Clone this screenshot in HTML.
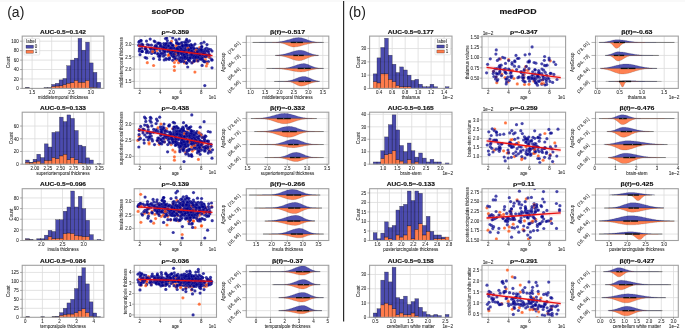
<!DOCTYPE html>
<html><head><meta charset="utf-8"><style>
html,body{margin:0;padding:0;background:#fff;width:685px;height:335px;overflow:hidden}
svg{display:block;font-family:"Liberation Sans",sans-serif;will-change:transform}
.b{r:1.6px;fill:#00008b;fill-opacity:.8;stroke:#fff;stroke-width:.25px;stroke-opacity:.3}
.c{r:1.6px;fill:#00008b;fill-opacity:.72;stroke:#fff;stroke-width:.25px;stroke-opacity:.3}
.o{r:1.6px;fill:#ff4500;fill-opacity:.75;stroke:#fff;stroke-width:.28px;stroke-opacity:.6}
</style></head><body>
<svg width="685" height="335" viewBox="0 0 685 335" font-family="Liberation Sans, sans-serif"><rect x="0" y="0" width="685" height="335" fill="#fff"/>
<line x1="0" y1="1.0" x2="685" y2="1.0" stroke="#f3f3f3" stroke-width="1"/>
<rect x="22.2" y="36.1" width="81.7" height="52.3" fill="#fff"/>
<line x1="32.1" y1="36.1" x2="32.1" y2="88.4" stroke="#dcdcdc" stroke-width="0.8"/>
<line x1="51.7" y1="36.1" x2="51.7" y2="88.4" stroke="#dcdcdc" stroke-width="0.8"/>
<line x1="71.3" y1="36.1" x2="71.3" y2="88.4" stroke="#dcdcdc" stroke-width="0.8"/>
<line x1="90.9" y1="36.1" x2="90.9" y2="88.4" stroke="#dcdcdc" stroke-width="0.8"/>
<line x1="22.2" y1="78.96" x2="103.9" y2="78.96" stroke="#dcdcdc" stroke-width="0.8"/>
<line x1="22.2" y1="69.52" x2="103.9" y2="69.52" stroke="#dcdcdc" stroke-width="0.8"/>
<line x1="22.2" y1="60.08" x2="103.9" y2="60.08" stroke="#dcdcdc" stroke-width="0.8"/>
<line x1="22.2" y1="50.64" x2="103.9" y2="50.64" stroke="#dcdcdc" stroke-width="0.8"/>
<line x1="22.2" y1="41.2" x2="103.9" y2="41.2" stroke="#dcdcdc" stroke-width="0.8"/>
<rect x="51.6" y="86.37" width="3.78" height="2.03" fill="#ff4500" fill-opacity="0.7" stroke="#000" stroke-opacity="0.55" stroke-width="0.45"/>
<rect x="51.6" y="84.44" width="3.78" height="1.94" fill="#00008b" fill-opacity="0.7" stroke="#000" stroke-opacity="0.55" stroke-width="0.45"/>
<rect x="55.38" y="86.04" width="3.78" height="2.36" fill="#ff4500" fill-opacity="0.7" stroke="#000" stroke-opacity="0.55" stroke-width="0.45"/>
<rect x="55.38" y="83.3" width="3.78" height="2.74" fill="#00008b" fill-opacity="0.7" stroke="#000" stroke-opacity="0.55" stroke-width="0.45"/>
<rect x="59.15" y="85.8" width="3.78" height="2.6" fill="#ff4500" fill-opacity="0.7" stroke="#000" stroke-opacity="0.55" stroke-width="0.45"/>
<rect x="59.15" y="79.9" width="3.78" height="5.9" fill="#00008b" fill-opacity="0.7" stroke="#000" stroke-opacity="0.55" stroke-width="0.45"/>
<rect x="62.93" y="84.62" width="3.78" height="3.78" fill="#ff4500" fill-opacity="0.7" stroke="#000" stroke-opacity="0.55" stroke-width="0.45"/>
<rect x="62.93" y="78.49" width="3.78" height="6.14" fill="#00008b" fill-opacity="0.7" stroke="#000" stroke-opacity="0.55" stroke-width="0.45"/>
<rect x="66.71" y="83.21" width="3.78" height="5.19" fill="#ff4500" fill-opacity="0.7" stroke="#000" stroke-opacity="0.55" stroke-width="0.45"/>
<rect x="66.71" y="65.74" width="3.78" height="17.46" fill="#00008b" fill-opacity="0.7" stroke="#000" stroke-opacity="0.55" stroke-width="0.45"/>
<rect x="70.48" y="82.74" width="3.78" height="5.66" fill="#ff4500" fill-opacity="0.7" stroke="#000" stroke-opacity="0.55" stroke-width="0.45"/>
<rect x="70.48" y="60.08" width="3.78" height="22.66" fill="#00008b" fill-opacity="0.7" stroke="#000" stroke-opacity="0.55" stroke-width="0.45"/>
<rect x="74.26" y="80.38" width="3.78" height="8.02" fill="#ff4500" fill-opacity="0.7" stroke="#000" stroke-opacity="0.55" stroke-width="0.45"/>
<rect x="74.26" y="58.19" width="3.78" height="22.18" fill="#00008b" fill-opacity="0.7" stroke="#000" stroke-opacity="0.55" stroke-width="0.45"/>
<rect x="78.04" y="82.26" width="3.78" height="6.14" fill="#ff4500" fill-opacity="0.7" stroke="#000" stroke-opacity="0.55" stroke-width="0.45"/>
<rect x="78.04" y="38.37" width="3.78" height="43.9" fill="#00008b" fill-opacity="0.7" stroke="#000" stroke-opacity="0.55" stroke-width="0.45"/>
<rect x="81.82" y="82.26" width="3.78" height="6.14" fill="#ff4500" fill-opacity="0.7" stroke="#000" stroke-opacity="0.55" stroke-width="0.45"/>
<rect x="81.82" y="50.17" width="3.78" height="32.1" fill="#00008b" fill-opacity="0.7" stroke="#000" stroke-opacity="0.55" stroke-width="0.45"/>
<rect x="85.59" y="80.38" width="3.78" height="8.02" fill="#ff4500" fill-opacity="0.7" stroke="#000" stroke-opacity="0.55" stroke-width="0.45"/>
<rect x="85.59" y="42.14" width="3.78" height="38.23" fill="#00008b" fill-opacity="0.7" stroke="#000" stroke-opacity="0.55" stroke-width="0.45"/>
<rect x="89.37" y="87.31" width="3.78" height="1.09" fill="#ff4500" fill-opacity="0.7" stroke="#000" stroke-opacity="0.55" stroke-width="0.45"/>
<rect x="89.37" y="62.91" width="3.78" height="24.4" fill="#00008b" fill-opacity="0.7" stroke="#000" stroke-opacity="0.55" stroke-width="0.45"/>
<rect x="93.15" y="87.46" width="3.78" height="0.94" fill="#ff4500" fill-opacity="0.7" stroke="#000" stroke-opacity="0.55" stroke-width="0.45"/>
<rect x="93.15" y="72.35" width="3.78" height="15.1" fill="#00008b" fill-opacity="0.7" stroke="#000" stroke-opacity="0.55" stroke-width="0.45"/>
<rect x="96.92" y="82.26" width="3.78" height="6.14" fill="#00008b" fill-opacity="0.7" stroke="#000" stroke-opacity="0.55" stroke-width="0.45"/>
<rect x="25.5" y="87.93" width="3.78" height="0.47" fill="#ff4500" fill-opacity="0.7" stroke="#000" stroke-opacity="0.55" stroke-width="0.45"/>
<rect x="25.5" y="87.46" width="3.78" height="0.47" fill="#00008b" fill-opacity="0.7" stroke="#000" stroke-opacity="0.55" stroke-width="0.45"/>
<rect x="44.05" y="88.07" width="3.78" height="0.33" fill="#ff4500" fill-opacity="0.7" stroke="#000" stroke-opacity="0.55" stroke-width="0.45"/>
<rect x="44.05" y="87.69" width="3.78" height="0.38" fill="#00008b" fill-opacity="0.7" stroke="#000" stroke-opacity="0.55" stroke-width="0.45"/>
<rect x="47.8" y="88.07" width="3.78" height="0.33" fill="#ff4500" fill-opacity="0.7" stroke="#000" stroke-opacity="0.55" stroke-width="0.45"/>
<rect x="47.8" y="87.69" width="3.78" height="0.38" fill="#00008b" fill-opacity="0.7" stroke="#000" stroke-opacity="0.55" stroke-width="0.45"/>
<rect x="22.2" y="36.1" width="81.7" height="52.3" fill="none" stroke="#a0a0a0" stroke-width="1.1"/>
<line x1="32.1" y1="88.4" x2="32.1" y2="90" stroke="#555" stroke-width="0.5"/>
<text x="32.1" y="94" font-size="4.45" text-anchor="middle" stroke="#262626" stroke-width="0.06" textLength="6.2" lengthAdjust="spacingAndGlyphs" fill="#262626">1.5</text>
<line x1="51.7" y1="88.4" x2="51.7" y2="90" stroke="#555" stroke-width="0.5"/>
<text x="51.7" y="94" font-size="4.45" text-anchor="middle" stroke="#262626" stroke-width="0.06" textLength="6.2" lengthAdjust="spacingAndGlyphs" fill="#262626">2.0</text>
<line x1="71.3" y1="88.4" x2="71.3" y2="90" stroke="#555" stroke-width="0.5"/>
<text x="71.3" y="94" font-size="4.45" text-anchor="middle" stroke="#262626" stroke-width="0.06" textLength="6.2" lengthAdjust="spacingAndGlyphs" fill="#262626">2.5</text>
<line x1="90.9" y1="88.4" x2="90.9" y2="90" stroke="#555" stroke-width="0.5"/>
<text x="90.9" y="94" font-size="4.45" text-anchor="middle" stroke="#262626" stroke-width="0.06" textLength="6.2" lengthAdjust="spacingAndGlyphs" fill="#262626">3.0</text>
<line x1="20" y1="88.4" x2="22.2" y2="88.4" stroke="#666" stroke-width="0.5"/>
<text x="18.8" y="90.15" font-size="4.45" text-anchor="end" stroke="#262626" stroke-width="0.06" textLength="2.48" lengthAdjust="spacingAndGlyphs" fill="#262626">0</text>
<line x1="20" y1="78.96" x2="22.2" y2="78.96" stroke="#666" stroke-width="0.5"/>
<text x="18.8" y="80.71" font-size="4.45" text-anchor="end" stroke="#262626" stroke-width="0.06" textLength="4.96" lengthAdjust="spacingAndGlyphs" fill="#262626">20</text>
<line x1="20" y1="69.52" x2="22.2" y2="69.52" stroke="#666" stroke-width="0.5"/>
<text x="18.8" y="71.27" font-size="4.45" text-anchor="end" stroke="#262626" stroke-width="0.06" textLength="4.96" lengthAdjust="spacingAndGlyphs" fill="#262626">40</text>
<line x1="20" y1="60.08" x2="22.2" y2="60.08" stroke="#666" stroke-width="0.5"/>
<text x="18.8" y="61.83" font-size="4.45" text-anchor="end" stroke="#262626" stroke-width="0.06" textLength="4.96" lengthAdjust="spacingAndGlyphs" fill="#262626">60</text>
<line x1="20" y1="50.64" x2="22.2" y2="50.64" stroke="#666" stroke-width="0.5"/>
<text x="18.8" y="52.39" font-size="4.45" text-anchor="end" stroke="#262626" stroke-width="0.06" textLength="4.96" lengthAdjust="spacingAndGlyphs" fill="#262626">80</text>
<line x1="20" y1="41.2" x2="22.2" y2="41.2" stroke="#666" stroke-width="0.5"/>
<text x="18.8" y="42.95" font-size="4.45" text-anchor="end" stroke="#262626" stroke-width="0.06" textLength="7.44" lengthAdjust="spacingAndGlyphs" fill="#262626">100</text>
<text x="63.05" y="99.2" font-size="4.45" text-anchor="middle" stroke="#262626" stroke-width="0.06" textLength="50.64" lengthAdjust="spacingAndGlyphs" fill="#262626">middletemporal thickness</text>
<text x="10.16" y="62.25" font-size="4.45" text-anchor="middle" stroke="#262626" stroke-width="0.06" textLength="11.58" lengthAdjust="spacingAndGlyphs" transform="rotate(-90 10.16 62.25)" fill="#262626">Count</text>
<text x="63.05" y="33.7" font-size="5.62" text-anchor="middle" font-weight="bold" stroke="#111" stroke-width="0.14" textLength="45.9" lengthAdjust="spacingAndGlyphs" fill="#111">AUC-0.5=0.142</text>
<rect x="22.2" y="112.2" width="81.7" height="52" fill="#fff"/>
<line x1="34.9" y1="112.2" x2="34.9" y2="164.2" stroke="#dcdcdc" stroke-width="0.8"/>
<line x1="47.78" y1="112.2" x2="47.78" y2="164.2" stroke="#dcdcdc" stroke-width="0.8"/>
<line x1="60.66" y1="112.2" x2="60.66" y2="164.2" stroke="#dcdcdc" stroke-width="0.8"/>
<line x1="73.54" y1="112.2" x2="73.54" y2="164.2" stroke="#dcdcdc" stroke-width="0.8"/>
<line x1="86.42" y1="112.2" x2="86.42" y2="164.2" stroke="#dcdcdc" stroke-width="0.8"/>
<line x1="99.3" y1="112.2" x2="99.3" y2="164.2" stroke="#dcdcdc" stroke-width="0.8"/>
<line x1="22.2" y1="151.48" x2="103.9" y2="151.48" stroke="#dcdcdc" stroke-width="0.8"/>
<line x1="22.2" y1="138.76" x2="103.9" y2="138.76" stroke="#dcdcdc" stroke-width="0.8"/>
<line x1="22.2" y1="126.04" x2="103.9" y2="126.04" stroke="#dcdcdc" stroke-width="0.8"/>
<rect x="25.5" y="162.29" width="3.77" height="1.91" fill="#ff4500" fill-opacity="0.7" stroke="#000" stroke-opacity="0.55" stroke-width="0.45"/>
<rect x="25.5" y="160" width="3.77" height="2.29" fill="#00008b" fill-opacity="0.7" stroke="#000" stroke-opacity="0.55" stroke-width="0.45"/>
<rect x="29.27" y="162.93" width="3.77" height="1.27" fill="#ff4500" fill-opacity="0.7" stroke="#000" stroke-opacity="0.55" stroke-width="0.45"/>
<rect x="29.27" y="162.29" width="3.77" height="0.64" fill="#00008b" fill-opacity="0.7" stroke="#000" stroke-opacity="0.55" stroke-width="0.45"/>
<rect x="33.04" y="161.97" width="3.77" height="2.23" fill="#ff4500" fill-opacity="0.7" stroke="#000" stroke-opacity="0.55" stroke-width="0.45"/>
<rect x="33.04" y="159.24" width="3.77" height="2.73" fill="#00008b" fill-opacity="0.7" stroke="#000" stroke-opacity="0.55" stroke-width="0.45"/>
<rect x="36.81" y="161.15" width="3.77" height="3.05" fill="#ff4500" fill-opacity="0.7" stroke="#000" stroke-opacity="0.55" stroke-width="0.45"/>
<rect x="36.81" y="154.21" width="3.77" height="6.93" fill="#00008b" fill-opacity="0.7" stroke="#000" stroke-opacity="0.55" stroke-width="0.45"/>
<rect x="40.58" y="163.25" width="3.77" height="0.95" fill="#ff4500" fill-opacity="0.7" stroke="#000" stroke-opacity="0.55" stroke-width="0.45"/>
<rect x="40.58" y="157.59" width="3.77" height="5.66" fill="#00008b" fill-opacity="0.7" stroke="#000" stroke-opacity="0.55" stroke-width="0.45"/>
<rect x="44.35" y="160.38" width="3.77" height="3.82" fill="#ff4500" fill-opacity="0.7" stroke="#000" stroke-opacity="0.55" stroke-width="0.45"/>
<rect x="44.35" y="143.85" width="3.77" height="16.54" fill="#00008b" fill-opacity="0.7" stroke="#000" stroke-opacity="0.55" stroke-width="0.45"/>
<rect x="48.12" y="160.38" width="3.77" height="3.82" fill="#ff4500" fill-opacity="0.7" stroke="#000" stroke-opacity="0.55" stroke-width="0.45"/>
<rect x="48.12" y="147.03" width="3.77" height="13.36" fill="#00008b" fill-opacity="0.7" stroke="#000" stroke-opacity="0.55" stroke-width="0.45"/>
<rect x="51.89" y="157.59" width="3.77" height="6.61" fill="#ff4500" fill-opacity="0.7" stroke="#000" stroke-opacity="0.55" stroke-width="0.45"/>
<rect x="51.89" y="132.4" width="3.77" height="25.19" fill="#00008b" fill-opacity="0.7" stroke="#000" stroke-opacity="0.55" stroke-width="0.45"/>
<rect x="55.66" y="158.73" width="3.77" height="5.47" fill="#ff4500" fill-opacity="0.7" stroke="#000" stroke-opacity="0.55" stroke-width="0.45"/>
<rect x="55.66" y="131.76" width="3.77" height="26.97" fill="#00008b" fill-opacity="0.7" stroke="#000" stroke-opacity="0.55" stroke-width="0.45"/>
<rect x="59.43" y="155.93" width="3.77" height="8.27" fill="#ff4500" fill-opacity="0.7" stroke="#000" stroke-opacity="0.55" stroke-width="0.45"/>
<rect x="59.43" y="117.14" width="3.77" height="38.8" fill="#00008b" fill-opacity="0.7" stroke="#000" stroke-opacity="0.55" stroke-width="0.45"/>
<rect x="63.2" y="154.21" width="3.77" height="9.99" fill="#ff4500" fill-opacity="0.7" stroke="#000" stroke-opacity="0.55" stroke-width="0.45"/>
<rect x="63.2" y="121.59" width="3.77" height="32.63" fill="#00008b" fill-opacity="0.7" stroke="#000" stroke-opacity="0.55" stroke-width="0.45"/>
<rect x="66.97" y="159.75" width="3.77" height="4.45" fill="#ff4500" fill-opacity="0.7" stroke="#000" stroke-opacity="0.55" stroke-width="0.45"/>
<rect x="66.97" y="114.91" width="3.77" height="44.84" fill="#00008b" fill-opacity="0.7" stroke="#000" stroke-opacity="0.55" stroke-width="0.45"/>
<rect x="70.74" y="157.59" width="3.77" height="6.61" fill="#ff4500" fill-opacity="0.7" stroke="#000" stroke-opacity="0.55" stroke-width="0.45"/>
<rect x="70.74" y="118.41" width="3.77" height="39.18" fill="#00008b" fill-opacity="0.7" stroke="#000" stroke-opacity="0.55" stroke-width="0.45"/>
<rect x="74.51" y="159.75" width="3.77" height="4.45" fill="#ff4500" fill-opacity="0.7" stroke="#000" stroke-opacity="0.55" stroke-width="0.45"/>
<rect x="74.51" y="130.49" width="3.77" height="29.26" fill="#00008b" fill-opacity="0.7" stroke="#000" stroke-opacity="0.55" stroke-width="0.45"/>
<rect x="78.28" y="162.93" width="3.77" height="1.27" fill="#ff4500" fill-opacity="0.7" stroke="#000" stroke-opacity="0.55" stroke-width="0.45"/>
<rect x="78.28" y="145.12" width="3.77" height="17.81" fill="#00008b" fill-opacity="0.7" stroke="#000" stroke-opacity="0.55" stroke-width="0.45"/>
<rect x="82.05" y="163.25" width="3.77" height="0.95" fill="#ff4500" fill-opacity="0.7" stroke="#000" stroke-opacity="0.55" stroke-width="0.45"/>
<rect x="82.05" y="146.39" width="3.77" height="16.85" fill="#00008b" fill-opacity="0.7" stroke="#000" stroke-opacity="0.55" stroke-width="0.45"/>
<rect x="85.82" y="157.84" width="3.77" height="6.36" fill="#00008b" fill-opacity="0.7" stroke="#000" stroke-opacity="0.55" stroke-width="0.45"/>
<rect x="89.59" y="160" width="3.77" height="4.2" fill="#00008b" fill-opacity="0.7" stroke="#000" stroke-opacity="0.55" stroke-width="0.45"/>
<rect x="97.13" y="163.56" width="3.77" height="0.64" fill="#00008b" fill-opacity="0.7" stroke="#000" stroke-opacity="0.55" stroke-width="0.45"/>
<rect x="22.2" y="112.2" width="81.7" height="52" fill="none" stroke="#a0a0a0" stroke-width="1.1"/>
<line x1="34.9" y1="164.2" x2="34.9" y2="165.8" stroke="#555" stroke-width="0.5"/>
<text x="34.9" y="169.8" font-size="4.45" text-anchor="middle" stroke="#262626" stroke-width="0.06" textLength="8.68" lengthAdjust="spacingAndGlyphs" fill="#262626">2.00</text>
<line x1="47.78" y1="164.2" x2="47.78" y2="165.8" stroke="#555" stroke-width="0.5"/>
<text x="47.78" y="169.8" font-size="4.45" text-anchor="middle" stroke="#262626" stroke-width="0.06" textLength="8.68" lengthAdjust="spacingAndGlyphs" fill="#262626">2.25</text>
<line x1="60.66" y1="164.2" x2="60.66" y2="165.8" stroke="#555" stroke-width="0.5"/>
<text x="60.66" y="169.8" font-size="4.45" text-anchor="middle" stroke="#262626" stroke-width="0.06" textLength="8.68" lengthAdjust="spacingAndGlyphs" fill="#262626">2.50</text>
<line x1="73.54" y1="164.2" x2="73.54" y2="165.8" stroke="#555" stroke-width="0.5"/>
<text x="73.54" y="169.8" font-size="4.45" text-anchor="middle" stroke="#262626" stroke-width="0.06" textLength="8.68" lengthAdjust="spacingAndGlyphs" fill="#262626">2.75</text>
<line x1="86.42" y1="164.2" x2="86.42" y2="165.8" stroke="#555" stroke-width="0.5"/>
<text x="86.42" y="169.8" font-size="4.45" text-anchor="middle" stroke="#262626" stroke-width="0.06" textLength="8.68" lengthAdjust="spacingAndGlyphs" fill="#262626">3.00</text>
<line x1="99.3" y1="164.2" x2="99.3" y2="165.8" stroke="#555" stroke-width="0.5"/>
<text x="99.3" y="169.8" font-size="4.45" text-anchor="middle" stroke="#262626" stroke-width="0.06" textLength="8.68" lengthAdjust="spacingAndGlyphs" fill="#262626">3.25</text>
<line x1="20" y1="164.2" x2="22.2" y2="164.2" stroke="#666" stroke-width="0.5"/>
<text x="18.8" y="165.95" font-size="4.45" text-anchor="end" stroke="#262626" stroke-width="0.06" textLength="2.48" lengthAdjust="spacingAndGlyphs" fill="#262626">0</text>
<line x1="20" y1="151.48" x2="22.2" y2="151.48" stroke="#666" stroke-width="0.5"/>
<text x="18.8" y="153.23" font-size="4.45" text-anchor="end" stroke="#262626" stroke-width="0.06" textLength="4.96" lengthAdjust="spacingAndGlyphs" fill="#262626">20</text>
<line x1="20" y1="138.76" x2="22.2" y2="138.76" stroke="#666" stroke-width="0.5"/>
<text x="18.8" y="140.51" font-size="4.45" text-anchor="end" stroke="#262626" stroke-width="0.06" textLength="4.96" lengthAdjust="spacingAndGlyphs" fill="#262626">40</text>
<line x1="20" y1="126.04" x2="22.2" y2="126.04" stroke="#666" stroke-width="0.5"/>
<text x="18.8" y="127.79" font-size="4.45" text-anchor="end" stroke="#262626" stroke-width="0.06" textLength="4.96" lengthAdjust="spacingAndGlyphs" fill="#262626">60</text>
<text x="63.05" y="175" font-size="4.45" text-anchor="middle" stroke="#262626" stroke-width="0.06" textLength="53.38" lengthAdjust="spacingAndGlyphs" fill="#262626">superiortemporal thickness</text>
<text x="12.64" y="138.2" font-size="4.45" text-anchor="middle" stroke="#262626" stroke-width="0.06" textLength="11.58" lengthAdjust="spacingAndGlyphs" transform="rotate(-90 12.64 138.2)" fill="#262626">Count</text>
<text x="63.05" y="109.8" font-size="5.62" text-anchor="middle" font-weight="bold" stroke="#111" stroke-width="0.14" textLength="45.9" lengthAdjust="spacingAndGlyphs" fill="#111">AUC-0.5=0.133</text>
<rect x="22.2" y="188.7" width="81.7" height="51.8" fill="#fff"/>
<line x1="41.3" y1="188.7" x2="41.3" y2="240.5" stroke="#dcdcdc" stroke-width="0.8"/>
<line x1="62.5" y1="188.7" x2="62.5" y2="240.5" stroke="#dcdcdc" stroke-width="0.8"/>
<line x1="83.7" y1="188.7" x2="83.7" y2="240.5" stroke="#dcdcdc" stroke-width="0.8"/>
<line x1="22.2" y1="229.86" x2="103.9" y2="229.86" stroke="#dcdcdc" stroke-width="0.8"/>
<line x1="22.2" y1="219.22" x2="103.9" y2="219.22" stroke="#dcdcdc" stroke-width="0.8"/>
<line x1="22.2" y1="208.58" x2="103.9" y2="208.58" stroke="#dcdcdc" stroke-width="0.8"/>
<line x1="22.2" y1="197.94" x2="103.9" y2="197.94" stroke="#dcdcdc" stroke-width="0.8"/>
<rect x="25.5" y="239.54" width="3.77" height="0.96" fill="#ff4500" fill-opacity="0.7" stroke="#000" stroke-opacity="0.55" stroke-width="0.45"/>
<rect x="25.5" y="238.58" width="3.77" height="0.96" fill="#00008b" fill-opacity="0.7" stroke="#000" stroke-opacity="0.55" stroke-width="0.45"/>
<rect x="29.27" y="239.97" width="3.77" height="0.53" fill="#ff4500" fill-opacity="0.7" stroke="#000" stroke-opacity="0.55" stroke-width="0.45"/>
<rect x="29.27" y="239.54" width="3.77" height="0.43" fill="#00008b" fill-opacity="0.7" stroke="#000" stroke-opacity="0.55" stroke-width="0.45"/>
<rect x="33.04" y="239.97" width="3.77" height="0.53" fill="#00008b" fill-opacity="0.7" stroke="#000" stroke-opacity="0.55" stroke-width="0.45"/>
<rect x="36.81" y="239.97" width="3.77" height="0.53" fill="#ff4500" fill-opacity="0.7" stroke="#000" stroke-opacity="0.55" stroke-width="0.45"/>
<rect x="36.81" y="238.74" width="3.77" height="1.22" fill="#00008b" fill-opacity="0.7" stroke="#000" stroke-opacity="0.55" stroke-width="0.45"/>
<rect x="40.58" y="239.97" width="3.77" height="0.53" fill="#ff4500" fill-opacity="0.7" stroke="#000" stroke-opacity="0.55" stroke-width="0.45"/>
<rect x="40.58" y="238.74" width="3.77" height="1.22" fill="#00008b" fill-opacity="0.7" stroke="#000" stroke-opacity="0.55" stroke-width="0.45"/>
<rect x="44.35" y="239.44" width="3.77" height="1.06" fill="#ff4500" fill-opacity="0.7" stroke="#000" stroke-opacity="0.55" stroke-width="0.45"/>
<rect x="44.35" y="235.18" width="3.77" height="4.26" fill="#00008b" fill-opacity="0.7" stroke="#000" stroke-opacity="0.55" stroke-width="0.45"/>
<rect x="48.12" y="236.78" width="3.77" height="3.72" fill="#ff4500" fill-opacity="0.7" stroke="#000" stroke-opacity="0.55" stroke-width="0.45"/>
<rect x="48.12" y="230.39" width="3.77" height="6.38" fill="#00008b" fill-opacity="0.7" stroke="#000" stroke-opacity="0.55" stroke-width="0.45"/>
<rect x="51.89" y="238.74" width="3.77" height="1.76" fill="#ff4500" fill-opacity="0.7" stroke="#000" stroke-opacity="0.55" stroke-width="0.45"/>
<rect x="51.89" y="231.46" width="3.77" height="7.29" fill="#00008b" fill-opacity="0.7" stroke="#000" stroke-opacity="0.55" stroke-width="0.45"/>
<rect x="55.66" y="238.37" width="3.77" height="2.13" fill="#ff4500" fill-opacity="0.7" stroke="#000" stroke-opacity="0.55" stroke-width="0.45"/>
<rect x="55.66" y="219.75" width="3.77" height="18.62" fill="#00008b" fill-opacity="0.7" stroke="#000" stroke-opacity="0.55" stroke-width="0.45"/>
<rect x="59.43" y="238.27" width="3.77" height="2.23" fill="#ff4500" fill-opacity="0.7" stroke="#000" stroke-opacity="0.55" stroke-width="0.45"/>
<rect x="59.43" y="219.75" width="3.77" height="18.51" fill="#00008b" fill-opacity="0.7" stroke="#000" stroke-opacity="0.55" stroke-width="0.45"/>
<rect x="63.2" y="233.58" width="3.77" height="6.92" fill="#ff4500" fill-opacity="0.7" stroke="#000" stroke-opacity="0.55" stroke-width="0.45"/>
<rect x="63.2" y="211.24" width="3.77" height="22.34" fill="#00008b" fill-opacity="0.7" stroke="#000" stroke-opacity="0.55" stroke-width="0.45"/>
<rect x="66.97" y="233.05" width="3.77" height="7.45" fill="#ff4500" fill-opacity="0.7" stroke="#000" stroke-opacity="0.55" stroke-width="0.45"/>
<rect x="66.97" y="206.98" width="3.77" height="26.07" fill="#00008b" fill-opacity="0.7" stroke="#000" stroke-opacity="0.55" stroke-width="0.45"/>
<rect x="70.74" y="233.42" width="3.77" height="7.08" fill="#ff4500" fill-opacity="0.7" stroke="#000" stroke-opacity="0.55" stroke-width="0.45"/>
<rect x="70.74" y="191.02" width="3.77" height="42.4" fill="#00008b" fill-opacity="0.7" stroke="#000" stroke-opacity="0.55" stroke-width="0.45"/>
<rect x="74.51" y="235.5" width="3.77" height="5" fill="#ff4500" fill-opacity="0.7" stroke="#000" stroke-opacity="0.55" stroke-width="0.45"/>
<rect x="74.51" y="206.98" width="3.77" height="28.52" fill="#00008b" fill-opacity="0.7" stroke="#000" stroke-opacity="0.55" stroke-width="0.45"/>
<rect x="78.28" y="235.98" width="3.77" height="4.52" fill="#ff4500" fill-opacity="0.7" stroke="#000" stroke-opacity="0.55" stroke-width="0.45"/>
<rect x="78.28" y="196.34" width="3.77" height="39.63" fill="#00008b" fill-opacity="0.7" stroke="#000" stroke-opacity="0.55" stroke-width="0.45"/>
<rect x="82.05" y="236.62" width="3.77" height="3.88" fill="#ff4500" fill-opacity="0.7" stroke="#000" stroke-opacity="0.55" stroke-width="0.45"/>
<rect x="82.05" y="208.58" width="3.77" height="28.04" fill="#00008b" fill-opacity="0.7" stroke="#000" stroke-opacity="0.55" stroke-width="0.45"/>
<rect x="85.82" y="236.62" width="3.77" height="3.88" fill="#ff4500" fill-opacity="0.7" stroke="#000" stroke-opacity="0.55" stroke-width="0.45"/>
<rect x="85.82" y="220.28" width="3.77" height="16.33" fill="#00008b" fill-opacity="0.7" stroke="#000" stroke-opacity="0.55" stroke-width="0.45"/>
<rect x="89.59" y="234.65" width="3.77" height="5.85" fill="#00008b" fill-opacity="0.7" stroke="#000" stroke-opacity="0.55" stroke-width="0.45"/>
<rect x="93.36" y="239.97" width="3.77" height="0.53" fill="#00008b" fill-opacity="0.7" stroke="#000" stroke-opacity="0.55" stroke-width="0.45"/>
<rect x="97.13" y="239.44" width="3.77" height="1.06" fill="#00008b" fill-opacity="0.7" stroke="#000" stroke-opacity="0.55" stroke-width="0.45"/>
<rect x="22.2" y="188.7" width="81.7" height="51.8" fill="none" stroke="#a0a0a0" stroke-width="1.1"/>
<line x1="41.3" y1="240.5" x2="41.3" y2="242.1" stroke="#555" stroke-width="0.5"/>
<text x="41.3" y="246.1" font-size="4.45" text-anchor="middle" stroke="#262626" stroke-width="0.06" textLength="6.2" lengthAdjust="spacingAndGlyphs" fill="#262626">2.0</text>
<line x1="62.5" y1="240.5" x2="62.5" y2="242.1" stroke="#555" stroke-width="0.5"/>
<text x="62.5" y="246.1" font-size="4.45" text-anchor="middle" stroke="#262626" stroke-width="0.06" textLength="6.2" lengthAdjust="spacingAndGlyphs" fill="#262626">2.5</text>
<line x1="83.7" y1="240.5" x2="83.7" y2="242.1" stroke="#555" stroke-width="0.5"/>
<text x="83.7" y="246.1" font-size="4.45" text-anchor="middle" stroke="#262626" stroke-width="0.06" textLength="6.2" lengthAdjust="spacingAndGlyphs" fill="#262626">3.0</text>
<line x1="20" y1="240.5" x2="22.2" y2="240.5" stroke="#666" stroke-width="0.5"/>
<text x="18.8" y="242.25" font-size="4.45" text-anchor="end" stroke="#262626" stroke-width="0.06" textLength="2.48" lengthAdjust="spacingAndGlyphs" fill="#262626">0</text>
<line x1="20" y1="229.86" x2="22.2" y2="229.86" stroke="#666" stroke-width="0.5"/>
<text x="18.8" y="231.61" font-size="4.45" text-anchor="end" stroke="#262626" stroke-width="0.06" textLength="4.96" lengthAdjust="spacingAndGlyphs" fill="#262626">20</text>
<line x1="20" y1="219.22" x2="22.2" y2="219.22" stroke="#666" stroke-width="0.5"/>
<text x="18.8" y="220.97" font-size="4.45" text-anchor="end" stroke="#262626" stroke-width="0.06" textLength="4.96" lengthAdjust="spacingAndGlyphs" fill="#262626">40</text>
<line x1="20" y1="208.58" x2="22.2" y2="208.58" stroke="#666" stroke-width="0.5"/>
<text x="18.8" y="210.33" font-size="4.45" text-anchor="end" stroke="#262626" stroke-width="0.06" textLength="4.96" lengthAdjust="spacingAndGlyphs" fill="#262626">60</text>
<line x1="20" y1="197.94" x2="22.2" y2="197.94" stroke="#666" stroke-width="0.5"/>
<text x="18.8" y="199.69" font-size="4.45" text-anchor="end" stroke="#262626" stroke-width="0.06" textLength="4.96" lengthAdjust="spacingAndGlyphs" fill="#262626">80</text>
<text x="63.05" y="251.3" font-size="4.45" text-anchor="middle" stroke="#262626" stroke-width="0.06" textLength="31.19" lengthAdjust="spacingAndGlyphs" fill="#262626">insula thickness</text>
<text x="12.64" y="214.6" font-size="4.45" text-anchor="middle" stroke="#262626" stroke-width="0.06" textLength="11.58" lengthAdjust="spacingAndGlyphs" transform="rotate(-90 12.64 214.6)" fill="#262626">Count</text>
<text x="63.05" y="186.3" font-size="5.62" text-anchor="middle" font-weight="bold" stroke="#111" stroke-width="0.14" textLength="45.9" lengthAdjust="spacingAndGlyphs" fill="#111">AUC-0.5=0.096</text>
<rect x="22.2" y="265.3" width="81.7" height="52" fill="#fff"/>
<line x1="25.3" y1="265.3" x2="25.3" y2="317.3" stroke="#dcdcdc" stroke-width="0.8"/>
<line x1="42.4" y1="265.3" x2="42.4" y2="317.3" stroke="#dcdcdc" stroke-width="0.8"/>
<line x1="59.5" y1="265.3" x2="59.5" y2="317.3" stroke="#dcdcdc" stroke-width="0.8"/>
<line x1="76.6" y1="265.3" x2="76.6" y2="317.3" stroke="#dcdcdc" stroke-width="0.8"/>
<line x1="93.7" y1="265.3" x2="93.7" y2="317.3" stroke="#dcdcdc" stroke-width="0.8"/>
<line x1="22.2" y1="308.32" x2="103.9" y2="308.32" stroke="#dcdcdc" stroke-width="0.8"/>
<line x1="22.2" y1="299.35" x2="103.9" y2="299.35" stroke="#dcdcdc" stroke-width="0.8"/>
<line x1="22.2" y1="290.38" x2="103.9" y2="290.38" stroke="#dcdcdc" stroke-width="0.8"/>
<line x1="22.2" y1="281.4" x2="103.9" y2="281.4" stroke="#dcdcdc" stroke-width="0.8"/>
<line x1="22.2" y1="272.43" x2="103.9" y2="272.43" stroke="#dcdcdc" stroke-width="0.8"/>
<rect x="55.8" y="316.94" width="3.72" height="0.36" fill="#ff4500" fill-opacity="0.7" stroke="#000" stroke-opacity="0.55" stroke-width="0.45"/>
<rect x="55.8" y="316.22" width="3.72" height="0.72" fill="#00008b" fill-opacity="0.7" stroke="#000" stroke-opacity="0.55" stroke-width="0.45"/>
<rect x="59.52" y="315.29" width="3.72" height="2.01" fill="#ff4500" fill-opacity="0.7" stroke="#000" stroke-opacity="0.55" stroke-width="0.45"/>
<rect x="59.52" y="312.63" width="3.72" height="2.66" fill="#00008b" fill-opacity="0.7" stroke="#000" stroke-opacity="0.55" stroke-width="0.45"/>
<rect x="63.24" y="314.64" width="3.72" height="2.66" fill="#ff4500" fill-opacity="0.7" stroke="#000" stroke-opacity="0.55" stroke-width="0.45"/>
<rect x="63.24" y="308.32" width="3.72" height="6.32" fill="#00008b" fill-opacity="0.7" stroke="#000" stroke-opacity="0.55" stroke-width="0.45"/>
<rect x="66.96" y="314.07" width="3.72" height="3.23" fill="#ff4500" fill-opacity="0.7" stroke="#000" stroke-opacity="0.55" stroke-width="0.45"/>
<rect x="66.96" y="302.94" width="3.72" height="11.13" fill="#00008b" fill-opacity="0.7" stroke="#000" stroke-opacity="0.55" stroke-width="0.45"/>
<rect x="70.68" y="314.07" width="3.72" height="3.23" fill="#ff4500" fill-opacity="0.7" stroke="#000" stroke-opacity="0.55" stroke-width="0.45"/>
<rect x="70.68" y="299.35" width="3.72" height="14.72" fill="#00008b" fill-opacity="0.7" stroke="#000" stroke-opacity="0.55" stroke-width="0.45"/>
<rect x="74.4" y="312.63" width="3.72" height="4.67" fill="#ff4500" fill-opacity="0.7" stroke="#000" stroke-opacity="0.55" stroke-width="0.45"/>
<rect x="74.4" y="288.58" width="3.72" height="24.05" fill="#00008b" fill-opacity="0.7" stroke="#000" stroke-opacity="0.55" stroke-width="0.45"/>
<rect x="78.12" y="310.84" width="3.72" height="6.46" fill="#ff4500" fill-opacity="0.7" stroke="#000" stroke-opacity="0.55" stroke-width="0.45"/>
<rect x="78.12" y="276.01" width="3.72" height="34.82" fill="#00008b" fill-opacity="0.7" stroke="#000" stroke-opacity="0.55" stroke-width="0.45"/>
<rect x="81.84" y="308.83" width="3.72" height="8.47" fill="#ff4500" fill-opacity="0.7" stroke="#000" stroke-opacity="0.55" stroke-width="0.45"/>
<rect x="81.84" y="267.76" width="3.72" height="41.07" fill="#00008b" fill-opacity="0.7" stroke="#000" stroke-opacity="0.55" stroke-width="0.45"/>
<rect x="85.56" y="312.63" width="3.72" height="4.67" fill="#ff4500" fill-opacity="0.7" stroke="#000" stroke-opacity="0.55" stroke-width="0.45"/>
<rect x="85.56" y="283.91" width="3.72" height="28.72" fill="#00008b" fill-opacity="0.7" stroke="#000" stroke-opacity="0.55" stroke-width="0.45"/>
<rect x="89.28" y="316.22" width="3.72" height="1.08" fill="#ff4500" fill-opacity="0.7" stroke="#000" stroke-opacity="0.55" stroke-width="0.45"/>
<rect x="89.28" y="301.86" width="3.72" height="14.36" fill="#00008b" fill-opacity="0.7" stroke="#000" stroke-opacity="0.55" stroke-width="0.45"/>
<rect x="93" y="316.94" width="3.72" height="0.36" fill="#ff4500" fill-opacity="0.7" stroke="#000" stroke-opacity="0.55" stroke-width="0.45"/>
<rect x="93" y="312.99" width="3.72" height="3.95" fill="#00008b" fill-opacity="0.7" stroke="#000" stroke-opacity="0.55" stroke-width="0.45"/>
<rect x="96.72" y="316.58" width="3.72" height="0.72" fill="#00008b" fill-opacity="0.7" stroke="#000" stroke-opacity="0.55" stroke-width="0.45"/>
<rect x="26" y="316.94" width="3.72" height="0.36" fill="#ff4500" fill-opacity="0.7" stroke="#000" stroke-opacity="0.55" stroke-width="0.45"/>
<rect x="26" y="316.58" width="3.72" height="0.36" fill="#00008b" fill-opacity="0.7" stroke="#000" stroke-opacity="0.55" stroke-width="0.45"/>
<rect x="40.9" y="317.05" width="3.72" height="0.25" fill="#ff4500" fill-opacity="0.7" stroke="#000" stroke-opacity="0.55" stroke-width="0.45"/>
<rect x="40.9" y="316.76" width="3.72" height="0.29" fill="#00008b" fill-opacity="0.7" stroke="#000" stroke-opacity="0.55" stroke-width="0.45"/>
<rect x="52.1" y="316.94" width="3.72" height="0.36" fill="#ff4500" fill-opacity="0.7" stroke="#000" stroke-opacity="0.55" stroke-width="0.45"/>
<rect x="52.1" y="316.58" width="3.72" height="0.36" fill="#00008b" fill-opacity="0.7" stroke="#000" stroke-opacity="0.55" stroke-width="0.45"/>
<rect x="22.2" y="265.3" width="81.7" height="52" fill="none" stroke="#a0a0a0" stroke-width="1.1"/>
<line x1="25.3" y1="317.3" x2="25.3" y2="318.9" stroke="#555" stroke-width="0.5"/>
<text x="25.3" y="322.9" font-size="4.45" text-anchor="middle" stroke="#262626" stroke-width="0.06" textLength="2.48" lengthAdjust="spacingAndGlyphs" fill="#262626">0</text>
<line x1="42.4" y1="317.3" x2="42.4" y2="318.9" stroke="#555" stroke-width="0.5"/>
<text x="42.4" y="322.9" font-size="4.45" text-anchor="middle" stroke="#262626" stroke-width="0.06" textLength="2.48" lengthAdjust="spacingAndGlyphs" fill="#262626">1</text>
<line x1="59.5" y1="317.3" x2="59.5" y2="318.9" stroke="#555" stroke-width="0.5"/>
<text x="59.5" y="322.9" font-size="4.45" text-anchor="middle" stroke="#262626" stroke-width="0.06" textLength="2.48" lengthAdjust="spacingAndGlyphs" fill="#262626">2</text>
<line x1="76.6" y1="317.3" x2="76.6" y2="318.9" stroke="#555" stroke-width="0.5"/>
<text x="76.6" y="322.9" font-size="4.45" text-anchor="middle" stroke="#262626" stroke-width="0.06" textLength="2.48" lengthAdjust="spacingAndGlyphs" fill="#262626">3</text>
<line x1="93.7" y1="317.3" x2="93.7" y2="318.9" stroke="#555" stroke-width="0.5"/>
<text x="93.7" y="322.9" font-size="4.45" text-anchor="middle" stroke="#262626" stroke-width="0.06" textLength="2.48" lengthAdjust="spacingAndGlyphs" fill="#262626">4</text>
<line x1="20" y1="317.3" x2="22.2" y2="317.3" stroke="#666" stroke-width="0.5"/>
<text x="18.8" y="319.05" font-size="4.45" text-anchor="end" stroke="#262626" stroke-width="0.06" textLength="2.48" lengthAdjust="spacingAndGlyphs" fill="#262626">0</text>
<line x1="20" y1="308.32" x2="22.2" y2="308.32" stroke="#666" stroke-width="0.5"/>
<text x="18.8" y="310.07" font-size="4.45" text-anchor="end" stroke="#262626" stroke-width="0.06" textLength="4.96" lengthAdjust="spacingAndGlyphs" fill="#262626">25</text>
<line x1="20" y1="299.35" x2="22.2" y2="299.35" stroke="#666" stroke-width="0.5"/>
<text x="18.8" y="301.1" font-size="4.45" text-anchor="end" stroke="#262626" stroke-width="0.06" textLength="4.96" lengthAdjust="spacingAndGlyphs" fill="#262626">50</text>
<line x1="20" y1="290.38" x2="22.2" y2="290.38" stroke="#666" stroke-width="0.5"/>
<text x="18.8" y="292.12" font-size="4.45" text-anchor="end" stroke="#262626" stroke-width="0.06" textLength="4.96" lengthAdjust="spacingAndGlyphs" fill="#262626">75</text>
<line x1="20" y1="281.4" x2="22.2" y2="281.4" stroke="#666" stroke-width="0.5"/>
<text x="18.8" y="283.15" font-size="4.45" text-anchor="end" stroke="#262626" stroke-width="0.06" textLength="7.44" lengthAdjust="spacingAndGlyphs" fill="#262626">100</text>
<line x1="20" y1="272.43" x2="22.2" y2="272.43" stroke="#666" stroke-width="0.5"/>
<text x="18.8" y="274.18" font-size="4.45" text-anchor="end" stroke="#262626" stroke-width="0.06" textLength="7.44" lengthAdjust="spacingAndGlyphs" fill="#262626">125</text>
<text x="63.05" y="328.1" font-size="4.45" text-anchor="middle" stroke="#262626" stroke-width="0.06" textLength="45.67" lengthAdjust="spacingAndGlyphs" fill="#262626">temporalpole thickness</text>
<text x="10.16" y="291.3" font-size="4.45" text-anchor="middle" stroke="#262626" stroke-width="0.06" textLength="11.58" lengthAdjust="spacingAndGlyphs" transform="rotate(-90 10.16 291.3)" fill="#262626">Count</text>
<text x="63.05" y="262.9" font-size="5.62" text-anchor="middle" font-weight="bold" stroke="#111" stroke-width="0.14" textLength="45.9" lengthAdjust="spacingAndGlyphs" fill="#111">AUC-0.5=0.084</text>
<rect x="369.6" y="36.1" width="82.4" height="52.3" fill="#fff"/>
<line x1="379.2" y1="36.1" x2="379.2" y2="88.4" stroke="#dcdcdc" stroke-width="0.8"/>
<line x1="392.18" y1="36.1" x2="392.18" y2="88.4" stroke="#dcdcdc" stroke-width="0.8"/>
<line x1="405.16" y1="36.1" x2="405.16" y2="88.4" stroke="#dcdcdc" stroke-width="0.8"/>
<line x1="418.14" y1="36.1" x2="418.14" y2="88.4" stroke="#dcdcdc" stroke-width="0.8"/>
<line x1="431.12" y1="36.1" x2="431.12" y2="88.4" stroke="#dcdcdc" stroke-width="0.8"/>
<line x1="444.1" y1="36.1" x2="444.1" y2="88.4" stroke="#dcdcdc" stroke-width="0.8"/>
<line x1="369.6" y1="75.18" x2="452" y2="75.18" stroke="#dcdcdc" stroke-width="0.8"/>
<line x1="369.6" y1="61.86" x2="452" y2="61.86" stroke="#dcdcdc" stroke-width="0.8"/>
<line x1="369.6" y1="48.54" x2="452" y2="48.54" stroke="#dcdcdc" stroke-width="0.8"/>
<rect x="373.2" y="81.57" width="3.79" height="6.93" fill="#ff4500" fill-opacity="0.7" stroke="#000" stroke-opacity="0.55" stroke-width="0.45"/>
<rect x="373.2" y="73.85" width="3.79" height="7.73" fill="#00008b" fill-opacity="0.7" stroke="#000" stroke-opacity="0.55" stroke-width="0.45"/>
<rect x="376.99" y="82.91" width="3.79" height="5.59" fill="#ff4500" fill-opacity="0.7" stroke="#000" stroke-opacity="0.55" stroke-width="0.45"/>
<rect x="376.99" y="57.86" width="3.79" height="25.04" fill="#00008b" fill-opacity="0.7" stroke="#000" stroke-opacity="0.55" stroke-width="0.45"/>
<rect x="380.78" y="73.85" width="3.79" height="14.65" fill="#ff4500" fill-opacity="0.7" stroke="#000" stroke-opacity="0.55" stroke-width="0.45"/>
<rect x="380.78" y="47.47" width="3.79" height="26.37" fill="#00008b" fill-opacity="0.7" stroke="#000" stroke-opacity="0.55" stroke-width="0.45"/>
<rect x="384.57" y="73.85" width="3.79" height="14.65" fill="#ff4500" fill-opacity="0.7" stroke="#000" stroke-opacity="0.55" stroke-width="0.45"/>
<rect x="384.57" y="38.28" width="3.79" height="35.56" fill="#00008b" fill-opacity="0.7" stroke="#000" stroke-opacity="0.55" stroke-width="0.45"/>
<rect x="388.36" y="79.31" width="3.79" height="9.19" fill="#ff4500" fill-opacity="0.7" stroke="#000" stroke-opacity="0.55" stroke-width="0.45"/>
<rect x="388.36" y="55.2" width="3.79" height="24.11" fill="#00008b" fill-opacity="0.7" stroke="#000" stroke-opacity="0.55" stroke-width="0.45"/>
<rect x="392.15" y="81.57" width="3.79" height="6.93" fill="#ff4500" fill-opacity="0.7" stroke="#000" stroke-opacity="0.55" stroke-width="0.45"/>
<rect x="392.15" y="64.26" width="3.79" height="17.32" fill="#00008b" fill-opacity="0.7" stroke="#000" stroke-opacity="0.55" stroke-width="0.45"/>
<rect x="395.94" y="85.57" width="3.79" height="2.93" fill="#ff4500" fill-opacity="0.7" stroke="#000" stroke-opacity="0.55" stroke-width="0.45"/>
<rect x="395.94" y="72.52" width="3.79" height="13.05" fill="#00008b" fill-opacity="0.7" stroke="#000" stroke-opacity="0.55" stroke-width="0.45"/>
<rect x="399.73" y="86.77" width="3.79" height="1.73" fill="#ff4500" fill-opacity="0.7" stroke="#000" stroke-opacity="0.55" stroke-width="0.45"/>
<rect x="399.73" y="66.92" width="3.79" height="19.85" fill="#00008b" fill-opacity="0.7" stroke="#000" stroke-opacity="0.55" stroke-width="0.45"/>
<rect x="403.52" y="86.77" width="3.79" height="1.73" fill="#ff4500" fill-opacity="0.7" stroke="#000" stroke-opacity="0.55" stroke-width="0.45"/>
<rect x="403.52" y="69.99" width="3.79" height="16.78" fill="#00008b" fill-opacity="0.7" stroke="#000" stroke-opacity="0.55" stroke-width="0.45"/>
<rect x="407.31" y="86.77" width="3.79" height="1.73" fill="#ff4500" fill-opacity="0.7" stroke="#000" stroke-opacity="0.55" stroke-width="0.45"/>
<rect x="407.31" y="75.18" width="3.79" height="11.59" fill="#00008b" fill-opacity="0.7" stroke="#000" stroke-opacity="0.55" stroke-width="0.45"/>
<rect x="411.1" y="80.37" width="3.79" height="8.13" fill="#00008b" fill-opacity="0.7" stroke="#000" stroke-opacity="0.55" stroke-width="0.45"/>
<rect x="414.89" y="79.31" width="3.79" height="9.19" fill="#00008b" fill-opacity="0.7" stroke="#000" stroke-opacity="0.55" stroke-width="0.45"/>
<rect x="418.68" y="84.24" width="3.79" height="4.26" fill="#00008b" fill-opacity="0.7" stroke="#000" stroke-opacity="0.55" stroke-width="0.45"/>
<rect x="422.47" y="86.77" width="3.79" height="1.73" fill="#00008b" fill-opacity="0.7" stroke="#000" stroke-opacity="0.55" stroke-width="0.45"/>
<rect x="426.26" y="86.77" width="3.79" height="1.73" fill="#00008b" fill-opacity="0.7" stroke="#000" stroke-opacity="0.55" stroke-width="0.45"/>
<rect x="430.05" y="84.24" width="3.79" height="4.26" fill="#00008b" fill-opacity="0.7" stroke="#000" stroke-opacity="0.55" stroke-width="0.45"/>
<rect x="433.84" y="86.77" width="3.79" height="1.73" fill="#00008b" fill-opacity="0.7" stroke="#000" stroke-opacity="0.55" stroke-width="0.45"/>
<rect x="445.21" y="86.77" width="3.79" height="1.73" fill="#00008b" fill-opacity="0.7" stroke="#000" stroke-opacity="0.55" stroke-width="0.45"/>
<rect x="369.6" y="36.1" width="82.4" height="52.3" fill="none" stroke="#a0a0a0" stroke-width="1.1"/>
<line x1="379.2" y1="88.4" x2="379.2" y2="90" stroke="#555" stroke-width="0.5"/>
<text x="379.2" y="94" font-size="4.45" text-anchor="middle" stroke="#262626" stroke-width="0.06" textLength="6.2" lengthAdjust="spacingAndGlyphs" fill="#262626">0.4</text>
<line x1="392.18" y1="88.4" x2="392.18" y2="90" stroke="#555" stroke-width="0.5"/>
<text x="392.18" y="94" font-size="4.45" text-anchor="middle" stroke="#262626" stroke-width="0.06" textLength="6.2" lengthAdjust="spacingAndGlyphs" fill="#262626">0.6</text>
<line x1="405.16" y1="88.4" x2="405.16" y2="90" stroke="#555" stroke-width="0.5"/>
<text x="405.16" y="94" font-size="4.45" text-anchor="middle" stroke="#262626" stroke-width="0.06" textLength="6.2" lengthAdjust="spacingAndGlyphs" fill="#262626">0.8</text>
<line x1="418.14" y1="88.4" x2="418.14" y2="90" stroke="#555" stroke-width="0.5"/>
<text x="418.14" y="94" font-size="4.45" text-anchor="middle" stroke="#262626" stroke-width="0.06" textLength="6.2" lengthAdjust="spacingAndGlyphs" fill="#262626">1.0</text>
<line x1="431.12" y1="88.4" x2="431.12" y2="90" stroke="#555" stroke-width="0.5"/>
<text x="431.12" y="94" font-size="4.45" text-anchor="middle" stroke="#262626" stroke-width="0.06" textLength="6.2" lengthAdjust="spacingAndGlyphs" fill="#262626">1.2</text>
<line x1="444.1" y1="88.4" x2="444.1" y2="90" stroke="#555" stroke-width="0.5"/>
<text x="444.1" y="94" font-size="4.45" text-anchor="middle" stroke="#262626" stroke-width="0.06" textLength="6.2" lengthAdjust="spacingAndGlyphs" fill="#262626">1.4</text>
<line x1="367.4" y1="88.5" x2="369.6" y2="88.5" stroke="#666" stroke-width="0.5"/>
<text x="366.2" y="90.25" font-size="4.45" text-anchor="end" stroke="#262626" stroke-width="0.06" textLength="2.48" lengthAdjust="spacingAndGlyphs" fill="#262626">0</text>
<line x1="367.4" y1="75.18" x2="369.6" y2="75.18" stroke="#666" stroke-width="0.5"/>
<text x="366.2" y="76.93" font-size="4.45" text-anchor="end" stroke="#262626" stroke-width="0.06" textLength="4.96" lengthAdjust="spacingAndGlyphs" fill="#262626">10</text>
<line x1="367.4" y1="61.86" x2="369.6" y2="61.86" stroke="#666" stroke-width="0.5"/>
<text x="366.2" y="63.61" font-size="4.45" text-anchor="end" stroke="#262626" stroke-width="0.06" textLength="4.96" lengthAdjust="spacingAndGlyphs" fill="#262626">20</text>
<line x1="367.4" y1="48.54" x2="369.6" y2="48.54" stroke="#666" stroke-width="0.5"/>
<text x="366.2" y="50.29" font-size="4.45" text-anchor="end" stroke="#262626" stroke-width="0.06" textLength="4.96" lengthAdjust="spacingAndGlyphs" fill="#262626">30</text>
<text x="410.8" y="99.2" font-size="4.45" text-anchor="middle" stroke="#262626" stroke-width="0.06" textLength="18.17" lengthAdjust="spacingAndGlyphs" fill="#262626">thalamus</text>
<text x="360.04" y="62.25" font-size="4.45" text-anchor="middle" stroke="#262626" stroke-width="0.06" textLength="11.58" lengthAdjust="spacingAndGlyphs" transform="rotate(-90 360.04 62.25)" fill="#262626">Count</text>
<text x="410.8" y="33.7" font-size="5.62" text-anchor="middle" font-weight="bold" stroke="#111" stroke-width="0.14" textLength="45.9" lengthAdjust="spacingAndGlyphs" fill="#111">AUC-0.5=0.177</text>
<text x="447.8" y="98.8" font-size="4.45" text-anchor="middle" stroke="#262626" stroke-width="0.06" textLength="10.63" lengthAdjust="spacingAndGlyphs" fill="#262626">1e−2</text>
<rect x="369.6" y="112.2" width="82.4" height="52" fill="#fff"/>
<line x1="383.2" y1="112.2" x2="383.2" y2="164.2" stroke="#dcdcdc" stroke-width="0.8"/>
<line x1="397.48" y1="112.2" x2="397.48" y2="164.2" stroke="#dcdcdc" stroke-width="0.8"/>
<line x1="411.76" y1="112.2" x2="411.76" y2="164.2" stroke="#dcdcdc" stroke-width="0.8"/>
<line x1="426.04" y1="112.2" x2="426.04" y2="164.2" stroke="#dcdcdc" stroke-width="0.8"/>
<line x1="440.32" y1="112.2" x2="440.32" y2="164.2" stroke="#dcdcdc" stroke-width="0.8"/>
<line x1="369.6" y1="151.74" x2="452" y2="151.74" stroke="#dcdcdc" stroke-width="0.8"/>
<line x1="369.6" y1="139.28" x2="452" y2="139.28" stroke="#dcdcdc" stroke-width="0.8"/>
<line x1="369.6" y1="126.82" x2="452" y2="126.82" stroke="#dcdcdc" stroke-width="0.8"/>
<line x1="369.6" y1="114.36" x2="452" y2="114.36" stroke="#dcdcdc" stroke-width="0.8"/>
<rect x="373.2" y="161.96" width="3.79" height="2.24" fill="#00008b" fill-opacity="0.7" stroke="#000" stroke-opacity="0.55" stroke-width="0.45"/>
<rect x="376.99" y="161.96" width="3.79" height="2.24" fill="#00008b" fill-opacity="0.7" stroke="#000" stroke-opacity="0.55" stroke-width="0.45"/>
<rect x="380.78" y="158.47" width="3.79" height="5.73" fill="#ff4500" fill-opacity="0.7" stroke="#000" stroke-opacity="0.55" stroke-width="0.45"/>
<rect x="380.78" y="150.74" width="3.79" height="7.73" fill="#00008b" fill-opacity="0.7" stroke="#000" stroke-opacity="0.55" stroke-width="0.45"/>
<rect x="384.57" y="154.73" width="3.79" height="9.47" fill="#ff4500" fill-opacity="0.7" stroke="#000" stroke-opacity="0.55" stroke-width="0.45"/>
<rect x="384.57" y="136.91" width="3.79" height="17.82" fill="#00008b" fill-opacity="0.7" stroke="#000" stroke-opacity="0.55" stroke-width="0.45"/>
<rect x="388.36" y="153.61" width="3.79" height="10.59" fill="#ff4500" fill-opacity="0.7" stroke="#000" stroke-opacity="0.55" stroke-width="0.45"/>
<rect x="388.36" y="124.7" width="3.79" height="28.91" fill="#00008b" fill-opacity="0.7" stroke="#000" stroke-opacity="0.55" stroke-width="0.45"/>
<rect x="392.15" y="150.74" width="3.79" height="13.46" fill="#ff4500" fill-opacity="0.7" stroke="#000" stroke-opacity="0.55" stroke-width="0.45"/>
<rect x="392.15" y="114.86" width="3.79" height="35.88" fill="#00008b" fill-opacity="0.7" stroke="#000" stroke-opacity="0.55" stroke-width="0.45"/>
<rect x="395.94" y="159.71" width="3.79" height="4.49" fill="#ff4500" fill-opacity="0.7" stroke="#000" stroke-opacity="0.55" stroke-width="0.45"/>
<rect x="395.94" y="129.94" width="3.79" height="29.78" fill="#00008b" fill-opacity="0.7" stroke="#000" stroke-opacity="0.55" stroke-width="0.45"/>
<rect x="399.73" y="161.08" width="3.79" height="3.12" fill="#ff4500" fill-opacity="0.7" stroke="#000" stroke-opacity="0.55" stroke-width="0.45"/>
<rect x="399.73" y="145.51" width="3.79" height="15.58" fill="#00008b" fill-opacity="0.7" stroke="#000" stroke-opacity="0.55" stroke-width="0.45"/>
<rect x="403.52" y="163.33" width="3.79" height="0.87" fill="#ff4500" fill-opacity="0.7" stroke="#000" stroke-opacity="0.55" stroke-width="0.45"/>
<rect x="403.52" y="151.62" width="3.79" height="11.71" fill="#00008b" fill-opacity="0.7" stroke="#000" stroke-opacity="0.55" stroke-width="0.45"/>
<rect x="407.31" y="159.71" width="3.79" height="4.49" fill="#ff4500" fill-opacity="0.7" stroke="#000" stroke-opacity="0.55" stroke-width="0.45"/>
<rect x="407.31" y="143.02" width="3.79" height="16.7" fill="#00008b" fill-opacity="0.7" stroke="#000" stroke-opacity="0.55" stroke-width="0.45"/>
<rect x="411.1" y="163.33" width="3.79" height="0.87" fill="#ff4500" fill-opacity="0.7" stroke="#000" stroke-opacity="0.55" stroke-width="0.45"/>
<rect x="411.1" y="150.74" width="3.79" height="12.58" fill="#00008b" fill-opacity="0.7" stroke="#000" stroke-opacity="0.55" stroke-width="0.45"/>
<rect x="414.89" y="161.96" width="3.79" height="2.24" fill="#ff4500" fill-opacity="0.7" stroke="#000" stroke-opacity="0.55" stroke-width="0.45"/>
<rect x="414.89" y="157.1" width="3.79" height="4.86" fill="#00008b" fill-opacity="0.7" stroke="#000" stroke-opacity="0.55" stroke-width="0.45"/>
<rect x="418.68" y="152.99" width="3.79" height="11.21" fill="#00008b" fill-opacity="0.7" stroke="#000" stroke-opacity="0.55" stroke-width="0.45"/>
<rect x="422.47" y="158.09" width="3.79" height="6.11" fill="#00008b" fill-opacity="0.7" stroke="#000" stroke-opacity="0.55" stroke-width="0.45"/>
<rect x="426.26" y="161.96" width="3.79" height="2.24" fill="#00008b" fill-opacity="0.7" stroke="#000" stroke-opacity="0.55" stroke-width="0.45"/>
<rect x="430.05" y="159.34" width="3.79" height="4.86" fill="#00008b" fill-opacity="0.7" stroke="#000" stroke-opacity="0.55" stroke-width="0.45"/>
<rect x="433.84" y="161.96" width="3.79" height="2.24" fill="#00008b" fill-opacity="0.7" stroke="#000" stroke-opacity="0.55" stroke-width="0.45"/>
<rect x="437.63" y="161.96" width="3.79" height="2.24" fill="#00008b" fill-opacity="0.7" stroke="#000" stroke-opacity="0.55" stroke-width="0.45"/>
<rect x="445.21" y="162.95" width="3.79" height="1.25" fill="#00008b" fill-opacity="0.7" stroke="#000" stroke-opacity="0.55" stroke-width="0.45"/>
<rect x="369.6" y="112.2" width="82.4" height="52" fill="none" stroke="#a0a0a0" stroke-width="1.1"/>
<line x1="383.2" y1="164.2" x2="383.2" y2="165.8" stroke="#555" stroke-width="0.5"/>
<text x="383.2" y="169.8" font-size="4.45" text-anchor="middle" stroke="#262626" stroke-width="0.06" textLength="6.2" lengthAdjust="spacingAndGlyphs" fill="#262626">1.0</text>
<line x1="397.48" y1="164.2" x2="397.48" y2="165.8" stroke="#555" stroke-width="0.5"/>
<text x="397.48" y="169.8" font-size="4.45" text-anchor="middle" stroke="#262626" stroke-width="0.06" textLength="6.2" lengthAdjust="spacingAndGlyphs" fill="#262626">1.5</text>
<line x1="411.76" y1="164.2" x2="411.76" y2="165.8" stroke="#555" stroke-width="0.5"/>
<text x="411.76" y="169.8" font-size="4.45" text-anchor="middle" stroke="#262626" stroke-width="0.06" textLength="6.2" lengthAdjust="spacingAndGlyphs" fill="#262626">2.0</text>
<line x1="426.04" y1="164.2" x2="426.04" y2="165.8" stroke="#555" stroke-width="0.5"/>
<text x="426.04" y="169.8" font-size="4.45" text-anchor="middle" stroke="#262626" stroke-width="0.06" textLength="6.2" lengthAdjust="spacingAndGlyphs" fill="#262626">2.5</text>
<line x1="440.32" y1="164.2" x2="440.32" y2="165.8" stroke="#555" stroke-width="0.5"/>
<text x="440.32" y="169.8" font-size="4.45" text-anchor="middle" stroke="#262626" stroke-width="0.06" textLength="6.2" lengthAdjust="spacingAndGlyphs" fill="#262626">3.0</text>
<line x1="367.4" y1="164.2" x2="369.6" y2="164.2" stroke="#666" stroke-width="0.5"/>
<text x="366.2" y="165.95" font-size="4.45" text-anchor="end" stroke="#262626" stroke-width="0.06" textLength="2.48" lengthAdjust="spacingAndGlyphs" fill="#262626">0</text>
<line x1="367.4" y1="151.74" x2="369.6" y2="151.74" stroke="#666" stroke-width="0.5"/>
<text x="366.2" y="153.49" font-size="4.45" text-anchor="end" stroke="#262626" stroke-width="0.06" textLength="4.96" lengthAdjust="spacingAndGlyphs" fill="#262626">10</text>
<line x1="367.4" y1="139.28" x2="369.6" y2="139.28" stroke="#666" stroke-width="0.5"/>
<text x="366.2" y="141.03" font-size="4.45" text-anchor="end" stroke="#262626" stroke-width="0.06" textLength="4.96" lengthAdjust="spacingAndGlyphs" fill="#262626">20</text>
<line x1="367.4" y1="126.82" x2="369.6" y2="126.82" stroke="#666" stroke-width="0.5"/>
<text x="366.2" y="128.57" font-size="4.45" text-anchor="end" stroke="#262626" stroke-width="0.06" textLength="4.96" lengthAdjust="spacingAndGlyphs" fill="#262626">30</text>
<line x1="367.4" y1="114.36" x2="369.6" y2="114.36" stroke="#666" stroke-width="0.5"/>
<text x="366.2" y="116.11" font-size="4.45" text-anchor="end" stroke="#262626" stroke-width="0.06" textLength="4.96" lengthAdjust="spacingAndGlyphs" fill="#262626">40</text>
<text x="410.8" y="175" font-size="4.45" text-anchor="middle" stroke="#262626" stroke-width="0.06" textLength="21.19" lengthAdjust="spacingAndGlyphs" fill="#262626">brain-stem</text>
<text x="360.04" y="138.2" font-size="4.45" text-anchor="middle" stroke="#262626" stroke-width="0.06" textLength="11.58" lengthAdjust="spacingAndGlyphs" transform="rotate(-90 360.04 138.2)" fill="#262626">Count</text>
<text x="410.8" y="109.8" font-size="5.62" text-anchor="middle" font-weight="bold" stroke="#111" stroke-width="0.14" textLength="45.9" lengthAdjust="spacingAndGlyphs" fill="#111">AUC-0.5=0.165</text>
<text x="447.8" y="174.6" font-size="4.45" text-anchor="middle" stroke="#262626" stroke-width="0.06" textLength="10.63" lengthAdjust="spacingAndGlyphs" fill="#262626">1e−2</text>
<rect x="369.6" y="188.7" width="82.4" height="51.8" fill="#fff"/>
<line x1="377.5" y1="188.7" x2="377.5" y2="240.5" stroke="#dcdcdc" stroke-width="0.8"/>
<line x1="389.45" y1="188.7" x2="389.45" y2="240.5" stroke="#dcdcdc" stroke-width="0.8"/>
<line x1="401.4" y1="188.7" x2="401.4" y2="240.5" stroke="#dcdcdc" stroke-width="0.8"/>
<line x1="413.35" y1="188.7" x2="413.35" y2="240.5" stroke="#dcdcdc" stroke-width="0.8"/>
<line x1="425.3" y1="188.7" x2="425.3" y2="240.5" stroke="#dcdcdc" stroke-width="0.8"/>
<line x1="437.25" y1="188.7" x2="437.25" y2="240.5" stroke="#dcdcdc" stroke-width="0.8"/>
<line x1="449.2" y1="188.7" x2="449.2" y2="240.5" stroke="#dcdcdc" stroke-width="0.8"/>
<line x1="369.6" y1="230.99" x2="452" y2="230.99" stroke="#dcdcdc" stroke-width="0.8"/>
<line x1="369.6" y1="221.47" x2="452" y2="221.47" stroke="#dcdcdc" stroke-width="0.8"/>
<line x1="369.6" y1="211.95" x2="452" y2="211.95" stroke="#dcdcdc" stroke-width="0.8"/>
<line x1="369.6" y1="202.44" x2="452" y2="202.44" stroke="#dcdcdc" stroke-width="0.8"/>
<line x1="369.6" y1="192.93" x2="452" y2="192.93" stroke="#dcdcdc" stroke-width="0.8"/>
<rect x="373.2" y="232.7" width="3.79" height="7.8" fill="#00008b" fill-opacity="0.7" stroke="#000" stroke-opacity="0.55" stroke-width="0.45"/>
<rect x="376.99" y="238.79" width="3.79" height="1.71" fill="#00008b" fill-opacity="0.7" stroke="#000" stroke-opacity="0.55" stroke-width="0.45"/>
<rect x="380.78" y="233.08" width="3.79" height="7.42" fill="#00008b" fill-opacity="0.7" stroke="#000" stroke-opacity="0.55" stroke-width="0.45"/>
<rect x="384.57" y="237.07" width="3.79" height="3.43" fill="#ff4500" fill-opacity="0.7" stroke="#000" stroke-opacity="0.55" stroke-width="0.45"/>
<rect x="384.57" y="221.85" width="3.79" height="15.22" fill="#00008b" fill-opacity="0.7" stroke="#000" stroke-opacity="0.55" stroke-width="0.45"/>
<rect x="388.36" y="238.79" width="3.79" height="1.71" fill="#ff4500" fill-opacity="0.7" stroke="#000" stroke-opacity="0.55" stroke-width="0.45"/>
<rect x="388.36" y="227.56" width="3.79" height="11.23" fill="#00008b" fill-opacity="0.7" stroke="#000" stroke-opacity="0.55" stroke-width="0.45"/>
<rect x="392.15" y="225.47" width="3.79" height="15.03" fill="#00008b" fill-opacity="0.7" stroke="#000" stroke-opacity="0.55" stroke-width="0.45"/>
<rect x="395.94" y="234.98" width="3.79" height="5.52" fill="#ff4500" fill-opacity="0.7" stroke="#000" stroke-opacity="0.55" stroke-width="0.45"/>
<rect x="395.94" y="210.05" width="3.79" height="24.93" fill="#00008b" fill-opacity="0.7" stroke="#000" stroke-opacity="0.55" stroke-width="0.45"/>
<rect x="399.73" y="237.07" width="3.79" height="3.43" fill="#ff4500" fill-opacity="0.7" stroke="#000" stroke-opacity="0.55" stroke-width="0.45"/>
<rect x="399.73" y="206.25" width="3.79" height="30.83" fill="#00008b" fill-opacity="0.7" stroke="#000" stroke-opacity="0.55" stroke-width="0.45"/>
<rect x="403.52" y="234.98" width="3.79" height="5.52" fill="#ff4500" fill-opacity="0.7" stroke="#000" stroke-opacity="0.55" stroke-width="0.45"/>
<rect x="403.52" y="204.34" width="3.79" height="30.64" fill="#00008b" fill-opacity="0.7" stroke="#000" stroke-opacity="0.55" stroke-width="0.45"/>
<rect x="407.31" y="225.85" width="3.79" height="14.65" fill="#ff4500" fill-opacity="0.7" stroke="#000" stroke-opacity="0.55" stroke-width="0.45"/>
<rect x="407.31" y="191.02" width="3.79" height="34.82" fill="#00008b" fill-opacity="0.7" stroke="#000" stroke-opacity="0.55" stroke-width="0.45"/>
<rect x="411.1" y="238.79" width="3.79" height="1.71" fill="#ff4500" fill-opacity="0.7" stroke="#000" stroke-opacity="0.55" stroke-width="0.45"/>
<rect x="411.1" y="200.54" width="3.79" height="38.25" fill="#00008b" fill-opacity="0.7" stroke="#000" stroke-opacity="0.55" stroke-width="0.45"/>
<rect x="414.89" y="229.27" width="3.79" height="11.23" fill="#ff4500" fill-opacity="0.7" stroke="#000" stroke-opacity="0.55" stroke-width="0.45"/>
<rect x="414.89" y="191.02" width="3.79" height="38.25" fill="#00008b" fill-opacity="0.7" stroke="#000" stroke-opacity="0.55" stroke-width="0.45"/>
<rect x="418.68" y="223.75" width="3.79" height="16.75" fill="#ff4500" fill-opacity="0.7" stroke="#000" stroke-opacity="0.55" stroke-width="0.45"/>
<rect x="418.68" y="193.31" width="3.79" height="30.45" fill="#00008b" fill-opacity="0.7" stroke="#000" stroke-opacity="0.55" stroke-width="0.45"/>
<rect x="422.47" y="234.98" width="3.79" height="5.52" fill="#ff4500" fill-opacity="0.7" stroke="#000" stroke-opacity="0.55" stroke-width="0.45"/>
<rect x="422.47" y="225.47" width="3.79" height="9.52" fill="#00008b" fill-opacity="0.7" stroke="#000" stroke-opacity="0.55" stroke-width="0.45"/>
<rect x="426.26" y="231.37" width="3.79" height="9.13" fill="#ff4500" fill-opacity="0.7" stroke="#000" stroke-opacity="0.55" stroke-width="0.45"/>
<rect x="426.26" y="216.33" width="3.79" height="15.03" fill="#00008b" fill-opacity="0.7" stroke="#000" stroke-opacity="0.55" stroke-width="0.45"/>
<rect x="430.05" y="231.37" width="3.79" height="9.13" fill="#00008b" fill-opacity="0.7" stroke="#000" stroke-opacity="0.55" stroke-width="0.45"/>
<rect x="433.84" y="238.79" width="3.79" height="1.71" fill="#ff4500" fill-opacity="0.7" stroke="#000" stroke-opacity="0.55" stroke-width="0.45"/>
<rect x="433.84" y="234.98" width="3.79" height="3.81" fill="#00008b" fill-opacity="0.7" stroke="#000" stroke-opacity="0.55" stroke-width="0.45"/>
<rect x="437.63" y="238.79" width="3.79" height="1.71" fill="#ff4500" fill-opacity="0.7" stroke="#000" stroke-opacity="0.55" stroke-width="0.45"/>
<rect x="437.63" y="234.98" width="3.79" height="3.81" fill="#00008b" fill-opacity="0.7" stroke="#000" stroke-opacity="0.55" stroke-width="0.45"/>
<rect x="441.42" y="238.79" width="3.79" height="1.71" fill="#ff4500" fill-opacity="0.7" stroke="#000" stroke-opacity="0.55" stroke-width="0.45"/>
<rect x="441.42" y="237.07" width="3.79" height="1.71" fill="#00008b" fill-opacity="0.7" stroke="#000" stroke-opacity="0.55" stroke-width="0.45"/>
<rect x="445.21" y="237.07" width="3.79" height="3.43" fill="#ff4500" fill-opacity="0.7" stroke="#000" stroke-opacity="0.55" stroke-width="0.45"/>
<rect x="369.6" y="188.7" width="82.4" height="51.8" fill="none" stroke="#a0a0a0" stroke-width="1.1"/>
<line x1="377.5" y1="240.5" x2="377.5" y2="242.1" stroke="#555" stroke-width="0.5"/>
<text x="377.5" y="246.1" font-size="4.45" text-anchor="middle" stroke="#262626" stroke-width="0.06" textLength="6.2" lengthAdjust="spacingAndGlyphs" fill="#262626">1.6</text>
<line x1="389.45" y1="240.5" x2="389.45" y2="242.1" stroke="#555" stroke-width="0.5"/>
<text x="389.45" y="246.1" font-size="4.45" text-anchor="middle" stroke="#262626" stroke-width="0.06" textLength="6.2" lengthAdjust="spacingAndGlyphs" fill="#262626">1.8</text>
<line x1="401.4" y1="240.5" x2="401.4" y2="242.1" stroke="#555" stroke-width="0.5"/>
<text x="401.4" y="246.1" font-size="4.45" text-anchor="middle" stroke="#262626" stroke-width="0.06" textLength="6.2" lengthAdjust="spacingAndGlyphs" fill="#262626">2.0</text>
<line x1="413.35" y1="240.5" x2="413.35" y2="242.1" stroke="#555" stroke-width="0.5"/>
<text x="413.35" y="246.1" font-size="4.45" text-anchor="middle" stroke="#262626" stroke-width="0.06" textLength="6.2" lengthAdjust="spacingAndGlyphs" fill="#262626">2.2</text>
<line x1="425.3" y1="240.5" x2="425.3" y2="242.1" stroke="#555" stroke-width="0.5"/>
<text x="425.3" y="246.1" font-size="4.45" text-anchor="middle" stroke="#262626" stroke-width="0.06" textLength="6.2" lengthAdjust="spacingAndGlyphs" fill="#262626">2.4</text>
<line x1="437.25" y1="240.5" x2="437.25" y2="242.1" stroke="#555" stroke-width="0.5"/>
<text x="437.25" y="246.1" font-size="4.45" text-anchor="middle" stroke="#262626" stroke-width="0.06" textLength="6.2" lengthAdjust="spacingAndGlyphs" fill="#262626">2.6</text>
<line x1="449.2" y1="240.5" x2="449.2" y2="242.1" stroke="#555" stroke-width="0.5"/>
<text x="449.2" y="246.1" font-size="4.45" text-anchor="middle" stroke="#262626" stroke-width="0.06" textLength="6.2" lengthAdjust="spacingAndGlyphs" fill="#262626">2.8</text>
<line x1="367.4" y1="240.5" x2="369.6" y2="240.5" stroke="#666" stroke-width="0.5"/>
<text x="366.2" y="242.25" font-size="4.45" text-anchor="end" stroke="#262626" stroke-width="0.06" textLength="2.48" lengthAdjust="spacingAndGlyphs" fill="#262626">0</text>
<line x1="367.4" y1="230.99" x2="369.6" y2="230.99" stroke="#666" stroke-width="0.5"/>
<text x="366.2" y="232.74" font-size="4.45" text-anchor="end" stroke="#262626" stroke-width="0.06" textLength="2.48" lengthAdjust="spacingAndGlyphs" fill="#262626">5</text>
<line x1="367.4" y1="221.47" x2="369.6" y2="221.47" stroke="#666" stroke-width="0.5"/>
<text x="366.2" y="223.22" font-size="4.45" text-anchor="end" stroke="#262626" stroke-width="0.06" textLength="4.96" lengthAdjust="spacingAndGlyphs" fill="#262626">10</text>
<line x1="367.4" y1="211.95" x2="369.6" y2="211.95" stroke="#666" stroke-width="0.5"/>
<text x="366.2" y="213.7" font-size="4.45" text-anchor="end" stroke="#262626" stroke-width="0.06" textLength="4.96" lengthAdjust="spacingAndGlyphs" fill="#262626">15</text>
<line x1="367.4" y1="202.44" x2="369.6" y2="202.44" stroke="#666" stroke-width="0.5"/>
<text x="366.2" y="204.19" font-size="4.45" text-anchor="end" stroke="#262626" stroke-width="0.06" textLength="4.96" lengthAdjust="spacingAndGlyphs" fill="#262626">20</text>
<line x1="367.4" y1="192.93" x2="369.6" y2="192.93" stroke="#666" stroke-width="0.5"/>
<text x="366.2" y="194.68" font-size="4.45" text-anchor="end" stroke="#262626" stroke-width="0.06" textLength="4.96" lengthAdjust="spacingAndGlyphs" fill="#262626">25</text>
<text x="410.8" y="251.3" font-size="4.45" text-anchor="middle" stroke="#262626" stroke-width="0.06" textLength="55.12" lengthAdjust="spacingAndGlyphs" fill="#262626">posteriorcingulate thickness</text>
<text x="360.04" y="214.6" font-size="4.45" text-anchor="middle" stroke="#262626" stroke-width="0.06" textLength="11.58" lengthAdjust="spacingAndGlyphs" transform="rotate(-90 360.04 214.6)" fill="#262626">Count</text>
<text x="410.8" y="186.3" font-size="5.62" text-anchor="middle" font-weight="bold" stroke="#111" stroke-width="0.14" textLength="48.14" lengthAdjust="spacingAndGlyphs" fill="#111">AUC-0.5=-0.133</text>
<rect x="369.6" y="265.3" width="82.4" height="52" fill="#fff"/>
<line x1="375.3" y1="265.3" x2="375.3" y2="317.3" stroke="#dcdcdc" stroke-width="0.8"/>
<line x1="392.8" y1="265.3" x2="392.8" y2="317.3" stroke="#dcdcdc" stroke-width="0.8"/>
<line x1="410.3" y1="265.3" x2="410.3" y2="317.3" stroke="#dcdcdc" stroke-width="0.8"/>
<line x1="427.8" y1="265.3" x2="427.8" y2="317.3" stroke="#dcdcdc" stroke-width="0.8"/>
<line x1="445.3" y1="265.3" x2="445.3" y2="317.3" stroke="#dcdcdc" stroke-width="0.8"/>
<line x1="369.6" y1="303.02" x2="452" y2="303.02" stroke="#dcdcdc" stroke-width="0.8"/>
<line x1="369.6" y1="288.74" x2="452" y2="288.74" stroke="#dcdcdc" stroke-width="0.8"/>
<line x1="369.6" y1="274.46" x2="452" y2="274.46" stroke="#dcdcdc" stroke-width="0.8"/>
<rect x="373.2" y="313.02" width="3.79" height="4.28" fill="#00008b" fill-opacity="0.7" stroke="#000" stroke-opacity="0.55" stroke-width="0.45"/>
<rect x="376.99" y="308.73" width="3.79" height="8.57" fill="#00008b" fill-opacity="0.7" stroke="#000" stroke-opacity="0.55" stroke-width="0.45"/>
<rect x="380.78" y="304.88" width="3.79" height="12.42" fill="#ff4500" fill-opacity="0.7" stroke="#000" stroke-opacity="0.55" stroke-width="0.45"/>
<rect x="380.78" y="280.17" width="3.79" height="24.7" fill="#00008b" fill-opacity="0.7" stroke="#000" stroke-opacity="0.55" stroke-width="0.45"/>
<rect x="384.57" y="303.16" width="3.79" height="14.14" fill="#ff4500" fill-opacity="0.7" stroke="#000" stroke-opacity="0.55" stroke-width="0.45"/>
<rect x="384.57" y="272.03" width="3.79" height="31.13" fill="#00008b" fill-opacity="0.7" stroke="#000" stroke-opacity="0.55" stroke-width="0.45"/>
<rect x="388.36" y="304.88" width="3.79" height="12.42" fill="#ff4500" fill-opacity="0.7" stroke="#000" stroke-opacity="0.55" stroke-width="0.45"/>
<rect x="388.36" y="281.89" width="3.79" height="22.99" fill="#00008b" fill-opacity="0.7" stroke="#000" stroke-opacity="0.55" stroke-width="0.45"/>
<rect x="392.15" y="308.73" width="3.79" height="8.57" fill="#ff4500" fill-opacity="0.7" stroke="#000" stroke-opacity="0.55" stroke-width="0.45"/>
<rect x="392.15" y="267.32" width="3.79" height="41.41" fill="#00008b" fill-opacity="0.7" stroke="#000" stroke-opacity="0.55" stroke-width="0.45"/>
<rect x="395.94" y="314.73" width="3.79" height="2.57" fill="#ff4500" fill-opacity="0.7" stroke="#000" stroke-opacity="0.55" stroke-width="0.45"/>
<rect x="395.94" y="297.59" width="3.79" height="17.14" fill="#00008b" fill-opacity="0.7" stroke="#000" stroke-opacity="0.55" stroke-width="0.45"/>
<rect x="399.73" y="313.02" width="3.79" height="4.28" fill="#ff4500" fill-opacity="0.7" stroke="#000" stroke-opacity="0.55" stroke-width="0.45"/>
<rect x="399.73" y="299.16" width="3.79" height="13.85" fill="#00008b" fill-opacity="0.7" stroke="#000" stroke-opacity="0.55" stroke-width="0.45"/>
<rect x="403.52" y="314.73" width="3.79" height="2.57" fill="#ff4500" fill-opacity="0.7" stroke="#000" stroke-opacity="0.55" stroke-width="0.45"/>
<rect x="403.52" y="296.17" width="3.79" height="18.56" fill="#00008b" fill-opacity="0.7" stroke="#000" stroke-opacity="0.55" stroke-width="0.45"/>
<rect x="407.31" y="314.73" width="3.79" height="2.57" fill="#ff4500" fill-opacity="0.7" stroke="#000" stroke-opacity="0.55" stroke-width="0.45"/>
<rect x="407.31" y="304.45" width="3.79" height="10.28" fill="#00008b" fill-opacity="0.7" stroke="#000" stroke-opacity="0.55" stroke-width="0.45"/>
<rect x="411.1" y="313.02" width="3.79" height="4.28" fill="#ff4500" fill-opacity="0.7" stroke="#000" stroke-opacity="0.55" stroke-width="0.45"/>
<rect x="411.1" y="301.59" width="3.79" height="11.42" fill="#00008b" fill-opacity="0.7" stroke="#000" stroke-opacity="0.55" stroke-width="0.45"/>
<rect x="414.89" y="315.87" width="3.79" height="1.43" fill="#ff4500" fill-opacity="0.7" stroke="#000" stroke-opacity="0.55" stroke-width="0.45"/>
<rect x="414.89" y="298.74" width="3.79" height="17.14" fill="#00008b" fill-opacity="0.7" stroke="#000" stroke-opacity="0.55" stroke-width="0.45"/>
<rect x="418.68" y="307.3" width="3.79" height="10" fill="#00008b" fill-opacity="0.7" stroke="#000" stroke-opacity="0.55" stroke-width="0.45"/>
<rect x="422.47" y="311.73" width="3.79" height="5.57" fill="#00008b" fill-opacity="0.7" stroke="#000" stroke-opacity="0.55" stroke-width="0.45"/>
<rect x="426.26" y="314.44" width="3.79" height="2.86" fill="#00008b" fill-opacity="0.7" stroke="#000" stroke-opacity="0.55" stroke-width="0.45"/>
<rect x="430.05" y="315.59" width="3.79" height="1.71" fill="#00008b" fill-opacity="0.7" stroke="#000" stroke-opacity="0.55" stroke-width="0.45"/>
<rect x="433.84" y="314.44" width="3.79" height="2.86" fill="#00008b" fill-opacity="0.7" stroke="#000" stroke-opacity="0.55" stroke-width="0.45"/>
<rect x="437.63" y="315.59" width="3.79" height="1.71" fill="#00008b" fill-opacity="0.7" stroke="#000" stroke-opacity="0.55" stroke-width="0.45"/>
<rect x="445.21" y="314.44" width="3.79" height="2.86" fill="#00008b" fill-opacity="0.7" stroke="#000" stroke-opacity="0.55" stroke-width="0.45"/>
<rect x="369.6" y="265.3" width="82.4" height="52" fill="none" stroke="#a0a0a0" stroke-width="1.1"/>
<line x1="375.3" y1="317.3" x2="375.3" y2="318.9" stroke="#555" stroke-width="0.5"/>
<text x="375.3" y="322.9" font-size="4.45" text-anchor="middle" stroke="#262626" stroke-width="0.06" textLength="6.2" lengthAdjust="spacingAndGlyphs" fill="#262626">0.5</text>
<line x1="392.8" y1="317.3" x2="392.8" y2="318.9" stroke="#555" stroke-width="0.5"/>
<text x="392.8" y="322.9" font-size="4.45" text-anchor="middle" stroke="#262626" stroke-width="0.06" textLength="6.2" lengthAdjust="spacingAndGlyphs" fill="#262626">1.0</text>
<line x1="410.3" y1="317.3" x2="410.3" y2="318.9" stroke="#555" stroke-width="0.5"/>
<text x="410.3" y="322.9" font-size="4.45" text-anchor="middle" stroke="#262626" stroke-width="0.06" textLength="6.2" lengthAdjust="spacingAndGlyphs" fill="#262626">1.5</text>
<line x1="427.8" y1="317.3" x2="427.8" y2="318.9" stroke="#555" stroke-width="0.5"/>
<text x="427.8" y="322.9" font-size="4.45" text-anchor="middle" stroke="#262626" stroke-width="0.06" textLength="6.2" lengthAdjust="spacingAndGlyphs" fill="#262626">2.0</text>
<line x1="445.3" y1="317.3" x2="445.3" y2="318.9" stroke="#555" stroke-width="0.5"/>
<text x="445.3" y="322.9" font-size="4.45" text-anchor="middle" stroke="#262626" stroke-width="0.06" textLength="6.2" lengthAdjust="spacingAndGlyphs" fill="#262626">2.5</text>
<line x1="367.4" y1="317.3" x2="369.6" y2="317.3" stroke="#666" stroke-width="0.5"/>
<text x="366.2" y="319.05" font-size="4.45" text-anchor="end" stroke="#262626" stroke-width="0.06" textLength="2.48" lengthAdjust="spacingAndGlyphs" fill="#262626">0</text>
<line x1="367.4" y1="303.02" x2="369.6" y2="303.02" stroke="#666" stroke-width="0.5"/>
<text x="366.2" y="304.77" font-size="4.45" text-anchor="end" stroke="#262626" stroke-width="0.06" textLength="4.96" lengthAdjust="spacingAndGlyphs" fill="#262626">10</text>
<line x1="367.4" y1="288.74" x2="369.6" y2="288.74" stroke="#666" stroke-width="0.5"/>
<text x="366.2" y="290.49" font-size="4.45" text-anchor="end" stroke="#262626" stroke-width="0.06" textLength="4.96" lengthAdjust="spacingAndGlyphs" fill="#262626">20</text>
<line x1="367.4" y1="274.46" x2="369.6" y2="274.46" stroke="#666" stroke-width="0.5"/>
<text x="366.2" y="276.21" font-size="4.45" text-anchor="end" stroke="#262626" stroke-width="0.06" textLength="4.96" lengthAdjust="spacingAndGlyphs" fill="#262626">30</text>
<text x="410.8" y="328.1" font-size="4.45" text-anchor="middle" stroke="#262626" stroke-width="0.06" textLength="48.18" lengthAdjust="spacingAndGlyphs" fill="#262626">cerebellum white matter</text>
<text x="360.04" y="291.3" font-size="4.45" text-anchor="middle" stroke="#262626" stroke-width="0.06" textLength="11.58" lengthAdjust="spacingAndGlyphs" transform="rotate(-90 360.04 291.3)" fill="#262626">Count</text>
<text x="410.8" y="262.9" font-size="5.62" text-anchor="middle" font-weight="bold" stroke="#111" stroke-width="0.14" textLength="45.9" lengthAdjust="spacingAndGlyphs" fill="#111">AUC-0.5=0.158</text>
<text x="447.8" y="327.7" font-size="4.45" text-anchor="middle" stroke="#262626" stroke-width="0.06" textLength="10.63" lengthAdjust="spacingAndGlyphs" fill="#262626">1e−2</text>
<rect x="24.1" y="38.6" width="15.6" height="16.4" rx="0.8" fill="#fff" fill-opacity="0.8" stroke="#d0d0d0" stroke-width="0.5"/>
<text x="31.1" y="43.2" font-size="4.45" text-anchor="middle" stroke="#262626" stroke-width="0.06" textLength="9.43" lengthAdjust="spacingAndGlyphs" fill="#262626">label</text>
<rect x="26" y="45.2" width="7.4" height="3.0" fill="#00008b" fill-opacity="0.7" stroke="#000" stroke-opacity="0.6" stroke-width="0.45"/>
<rect x="26" y="50.2" width="7.4" height="3.0" fill="#ff4500" fill-opacity="0.7" stroke="#000" stroke-opacity="0.6" stroke-width="0.45"/>
<text x="36.1" y="48.2" font-size="4.45" text-anchor="middle" stroke="#262626" stroke-width="0.06" textLength="2.48" lengthAdjust="spacingAndGlyphs" fill="#262626">0</text>
<text x="36.1" y="53.2" font-size="4.45" text-anchor="middle" stroke="#262626" stroke-width="0.06" textLength="2.48" lengthAdjust="spacingAndGlyphs" fill="#262626">1</text>
<rect x="435" y="38.4" width="15.6" height="16.4" rx="0.8" fill="#fff" fill-opacity="0.8" stroke="#d0d0d0" stroke-width="0.5"/>
<text x="442" y="43" font-size="4.45" text-anchor="middle" stroke="#262626" stroke-width="0.06" textLength="9.43" lengthAdjust="spacingAndGlyphs" fill="#262626">label</text>
<rect x="436.9" y="45" width="7.4" height="3.0" fill="#00008b" fill-opacity="0.7" stroke="#000" stroke-opacity="0.6" stroke-width="0.45"/>
<rect x="436.9" y="50" width="7.4" height="3.0" fill="#ff4500" fill-opacity="0.7" stroke="#000" stroke-opacity="0.6" stroke-width="0.45"/>
<text x="447" y="48" font-size="4.45" text-anchor="middle" stroke="#262626" stroke-width="0.06" textLength="2.48" lengthAdjust="spacingAndGlyphs" fill="#262626">0</text>
<text x="447" y="53" font-size="4.45" text-anchor="middle" stroke="#262626" stroke-width="0.06" textLength="2.48" lengthAdjust="spacingAndGlyphs" fill="#262626">1</text>
<rect x="134.2" y="36.1" width="82.3" height="52.3" fill="#fff"/>
<line x1="139.8" y1="36.1" x2="139.8" y2="88.4" stroke="#dcdcdc" stroke-width="0.8"/>
<line x1="160.2" y1="36.1" x2="160.2" y2="88.4" stroke="#dcdcdc" stroke-width="0.8"/>
<line x1="180.8" y1="36.1" x2="180.8" y2="88.4" stroke="#dcdcdc" stroke-width="0.8"/>
<line x1="201.3" y1="36.1" x2="201.3" y2="88.4" stroke="#dcdcdc" stroke-width="0.8"/>
<line x1="134.2" y1="44.5" x2="216.5" y2="44.5" stroke="#dcdcdc" stroke-width="0.8"/>
<line x1="134.2" y1="56.8" x2="216.5" y2="56.8" stroke="#dcdcdc" stroke-width="0.8"/>
<line x1="134.2" y1="69.1" x2="216.5" y2="69.1" stroke="#dcdcdc" stroke-width="0.8"/>
<line x1="134.2" y1="81.4" x2="216.5" y2="81.4" stroke="#dcdcdc" stroke-width="0.8"/>
<clipPath id="cp0"><rect x="134.2" y="36.1" width="82.3" height="52.3"/></clipPath>
<g clip-path="url(#cp0)">
<circle cx="179.8" cy="51.3" class="o"/>
<circle cx="171.5" cy="41.4" class="o"/>
<circle cx="199.6" cy="47.7" class="o"/>
<circle cx="175.8" cy="59.8" class="o"/>
<circle cx="203.3" cy="53.5" class="o"/>
<circle cx="178.1" cy="54.5" class="o"/>
<circle cx="147.3" cy="62.7" class="o"/>
<circle cx="178.6" cy="62.7" class="o"/>
<circle cx="169.2" cy="53.8" class="o"/>
<circle cx="189.0" cy="49.2" class="o"/>
<circle cx="206.4" cy="66.0" class="o"/>
<circle cx="175.8" cy="45.9" class="o"/>
<circle cx="171.9" cy="46.6" class="o"/>
<circle cx="176.4" cy="47.4" class="o"/>
<circle cx="182.0" cy="59.0" class="o"/>
<circle cx="181.7" cy="44.6" class="o"/>
<circle cx="188.2" cy="58.6" class="o"/>
<circle cx="196.1" cy="49.1" class="o"/>
<circle cx="180.6" cy="53.2" class="o"/>
<circle cx="186.5" cy="52.9" class="o"/>
<circle cx="182.7" cy="56.1" class="o"/>
<circle cx="176.9" cy="44.9" class="o"/>
<circle cx="183.9" cy="46.1" class="o"/>
<circle cx="201.7" cy="56.5" class="o"/>
<circle cx="196.2" cy="60.0" class="o"/>
<circle cx="156.9" cy="50.6" class="o"/>
<circle cx="181.0" cy="49.3" class="o"/>
<circle cx="172.0" cy="54.4" class="o"/>
<circle cx="193.5" cy="48.9" class="o"/>
<circle cx="178.9" cy="52.1" class="o"/>
<circle cx="205.3" cy="59.5" class="o"/>
<circle cx="192.5" cy="52.2" class="o"/>
<circle cx="184.8" cy="55.9" class="o"/>
<circle cx="163.4" cy="52.3" class="o"/>
<circle cx="184.5" cy="62.9" class="o"/>
<circle cx="168.3" cy="55.5" class="o"/>
<circle cx="184.3" cy="54.7" class="o"/>
<circle cx="205.4" cy="61.3" class="o"/>
<circle cx="196.8" cy="56.3" class="o"/>
<circle cx="175.3" cy="53.6" class="o"/>
<circle cx="205.0" cy="57.0" class="o"/>
<circle cx="182.7" cy="50.6" class="o"/>
<circle cx="174.6" cy="58.6" class="o"/>
<circle cx="176.7" cy="60.0" class="o"/>
<circle cx="192.7" cy="62.3" class="o"/>
<circle cx="197.4" cy="60.8" class="o"/>
<circle cx="185.2" cy="61.6" class="o"/>
<circle cx="168.7" cy="54.9" class="o"/>
<circle cx="207.9" cy="51.1" class="o"/>
<circle cx="185.7" cy="58.0" class="o"/>
<circle cx="195.0" cy="53.1" class="o"/>
<circle cx="176.1" cy="49.0" class="o"/>
<circle cx="195.8" cy="60.7" class="o"/>
<circle cx="201.2" cy="43.3" class="b"/>
<circle cx="200.9" cy="52.9" class="b"/>
<circle cx="156.9" cy="48.4" class="b"/>
<circle cx="165.0" cy="48.3" class="b"/>
<circle cx="146.7" cy="58.2" class="b"/>
<circle cx="181.8" cy="57.6" class="b"/>
<circle cx="182.0" cy="57.8" class="b"/>
<circle cx="178.8" cy="53.5" class="b"/>
<circle cx="142.2" cy="45.1" class="b"/>
<circle cx="179.9" cy="51.6" class="b"/>
<circle cx="208.0" cy="50.9" class="b"/>
<circle cx="168.5" cy="45.6" class="b"/>
<circle cx="145.5" cy="47.5" class="b"/>
<circle cx="191.0" cy="44.6" class="b"/>
<circle cx="188.4" cy="46.4" class="b"/>
<circle cx="176.5" cy="51.7" class="b"/>
<circle cx="178.0" cy="51.0" class="b"/>
<circle cx="145.1" cy="49.0" class="b"/>
<circle cx="164.7" cy="45.0" class="b"/>
<circle cx="197.8" cy="54.1" class="b"/>
<circle cx="210.7" cy="49.6" class="b"/>
<circle cx="196.2" cy="57.1" class="b"/>
<circle cx="184.2" cy="51.6" class="b"/>
<circle cx="197.8" cy="54.3" class="b"/>
<circle cx="162.2" cy="47.6" class="b"/>
<circle cx="183.7" cy="61.7" class="b"/>
<circle cx="188.1" cy="50.2" class="b"/>
<circle cx="186.7" cy="39.4" class="b"/>
<circle cx="187.3" cy="45.1" class="b"/>
<circle cx="194.4" cy="48.5" class="b"/>
<circle cx="193.2" cy="52.5" class="o"/>
<circle cx="206.5" cy="56.7" class="b"/>
<circle cx="202.5" cy="54.3" class="b"/>
<circle cx="157.8" cy="53.6" class="b"/>
<circle cx="204.7" cy="61.6" class="b"/>
<circle cx="185.9" cy="57.4" class="b"/>
<circle cx="190.1" cy="55.7" class="b"/>
<circle cx="193.5" cy="54.7" class="b"/>
<circle cx="201.8" cy="55.2" class="b"/>
<circle cx="175.7" cy="56.3" class="b"/>
<circle cx="183.4" cy="57.0" class="b"/>
<circle cx="148.5" cy="52.6" class="b"/>
<circle cx="152.8" cy="50.7" class="o"/>
<circle cx="190.3" cy="51.8" class="b"/>
<circle cx="193.5" cy="45.6" class="b"/>
<circle cx="192.1" cy="50.8" class="b"/>
<circle cx="194.1" cy="58.4" class="b"/>
<circle cx="155.6" cy="45.9" class="b"/>
<circle cx="201.5" cy="46.9" class="b"/>
<circle cx="192.2" cy="48.0" class="b"/>
<circle cx="203.4" cy="55.9" class="b"/>
<circle cx="189.5" cy="40.8" class="b"/>
<circle cx="190.4" cy="50.2" class="b"/>
<circle cx="175.2" cy="49.3" class="o"/>
<circle cx="206.1" cy="55.4" class="b"/>
<circle cx="174.8" cy="52.9" class="b"/>
<circle cx="200.0" cy="58.6" class="b"/>
<circle cx="181.0" cy="43.2" class="b"/>
<circle cx="171.4" cy="46.6" class="b"/>
<circle cx="179.2" cy="43.8" class="b"/>
<circle cx="164.1" cy="50.7" class="b"/>
<circle cx="160.6" cy="54.4" class="b"/>
<circle cx="184.2" cy="53.7" class="b"/>
<circle cx="195.7" cy="55.3" class="b"/>
<circle cx="154.5" cy="52.0" class="b"/>
<circle cx="208.5" cy="52.0" class="b"/>
<circle cx="155.0" cy="52.8" class="b"/>
<circle cx="195.0" cy="44.1" class="b"/>
<circle cx="175.8" cy="39.8" class="b"/>
<circle cx="182.8" cy="57.6" class="b"/>
<circle cx="159.9" cy="56.6" class="b"/>
<circle cx="180.3" cy="59.8" class="b"/>
<circle cx="191.2" cy="47.5" class="b"/>
<circle cx="174.8" cy="58.1" class="b"/>
<circle cx="191.0" cy="45.8" class="b"/>
<circle cx="139.3" cy="51.1" class="b"/>
<circle cx="153.8" cy="52.4" class="b"/>
<circle cx="182.5" cy="57.3" class="b"/>
<circle cx="199.8" cy="52.5" class="b"/>
<circle cx="190.4" cy="54.4" class="b"/>
<circle cx="157.9" cy="43.2" class="b"/>
<circle cx="163.4" cy="52.7" class="b"/>
<circle cx="170.0" cy="50.4" class="b"/>
<circle cx="138.7" cy="45.2" class="b"/>
<circle cx="176.0" cy="49.9" class="b"/>
<circle cx="192.1" cy="52.8" class="b"/>
<circle cx="194.7" cy="60.0" class="b"/>
<circle cx="187.5" cy="49.0" class="b"/>
<circle cx="192.9" cy="57.0" class="b"/>
<circle cx="183.1" cy="51.7" class="b"/>
<circle cx="141.8" cy="48.2" class="b"/>
<circle cx="191.7" cy="58.0" class="b"/>
<circle cx="139.5" cy="49.0" class="b"/>
<circle cx="169.3" cy="59.3" class="b"/>
<circle cx="186.3" cy="56.1" class="b"/>
<circle cx="190.9" cy="55.1" class="b"/>
<circle cx="176.8" cy="41.7" class="b"/>
<circle cx="181.4" cy="54.0" class="b"/>
<circle cx="172.2" cy="54.9" class="b"/>
<circle cx="179.1" cy="39.0" class="b"/>
<circle cx="184.6" cy="42.1" class="b"/>
<circle cx="191.3" cy="48.6" class="b"/>
<circle cx="175.2" cy="49.4" class="b"/>
<circle cx="198.1" cy="50.3" class="b"/>
<circle cx="170.1" cy="43.0" class="b"/>
<circle cx="179.5" cy="50.6" class="b"/>
<circle cx="147.3" cy="44.5" class="b"/>
<circle cx="178.6" cy="52.5" class="b"/>
<circle cx="206.5" cy="62.0" class="b"/>
<circle cx="139.0" cy="42.3" class="b"/>
<circle cx="199.9" cy="49.2" class="b"/>
<circle cx="196.4" cy="59.6" class="b"/>
<circle cx="164.7" cy="52.0" class="b"/>
<circle cx="199.8" cy="51.5" class="b"/>
<circle cx="168.7" cy="45.9" class="b"/>
<circle cx="162.6" cy="54.0" class="b"/>
<circle cx="168.1" cy="50.4" class="b"/>
<circle cx="186.2" cy="56.5" class="b"/>
<circle cx="194.8" cy="53.1" class="b"/>
<circle cx="172.7" cy="60.3" class="b"/>
<circle cx="183.2" cy="49.8" class="b"/>
<circle cx="180.9" cy="50.0" class="b"/>
<circle cx="186.5" cy="40.6" class="b"/>
<circle cx="178.1" cy="50.5" class="b"/>
<circle cx="196.5" cy="55.3" class="b"/>
<circle cx="207.0" cy="44.6" class="b"/>
<circle cx="172.8" cy="45.2" class="b"/>
<circle cx="197.3" cy="59.8" class="o"/>
<circle cx="166.0" cy="44.4" class="b"/>
<circle cx="194.6" cy="50.0" class="b"/>
<circle cx="175.6" cy="53.5" class="b"/>
<circle cx="178.0" cy="52.2" class="b"/>
<circle cx="205.0" cy="56.5" class="b"/>
<circle cx="178.2" cy="58.6" class="b"/>
<circle cx="159.5" cy="59.4" class="b"/>
<circle cx="185.7" cy="45.9" class="b"/>
<circle cx="170.4" cy="51.4" class="b"/>
<circle cx="178.2" cy="53.2" class="b"/>
<circle cx="186.9" cy="54.2" class="b"/>
<circle cx="184.3" cy="53.7" class="b"/>
<circle cx="145.7" cy="48.6" class="b"/>
<circle cx="162.2" cy="48.0" class="b"/>
<circle cx="150.9" cy="51.4" class="b"/>
<circle cx="176.7" cy="54.6" class="b"/>
<circle cx="182.8" cy="50.1" class="b"/>
<circle cx="186.7" cy="62.6" class="b"/>
<circle cx="173.3" cy="53.9" class="b"/>
<circle cx="194.1" cy="54.5" class="b"/>
<circle cx="165.1" cy="54.7" class="b"/>
<circle cx="198.0" cy="61.0" class="b"/>
<circle cx="170.1" cy="35.7" class="b"/>
<circle cx="190.3" cy="50.7" class="b"/>
<circle cx="183.6" cy="45.7" class="b"/>
<circle cx="174.3" cy="56.4" class="o"/>
<circle cx="200.6" cy="57.2" class="b"/>
<circle cx="190.7" cy="50.7" class="b"/>
<circle cx="184.3" cy="58.7" class="b"/>
<circle cx="174.5" cy="48.7" class="b"/>
<circle cx="177.2" cy="48.0" class="b"/>
<circle cx="153.5" cy="58.6" class="b"/>
<circle cx="197.9" cy="57.3" class="b"/>
<circle cx="178.6" cy="47.6" class="b"/>
<circle cx="151.7" cy="53.5" class="b"/>
<circle cx="201.4" cy="49.4" class="b"/>
<circle cx="160.0" cy="43.9" class="b"/>
<circle cx="142.1" cy="51.4" class="b"/>
<circle cx="201.0" cy="57.4" class="b"/>
<circle cx="197.6" cy="51.3" class="b"/>
<circle cx="170.7" cy="53.0" class="b"/>
<circle cx="199.1" cy="50.6" class="b"/>
<circle cx="176.2" cy="50.4" class="b"/>
<circle cx="150.3" cy="48.3" class="b"/>
<circle cx="211.9" cy="60.2" class="b"/>
<circle cx="180.2" cy="48.1" class="b"/>
<circle cx="139.9" cy="49.0" class="b"/>
<circle cx="190.5" cy="55.9" class="b"/>
<circle cx="208.8" cy="55.0" class="b"/>
<circle cx="204.1" cy="61.7" class="b"/>
<circle cx="189.0" cy="58.2" class="b"/>
<circle cx="182.8" cy="50.7" class="b"/>
<circle cx="199.3" cy="57.8" class="b"/>
<circle cx="177.4" cy="50.8" class="b"/>
<circle cx="157.9" cy="54.2" class="b"/>
<circle cx="192.3" cy="56.9" class="b"/>
<circle cx="191.1" cy="47.1" class="b"/>
<circle cx="208.4" cy="61.5" class="b"/>
<circle cx="158.1" cy="43.6" class="b"/>
<circle cx="176.5" cy="43.1" class="b"/>
<circle cx="167.5" cy="51.4" class="b"/>
<circle cx="187.6" cy="46.8" class="b"/>
<circle cx="189.7" cy="47.6" class="b"/>
<circle cx="188.2" cy="48.6" class="o"/>
<circle cx="189.7" cy="54.0" class="b"/>
<circle cx="182.4" cy="53.8" class="b"/>
<circle cx="190.6" cy="53.0" class="b"/>
<circle cx="141.8" cy="51.5" class="b"/>
<circle cx="146.3" cy="52.6" class="b"/>
<circle cx="158.7" cy="56.3" class="b"/>
<circle cx="191.5" cy="46.5" class="b"/>
<circle cx="172.2" cy="45.0" class="b"/>
<circle cx="206.8" cy="50.9" class="b"/>
<circle cx="177.7" cy="52.3" class="b"/>
<circle cx="194.8" cy="52.7" class="b"/>
<circle cx="183.5" cy="48.0" class="b"/>
<circle cx="182.3" cy="57.9" class="b"/>
<circle cx="200.9" cy="50.5" class="b"/>
<circle cx="192.9" cy="53.9" class="b"/>
<circle cx="164.7" cy="51.4" class="b"/>
<circle cx="193.1" cy="47.9" class="b"/>
<circle cx="160.3" cy="43.5" class="b"/>
<circle cx="140.8" cy="40.5" class="b"/>
<circle cx="196.6" cy="55.8" class="b"/>
<circle cx="182.9" cy="46.4" class="b"/>
<circle cx="156.0" cy="45.6" class="b"/>
<circle cx="171.8" cy="55.5" class="b"/>
<circle cx="171.1" cy="49.1" class="b"/>
<circle cx="173.2" cy="56.8" class="b"/>
<circle cx="150.2" cy="39.1" class="b"/>
<circle cx="146.7" cy="51.7" class="b"/>
<circle cx="180.2" cy="57.6" class="b"/>
<circle cx="167.4" cy="43.2" class="b"/>
<circle cx="205.0" cy="53.0" class="b"/>
<circle cx="175.1" cy="55.3" class="b"/>
<circle cx="190.8" cy="56.9" class="b"/>
<circle cx="180.4" cy="48.3" class="b"/>
<circle cx="175.7" cy="52.6" class="b"/>
<circle cx="154.7" cy="49.1" class="b"/>
<circle cx="170.1" cy="51.7" class="b"/>
<circle cx="185.8" cy="46.1" class="b"/>
<circle cx="189.7" cy="58.9" class="b"/>
<circle cx="160.5" cy="45.3" class="b"/>
<circle cx="187.4" cy="55.8" class="b"/>
<circle cx="165.4" cy="47.2" class="b"/>
<circle cx="202.9" cy="52.8" class="b"/>
<circle cx="194.2" cy="55.3" class="b"/>
<circle cx="196.3" cy="50.9" class="b"/>
<circle cx="182.8" cy="50.6" class="b"/>
<circle cx="189.7" cy="48.8" class="b"/>
<circle cx="192.3" cy="51.0" class="b"/>
<circle cx="189.4" cy="58.4" class="b"/>
<circle cx="190.4" cy="51.1" class="o"/>
<circle cx="189.7" cy="50.7" class="b"/>
<circle cx="169.5" cy="49.9" class="o"/>
<circle cx="197.8" cy="58.0" class="b"/>
<circle cx="189.7" cy="52.4" class="o"/>
<circle cx="155.1" cy="41.8" class="b"/>
<circle cx="166.2" cy="59.6" class="b"/>
<circle cx="195.8" cy="57.8" class="b"/>
<circle cx="202.1" cy="51.5" class="b"/>
<circle cx="194.0" cy="57.4" class="b"/>
<circle cx="199.0" cy="53.5" class="b"/>
<circle cx="195.6" cy="55.5" class="b"/>
<circle cx="178.6" cy="55.4" class="b"/>
<circle cx="185.3" cy="48.8" class="b"/>
<circle cx="182.5" cy="45.3" class="b"/>
<circle cx="173.3" cy="51.3" class="b"/>
<circle cx="172.2" cy="45.8" class="b"/>
<circle cx="158.9" cy="43.0" class="b"/>
<circle cx="177.3" cy="43.3" class="b"/>
<circle cx="191.3" cy="50.0" class="b"/>
<circle cx="167.3" cy="40.6" class="b"/>
<circle cx="181.5" cy="53.2" class="b"/>
<circle cx="163.2" cy="46.4" class="b"/>
<circle cx="189.6" cy="48.7" class="b"/>
<circle cx="155.9" cy="48.2" class="b"/>
<circle cx="164.4" cy="44.8" class="b"/>
<circle cx="177.6" cy="49.9" class="b"/>
<circle cx="154.4" cy="48.9" class="b"/>
<circle cx="191.1" cy="55.7" class="b"/>
<circle cx="182.2" cy="60.6" class="b"/>
<circle cx="182.4" cy="55.1" class="b"/>
<circle cx="201.6" cy="57.9" class="b"/>
<circle cx="188.5" cy="59.9" class="b"/>
<circle cx="195.0" cy="53.1" class="b"/>
<circle cx="190.5" cy="48.3" class="b"/>
<circle cx="185.6" cy="58.4" class="b"/>
<circle cx="198.7" cy="53.9" class="b"/>
<circle cx="166.0" cy="58.5" class="b"/>
<circle cx="163.7" cy="43.6" class="b"/>
<circle cx="193.6" cy="55.9" class="b"/>
<circle cx="188.0" cy="58.5" class="b"/>
<circle cx="191.4" cy="45.2" class="b"/>
<circle cx="183.9" cy="56.1" class="b"/>
<circle cx="186.2" cy="51.0" class="b"/>
<circle cx="194.1" cy="61.2" class="b"/>
<circle cx="178.2" cy="53.6" class="b"/>
<circle cx="140.5" cy="45.6" class="b"/>
<circle cx="181.5" cy="47.6" class="b"/>
<circle cx="194.9" cy="51.5" class="b"/>
<circle cx="175.6" cy="52.9" class="b"/>
<circle cx="159.7" cy="55.7" class="b"/>
<circle cx="184.4" cy="52.9" class="b"/>
<circle cx="186.4" cy="52.1" class="b"/>
<circle cx="189.1" cy="48.9" class="b"/>
<circle cx="174.8" cy="50.6" class="b"/>
<circle cx="187.7" cy="49.8" class="b"/>
<circle cx="192.0" cy="55.0" class="b"/>
<circle cx="175.3" cy="58.4" class="b"/>
<circle cx="180.9" cy="61.7" class="b"/>
<circle cx="182.1" cy="46.8" class="b"/>
<circle cx="186.2" cy="50.1" class="o"/>
<circle cx="188.7" cy="50.7" class="b"/>
<circle cx="188.9" cy="59.8" class="b"/>
<circle cx="174.1" cy="51.3" class="o"/>
<circle cx="202.5" cy="58.1" class="b"/>
<circle cx="186.2" cy="48.2" class="b"/>
<circle cx="203.0" cy="60.4" class="b"/>
<circle cx="196.1" cy="53.4" class="b"/>
<circle cx="185.4" cy="45.9" class="b"/>
<circle cx="196.4" cy="52.2" class="b"/>
<circle cx="190.1" cy="58.0" class="b"/>
<circle cx="189.0" cy="46.0" class="b"/>
<circle cx="169.0" cy="48.7" class="b"/>
<circle cx="183.3" cy="52.1" class="b"/>
<circle cx="154.2" cy="41.1" class="b"/>
<circle cx="148.8" cy="45.1" class="b"/>
<circle cx="182.8" cy="54.2" class="b"/>
<circle cx="172.8" cy="45.5" class="b"/>
<circle cx="211.8" cy="59.5" class="b"/>
<circle cx="184.3" cy="53.8" class="b"/>
<circle cx="175.4" cy="54.0" class="o"/>
<circle cx="139.3" cy="41.3" class="b"/>
<circle cx="196.2" cy="53.0" class="b"/>
<circle cx="205.6" cy="51.0" class="b"/>
<circle cx="145.2" cy="57.5" class="b"/>
<circle cx="154.0" cy="49.9" class="b"/>
<circle cx="187.7" cy="67.0" class="b"/>
<circle cx="163.5" cy="56.2" class="b"/>
<circle cx="186.5" cy="53.4" class="b"/>
<circle cx="177.6" cy="50.8" class="b"/>
<circle cx="204.6" cy="53.3" class="b"/>
<circle cx="168.5" cy="58.8" class="b"/>
<circle cx="182.2" cy="42.5" class="b"/>
<circle cx="152.7" cy="51.6" class="o"/>
<circle cx="164.2" cy="59.9" class="b"/>
<circle cx="193.9" cy="61.1" class="b"/>
<circle cx="165.5" cy="38.5" class="b"/>
<circle cx="197.9" cy="57.3" class="b"/>
<circle cx="189.7" cy="61.2" class="b"/>
<circle cx="155.0" cy="46.3" class="b"/>
<circle cx="141.1" cy="40.7" class="b"/>
<circle cx="152.1" cy="48.6" class="b"/>
<circle cx="184.8" cy="55.6" class="b"/>
<circle cx="183.5" cy="52.7" class="b"/>
<circle cx="178.6" cy="47.3" class="b"/>
<circle cx="186.6" cy="63.3" class="b"/>
<circle cx="198.2" cy="56.4" class="b"/>
<circle cx="181.3" cy="53.3" class="b"/>
<circle cx="179.7" cy="51.6" class="b"/>
<circle cx="165.5" cy="45.5" class="b"/>
<circle cx="164.3" cy="48.3" class="b"/>
<circle cx="189.2" cy="45.3" class="b"/>
<circle cx="140.0" cy="54.7" class="b"/>
<circle cx="184.2" cy="55.3" class="b"/>
<circle cx="178.4" cy="51.5" class="b"/>
<circle cx="189.1" cy="49.7" class="b"/>
<circle cx="187.6" cy="42.2" class="b"/>
<circle cx="207.2" cy="63.7" class="o"/>
<circle cx="180.3" cy="47.0" class="b"/>
<circle cx="209.9" cy="57.7" class="b"/>
<circle cx="169.6" cy="57.8" class="b"/>
<circle cx="196.7" cy="49.2" class="b"/>
<circle cx="184.8" cy="55.4" class="b"/>
<circle cx="197.6" cy="53.1" class="b"/>
<circle cx="208.0" cy="55.3" class="b"/>
<circle cx="156.7" cy="46.5" class="b"/>
<circle cx="189.3" cy="46.9" class="b"/>
<circle cx="166.8" cy="38.1" class="b"/>
<circle cx="203.7" cy="51.1" class="b"/>
<circle cx="185.5" cy="42.8" class="b"/>
<circle cx="169.3" cy="50.8" class="b"/>
<circle cx="190.7" cy="48.1" class="b"/>
<circle cx="171.8" cy="51.7" class="b"/>
<circle cx="147.2" cy="50.5" class="b"/>
<circle cx="197.1" cy="55.6" class="b"/>
<circle cx="142.2" cy="51.4" class="b"/>
<circle cx="179.6" cy="60.5" class="b"/>
<circle cx="174.0" cy="54.2" class="b"/>
<circle cx="174.8" cy="51.5" class="b"/>
<circle cx="163.1" cy="49.9" class="b"/>
<circle cx="185.6" cy="49.9" class="b"/>
<circle cx="198.3" cy="54.5" class="b"/>
<circle cx="206.5" cy="48.1" class="b"/>
<circle cx="187.9" cy="48.0" class="o"/>
<circle cx="150.6" cy="48.5" class="b"/>
<circle cx="177.7" cy="50.7" class="b"/>
<circle cx="197.2" cy="48.9" class="b"/>
<circle cx="165.8" cy="43.7" class="b"/>
<circle cx="200.0" cy="59.2" class="b"/>
<circle cx="201.9" cy="46.7" class="b"/>
<circle cx="173.6" cy="47.7" class="b"/>
<circle cx="180.9" cy="48.9" class="b"/>
<circle cx="178.2" cy="49.2" class="b"/>
<circle cx="191.8" cy="63.0" class="b"/>
<circle cx="173.9" cy="56.5" class="b"/>
<circle cx="194.5" cy="49.0" class="b"/>
<circle cx="194.4" cy="52.7" class="b"/>
<circle cx="172.7" cy="37.9" class="b"/>
<circle cx="179.4" cy="51.3" class="b"/>
<circle cx="202.1" cy="65.4" class="b"/>
<circle cx="170.8" cy="53.3" class="b"/>
<circle cx="208.6" cy="49.1" class="b"/>
<circle cx="172.8" cy="51.1" class="b"/>
<circle cx="171.7" cy="48.4" class="b"/>
<circle cx="183.0" cy="46.0" class="b"/>
<circle cx="201.4" cy="49.7" class="b"/>
<circle cx="168.3" cy="46.2" class="b"/>
<circle cx="160.8" cy="52.9" class="b"/>
<circle cx="204.8" cy="49.2" class="b"/>
<circle cx="198.2" cy="57.0" class="b"/>
<circle cx="159.0" cy="48.2" class="b"/>
<circle cx="166.4" cy="47.9" class="b"/>
<circle cx="160.0" cy="50.6" class="b"/>
<circle cx="145.7" cy="48.8" class="b"/>
<circle cx="183.9" cy="55.0" class="b"/>
<circle cx="146.5" cy="41.1" class="b"/>
<circle cx="196.1" cy="50.4" class="o"/>
<circle cx="187.0" cy="45.6" class="b"/>
<circle cx="199.3" cy="54.4" class="b"/>
<circle cx="195.7" cy="57.1" class="b"/>
<circle cx="208.8" cy="54.2" class="b"/>
<circle cx="160.6" cy="46.2" class="b"/>
<circle cx="206.1" cy="55.0" class="b"/>
<circle cx="178.2" cy="49.7" class="b"/>
<circle cx="186.9" cy="57.9" class="b"/>
<circle cx="203.4" cy="53.9" class="b"/>
<circle cx="188.8" cy="49.5" class="b"/>
<circle cx="178.5" cy="44.1" class="b"/>
<circle cx="200.0" cy="55.0" class="b"/>
<circle cx="151.4" cy="45.2" class="b"/>
<circle cx="170.5" cy="48.0" class="b"/>
<circle cx="209.0" cy="56.9" class="o"/>
<circle cx="165.4" cy="49.1" class="b"/>
<circle cx="204.0" cy="42.2" class="b"/>
<circle cx="182.4" cy="45.6" class="b"/>
<circle cx="180.4" cy="51.2" class="b"/>
<circle cx="184.5" cy="57.7" class="b"/>
<circle cx="209.3" cy="55.1" class="b"/>
<circle cx="185.2" cy="45.1" class="b"/>
<circle cx="188.4" cy="60.1" class="b"/>
<circle cx="184.3" cy="51.1" class="b"/>
<circle cx="192.1" cy="52.7" class="b"/>
<circle cx="206.7" cy="55.3" class="b"/>
<circle cx="145.0" cy="35.1" class="b"/>
<circle cx="184.9" cy="56.8" class="b"/>
<circle cx="177.0" cy="48.6" class="b"/>
<circle cx="178.1" cy="52.7" class="b"/>
<circle cx="212.0" cy="51.1" class="b"/>
<circle cx="186.4" cy="44.8" class="b"/>
<circle cx="163.8" cy="47.5" class="b"/>
<circle cx="141.7" cy="43.9" class="b"/>
<circle cx="197.3" cy="51.7" class="b"/>
<circle cx="191.5" cy="51.2" class="b"/>
<circle cx="201.5" cy="59.2" class="b"/>
<circle cx="191.5" cy="54.1" class="b"/>
<circle cx="142.8" cy="44.9" class="b"/>
<circle cx="170.9" cy="43.4" class="b"/>
<circle cx="153.6" cy="65.5" class="o"/>
<circle cx="174.4" cy="62.6" class="o"/>
<circle cx="174.4" cy="66.6" class="o"/>
<circle cx="174.4" cy="70.4" class="o"/>
<circle cx="194.9" cy="72.1" class="o"/>
<circle cx="204.8" cy="85.6" class="b"/>
<circle cx="212.0" cy="67.8" class="b"/>
<polygon points="138.06,43.4 175.27,49.75 212.47,53.3 212.47,58.1 175.27,51.75 138.06,48.2" fill="#ff0000" fill-opacity="0.13"/>
<line x1="138.06" y1="45.8" x2="212.47" y2="55.7" stroke="#e81010" stroke-width="1.3"/>
</g>
<rect x="134.2" y="36.1" width="82.3" height="52.3" fill="none" stroke="#a0a0a0" stroke-width="1.1"/>
<line x1="139.8" y1="88.4" x2="139.8" y2="90" stroke="#555" stroke-width="0.5"/>
<text x="139.8" y="94" font-size="4.45" text-anchor="middle" stroke="#262626" stroke-width="0.06" textLength="2.48" lengthAdjust="spacingAndGlyphs" fill="#262626">2</text>
<line x1="160.2" y1="88.4" x2="160.2" y2="90" stroke="#555" stroke-width="0.5"/>
<text x="160.2" y="94" font-size="4.45" text-anchor="middle" stroke="#262626" stroke-width="0.06" textLength="2.48" lengthAdjust="spacingAndGlyphs" fill="#262626">4</text>
<line x1="180.8" y1="88.4" x2="180.8" y2="90" stroke="#555" stroke-width="0.5"/>
<text x="180.8" y="94" font-size="4.45" text-anchor="middle" stroke="#262626" stroke-width="0.06" textLength="2.48" lengthAdjust="spacingAndGlyphs" fill="#262626">6</text>
<line x1="201.3" y1="88.4" x2="201.3" y2="90" stroke="#555" stroke-width="0.5"/>
<text x="201.3" y="94" font-size="4.45" text-anchor="middle" stroke="#262626" stroke-width="0.06" textLength="2.48" lengthAdjust="spacingAndGlyphs" fill="#262626">8</text>
<line x1="132" y1="44.5" x2="134.2" y2="44.5" stroke="#666" stroke-width="0.5"/>
<text x="131.5" y="46.25" font-size="4.45" text-anchor="end" stroke="#262626" stroke-width="0.06" textLength="6.2" lengthAdjust="spacingAndGlyphs" fill="#262626">3.0</text>
<line x1="132" y1="56.8" x2="134.2" y2="56.8" stroke="#666" stroke-width="0.5"/>
<text x="131.5" y="58.55" font-size="4.45" text-anchor="end" stroke="#262626" stroke-width="0.06" textLength="6.2" lengthAdjust="spacingAndGlyphs" fill="#262626">2.5</text>
<line x1="132" y1="69.1" x2="134.2" y2="69.1" stroke="#666" stroke-width="0.5"/>
<text x="131.5" y="70.85" font-size="4.45" text-anchor="end" stroke="#262626" stroke-width="0.06" textLength="6.2" lengthAdjust="spacingAndGlyphs" fill="#262626">2.0</text>
<line x1="132" y1="81.4" x2="134.2" y2="81.4" stroke="#666" stroke-width="0.5"/>
<text x="131.5" y="83.15" font-size="4.45" text-anchor="end" stroke="#262626" stroke-width="0.06" textLength="6.2" lengthAdjust="spacingAndGlyphs" fill="#262626">1.5</text>
<text x="175.35" y="99.2" font-size="4.45" text-anchor="middle" stroke="#262626" stroke-width="0.06" textLength="7.27" lengthAdjust="spacingAndGlyphs" fill="#262626">age</text>
<text x="123.4" y="62.25" font-size="4.45" text-anchor="middle" stroke="#262626" stroke-width="0.06" textLength="50.64" lengthAdjust="spacingAndGlyphs" transform="rotate(-90 123.4 62.25)" fill="#262626">middletemporal thickness</text>
<text x="212.5" y="98.6" font-size="4.45" text-anchor="middle" stroke="#262626" stroke-width="0.06" textLength="7.36" lengthAdjust="spacingAndGlyphs" fill="#262626">1e1</text>
<text x="175.35" y="33.7" font-size="5.62" text-anchor="middle" font-weight="bold" stroke="#111" stroke-width="0.14" textLength="27.71" lengthAdjust="spacingAndGlyphs" fill="#111">ρ=-0.359</text>
<rect x="134.2" y="112.2" width="82.3" height="52" fill="#fff"/>
<line x1="139.8" y1="112.2" x2="139.8" y2="164.2" stroke="#dcdcdc" stroke-width="0.8"/>
<line x1="160.2" y1="112.2" x2="160.2" y2="164.2" stroke="#dcdcdc" stroke-width="0.8"/>
<line x1="180.8" y1="112.2" x2="180.8" y2="164.2" stroke="#dcdcdc" stroke-width="0.8"/>
<line x1="201.3" y1="112.2" x2="201.3" y2="164.2" stroke="#dcdcdc" stroke-width="0.8"/>
<line x1="134.2" y1="123.8" x2="216.5" y2="123.8" stroke="#dcdcdc" stroke-width="0.8"/>
<line x1="134.2" y1="140.1" x2="216.5" y2="140.1" stroke="#dcdcdc" stroke-width="0.8"/>
<line x1="134.2" y1="156.4" x2="216.5" y2="156.4" stroke="#dcdcdc" stroke-width="0.8"/>
<clipPath id="cp1"><rect x="134.2" y="112.2" width="82.3" height="52"/></clipPath>
<g clip-path="url(#cp1)">
<circle cx="174.4" cy="139.5" class="o"/>
<circle cx="184.3" cy="136.1" class="o"/>
<circle cx="165.1" cy="132.1" class="o"/>
<circle cx="147.8" cy="126.5" class="o"/>
<circle cx="149.0" cy="142.5" class="o"/>
<circle cx="174.8" cy="133.4" class="o"/>
<circle cx="180.9" cy="143.3" class="o"/>
<circle cx="204.3" cy="136.7" class="o"/>
<circle cx="137.8" cy="140.4" class="o"/>
<circle cx="177.3" cy="134.6" class="o"/>
<circle cx="197.2" cy="140.6" class="o"/>
<circle cx="198.9" cy="150.8" class="o"/>
<circle cx="172.7" cy="135.1" class="o"/>
<circle cx="202.8" cy="144.0" class="o"/>
<circle cx="187.9" cy="129.5" class="o"/>
<circle cx="209.5" cy="148.8" class="o"/>
<circle cx="180.7" cy="146.6" class="o"/>
<circle cx="182.0" cy="142.2" class="o"/>
<circle cx="194.4" cy="149.3" class="o"/>
<circle cx="202.6" cy="137.6" class="o"/>
<circle cx="171.1" cy="144.6" class="o"/>
<circle cx="166.3" cy="138.3" class="o"/>
<circle cx="164.5" cy="141.8" class="o"/>
<circle cx="194.7" cy="145.2" class="o"/>
<circle cx="174.5" cy="142.6" class="o"/>
<circle cx="178.5" cy="143.3" class="o"/>
<circle cx="209.5" cy="150.6" class="o"/>
<circle cx="183.2" cy="145.2" class="o"/>
<circle cx="159.2" cy="144.3" class="o"/>
<circle cx="192.4" cy="151.1" class="o"/>
<circle cx="185.4" cy="147.2" class="o"/>
<circle cx="175.0" cy="151.9" class="o"/>
<circle cx="139.1" cy="136.3" class="o"/>
<circle cx="175.1" cy="140.3" class="o"/>
<circle cx="172.7" cy="128.5" class="o"/>
<circle cx="185.6" cy="152.5" class="o"/>
<circle cx="207.3" cy="146.4" class="o"/>
<circle cx="181.1" cy="148.3" class="o"/>
<circle cx="177.3" cy="136.3" class="o"/>
<circle cx="169.4" cy="135.5" class="o"/>
<circle cx="201.2" cy="147.5" class="o"/>
<circle cx="183.2" cy="137.1" class="o"/>
<circle cx="157.5" cy="141.1" class="o"/>
<circle cx="181.6" cy="144.8" class="o"/>
<circle cx="174.5" cy="141.8" class="o"/>
<circle cx="166.7" cy="128.7" class="o"/>
<circle cx="184.5" cy="135.4" class="o"/>
<circle cx="183.7" cy="141.1" class="o"/>
<circle cx="193.9" cy="147.0" class="o"/>
<circle cx="170.1" cy="133.6" class="o"/>
<circle cx="185.0" cy="144.8" class="o"/>
<circle cx="207.1" cy="147.8" class="o"/>
<circle cx="172.8" cy="150.1" class="o"/>
<circle cx="181.7" cy="136.2" class="b"/>
<circle cx="183.5" cy="122.7" class="b"/>
<circle cx="186.2" cy="125.5" class="b"/>
<circle cx="193.5" cy="138.5" class="b"/>
<circle cx="173.3" cy="133.2" class="b"/>
<circle cx="161.2" cy="132.6" class="b"/>
<circle cx="182.8" cy="136.9" class="b"/>
<circle cx="181.4" cy="144.5" class="b"/>
<circle cx="177.5" cy="128.3" class="b"/>
<circle cx="150.0" cy="120.6" class="b"/>
<circle cx="155.7" cy="129.9" class="b"/>
<circle cx="167.5" cy="137.2" class="b"/>
<circle cx="160.7" cy="133.6" class="b"/>
<circle cx="198.3" cy="147.9" class="b"/>
<circle cx="156.5" cy="119.1" class="b"/>
<circle cx="184.7" cy="140.3" class="b"/>
<circle cx="174.6" cy="123.0" class="b"/>
<circle cx="186.3" cy="132.5" class="b"/>
<circle cx="182.2" cy="129.4" class="b"/>
<circle cx="181.6" cy="137.8" class="b"/>
<circle cx="186.7" cy="136.7" class="b"/>
<circle cx="177.7" cy="132.9" class="b"/>
<circle cx="199.7" cy="147.1" class="b"/>
<circle cx="197.3" cy="133.9" class="b"/>
<circle cx="195.1" cy="135.4" class="b"/>
<circle cx="151.0" cy="118.3" class="b"/>
<circle cx="195.4" cy="140.3" class="b"/>
<circle cx="186.5" cy="142.1" class="b"/>
<circle cx="183.1" cy="145.2" class="b"/>
<circle cx="154.5" cy="144.6" class="b"/>
<circle cx="183.4" cy="141.1" class="b"/>
<circle cx="198.2" cy="145.3" class="b"/>
<circle cx="200.8" cy="142.4" class="b"/>
<circle cx="183.2" cy="128.0" class="b"/>
<circle cx="182.8" cy="137.1" class="b"/>
<circle cx="198.3" cy="143.8" class="b"/>
<circle cx="198.8" cy="142.8" class="b"/>
<circle cx="187.2" cy="144.3" class="b"/>
<circle cx="195.0" cy="144.3" class="b"/>
<circle cx="171.5" cy="138.2" class="b"/>
<circle cx="187.6" cy="144.1" class="b"/>
<circle cx="204.6" cy="139.9" class="b"/>
<circle cx="171.9" cy="139.9" class="b"/>
<circle cx="176.4" cy="127.1" class="b"/>
<circle cx="208.2" cy="131.5" class="b"/>
<circle cx="201.4" cy="134.5" class="b"/>
<circle cx="187.6" cy="143.0" class="b"/>
<circle cx="197.2" cy="132.9" class="b"/>
<circle cx="169.5" cy="124.8" class="b"/>
<circle cx="188.1" cy="154.0" class="b"/>
<circle cx="179.8" cy="134.0" class="b"/>
<circle cx="175.4" cy="134.5" class="b"/>
<circle cx="181.0" cy="137.1" class="b"/>
<circle cx="183.4" cy="137.7" class="b"/>
<circle cx="193.5" cy="141.9" class="b"/>
<circle cx="173.2" cy="138.9" class="b"/>
<circle cx="160.0" cy="139.7" class="o"/>
<circle cx="200.8" cy="145.3" class="b"/>
<circle cx="139.0" cy="139.5" class="b"/>
<circle cx="187.0" cy="145.6" class="b"/>
<circle cx="186.2" cy="142.9" class="b"/>
<circle cx="190.8" cy="137.1" class="b"/>
<circle cx="182.7" cy="137.6" class="b"/>
<circle cx="165.2" cy="130.4" class="o"/>
<circle cx="205.0" cy="150.3" class="b"/>
<circle cx="193.8" cy="131.4" class="b"/>
<circle cx="163.8" cy="138.6" class="b"/>
<circle cx="151.8" cy="125.9" class="b"/>
<circle cx="176.1" cy="144.7" class="b"/>
<circle cx="182.8" cy="127.0" class="b"/>
<circle cx="193.0" cy="143.5" class="b"/>
<circle cx="144.2" cy="143.1" class="b"/>
<circle cx="174.4" cy="134.0" class="b"/>
<circle cx="188.5" cy="144.6" class="b"/>
<circle cx="187.7" cy="138.2" class="b"/>
<circle cx="187.6" cy="141.2" class="b"/>
<circle cx="204.8" cy="147.9" class="b"/>
<circle cx="161.3" cy="130.6" class="b"/>
<circle cx="179.0" cy="139.1" class="b"/>
<circle cx="184.6" cy="136.2" class="b"/>
<circle cx="175.7" cy="133.8" class="b"/>
<circle cx="193.2" cy="137.4" class="b"/>
<circle cx="190.8" cy="126.8" class="b"/>
<circle cx="181.2" cy="140.0" class="b"/>
<circle cx="193.8" cy="142.7" class="b"/>
<circle cx="183.1" cy="140.0" class="b"/>
<circle cx="200.3" cy="133.9" class="b"/>
<circle cx="156.1" cy="123.6" class="b"/>
<circle cx="187.8" cy="140.9" class="b"/>
<circle cx="195.1" cy="144.4" class="b"/>
<circle cx="176.7" cy="126.5" class="b"/>
<circle cx="182.4" cy="137.8" class="b"/>
<circle cx="199.1" cy="145.0" class="b"/>
<circle cx="150.4" cy="117.3" class="b"/>
<circle cx="177.8" cy="135.2" class="b"/>
<circle cx="167.5" cy="135.8" class="b"/>
<circle cx="193.3" cy="145.7" class="b"/>
<circle cx="158.0" cy="140.0" class="b"/>
<circle cx="189.3" cy="140.3" class="b"/>
<circle cx="195.6" cy="145.5" class="b"/>
<circle cx="169.3" cy="125.9" class="b"/>
<circle cx="200.3" cy="141.7" class="b"/>
<circle cx="181.1" cy="135.9" class="b"/>
<circle cx="173.8" cy="131.4" class="b"/>
<circle cx="157.8" cy="138.0" class="b"/>
<circle cx="183.1" cy="133.2" class="b"/>
<circle cx="191.2" cy="155.7" class="b"/>
<circle cx="205.1" cy="135.8" class="b"/>
<circle cx="181.6" cy="140.7" class="b"/>
<circle cx="189.2" cy="142.7" class="b"/>
<circle cx="197.0" cy="131.5" class="b"/>
<circle cx="172.5" cy="143.1" class="b"/>
<circle cx="202.3" cy="137.4" class="b"/>
<circle cx="178.3" cy="143.1" class="b"/>
<circle cx="187.6" cy="128.3" class="b"/>
<circle cx="196.0" cy="136.8" class="b"/>
<circle cx="161.1" cy="138.8" class="b"/>
<circle cx="187.0" cy="140.7" class="b"/>
<circle cx="192.7" cy="136.8" class="b"/>
<circle cx="186.0" cy="142.7" class="b"/>
<circle cx="208.2" cy="144.1" class="b"/>
<circle cx="209.0" cy="151.1" class="b"/>
<circle cx="191.2" cy="130.5" class="b"/>
<circle cx="180.2" cy="134.8" class="b"/>
<circle cx="149.8" cy="137.7" class="b"/>
<circle cx="148.9" cy="137.6" class="b"/>
<circle cx="164.8" cy="134.9" class="b"/>
<circle cx="205.8" cy="136.3" class="b"/>
<circle cx="201.0" cy="145.0" class="b"/>
<circle cx="194.6" cy="148.2" class="b"/>
<circle cx="196.5" cy="137.2" class="b"/>
<circle cx="191.7" cy="140.5" class="b"/>
<circle cx="167.6" cy="151.8" class="b"/>
<circle cx="194.9" cy="141.1" class="b"/>
<circle cx="191.3" cy="137.4" class="b"/>
<circle cx="196.4" cy="145.3" class="b"/>
<circle cx="183.3" cy="137.2" class="b"/>
<circle cx="157.1" cy="129.6" class="b"/>
<circle cx="183.7" cy="131.0" class="b"/>
<circle cx="198.9" cy="151.7" class="b"/>
<circle cx="198.2" cy="138.8" class="b"/>
<circle cx="171.1" cy="137.3" class="b"/>
<circle cx="168.3" cy="139.9" class="b"/>
<circle cx="175.7" cy="127.1" class="b"/>
<circle cx="200.2" cy="127.2" class="b"/>
<circle cx="172.5" cy="139.8" class="b"/>
<circle cx="197.4" cy="137.3" class="b"/>
<circle cx="178.4" cy="131.9" class="b"/>
<circle cx="152.5" cy="141.0" class="b"/>
<circle cx="191.0" cy="143.9" class="b"/>
<circle cx="194.2" cy="142.0" class="b"/>
<circle cx="140.7" cy="126.4" class="b"/>
<circle cx="175.0" cy="129.1" class="b"/>
<circle cx="178.3" cy="128.2" class="b"/>
<circle cx="197.8" cy="137.1" class="b"/>
<circle cx="183.9" cy="144.2" class="b"/>
<circle cx="196.4" cy="142.5" class="b"/>
<circle cx="174.1" cy="142.5" class="b"/>
<circle cx="187.0" cy="150.5" class="b"/>
<circle cx="187.6" cy="141.6" class="b"/>
<circle cx="182.5" cy="128.6" class="b"/>
<circle cx="193.9" cy="145.1" class="b"/>
<circle cx="150.9" cy="132.6" class="b"/>
<circle cx="182.3" cy="130.7" class="b"/>
<circle cx="180.7" cy="135.6" class="o"/>
<circle cx="205.2" cy="147.8" class="b"/>
<circle cx="182.9" cy="133.8" class="b"/>
<circle cx="142.8" cy="130.8" class="b"/>
<circle cx="192.3" cy="145.0" class="b"/>
<circle cx="161.7" cy="144.0" class="b"/>
<circle cx="191.3" cy="138.1" class="b"/>
<circle cx="183.1" cy="128.3" class="b"/>
<circle cx="207.8" cy="141.3" class="b"/>
<circle cx="188.6" cy="132.8" class="b"/>
<circle cx="171.6" cy="138.7" class="b"/>
<circle cx="185.6" cy="133.3" class="b"/>
<circle cx="179.5" cy="135.5" class="b"/>
<circle cx="185.2" cy="141.0" class="b"/>
<circle cx="198.5" cy="149.6" class="b"/>
<circle cx="164.8" cy="131.7" class="b"/>
<circle cx="189.5" cy="140.5" class="b"/>
<circle cx="206.1" cy="146.0" class="b"/>
<circle cx="200.2" cy="149.0" class="b"/>
<circle cx="184.9" cy="136.1" class="b"/>
<circle cx="188.7" cy="133.8" class="b"/>
<circle cx="147.1" cy="125.3" class="b"/>
<circle cx="210.9" cy="146.3" class="b"/>
<circle cx="208.8" cy="143.7" class="b"/>
<circle cx="177.0" cy="130.9" class="b"/>
<circle cx="197.8" cy="150.8" class="b"/>
<circle cx="144.2" cy="129.5" class="b"/>
<circle cx="179.9" cy="150.0" class="b"/>
<circle cx="203.5" cy="141.7" class="b"/>
<circle cx="151.3" cy="136.0" class="b"/>
<circle cx="158.0" cy="127.7" class="o"/>
<circle cx="160.9" cy="129.2" class="b"/>
<circle cx="202.1" cy="143.2" class="o"/>
<circle cx="187.9" cy="146.1" class="b"/>
<circle cx="175.1" cy="137.0" class="b"/>
<circle cx="182.4" cy="143.0" class="o"/>
<circle cx="180.4" cy="147.1" class="b"/>
<circle cx="180.9" cy="132.5" class="b"/>
<circle cx="165.0" cy="134.9" class="b"/>
<circle cx="173.9" cy="127.1" class="b"/>
<circle cx="185.8" cy="154.1" class="b"/>
<circle cx="139.3" cy="129.7" class="b"/>
<circle cx="194.5" cy="133.7" class="b"/>
<circle cx="184.5" cy="144.0" class="b"/>
<circle cx="181.5" cy="129.2" class="b"/>
<circle cx="182.1" cy="138.7" class="b"/>
<circle cx="188.1" cy="139.4" class="b"/>
<circle cx="195.7" cy="141.3" class="b"/>
<circle cx="204.4" cy="139.1" class="b"/>
<circle cx="183.8" cy="147.8" class="b"/>
<circle cx="187.0" cy="151.7" class="b"/>
<circle cx="196.4" cy="143.7" class="o"/>
<circle cx="190.5" cy="133.7" class="b"/>
<circle cx="149.1" cy="143.9" class="o"/>
<circle cx="153.7" cy="129.4" class="b"/>
<circle cx="194.7" cy="145.9" class="b"/>
<circle cx="148.3" cy="129.9" class="b"/>
<circle cx="169.8" cy="143.0" class="b"/>
<circle cx="183.8" cy="139.1" class="b"/>
<circle cx="207.6" cy="148.3" class="b"/>
<circle cx="195.6" cy="133.2" class="b"/>
<circle cx="208.4" cy="141.1" class="b"/>
<circle cx="163.9" cy="134.2" class="b"/>
<circle cx="148.3" cy="139.7" class="b"/>
<circle cx="199.3" cy="147.3" class="b"/>
<circle cx="210.8" cy="152.2" class="b"/>
<circle cx="186.6" cy="132.0" class="b"/>
<circle cx="194.4" cy="135.1" class="b"/>
<circle cx="187.5" cy="143.6" class="b"/>
<circle cx="191.4" cy="143.1" class="b"/>
<circle cx="179.3" cy="147.3" class="b"/>
<circle cx="162.2" cy="140.8" class="b"/>
<circle cx="155.9" cy="131.4" class="b"/>
<circle cx="169.9" cy="132.6" class="b"/>
<circle cx="144.7" cy="135.0" class="b"/>
<circle cx="177.9" cy="139.4" class="b"/>
<circle cx="192.4" cy="136.9" class="b"/>
<circle cx="204.9" cy="141.6" class="b"/>
<circle cx="189.0" cy="149.1" class="b"/>
<circle cx="182.4" cy="140.9" class="b"/>
<circle cx="182.7" cy="148.9" class="b"/>
<circle cx="200.1" cy="154.3" class="b"/>
<circle cx="211.0" cy="144.4" class="b"/>
<circle cx="162.6" cy="126.9" class="b"/>
<circle cx="144.7" cy="125.1" class="b"/>
<circle cx="186.8" cy="143.0" class="b"/>
<circle cx="189.3" cy="128.1" class="b"/>
<circle cx="162.9" cy="130.0" class="b"/>
<circle cx="159.3" cy="142.6" class="b"/>
<circle cx="200.3" cy="141.8" class="b"/>
<circle cx="176.1" cy="131.1" class="b"/>
<circle cx="165.9" cy="134.8" class="b"/>
<circle cx="166.3" cy="137.5" class="b"/>
<circle cx="179.3" cy="144.4" class="b"/>
<circle cx="189.6" cy="134.5" class="b"/>
<circle cx="189.5" cy="139.2" class="b"/>
<circle cx="176.8" cy="142.5" class="b"/>
<circle cx="161.5" cy="133.0" class="b"/>
<circle cx="144.0" cy="140.0" class="b"/>
<circle cx="164.4" cy="141.9" class="b"/>
<circle cx="196.0" cy="141.1" class="b"/>
<circle cx="194.2" cy="137.7" class="b"/>
<circle cx="180.4" cy="145.3" class="b"/>
<circle cx="158.8" cy="138.2" class="b"/>
<circle cx="189.0" cy="155.7" class="b"/>
<circle cx="184.4" cy="141.5" class="b"/>
<circle cx="190.8" cy="138.5" class="b"/>
<circle cx="188.2" cy="138.6" class="b"/>
<circle cx="176.1" cy="141.2" class="b"/>
<circle cx="165.5" cy="130.6" class="b"/>
<circle cx="168.7" cy="125.8" class="b"/>
<circle cx="181.7" cy="135.7" class="b"/>
<circle cx="178.6" cy="133.7" class="b"/>
<circle cx="174.3" cy="127.0" class="b"/>
<circle cx="196.3" cy="148.4" class="b"/>
<circle cx="183.8" cy="146.8" class="b"/>
<circle cx="185.4" cy="142.4" class="b"/>
<circle cx="161.7" cy="129.6" class="b"/>
<circle cx="195.4" cy="140.1" class="b"/>
<circle cx="173.4" cy="141.2" class="b"/>
<circle cx="182.4" cy="143.3" class="b"/>
<circle cx="157.4" cy="120.8" class="b"/>
<circle cx="191.9" cy="138.9" class="b"/>
<circle cx="139.1" cy="134.6" class="b"/>
<circle cx="191.4" cy="154.6" class="b"/>
<circle cx="189.9" cy="137.4" class="b"/>
<circle cx="153.4" cy="132.3" class="b"/>
<circle cx="187.8" cy="150.2" class="b"/>
<circle cx="192.1" cy="149.1" class="b"/>
<circle cx="179.1" cy="134.1" class="b"/>
<circle cx="169.3" cy="142.1" class="b"/>
<circle cx="161.6" cy="134.5" class="b"/>
<circle cx="187.0" cy="139.3" class="o"/>
<circle cx="198.4" cy="159.4" class="o"/>
<circle cx="177.9" cy="131.4" class="b"/>
<circle cx="196.3" cy="140.3" class="b"/>
<circle cx="194.5" cy="147.3" class="b"/>
<circle cx="159.7" cy="117.2" class="b"/>
<circle cx="160.7" cy="135.5" class="b"/>
<circle cx="160.8" cy="139.9" class="b"/>
<circle cx="139.3" cy="130.4" class="b"/>
<circle cx="173.2" cy="134.5" class="b"/>
<circle cx="180.5" cy="131.7" class="b"/>
<circle cx="210.3" cy="132.0" class="b"/>
<circle cx="185.3" cy="146.1" class="b"/>
<circle cx="188.1" cy="141.1" class="b"/>
<circle cx="174.8" cy="136.3" class="b"/>
<circle cx="204.4" cy="137.3" class="b"/>
<circle cx="203.0" cy="147.1" class="b"/>
<circle cx="192.3" cy="143.0" class="b"/>
<circle cx="171.5" cy="138.3" class="b"/>
<circle cx="207.0" cy="141.1" class="b"/>
<circle cx="188.7" cy="140.4" class="b"/>
<circle cx="188.7" cy="140.0" class="b"/>
<circle cx="200.8" cy="136.0" class="b"/>
<circle cx="185.1" cy="132.0" class="b"/>
<circle cx="164.9" cy="136.7" class="b"/>
<circle cx="182.4" cy="140.0" class="b"/>
<circle cx="189.8" cy="136.6" class="b"/>
<circle cx="178.4" cy="145.3" class="b"/>
<circle cx="160.4" cy="126.9" class="b"/>
<circle cx="188.8" cy="150.4" class="b"/>
<circle cx="163.1" cy="137.9" class="b"/>
<circle cx="208.0" cy="146.9" class="b"/>
<circle cx="191.1" cy="135.3" class="b"/>
<circle cx="185.8" cy="138.5" class="b"/>
<circle cx="143.0" cy="129.0" class="b"/>
<circle cx="195.8" cy="143.1" class="b"/>
<circle cx="200.4" cy="134.0" class="b"/>
<circle cx="176.6" cy="132.4" class="b"/>
<circle cx="149.4" cy="136.7" class="b"/>
<circle cx="151.9" cy="139.2" class="b"/>
<circle cx="182.6" cy="144.6" class="b"/>
<circle cx="204.6" cy="147.1" class="b"/>
<circle cx="188.9" cy="128.7" class="b"/>
<circle cx="191.4" cy="147.1" class="o"/>
<circle cx="184.5" cy="133.7" class="o"/>
<circle cx="181.8" cy="131.5" class="b"/>
<circle cx="198.7" cy="138.5" class="b"/>
<circle cx="175.8" cy="143.0" class="b"/>
<circle cx="143.0" cy="133.0" class="b"/>
<circle cx="182.4" cy="144.2" class="b"/>
<circle cx="191.4" cy="134.8" class="b"/>
<circle cx="173.1" cy="129.1" class="b"/>
<circle cx="198.3" cy="142.6" class="b"/>
<circle cx="157.2" cy="140.5" class="b"/>
<circle cx="176.4" cy="134.4" class="b"/>
<circle cx="170.6" cy="133.3" class="b"/>
<circle cx="185.6" cy="146.4" class="b"/>
<circle cx="197.8" cy="145.2" class="b"/>
<circle cx="184.3" cy="136.7" class="b"/>
<circle cx="148.8" cy="132.5" class="b"/>
<circle cx="200.9" cy="134.9" class="o"/>
<circle cx="200.1" cy="140.6" class="b"/>
<circle cx="148.1" cy="126.9" class="b"/>
<circle cx="181.9" cy="131.2" class="b"/>
<circle cx="171.5" cy="137.7" class="b"/>
<circle cx="179.5" cy="137.1" class="b"/>
<circle cx="145.8" cy="121.4" class="b"/>
<circle cx="146.6" cy="137.0" class="b"/>
<circle cx="191.9" cy="156.3" class="b"/>
<circle cx="204.6" cy="149.7" class="b"/>
<circle cx="194.9" cy="147.2" class="b"/>
<circle cx="187.4" cy="141.5" class="b"/>
<circle cx="208.2" cy="153.1" class="b"/>
<circle cx="176.5" cy="138.7" class="b"/>
<circle cx="177.0" cy="143.4" class="b"/>
<circle cx="150.1" cy="133.8" class="b"/>
<circle cx="189.8" cy="149.3" class="b"/>
<circle cx="162.5" cy="142.0" class="b"/>
<circle cx="175.6" cy="139.2" class="b"/>
<circle cx="185.0" cy="144.5" class="b"/>
<circle cx="183.5" cy="150.8" class="b"/>
<circle cx="165.4" cy="136.0" class="b"/>
<circle cx="189.8" cy="142.2" class="b"/>
<circle cx="151.1" cy="122.2" class="b"/>
<circle cx="173.3" cy="122.3" class="b"/>
<circle cx="193.1" cy="133.6" class="b"/>
<circle cx="163.2" cy="128.7" class="b"/>
<circle cx="179.3" cy="137.8" class="b"/>
<circle cx="201.6" cy="150.1" class="b"/>
<circle cx="184.0" cy="149.1" class="b"/>
<circle cx="167.8" cy="144.6" class="b"/>
<circle cx="188.2" cy="142.0" class="b"/>
<circle cx="194.5" cy="145.4" class="o"/>
<circle cx="181.6" cy="138.2" class="b"/>
<circle cx="172.4" cy="139.4" class="b"/>
<circle cx="140.4" cy="138.4" class="b"/>
<circle cx="199.8" cy="140.8" class="b"/>
<circle cx="161.4" cy="131.7" class="b"/>
<circle cx="191.1" cy="130.6" class="b"/>
<circle cx="197.4" cy="152.8" class="b"/>
<circle cx="189.6" cy="142.1" class="o"/>
<circle cx="170.2" cy="132.2" class="b"/>
<circle cx="186.2" cy="126.2" class="b"/>
<circle cx="179.9" cy="151.7" class="b"/>
<circle cx="175.7" cy="137.3" class="b"/>
<circle cx="169.1" cy="138.7" class="b"/>
<circle cx="167.4" cy="131.6" class="b"/>
<circle cx="176.4" cy="144.3" class="b"/>
<circle cx="167.1" cy="136.1" class="b"/>
<circle cx="194.9" cy="139.2" class="b"/>
<circle cx="189.3" cy="135.7" class="b"/>
<circle cx="181.3" cy="142.2" class="b"/>
<circle cx="204.1" cy="121.7" class="b"/>
<circle cx="164.1" cy="127.8" class="b"/>
<circle cx="180.7" cy="146.2" class="b"/>
<circle cx="194.0" cy="141.1" class="b"/>
<circle cx="164.0" cy="124.1" class="b"/>
<circle cx="161.0" cy="124.0" class="o"/>
<circle cx="181.0" cy="137.0" class="b"/>
<circle cx="173.0" cy="141.8" class="b"/>
<circle cx="193.6" cy="135.0" class="b"/>
<circle cx="175.4" cy="145.4" class="b"/>
<circle cx="212.5" cy="149.8" class="b"/>
<circle cx="187.2" cy="135.7" class="b"/>
<circle cx="180.7" cy="130.3" class="b"/>
<circle cx="201.7" cy="144.3" class="b"/>
<circle cx="183.0" cy="149.9" class="b"/>
<circle cx="199.1" cy="136.0" class="b"/>
<circle cx="187.6" cy="141.5" class="b"/>
<circle cx="147.0" cy="132.9" class="b"/>
<circle cx="144.5" cy="117.1" class="b"/>
<circle cx="181.4" cy="143.2" class="b"/>
<circle cx="160.3" cy="143.5" class="b"/>
<circle cx="175.5" cy="141.8" class="b"/>
<circle cx="204.8" cy="151.2" class="b"/>
<circle cx="189.4" cy="127.5" class="b"/>
<circle cx="191.6" cy="141.2" class="b"/>
<circle cx="145.5" cy="118.3" class="b"/>
<circle cx="169.8" cy="134.7" class="b"/>
<circle cx="171.1" cy="134.4" class="b"/>
<circle cx="191.7" cy="133.6" class="b"/>
<circle cx="182.3" cy="140.0" class="b"/>
<circle cx="201.8" cy="141.7" class="b"/>
<circle cx="181.9" cy="129.3" class="b"/>
<circle cx="138.8" cy="147.0" class="b"/>
<circle cx="177.1" cy="134.1" class="b"/>
<circle cx="192.3" cy="131.7" class="b"/>
<circle cx="186.4" cy="133.8" class="b"/>
<circle cx="158.2" cy="131.5" class="b"/>
<circle cx="205.7" cy="148.1" class="b"/>
<circle cx="183.6" cy="130.2" class="b"/>
<circle cx="179.7" cy="130.9" class="b"/>
<circle cx="183.6" cy="142.0" class="b"/>
<circle cx="191.2" cy="133.2" class="b"/>
<circle cx="199.0" cy="132.7" class="o"/>
<circle cx="168.8" cy="136.0" class="b"/>
<circle cx="180.4" cy="134.9" class="b"/>
<circle cx="199.1" cy="151.3" class="b"/>
<circle cx="193.5" cy="143.4" class="b"/>
<circle cx="191.5" cy="131.3" class="b"/>
<circle cx="191.5" cy="143.7" class="b"/>
<circle cx="174.4" cy="156.8" class="o"/>
<circle cx="174.4" cy="160.2" class="o"/>
<circle cx="184.0" cy="161.6" class="b"/>
<circle cx="191.8" cy="114.9" class="b"/>
<circle cx="212.0" cy="158.2" class="b"/>
<polygon points="138.06,127 175.27,136 212.47,142.2 212.47,147 175.27,138 138.06,131.8" fill="#ff0000" fill-opacity="0.13"/>
<line x1="138.06" y1="129.4" x2="212.47" y2="144.6" stroke="#e81010" stroke-width="1.3"/>
</g>
<rect x="134.2" y="112.2" width="82.3" height="52" fill="none" stroke="#a0a0a0" stroke-width="1.1"/>
<line x1="139.8" y1="164.2" x2="139.8" y2="165.8" stroke="#555" stroke-width="0.5"/>
<text x="139.8" y="169.8" font-size="4.45" text-anchor="middle" stroke="#262626" stroke-width="0.06" textLength="2.48" lengthAdjust="spacingAndGlyphs" fill="#262626">2</text>
<line x1="160.2" y1="164.2" x2="160.2" y2="165.8" stroke="#555" stroke-width="0.5"/>
<text x="160.2" y="169.8" font-size="4.45" text-anchor="middle" stroke="#262626" stroke-width="0.06" textLength="2.48" lengthAdjust="spacingAndGlyphs" fill="#262626">4</text>
<line x1="180.8" y1="164.2" x2="180.8" y2="165.8" stroke="#555" stroke-width="0.5"/>
<text x="180.8" y="169.8" font-size="4.45" text-anchor="middle" stroke="#262626" stroke-width="0.06" textLength="2.48" lengthAdjust="spacingAndGlyphs" fill="#262626">6</text>
<line x1="201.3" y1="164.2" x2="201.3" y2="165.8" stroke="#555" stroke-width="0.5"/>
<text x="201.3" y="169.8" font-size="4.45" text-anchor="middle" stroke="#262626" stroke-width="0.06" textLength="2.48" lengthAdjust="spacingAndGlyphs" fill="#262626">8</text>
<line x1="132" y1="123.8" x2="134.2" y2="123.8" stroke="#666" stroke-width="0.5"/>
<text x="131.5" y="125.55" font-size="4.45" text-anchor="end" stroke="#262626" stroke-width="0.06" textLength="6.2" lengthAdjust="spacingAndGlyphs" fill="#262626">3.0</text>
<line x1="132" y1="140.1" x2="134.2" y2="140.1" stroke="#666" stroke-width="0.5"/>
<text x="131.5" y="141.85" font-size="4.45" text-anchor="end" stroke="#262626" stroke-width="0.06" textLength="6.2" lengthAdjust="spacingAndGlyphs" fill="#262626">2.5</text>
<line x1="132" y1="156.4" x2="134.2" y2="156.4" stroke="#666" stroke-width="0.5"/>
<text x="131.5" y="158.15" font-size="4.45" text-anchor="end" stroke="#262626" stroke-width="0.06" textLength="6.2" lengthAdjust="spacingAndGlyphs" fill="#262626">2.0</text>
<text x="175.35" y="175" font-size="4.45" text-anchor="middle" stroke="#262626" stroke-width="0.06" textLength="7.27" lengthAdjust="spacingAndGlyphs" fill="#262626">age</text>
<text x="123.4" y="138.2" font-size="4.45" text-anchor="middle" stroke="#262626" stroke-width="0.06" textLength="53.38" lengthAdjust="spacingAndGlyphs" transform="rotate(-90 123.4 138.2)" fill="#262626">superiortemporal thickness</text>
<text x="212.5" y="174.4" font-size="4.45" text-anchor="middle" stroke="#262626" stroke-width="0.06" textLength="7.36" lengthAdjust="spacingAndGlyphs" fill="#262626">1e1</text>
<text x="175.35" y="109.8" font-size="5.62" text-anchor="middle" font-weight="bold" stroke="#111" stroke-width="0.14" textLength="27.71" lengthAdjust="spacingAndGlyphs" fill="#111">ρ=-0.438</text>
<rect x="134.2" y="188.7" width="82.3" height="51.8" fill="#fff"/>
<line x1="139.8" y1="188.7" x2="139.8" y2="240.5" stroke="#dcdcdc" stroke-width="0.8"/>
<line x1="160.2" y1="188.7" x2="160.2" y2="240.5" stroke="#dcdcdc" stroke-width="0.8"/>
<line x1="180.8" y1="188.7" x2="180.8" y2="240.5" stroke="#dcdcdc" stroke-width="0.8"/>
<line x1="201.3" y1="188.7" x2="201.3" y2="240.5" stroke="#dcdcdc" stroke-width="0.8"/>
<line x1="134.2" y1="201.5" x2="216.5" y2="201.5" stroke="#dcdcdc" stroke-width="0.8"/>
<line x1="134.2" y1="215" x2="216.5" y2="215" stroke="#dcdcdc" stroke-width="0.8"/>
<line x1="134.2" y1="228.4" x2="216.5" y2="228.4" stroke="#dcdcdc" stroke-width="0.8"/>
<clipPath id="cp2"><rect x="134.2" y="188.7" width="82.3" height="51.8"/></clipPath>
<g clip-path="url(#cp2)">
<circle cx="195.1" cy="227.6" class="o"/>
<circle cx="158.1" cy="204.1" class="o"/>
<circle cx="199.5" cy="215.3" class="o"/>
<circle cx="172.7" cy="208.8" class="o"/>
<circle cx="141.2" cy="206.4" class="o"/>
<circle cx="178.7" cy="210.0" class="o"/>
<circle cx="201.6" cy="225.6" class="o"/>
<circle cx="138.1" cy="211.4" class="o"/>
<circle cx="180.9" cy="214.3" class="o"/>
<circle cx="180.8" cy="203.1" class="o"/>
<circle cx="158.0" cy="213.7" class="o"/>
<circle cx="201.4" cy="226.1" class="o"/>
<circle cx="188.7" cy="217.2" class="o"/>
<circle cx="180.9" cy="210.3" class="o"/>
<circle cx="190.8" cy="219.6" class="o"/>
<circle cx="167.5" cy="210.1" class="o"/>
<circle cx="189.9" cy="211.2" class="o"/>
<circle cx="177.4" cy="215.5" class="o"/>
<circle cx="170.7" cy="220.1" class="o"/>
<circle cx="206.2" cy="207.7" class="o"/>
<circle cx="182.7" cy="209.4" class="o"/>
<circle cx="198.9" cy="209.5" class="o"/>
<circle cx="155.6" cy="218.6" class="o"/>
<circle cx="164.4" cy="205.6" class="o"/>
<circle cx="175.7" cy="209.5" class="o"/>
<circle cx="176.6" cy="212.0" class="o"/>
<circle cx="189.6" cy="221.4" class="o"/>
<circle cx="197.1" cy="217.8" class="o"/>
<circle cx="193.6" cy="220.9" class="o"/>
<circle cx="140.9" cy="222.3" class="o"/>
<circle cx="211.8" cy="206.6" class="o"/>
<circle cx="161.2" cy="216.4" class="o"/>
<circle cx="167.8" cy="216.4" class="o"/>
<circle cx="147.8" cy="207.6" class="o"/>
<circle cx="192.5" cy="211.4" class="o"/>
<circle cx="193.3" cy="213.5" class="o"/>
<circle cx="148.8" cy="213.4" class="o"/>
<circle cx="183.9" cy="207.1" class="o"/>
<circle cx="178.6" cy="209.8" class="o"/>
<circle cx="179.7" cy="208.8" class="o"/>
<circle cx="167.0" cy="225.0" class="o"/>
<circle cx="154.9" cy="214.3" class="o"/>
<circle cx="177.0" cy="200.3" class="o"/>
<circle cx="178.5" cy="206.7" class="o"/>
<circle cx="152.2" cy="211.0" class="o"/>
<circle cx="165.0" cy="212.7" class="o"/>
<circle cx="193.3" cy="206.0" class="o"/>
<circle cx="178.4" cy="221.0" class="o"/>
<circle cx="157.6" cy="209.8" class="o"/>
<circle cx="182.9" cy="213.6" class="o"/>
<circle cx="167.4" cy="207.5" class="o"/>
<circle cx="200.0" cy="213.6" class="o"/>
<circle cx="167.0" cy="211.4" class="o"/>
<circle cx="153.8" cy="202.1" class="b"/>
<circle cx="152.2" cy="205.3" class="b"/>
<circle cx="167.1" cy="204.1" class="b"/>
<circle cx="193.3" cy="214.3" class="b"/>
<circle cx="193.4" cy="200.0" class="b"/>
<circle cx="169.0" cy="212.9" class="b"/>
<circle cx="145.0" cy="210.3" class="b"/>
<circle cx="183.8" cy="210.7" class="b"/>
<circle cx="198.7" cy="220.9" class="b"/>
<circle cx="181.7" cy="211.3" class="b"/>
<circle cx="183.5" cy="204.0" class="b"/>
<circle cx="164.2" cy="201.4" class="b"/>
<circle cx="182.6" cy="213.5" class="b"/>
<circle cx="187.9" cy="198.3" class="b"/>
<circle cx="197.4" cy="207.9" class="b"/>
<circle cx="159.2" cy="215.4" class="b"/>
<circle cx="205.2" cy="211.5" class="b"/>
<circle cx="209.8" cy="211.4" class="b"/>
<circle cx="138.5" cy="205.2" class="b"/>
<circle cx="158.6" cy="213.7" class="b"/>
<circle cx="173.2" cy="204.2" class="o"/>
<circle cx="206.6" cy="214.7" class="b"/>
<circle cx="160.3" cy="211.0" class="b"/>
<circle cx="192.5" cy="216.8" class="o"/>
<circle cx="173.9" cy="207.0" class="b"/>
<circle cx="191.7" cy="209.6" class="b"/>
<circle cx="187.3" cy="209.4" class="b"/>
<circle cx="197.7" cy="220.4" class="b"/>
<circle cx="179.7" cy="204.7" class="b"/>
<circle cx="164.4" cy="201.3" class="b"/>
<circle cx="154.8" cy="209.0" class="b"/>
<circle cx="186.5" cy="196.3" class="b"/>
<circle cx="174.5" cy="212.0" class="b"/>
<circle cx="179.9" cy="203.2" class="b"/>
<circle cx="160.8" cy="212.1" class="b"/>
<circle cx="178.3" cy="201.7" class="b"/>
<circle cx="182.1" cy="217.8" class="b"/>
<circle cx="175.8" cy="211.3" class="b"/>
<circle cx="199.7" cy="210.5" class="b"/>
<circle cx="159.6" cy="203.6" class="b"/>
<circle cx="183.3" cy="196.8" class="b"/>
<circle cx="182.4" cy="226.6" class="b"/>
<circle cx="184.2" cy="203.7" class="b"/>
<circle cx="158.2" cy="204.2" class="b"/>
<circle cx="188.0" cy="210.0" class="b"/>
<circle cx="174.4" cy="204.7" class="b"/>
<circle cx="159.1" cy="207.7" class="b"/>
<circle cx="192.1" cy="202.6" class="b"/>
<circle cx="201.0" cy="211.4" class="b"/>
<circle cx="185.7" cy="205.0" class="b"/>
<circle cx="174.3" cy="211.7" class="b"/>
<circle cx="176.7" cy="214.4" class="b"/>
<circle cx="188.6" cy="213.2" class="b"/>
<circle cx="165.8" cy="210.1" class="b"/>
<circle cx="185.4" cy="200.0" class="b"/>
<circle cx="211.7" cy="207.2" class="b"/>
<circle cx="176.3" cy="212.4" class="b"/>
<circle cx="192.0" cy="209.2" class="b"/>
<circle cx="147.5" cy="201.7" class="b"/>
<circle cx="169.7" cy="206.1" class="b"/>
<circle cx="182.1" cy="211.3" class="b"/>
<circle cx="190.4" cy="208.5" class="b"/>
<circle cx="183.5" cy="214.1" class="b"/>
<circle cx="193.0" cy="208.8" class="b"/>
<circle cx="164.7" cy="210.4" class="b"/>
<circle cx="185.2" cy="198.8" class="b"/>
<circle cx="175.5" cy="214.9" class="b"/>
<circle cx="147.8" cy="204.9" class="b"/>
<circle cx="204.5" cy="207.4" class="b"/>
<circle cx="189.4" cy="217.9" class="b"/>
<circle cx="193.5" cy="207.7" class="b"/>
<circle cx="182.2" cy="214.1" class="b"/>
<circle cx="170.6" cy="210.2" class="b"/>
<circle cx="190.9" cy="210.6" class="b"/>
<circle cx="182.9" cy="213.8" class="b"/>
<circle cx="161.6" cy="204.9" class="b"/>
<circle cx="196.8" cy="205.0" class="b"/>
<circle cx="151.8" cy="212.4" class="b"/>
<circle cx="184.6" cy="206.4" class="b"/>
<circle cx="204.6" cy="215.0" class="b"/>
<circle cx="211.5" cy="203.0" class="b"/>
<circle cx="203.7" cy="204.5" class="b"/>
<circle cx="145.9" cy="212.0" class="b"/>
<circle cx="184.4" cy="208.7" class="b"/>
<circle cx="181.4" cy="215.5" class="b"/>
<circle cx="189.6" cy="216.2" class="b"/>
<circle cx="179.1" cy="220.4" class="b"/>
<circle cx="188.3" cy="217.1" class="b"/>
<circle cx="179.9" cy="210.5" class="b"/>
<circle cx="188.9" cy="203.2" class="b"/>
<circle cx="207.2" cy="209.9" class="b"/>
<circle cx="162.3" cy="200.3" class="b"/>
<circle cx="175.3" cy="208.7" class="b"/>
<circle cx="181.2" cy="218.9" class="b"/>
<circle cx="186.4" cy="210.3" class="b"/>
<circle cx="162.3" cy="210.4" class="b"/>
<circle cx="204.7" cy="206.0" class="b"/>
<circle cx="190.2" cy="217.1" class="b"/>
<circle cx="150.8" cy="207.6" class="b"/>
<circle cx="207.6" cy="230.2" class="b"/>
<circle cx="188.8" cy="202.8" class="b"/>
<circle cx="180.8" cy="208.8" class="b"/>
<circle cx="184.3" cy="211.7" class="b"/>
<circle cx="192.7" cy="211.2" class="b"/>
<circle cx="191.4" cy="208.3" class="b"/>
<circle cx="188.5" cy="206.9" class="b"/>
<circle cx="193.3" cy="217.6" class="b"/>
<circle cx="184.2" cy="203.9" class="b"/>
<circle cx="190.6" cy="208.0" class="b"/>
<circle cx="175.9" cy="192.8" class="b"/>
<circle cx="201.8" cy="206.5" class="b"/>
<circle cx="179.8" cy="211.5" class="b"/>
<circle cx="163.0" cy="198.9" class="b"/>
<circle cx="193.2" cy="210.8" class="b"/>
<circle cx="201.2" cy="202.0" class="b"/>
<circle cx="180.1" cy="220.0" class="b"/>
<circle cx="180.3" cy="203.5" class="b"/>
<circle cx="175.9" cy="202.9" class="b"/>
<circle cx="151.5" cy="203.5" class="b"/>
<circle cx="148.4" cy="216.2" class="b"/>
<circle cx="186.3" cy="209.2" class="b"/>
<circle cx="191.2" cy="205.0" class="b"/>
<circle cx="195.1" cy="205.6" class="b"/>
<circle cx="189.4" cy="215.9" class="b"/>
<circle cx="183.0" cy="200.6" class="b"/>
<circle cx="208.5" cy="215.8" class="b"/>
<circle cx="168.7" cy="210.6" class="b"/>
<circle cx="184.1" cy="206.1" class="b"/>
<circle cx="199.8" cy="207.9" class="b"/>
<circle cx="176.6" cy="218.6" class="b"/>
<circle cx="192.8" cy="215.0" class="b"/>
<circle cx="192.9" cy="204.6" class="b"/>
<circle cx="185.9" cy="216.2" class="b"/>
<circle cx="182.1" cy="213.6" class="b"/>
<circle cx="141.8" cy="213.8" class="b"/>
<circle cx="206.9" cy="210.4" class="b"/>
<circle cx="202.5" cy="210.1" class="b"/>
<circle cx="183.0" cy="214.1" class="o"/>
<circle cx="170.3" cy="211.5" class="b"/>
<circle cx="185.4" cy="218.3" class="b"/>
<circle cx="170.6" cy="219.6" class="b"/>
<circle cx="149.0" cy="205.4" class="b"/>
<circle cx="173.4" cy="213.0" class="b"/>
<circle cx="194.1" cy="202.1" class="b"/>
<circle cx="197.5" cy="198.2" class="b"/>
<circle cx="176.1" cy="205.0" class="b"/>
<circle cx="198.8" cy="212.2" class="b"/>
<circle cx="190.3" cy="210.7" class="b"/>
<circle cx="180.0" cy="220.1" class="b"/>
<circle cx="187.1" cy="206.1" class="b"/>
<circle cx="192.6" cy="227.4" class="b"/>
<circle cx="190.7" cy="219.8" class="b"/>
<circle cx="159.3" cy="205.0" class="b"/>
<circle cx="198.5" cy="205.9" class="b"/>
<circle cx="180.9" cy="208.2" class="b"/>
<circle cx="188.6" cy="203.8" class="b"/>
<circle cx="179.3" cy="205.7" class="b"/>
<circle cx="195.4" cy="205.0" class="b"/>
<circle cx="166.0" cy="214.5" class="b"/>
<circle cx="162.2" cy="200.4" class="b"/>
<circle cx="199.8" cy="209.8" class="b"/>
<circle cx="193.1" cy="212.3" class="b"/>
<circle cx="174.3" cy="206.3" class="b"/>
<circle cx="167.0" cy="209.1" class="b"/>
<circle cx="199.4" cy="209.3" class="b"/>
<circle cx="174.0" cy="212.0" class="b"/>
<circle cx="192.2" cy="215.7" class="b"/>
<circle cx="184.5" cy="207.8" class="b"/>
<circle cx="197.4" cy="207.8" class="b"/>
<circle cx="189.9" cy="206.9" class="b"/>
<circle cx="163.6" cy="222.4" class="b"/>
<circle cx="189.0" cy="198.5" class="b"/>
<circle cx="187.9" cy="211.4" class="b"/>
<circle cx="164.7" cy="207.1" class="b"/>
<circle cx="170.4" cy="214.3" class="o"/>
<circle cx="152.1" cy="205.1" class="b"/>
<circle cx="190.2" cy="212.3" class="b"/>
<circle cx="209.8" cy="213.8" class="b"/>
<circle cx="169.2" cy="209.9" class="b"/>
<circle cx="170.3" cy="213.5" class="b"/>
<circle cx="202.9" cy="219.0" class="b"/>
<circle cx="172.3" cy="215.4" class="b"/>
<circle cx="190.3" cy="210.9" class="b"/>
<circle cx="164.7" cy="213.2" class="b"/>
<circle cx="190.7" cy="211.1" class="b"/>
<circle cx="185.0" cy="205.2" class="o"/>
<circle cx="191.7" cy="203.2" class="b"/>
<circle cx="209.3" cy="208.8" class="b"/>
<circle cx="184.5" cy="209.4" class="b"/>
<circle cx="201.2" cy="206.3" class="b"/>
<circle cx="190.7" cy="212.0" class="b"/>
<circle cx="159.5" cy="208.6" class="b"/>
<circle cx="188.8" cy="206.9" class="b"/>
<circle cx="192.8" cy="214.7" class="b"/>
<circle cx="163.7" cy="212.7" class="b"/>
<circle cx="176.2" cy="219.8" class="b"/>
<circle cx="144.4" cy="213.3" class="o"/>
<circle cx="177.8" cy="207.7" class="b"/>
<circle cx="189.5" cy="208.8" class="b"/>
<circle cx="183.5" cy="209.7" class="b"/>
<circle cx="190.3" cy="209.5" class="b"/>
<circle cx="184.7" cy="212.6" class="b"/>
<circle cx="196.6" cy="213.3" class="b"/>
<circle cx="187.7" cy="211.2" class="b"/>
<circle cx="155.4" cy="205.1" class="b"/>
<circle cx="187.9" cy="203.0" class="b"/>
<circle cx="163.5" cy="197.6" class="b"/>
<circle cx="161.3" cy="207.3" class="b"/>
<circle cx="148.0" cy="207.9" class="o"/>
<circle cx="175.8" cy="205.4" class="b"/>
<circle cx="203.6" cy="208.7" class="b"/>
<circle cx="146.8" cy="204.4" class="b"/>
<circle cx="140.8" cy="203.8" class="b"/>
<circle cx="203.1" cy="212.4" class="b"/>
<circle cx="181.8" cy="209.3" class="b"/>
<circle cx="187.8" cy="215.3" class="b"/>
<circle cx="196.6" cy="218.4" class="b"/>
<circle cx="198.7" cy="207.5" class="b"/>
<circle cx="138.9" cy="204.7" class="b"/>
<circle cx="192.4" cy="204.4" class="b"/>
<circle cx="188.6" cy="221.3" class="o"/>
<circle cx="166.8" cy="205.2" class="b"/>
<circle cx="157.9" cy="211.0" class="b"/>
<circle cx="208.6" cy="216.0" class="b"/>
<circle cx="184.4" cy="214.5" class="b"/>
<circle cx="200.1" cy="203.4" class="b"/>
<circle cx="150.9" cy="221.2" class="b"/>
<circle cx="189.3" cy="207.5" class="b"/>
<circle cx="193.0" cy="211.6" class="b"/>
<circle cx="181.1" cy="210.2" class="b"/>
<circle cx="180.3" cy="216.5" class="b"/>
<circle cx="199.9" cy="209.9" class="b"/>
<circle cx="187.6" cy="204.4" class="b"/>
<circle cx="165.9" cy="205.4" class="b"/>
<circle cx="189.3" cy="216.1" class="b"/>
<circle cx="187.3" cy="211.5" class="b"/>
<circle cx="159.5" cy="205.6" class="b"/>
<circle cx="175.3" cy="209.1" class="b"/>
<circle cx="182.3" cy="202.1" class="b"/>
<circle cx="192.4" cy="207.7" class="b"/>
<circle cx="193.4" cy="221.1" class="o"/>
<circle cx="191.2" cy="211.2" class="b"/>
<circle cx="184.9" cy="208.7" class="b"/>
<circle cx="191.2" cy="212.5" class="b"/>
<circle cx="195.1" cy="206.4" class="b"/>
<circle cx="189.3" cy="214.1" class="b"/>
<circle cx="153.7" cy="205.9" class="b"/>
<circle cx="183.6" cy="201.9" class="b"/>
<circle cx="142.5" cy="215.1" class="b"/>
<circle cx="156.6" cy="210.2" class="b"/>
<circle cx="196.3" cy="203.1" class="b"/>
<circle cx="203.7" cy="209.9" class="b"/>
<circle cx="200.2" cy="207.6" class="b"/>
<circle cx="144.6" cy="205.4" class="b"/>
<circle cx="169.6" cy="205.0" class="b"/>
<circle cx="173.8" cy="214.9" class="b"/>
<circle cx="162.9" cy="206.6" class="b"/>
<circle cx="189.8" cy="211.7" class="b"/>
<circle cx="204.0" cy="212.7" class="o"/>
<circle cx="174.0" cy="201.5" class="b"/>
<circle cx="184.8" cy="208.6" class="b"/>
<circle cx="172.5" cy="207.2" class="b"/>
<circle cx="157.1" cy="209.0" class="b"/>
<circle cx="189.1" cy="211.1" class="b"/>
<circle cx="208.7" cy="203.8" class="b"/>
<circle cx="195.4" cy="210.4" class="b"/>
<circle cx="195.8" cy="213.6" class="b"/>
<circle cx="147.9" cy="218.2" class="b"/>
<circle cx="186.1" cy="210.1" class="b"/>
<circle cx="177.3" cy="211.4" class="o"/>
<circle cx="170.3" cy="211.6" class="b"/>
<circle cx="190.8" cy="209.7" class="b"/>
<circle cx="193.3" cy="204.8" class="b"/>
<circle cx="167.8" cy="219.7" class="b"/>
<circle cx="196.1" cy="214.5" class="b"/>
<circle cx="180.6" cy="199.6" class="b"/>
<circle cx="177.3" cy="207.9" class="b"/>
<circle cx="199.7" cy="219.2" class="b"/>
<circle cx="194.6" cy="217.2" class="b"/>
<circle cx="191.4" cy="215.7" class="b"/>
<circle cx="182.6" cy="213.5" class="b"/>
<circle cx="174.3" cy="208.2" class="b"/>
<circle cx="191.1" cy="208.1" class="b"/>
<circle cx="183.9" cy="215.3" class="b"/>
<circle cx="156.4" cy="207.6" class="b"/>
<circle cx="173.1" cy="202.2" class="b"/>
<circle cx="165.3" cy="204.1" class="b"/>
<circle cx="201.6" cy="198.5" class="b"/>
<circle cx="156.9" cy="212.9" class="b"/>
<circle cx="178.1" cy="210.2" class="b"/>
<circle cx="167.2" cy="215.3" class="b"/>
<circle cx="159.5" cy="211.2" class="b"/>
<circle cx="182.8" cy="205.1" class="b"/>
<circle cx="192.2" cy="203.2" class="b"/>
<circle cx="166.3" cy="212.7" class="b"/>
<circle cx="189.6" cy="216.9" class="b"/>
<circle cx="185.8" cy="219.1" class="b"/>
<circle cx="189.9" cy="206.9" class="b"/>
<circle cx="168.0" cy="209.3" class="b"/>
<circle cx="191.7" cy="213.5" class="b"/>
<circle cx="176.2" cy="220.3" class="b"/>
<circle cx="202.2" cy="207.0" class="b"/>
<circle cx="191.4" cy="210.0" class="b"/>
<circle cx="186.9" cy="198.1" class="b"/>
<circle cx="178.0" cy="215.2" class="b"/>
<circle cx="185.7" cy="206.3" class="b"/>
<circle cx="138.5" cy="206.0" class="b"/>
<circle cx="171.3" cy="210.5" class="b"/>
<circle cx="149.2" cy="208.7" class="o"/>
<circle cx="192.3" cy="214.0" class="b"/>
<circle cx="193.0" cy="212.6" class="b"/>
<circle cx="157.8" cy="208.7" class="b"/>
<circle cx="188.4" cy="210.8" class="b"/>
<circle cx="153.1" cy="199.4" class="b"/>
<circle cx="193.5" cy="209.8" class="o"/>
<circle cx="182.5" cy="209.6" class="b"/>
<circle cx="193.9" cy="217.1" class="b"/>
<circle cx="161.8" cy="204.1" class="b"/>
<circle cx="186.6" cy="207.2" class="b"/>
<circle cx="166.0" cy="215.1" class="b"/>
<circle cx="191.2" cy="206.0" class="o"/>
<circle cx="174.5" cy="209.2" class="b"/>
<circle cx="188.6" cy="200.9" class="b"/>
<circle cx="204.0" cy="204.0" class="b"/>
<circle cx="200.4" cy="220.9" class="b"/>
<circle cx="186.3" cy="209.2" class="b"/>
<circle cx="171.5" cy="210.0" class="b"/>
<circle cx="188.5" cy="205.7" class="b"/>
<circle cx="206.2" cy="212.3" class="b"/>
<circle cx="209.3" cy="212.4" class="b"/>
<circle cx="177.4" cy="207.3" class="b"/>
<circle cx="188.4" cy="218.8" class="b"/>
<circle cx="208.4" cy="206.6" class="b"/>
<circle cx="197.2" cy="215.7" class="b"/>
<circle cx="164.3" cy="204.7" class="b"/>
<circle cx="196.7" cy="204.6" class="b"/>
<circle cx="186.8" cy="218.1" class="b"/>
<circle cx="138.0" cy="206.4" class="b"/>
<circle cx="171.0" cy="198.6" class="b"/>
<circle cx="185.7" cy="205.3" class="b"/>
<circle cx="190.6" cy="201.5" class="b"/>
<circle cx="147.1" cy="212.3" class="b"/>
<circle cx="212.2" cy="220.7" class="b"/>
<circle cx="186.5" cy="205.6" class="b"/>
<circle cx="173.2" cy="232.5" class="b"/>
<circle cx="171.7" cy="207.2" class="b"/>
<circle cx="173.0" cy="214.8" class="b"/>
<circle cx="174.7" cy="218.9" class="b"/>
<circle cx="163.8" cy="212.4" class="b"/>
<circle cx="202.3" cy="203.4" class="b"/>
<circle cx="191.8" cy="212.1" class="b"/>
<circle cx="164.1" cy="207.8" class="b"/>
<circle cx="182.9" cy="205.7" class="b"/>
<circle cx="176.2" cy="205.5" class="b"/>
<circle cx="179.5" cy="219.8" class="b"/>
<circle cx="181.3" cy="204.8" class="b"/>
<circle cx="176.8" cy="213.5" class="b"/>
<circle cx="189.0" cy="205.7" class="b"/>
<circle cx="174.6" cy="215.8" class="b"/>
<circle cx="181.9" cy="198.8" class="b"/>
<circle cx="199.4" cy="212.2" class="b"/>
<circle cx="147.9" cy="204.5" class="b"/>
<circle cx="177.9" cy="205.7" class="b"/>
<circle cx="190.8" cy="214.9" class="b"/>
<circle cx="148.2" cy="208.8" class="b"/>
<circle cx="168.5" cy="206.2" class="b"/>
<circle cx="199.5" cy="207.8" class="b"/>
<circle cx="176.4" cy="209.9" class="b"/>
<circle cx="191.7" cy="224.2" class="b"/>
<circle cx="177.3" cy="209.5" class="b"/>
<circle cx="201.8" cy="214.0" class="b"/>
<circle cx="186.8" cy="201.8" class="b"/>
<circle cx="189.1" cy="214.9" class="b"/>
<circle cx="201.7" cy="205.0" class="b"/>
<circle cx="209.5" cy="212.1" class="b"/>
<circle cx="172.4" cy="215.1" class="b"/>
<circle cx="186.2" cy="211.4" class="b"/>
<circle cx="180.9" cy="208.9" class="o"/>
<circle cx="162.5" cy="210.8" class="b"/>
<circle cx="143.8" cy="211.8" class="b"/>
<circle cx="183.2" cy="203.8" class="b"/>
<circle cx="176.1" cy="197.7" class="b"/>
<circle cx="192.1" cy="215.3" class="b"/>
<circle cx="192.8" cy="210.7" class="b"/>
<circle cx="187.8" cy="212.6" class="b"/>
<circle cx="192.2" cy="223.4" class="b"/>
<circle cx="198.2" cy="202.3" class="b"/>
<circle cx="195.9" cy="210.0" class="b"/>
<circle cx="171.8" cy="206.0" class="b"/>
<circle cx="165.6" cy="204.9" class="b"/>
<circle cx="157.1" cy="199.8" class="b"/>
<circle cx="177.4" cy="206.4" class="b"/>
<circle cx="199.3" cy="211.0" class="b"/>
<circle cx="173.6" cy="211.7" class="b"/>
<circle cx="189.7" cy="207.9" class="b"/>
<circle cx="161.6" cy="211.8" class="b"/>
<circle cx="202.3" cy="206.5" class="b"/>
<circle cx="140.3" cy="203.3" class="b"/>
<circle cx="165.2" cy="207.9" class="b"/>
<circle cx="170.8" cy="215.2" class="b"/>
<circle cx="185.8" cy="212.4" class="b"/>
<circle cx="190.0" cy="217.6" class="b"/>
<circle cx="152.3" cy="213.1" class="b"/>
<circle cx="149.3" cy="207.1" class="b"/>
<circle cx="157.1" cy="210.9" class="b"/>
<circle cx="179.5" cy="206.7" class="b"/>
<circle cx="145.1" cy="197.1" class="b"/>
<circle cx="187.3" cy="202.5" class="b"/>
<circle cx="187.5" cy="212.6" class="b"/>
<circle cx="187.6" cy="206.3" class="b"/>
<circle cx="163.3" cy="215.2" class="o"/>
<circle cx="205.5" cy="208.2" class="b"/>
<circle cx="206.8" cy="216.3" class="b"/>
<circle cx="165.2" cy="211.4" class="o"/>
<circle cx="163.8" cy="197.5" class="b"/>
<circle cx="156.7" cy="202.2" class="b"/>
<circle cx="150.5" cy="204.0" class="b"/>
<circle cx="180.1" cy="207.7" class="b"/>
<circle cx="187.2" cy="204.9" class="b"/>
<circle cx="180.0" cy="212.3" class="b"/>
<circle cx="182.8" cy="205.2" class="b"/>
<circle cx="173.1" cy="203.8" class="b"/>
<circle cx="154.9" cy="210.4" class="b"/>
<circle cx="146.8" cy="209.9" class="b"/>
<circle cx="188.0" cy="208.1" class="b"/>
<circle cx="178.9" cy="211.6" class="b"/>
<circle cx="185.4" cy="213.2" class="b"/>
<circle cx="186.2" cy="208.8" class="b"/>
<circle cx="194.6" cy="215.0" class="b"/>
<circle cx="185.2" cy="213.5" class="b"/>
<circle cx="189.8" cy="209.8" class="b"/>
<circle cx="190.9" cy="212.1" class="b"/>
<circle cx="159.3" cy="208.7" class="b"/>
<circle cx="163.8" cy="202.7" class="b"/>
<circle cx="189.9" cy="220.6" class="b"/>
<circle cx="203.2" cy="206.9" class="b"/>
<circle cx="164.8" cy="216.7" class="b"/>
<circle cx="192.9" cy="205.3" class="b"/>
<circle cx="143.1" cy="204.0" class="b"/>
<circle cx="181.2" cy="211.9" class="b"/>
<circle cx="199.9" cy="219.5" class="b"/>
<circle cx="195.9" cy="207.9" class="b"/>
<circle cx="157.3" cy="211.6" class="b"/>
<circle cx="197.8" cy="213.5" class="b"/>
<circle cx="171.9" cy="207.7" class="b"/>
<circle cx="201.9" cy="218.5" class="b"/>
<circle cx="172.1" cy="213.3" class="b"/>
<circle cx="190.4" cy="217.8" class="b"/>
<circle cx="189.2" cy="223.7" class="b"/>
<circle cx="204.8" cy="219.6" class="b"/>
<circle cx="157.4" cy="207.1" class="b"/>
<circle cx="186.2" cy="204.6" class="b"/>
<circle cx="182.2" cy="214.7" class="b"/>
<circle cx="187.4" cy="208.8" class="b"/>
<circle cx="154.5" cy="206.5" class="b"/>
<circle cx="174.4" cy="220.0" class="b"/>
<circle cx="183.8" cy="210.8" class="b"/>
<circle cx="140.7" cy="194.3" class="o"/>
<circle cx="153.7" cy="223.2" class="o"/>
<circle cx="182.2" cy="234.5" class="o"/>
<circle cx="182.2" cy="238.0" class="b"/>
<circle cx="177.4" cy="191.2" class="b"/>
<circle cx="193.5" cy="192.6" class="b"/>
<circle cx="204.8" cy="238.0" class="b"/>
<polygon points="138.06,204.4 175.27,208.55 212.47,209.9 212.47,214.7 175.27,210.55 138.06,209.2" fill="#ff0000" fill-opacity="0.13"/>
<line x1="138.06" y1="206.8" x2="212.47" y2="212.3" stroke="#e81010" stroke-width="1.3"/>
</g>
<rect x="134.2" y="188.7" width="82.3" height="51.8" fill="none" stroke="#a0a0a0" stroke-width="1.1"/>
<line x1="139.8" y1="240.5" x2="139.8" y2="242.1" stroke="#555" stroke-width="0.5"/>
<text x="139.8" y="246.1" font-size="4.45" text-anchor="middle" stroke="#262626" stroke-width="0.06" textLength="2.48" lengthAdjust="spacingAndGlyphs" fill="#262626">2</text>
<line x1="160.2" y1="240.5" x2="160.2" y2="242.1" stroke="#555" stroke-width="0.5"/>
<text x="160.2" y="246.1" font-size="4.45" text-anchor="middle" stroke="#262626" stroke-width="0.06" textLength="2.48" lengthAdjust="spacingAndGlyphs" fill="#262626">4</text>
<line x1="180.8" y1="240.5" x2="180.8" y2="242.1" stroke="#555" stroke-width="0.5"/>
<text x="180.8" y="246.1" font-size="4.45" text-anchor="middle" stroke="#262626" stroke-width="0.06" textLength="2.48" lengthAdjust="spacingAndGlyphs" fill="#262626">6</text>
<line x1="201.3" y1="240.5" x2="201.3" y2="242.1" stroke="#555" stroke-width="0.5"/>
<text x="201.3" y="246.1" font-size="4.45" text-anchor="middle" stroke="#262626" stroke-width="0.06" textLength="2.48" lengthAdjust="spacingAndGlyphs" fill="#262626">8</text>
<line x1="132" y1="201.5" x2="134.2" y2="201.5" stroke="#666" stroke-width="0.5"/>
<text x="131.5" y="203.25" font-size="4.45" text-anchor="end" stroke="#262626" stroke-width="0.06" textLength="6.2" lengthAdjust="spacingAndGlyphs" fill="#262626">3.0</text>
<line x1="132" y1="215" x2="134.2" y2="215" stroke="#666" stroke-width="0.5"/>
<text x="131.5" y="216.75" font-size="4.45" text-anchor="end" stroke="#262626" stroke-width="0.06" textLength="6.2" lengthAdjust="spacingAndGlyphs" fill="#262626">2.5</text>
<line x1="132" y1="228.4" x2="134.2" y2="228.4" stroke="#666" stroke-width="0.5"/>
<text x="131.5" y="230.15" font-size="4.45" text-anchor="end" stroke="#262626" stroke-width="0.06" textLength="6.2" lengthAdjust="spacingAndGlyphs" fill="#262626">2.0</text>
<text x="175.35" y="251.3" font-size="4.45" text-anchor="middle" stroke="#262626" stroke-width="0.06" textLength="7.27" lengthAdjust="spacingAndGlyphs" fill="#262626">age</text>
<text x="123.4" y="214.6" font-size="4.45" text-anchor="middle" stroke="#262626" stroke-width="0.06" textLength="31.19" lengthAdjust="spacingAndGlyphs" transform="rotate(-90 123.4 214.6)" fill="#262626">insula thickness</text>
<text x="212.5" y="250.7" font-size="4.45" text-anchor="middle" stroke="#262626" stroke-width="0.06" textLength="7.36" lengthAdjust="spacingAndGlyphs" fill="#262626">1e1</text>
<text x="175.35" y="186.3" font-size="5.62" text-anchor="middle" font-weight="bold" stroke="#111" stroke-width="0.14" textLength="27.71" lengthAdjust="spacingAndGlyphs" fill="#111">ρ=-0.139</text>
<rect x="134.2" y="265.3" width="82.3" height="52" fill="#fff"/>
<line x1="139.8" y1="265.3" x2="139.8" y2="317.3" stroke="#dcdcdc" stroke-width="0.8"/>
<line x1="160.2" y1="265.3" x2="160.2" y2="317.3" stroke="#dcdcdc" stroke-width="0.8"/>
<line x1="180.8" y1="265.3" x2="180.8" y2="317.3" stroke="#dcdcdc" stroke-width="0.8"/>
<line x1="201.3" y1="265.3" x2="201.3" y2="317.3" stroke="#dcdcdc" stroke-width="0.8"/>
<line x1="134.2" y1="272" x2="216.5" y2="272" stroke="#dcdcdc" stroke-width="0.8"/>
<line x1="134.2" y1="282.8" x2="216.5" y2="282.8" stroke="#dcdcdc" stroke-width="0.8"/>
<line x1="134.2" y1="293.5" x2="216.5" y2="293.5" stroke="#dcdcdc" stroke-width="0.8"/>
<line x1="134.2" y1="304.2" x2="216.5" y2="304.2" stroke="#dcdcdc" stroke-width="0.8"/>
<line x1="134.2" y1="314.9" x2="216.5" y2="314.9" stroke="#dcdcdc" stroke-width="0.8"/>
<clipPath id="cp3"><rect x="134.2" y="265.3" width="82.3" height="52"/></clipPath>
<g clip-path="url(#cp3)">
<circle cx="161.2" cy="277.6" class="o"/>
<circle cx="185.6" cy="275.9" class="o"/>
<circle cx="151.3" cy="283.9" class="o"/>
<circle cx="193.9" cy="285.8" class="o"/>
<circle cx="191.5" cy="290.0" class="o"/>
<circle cx="160.5" cy="284.1" class="o"/>
<circle cx="198.6" cy="285.0" class="o"/>
<circle cx="187.4" cy="279.0" class="o"/>
<circle cx="196.9" cy="277.2" class="o"/>
<circle cx="165.6" cy="282.3" class="o"/>
<circle cx="185.8" cy="287.6" class="o"/>
<circle cx="187.8" cy="279.6" class="o"/>
<circle cx="190.5" cy="280.4" class="o"/>
<circle cx="166.7" cy="280.9" class="o"/>
<circle cx="204.4" cy="286.4" class="o"/>
<circle cx="203.2" cy="281.0" class="o"/>
<circle cx="192.7" cy="286.5" class="o"/>
<circle cx="196.5" cy="281.7" class="o"/>
<circle cx="168.6" cy="282.7" class="o"/>
<circle cx="172.4" cy="281.6" class="o"/>
<circle cx="162.7" cy="283.5" class="o"/>
<circle cx="182.1" cy="285.0" class="o"/>
<circle cx="161.5" cy="279.9" class="o"/>
<circle cx="182.3" cy="282.3" class="o"/>
<circle cx="179.2" cy="281.3" class="o"/>
<circle cx="200.4" cy="287.7" class="o"/>
<circle cx="187.1" cy="278.6" class="o"/>
<circle cx="141.0" cy="285.2" class="o"/>
<circle cx="143.7" cy="279.0" class="o"/>
<circle cx="176.0" cy="280.9" class="o"/>
<circle cx="146.7" cy="283.5" class="o"/>
<circle cx="198.5" cy="283.2" class="o"/>
<circle cx="179.2" cy="283.8" class="o"/>
<circle cx="175.9" cy="283.8" class="o"/>
<circle cx="164.1" cy="285.3" class="o"/>
<circle cx="187.0" cy="285.4" class="o"/>
<circle cx="176.1" cy="285.7" class="o"/>
<circle cx="188.3" cy="285.9" class="o"/>
<circle cx="146.7" cy="282.2" class="o"/>
<circle cx="181.1" cy="283.4" class="o"/>
<circle cx="146.7" cy="281.5" class="o"/>
<circle cx="210.6" cy="283.4" class="o"/>
<circle cx="192.8" cy="286.5" class="o"/>
<circle cx="199.0" cy="280.9" class="o"/>
<circle cx="176.1" cy="287.2" class="o"/>
<circle cx="191.1" cy="282.4" class="o"/>
<circle cx="180.8" cy="286.3" class="o"/>
<circle cx="188.2" cy="279.0" class="o"/>
<circle cx="190.1" cy="281.3" class="o"/>
<circle cx="186.0" cy="287.6" class="o"/>
<circle cx="171.8" cy="278.3" class="o"/>
<circle cx="194.8" cy="280.0" class="o"/>
<circle cx="173.0" cy="283.7" class="o"/>
<circle cx="183.5" cy="277.9" class="b"/>
<circle cx="161.0" cy="282.3" class="b"/>
<circle cx="189.3" cy="279.9" class="b"/>
<circle cx="195.0" cy="281.4" class="b"/>
<circle cx="165.8" cy="273.2" class="b"/>
<circle cx="169.4" cy="286.1" class="b"/>
<circle cx="141.4" cy="273.9" class="b"/>
<circle cx="142.8" cy="278.5" class="b"/>
<circle cx="176.0" cy="279.7" class="b"/>
<circle cx="156.7" cy="281.7" class="b"/>
<circle cx="159.1" cy="280.5" class="b"/>
<circle cx="167.3" cy="275.1" class="b"/>
<circle cx="161.7" cy="274.6" class="b"/>
<circle cx="192.5" cy="293.9" class="b"/>
<circle cx="196.1" cy="284.9" class="b"/>
<circle cx="182.1" cy="275.7" class="b"/>
<circle cx="192.1" cy="279.6" class="b"/>
<circle cx="182.9" cy="277.9" class="b"/>
<circle cx="171.1" cy="283.5" class="b"/>
<circle cx="204.0" cy="289.6" class="b"/>
<circle cx="193.2" cy="280.4" class="b"/>
<circle cx="176.6" cy="286.9" class="b"/>
<circle cx="190.4" cy="280.6" class="b"/>
<circle cx="154.3" cy="278.8" class="b"/>
<circle cx="174.8" cy="279.4" class="b"/>
<circle cx="184.9" cy="280.1" class="b"/>
<circle cx="185.4" cy="275.4" class="b"/>
<circle cx="201.3" cy="284.6" class="b"/>
<circle cx="189.0" cy="274.5" class="b"/>
<circle cx="188.7" cy="282.3" class="b"/>
<circle cx="182.3" cy="275.5" class="b"/>
<circle cx="178.8" cy="277.7" class="b"/>
<circle cx="155.2" cy="278.9" class="b"/>
<circle cx="189.7" cy="278.2" class="b"/>
<circle cx="186.0" cy="277.8" class="b"/>
<circle cx="197.9" cy="277.4" class="b"/>
<circle cx="179.4" cy="277.6" class="b"/>
<circle cx="196.8" cy="280.1" class="b"/>
<circle cx="157.3" cy="276.2" class="b"/>
<circle cx="144.9" cy="280.1" class="b"/>
<circle cx="157.4" cy="273.9" class="b"/>
<circle cx="199.0" cy="274.9" class="b"/>
<circle cx="154.5" cy="276.5" class="b"/>
<circle cx="187.9" cy="280.0" class="b"/>
<circle cx="185.4" cy="279.3" class="b"/>
<circle cx="162.6" cy="278.7" class="o"/>
<circle cx="179.7" cy="276.3" class="b"/>
<circle cx="165.7" cy="279.3" class="b"/>
<circle cx="151.2" cy="280.4" class="b"/>
<circle cx="161.0" cy="281.8" class="b"/>
<circle cx="177.2" cy="289.5" class="b"/>
<circle cx="198.1" cy="285.0" class="b"/>
<circle cx="189.9" cy="284.5" class="b"/>
<circle cx="191.7" cy="279.7" class="b"/>
<circle cx="186.0" cy="280.3" class="b"/>
<circle cx="184.9" cy="283.6" class="b"/>
<circle cx="160.6" cy="278.0" class="b"/>
<circle cx="176.1" cy="279.7" class="b"/>
<circle cx="169.7" cy="278.2" class="b"/>
<circle cx="187.7" cy="277.2" class="b"/>
<circle cx="140.2" cy="276.8" class="b"/>
<circle cx="184.4" cy="282.8" class="b"/>
<circle cx="173.3" cy="280.8" class="b"/>
<circle cx="198.8" cy="285.5" class="b"/>
<circle cx="170.9" cy="280.9" class="b"/>
<circle cx="181.4" cy="282.8" class="o"/>
<circle cx="194.4" cy="277.5" class="b"/>
<circle cx="194.8" cy="284.8" class="b"/>
<circle cx="189.1" cy="280.5" class="b"/>
<circle cx="170.9" cy="278.6" class="b"/>
<circle cx="187.5" cy="283.8" class="o"/>
<circle cx="201.4" cy="281.2" class="b"/>
<circle cx="188.3" cy="285.7" class="b"/>
<circle cx="179.3" cy="281.7" class="b"/>
<circle cx="179.2" cy="279.8" class="b"/>
<circle cx="157.6" cy="283.1" class="b"/>
<circle cx="209.7" cy="281.7" class="b"/>
<circle cx="184.0" cy="275.5" class="b"/>
<circle cx="183.0" cy="289.6" class="b"/>
<circle cx="179.7" cy="279.2" class="b"/>
<circle cx="200.0" cy="279.2" class="b"/>
<circle cx="168.3" cy="279.8" class="b"/>
<circle cx="156.5" cy="278.4" class="b"/>
<circle cx="167.6" cy="281.2" class="b"/>
<circle cx="152.7" cy="276.3" class="b"/>
<circle cx="203.6" cy="283.6" class="b"/>
<circle cx="201.7" cy="283.5" class="o"/>
<circle cx="191.6" cy="282.5" class="b"/>
<circle cx="191.2" cy="285.7" class="b"/>
<circle cx="165.5" cy="283.1" class="b"/>
<circle cx="146.7" cy="284.7" class="b"/>
<circle cx="182.4" cy="280.9" class="b"/>
<circle cx="210.9" cy="281.0" class="b"/>
<circle cx="195.6" cy="277.3" class="b"/>
<circle cx="163.8" cy="281.4" class="b"/>
<circle cx="182.8" cy="275.2" class="b"/>
<circle cx="196.3" cy="277.8" class="b"/>
<circle cx="188.7" cy="280.2" class="b"/>
<circle cx="185.8" cy="276.8" class="b"/>
<circle cx="197.7" cy="281.7" class="b"/>
<circle cx="183.2" cy="281.2" class="b"/>
<circle cx="192.5" cy="281.8" class="b"/>
<circle cx="188.1" cy="282.3" class="b"/>
<circle cx="199.6" cy="284.7" class="b"/>
<circle cx="189.0" cy="284.3" class="b"/>
<circle cx="193.5" cy="277.9" class="b"/>
<circle cx="183.1" cy="281.9" class="b"/>
<circle cx="184.7" cy="280.0" class="b"/>
<circle cx="169.5" cy="275.2" class="b"/>
<circle cx="184.1" cy="282.0" class="b"/>
<circle cx="177.2" cy="277.6" class="b"/>
<circle cx="160.5" cy="280.4" class="b"/>
<circle cx="151.3" cy="285.0" class="b"/>
<circle cx="192.9" cy="280.3" class="b"/>
<circle cx="202.7" cy="277.6" class="b"/>
<circle cx="188.7" cy="278.7" class="b"/>
<circle cx="160.3" cy="284.7" class="b"/>
<circle cx="181.4" cy="274.8" class="b"/>
<circle cx="186.8" cy="280.0" class="b"/>
<circle cx="188.2" cy="280.2" class="b"/>
<circle cx="161.0" cy="286.0" class="b"/>
<circle cx="196.0" cy="286.4" class="b"/>
<circle cx="184.1" cy="274.0" class="b"/>
<circle cx="168.0" cy="278.7" class="b"/>
<circle cx="159.4" cy="276.8" class="b"/>
<circle cx="167.9" cy="275.7" class="b"/>
<circle cx="177.3" cy="278.0" class="b"/>
<circle cx="185.0" cy="283.0" class="b"/>
<circle cx="151.4" cy="276.3" class="b"/>
<circle cx="184.9" cy="281.5" class="b"/>
<circle cx="192.8" cy="281.6" class="b"/>
<circle cx="189.3" cy="280.1" class="b"/>
<circle cx="149.5" cy="277.6" class="b"/>
<circle cx="173.9" cy="277.4" class="b"/>
<circle cx="185.5" cy="279.5" class="b"/>
<circle cx="169.3" cy="277.6" class="b"/>
<circle cx="166.7" cy="284.0" class="b"/>
<circle cx="181.6" cy="282.7" class="b"/>
<circle cx="181.7" cy="281.8" class="b"/>
<circle cx="161.3" cy="272.5" class="b"/>
<circle cx="188.8" cy="278.1" class="b"/>
<circle cx="190.5" cy="280.5" class="b"/>
<circle cx="181.7" cy="285.1" class="b"/>
<circle cx="198.7" cy="280.2" class="b"/>
<circle cx="180.3" cy="279.3" class="b"/>
<circle cx="156.7" cy="284.0" class="b"/>
<circle cx="182.0" cy="276.2" class="b"/>
<circle cx="181.5" cy="279.8" class="b"/>
<circle cx="200.0" cy="275.8" class="b"/>
<circle cx="140.9" cy="280.4" class="o"/>
<circle cx="181.3" cy="278.3" class="b"/>
<circle cx="179.4" cy="279.8" class="b"/>
<circle cx="210.2" cy="284.6" class="b"/>
<circle cx="193.4" cy="284.4" class="b"/>
<circle cx="191.1" cy="285.6" class="b"/>
<circle cx="189.1" cy="274.8" class="b"/>
<circle cx="164.0" cy="278.2" class="b"/>
<circle cx="186.0" cy="285.4" class="b"/>
<circle cx="151.5" cy="282.3" class="b"/>
<circle cx="191.6" cy="278.9" class="b"/>
<circle cx="208.5" cy="280.1" class="b"/>
<circle cx="185.9" cy="276.2" class="b"/>
<circle cx="190.9" cy="278.2" class="b"/>
<circle cx="146.7" cy="278.5" class="b"/>
<circle cx="143.3" cy="277.5" class="b"/>
<circle cx="178.8" cy="277.5" class="b"/>
<circle cx="179.5" cy="285.2" class="b"/>
<circle cx="200.5" cy="280.9" class="b"/>
<circle cx="165.6" cy="280.5" class="b"/>
<circle cx="157.3" cy="281.4" class="b"/>
<circle cx="192.8" cy="276.9" class="b"/>
<circle cx="162.1" cy="277.4" class="b"/>
<circle cx="202.2" cy="281.3" class="b"/>
<circle cx="150.6" cy="281.8" class="b"/>
<circle cx="191.0" cy="280.8" class="b"/>
<circle cx="145.8" cy="275.4" class="b"/>
<circle cx="196.1" cy="282.5" class="b"/>
<circle cx="208.6" cy="281.5" class="b"/>
<circle cx="175.7" cy="279.4" class="b"/>
<circle cx="161.4" cy="279.9" class="b"/>
<circle cx="198.5" cy="282.9" class="b"/>
<circle cx="192.1" cy="277.3" class="b"/>
<circle cx="181.6" cy="283.3" class="b"/>
<circle cx="178.0" cy="274.3" class="b"/>
<circle cx="206.4" cy="286.2" class="o"/>
<circle cx="154.8" cy="280.5" class="b"/>
<circle cx="196.9" cy="280.3" class="b"/>
<circle cx="149.7" cy="282.6" class="b"/>
<circle cx="178.7" cy="280.3" class="b"/>
<circle cx="180.7" cy="280.8" class="b"/>
<circle cx="193.8" cy="281.5" class="b"/>
<circle cx="202.3" cy="284.0" class="b"/>
<circle cx="185.4" cy="274.7" class="b"/>
<circle cx="195.6" cy="283.8" class="b"/>
<circle cx="210.2" cy="279.6" class="b"/>
<circle cx="197.9" cy="280.5" class="b"/>
<circle cx="191.2" cy="279.6" class="b"/>
<circle cx="196.1" cy="283.2" class="b"/>
<circle cx="174.3" cy="272.9" class="b"/>
<circle cx="170.5" cy="277.8" class="b"/>
<circle cx="210.5" cy="277.4" class="b"/>
<circle cx="137.9" cy="279.8" class="b"/>
<circle cx="168.3" cy="280.8" class="b"/>
<circle cx="195.0" cy="281.0" class="b"/>
<circle cx="165.9" cy="279.4" class="b"/>
<circle cx="174.1" cy="281.2" class="b"/>
<circle cx="190.5" cy="283.4" class="b"/>
<circle cx="204.0" cy="282.1" class="b"/>
<circle cx="180.0" cy="280.8" class="b"/>
<circle cx="185.9" cy="291.6" class="b"/>
<circle cx="140.0" cy="289.9" class="b"/>
<circle cx="189.1" cy="286.8" class="b"/>
<circle cx="184.9" cy="278.4" class="b"/>
<circle cx="189.5" cy="283.6" class="b"/>
<circle cx="183.1" cy="280.4" class="b"/>
<circle cx="193.8" cy="283.8" class="o"/>
<circle cx="182.2" cy="277.7" class="b"/>
<circle cx="158.6" cy="283.3" class="b"/>
<circle cx="180.0" cy="279.3" class="b"/>
<circle cx="185.6" cy="281.4" class="b"/>
<circle cx="174.9" cy="281.5" class="b"/>
<circle cx="190.4" cy="280.1" class="b"/>
<circle cx="186.9" cy="282.8" class="b"/>
<circle cx="141.2" cy="283.3" class="b"/>
<circle cx="176.6" cy="279.4" class="b"/>
<circle cx="211.3" cy="283.7" class="b"/>
<circle cx="180.1" cy="283.5" class="b"/>
<circle cx="178.7" cy="281.2" class="b"/>
<circle cx="176.0" cy="281.5" class="b"/>
<circle cx="187.2" cy="279.0" class="b"/>
<circle cx="159.5" cy="281.0" class="b"/>
<circle cx="198.0" cy="279.4" class="b"/>
<circle cx="197.5" cy="276.7" class="b"/>
<circle cx="182.0" cy="277.8" class="b"/>
<circle cx="139.7" cy="284.7" class="b"/>
<circle cx="167.4" cy="284.1" class="b"/>
<circle cx="181.7" cy="282.8" class="b"/>
<circle cx="185.4" cy="279.7" class="b"/>
<circle cx="190.8" cy="280.1" class="b"/>
<circle cx="176.1" cy="277.3" class="b"/>
<circle cx="183.8" cy="285.5" class="b"/>
<circle cx="202.4" cy="285.6" class="b"/>
<circle cx="159.5" cy="278.5" class="b"/>
<circle cx="182.4" cy="281.2" class="b"/>
<circle cx="184.3" cy="282.2" class="b"/>
<circle cx="142.9" cy="279.3" class="b"/>
<circle cx="191.6" cy="284.9" class="b"/>
<circle cx="173.5" cy="278.6" class="b"/>
<circle cx="211.7" cy="281.6" class="b"/>
<circle cx="188.5" cy="277.6" class="b"/>
<circle cx="144.6" cy="280.5" class="b"/>
<circle cx="141.2" cy="274.5" class="b"/>
<circle cx="188.7" cy="280.2" class="b"/>
<circle cx="188.1" cy="279.7" class="b"/>
<circle cx="140.6" cy="275.7" class="b"/>
<circle cx="198.4" cy="280.6" class="b"/>
<circle cx="194.5" cy="277.5" class="b"/>
<circle cx="186.3" cy="283.8" class="b"/>
<circle cx="188.1" cy="277.3" class="b"/>
<circle cx="198.3" cy="269.4" class="b"/>
<circle cx="168.3" cy="278.5" class="b"/>
<circle cx="185.1" cy="279.8" class="b"/>
<circle cx="190.5" cy="276.2" class="b"/>
<circle cx="188.6" cy="281.6" class="b"/>
<circle cx="183.0" cy="282.4" class="b"/>
<circle cx="207.1" cy="280.2" class="b"/>
<circle cx="158.1" cy="282.5" class="b"/>
<circle cx="186.8" cy="271.5" class="b"/>
<circle cx="142.6" cy="282.0" class="b"/>
<circle cx="191.8" cy="284.9" class="b"/>
<circle cx="195.3" cy="280.9" class="b"/>
<circle cx="178.6" cy="278.6" class="b"/>
<circle cx="190.4" cy="286.6" class="o"/>
<circle cx="167.1" cy="277.3" class="b"/>
<circle cx="167.3" cy="276.2" class="b"/>
<circle cx="141.8" cy="273.8" class="b"/>
<circle cx="186.8" cy="283.0" class="b"/>
<circle cx="190.1" cy="274.7" class="b"/>
<circle cx="170.5" cy="278.6" class="b"/>
<circle cx="194.1" cy="281.4" class="o"/>
<circle cx="191.4" cy="279.7" class="b"/>
<circle cx="199.4" cy="281.4" class="b"/>
<circle cx="191.2" cy="278.7" class="b"/>
<circle cx="190.2" cy="272.2" class="b"/>
<circle cx="181.2" cy="279.6" class="b"/>
<circle cx="176.2" cy="277.6" class="b"/>
<circle cx="185.1" cy="280.5" class="b"/>
<circle cx="173.6" cy="268.3" class="b"/>
<circle cx="165.1" cy="279.6" class="b"/>
<circle cx="187.2" cy="282.0" class="b"/>
<circle cx="165.6" cy="285.4" class="b"/>
<circle cx="184.6" cy="277.0" class="b"/>
<circle cx="161.5" cy="278.7" class="b"/>
<circle cx="203.9" cy="281.6" class="b"/>
<circle cx="202.6" cy="277.8" class="b"/>
<circle cx="208.6" cy="284.0" class="b"/>
<circle cx="183.3" cy="281.6" class="b"/>
<circle cx="166.0" cy="274.2" class="b"/>
<circle cx="188.8" cy="274.9" class="b"/>
<circle cx="180.1" cy="281.7" class="b"/>
<circle cx="195.7" cy="279.5" class="b"/>
<circle cx="179.7" cy="279.7" class="b"/>
<circle cx="195.7" cy="275.0" class="b"/>
<circle cx="173.0" cy="282.1" class="b"/>
<circle cx="189.3" cy="278.4" class="b"/>
<circle cx="195.0" cy="285.5" class="b"/>
<circle cx="185.8" cy="288.8" class="b"/>
<circle cx="189.3" cy="279.6" class="b"/>
<circle cx="181.8" cy="283.1" class="o"/>
<circle cx="180.6" cy="287.7" class="o"/>
<circle cx="192.6" cy="278.9" class="b"/>
<circle cx="170.8" cy="274.4" class="b"/>
<circle cx="188.5" cy="284.2" class="b"/>
<circle cx="190.0" cy="274.1" class="b"/>
<circle cx="188.0" cy="276.1" class="b"/>
<circle cx="173.3" cy="276.6" class="b"/>
<circle cx="148.5" cy="276.7" class="o"/>
<circle cx="168.2" cy="280.7" class="b"/>
<circle cx="192.6" cy="275.8" class="b"/>
<circle cx="148.3" cy="277.8" class="b"/>
<circle cx="194.9" cy="278.4" class="o"/>
<circle cx="195.8" cy="272.1" class="b"/>
<circle cx="177.3" cy="286.0" class="b"/>
<circle cx="201.5" cy="276.7" class="b"/>
<circle cx="192.5" cy="282.8" class="b"/>
<circle cx="201.0" cy="285.8" class="b"/>
<circle cx="185.6" cy="280.0" class="b"/>
<circle cx="139.8" cy="272.9" class="b"/>
<circle cx="193.9" cy="285.2" class="b"/>
<circle cx="157.8" cy="278.1" class="b"/>
<circle cx="188.1" cy="274.7" class="b"/>
<circle cx="171.7" cy="273.7" class="b"/>
<circle cx="208.4" cy="285.1" class="b"/>
<circle cx="189.1" cy="279.7" class="b"/>
<circle cx="156.9" cy="281.7" class="b"/>
<circle cx="189.6" cy="281.5" class="b"/>
<circle cx="176.7" cy="275.5" class="b"/>
<circle cx="184.6" cy="278.8" class="b"/>
<circle cx="176.5" cy="277.2" class="o"/>
<circle cx="181.8" cy="281.8" class="b"/>
<circle cx="185.6" cy="283.3" class="b"/>
<circle cx="193.2" cy="277.4" class="b"/>
<circle cx="183.6" cy="282.7" class="b"/>
<circle cx="193.1" cy="282.7" class="b"/>
<circle cx="183.7" cy="275.9" class="b"/>
<circle cx="183.5" cy="279.5" class="b"/>
<circle cx="153.8" cy="282.2" class="b"/>
<circle cx="174.6" cy="275.6" class="b"/>
<circle cx="194.1" cy="280.4" class="o"/>
<circle cx="191.7" cy="275.7" class="b"/>
<circle cx="199.5" cy="284.2" class="b"/>
<circle cx="143.7" cy="282.3" class="b"/>
<circle cx="171.7" cy="274.0" class="b"/>
<circle cx="198.9" cy="278.5" class="b"/>
<circle cx="160.7" cy="281.4" class="b"/>
<circle cx="205.3" cy="285.2" class="b"/>
<circle cx="176.8" cy="275.2" class="b"/>
<circle cx="185.3" cy="279.1" class="b"/>
<circle cx="141.5" cy="278.5" class="b"/>
<circle cx="169.8" cy="277.2" class="b"/>
<circle cx="200.9" cy="284.7" class="b"/>
<circle cx="201.4" cy="281.5" class="b"/>
<circle cx="186.6" cy="275.3" class="b"/>
<circle cx="183.8" cy="281.7" class="b"/>
<circle cx="192.9" cy="279.6" class="b"/>
<circle cx="142.6" cy="280.8" class="b"/>
<circle cx="195.9" cy="280.2" class="b"/>
<circle cx="198.3" cy="279.9" class="b"/>
<circle cx="179.4" cy="279.0" class="b"/>
<circle cx="163.0" cy="280.4" class="b"/>
<circle cx="194.7" cy="280.4" class="b"/>
<circle cx="166.3" cy="279.6" class="b"/>
<circle cx="195.4" cy="281.0" class="b"/>
<circle cx="208.3" cy="284.4" class="b"/>
<circle cx="177.4" cy="285.0" class="b"/>
<circle cx="149.8" cy="279.3" class="b"/>
<circle cx="138.0" cy="274.2" class="b"/>
<circle cx="162.1" cy="283.1" class="b"/>
<circle cx="200.8" cy="279.2" class="b"/>
<circle cx="184.7" cy="276.1" class="b"/>
<circle cx="181.8" cy="280.3" class="b"/>
<circle cx="152.3" cy="274.1" class="b"/>
<circle cx="177.4" cy="278.9" class="b"/>
<circle cx="196.5" cy="278.8" class="b"/>
<circle cx="147.7" cy="278.5" class="b"/>
<circle cx="182.1" cy="278.8" class="b"/>
<circle cx="184.5" cy="277.8" class="b"/>
<circle cx="187.6" cy="276.8" class="b"/>
<circle cx="178.3" cy="279.6" class="b"/>
<circle cx="145.7" cy="285.7" class="o"/>
<circle cx="200.9" cy="281.2" class="b"/>
<circle cx="165.9" cy="282.1" class="b"/>
<circle cx="206.3" cy="284.5" class="o"/>
<circle cx="165.9" cy="284.3" class="b"/>
<circle cx="177.6" cy="280.4" class="b"/>
<circle cx="203.4" cy="273.5" class="b"/>
<circle cx="200.4" cy="282.1" class="b"/>
<circle cx="170.7" cy="278.0" class="b"/>
<circle cx="194.9" cy="290.9" class="b"/>
<circle cx="206.3" cy="277.6" class="b"/>
<circle cx="204.8" cy="282.3" class="b"/>
<circle cx="166.4" cy="284.1" class="b"/>
<circle cx="199.5" cy="287.4" class="b"/>
<circle cx="156.6" cy="283.6" class="b"/>
<circle cx="180.2" cy="284.7" class="b"/>
<circle cx="187.5" cy="279.1" class="b"/>
<circle cx="163.7" cy="280.2" class="b"/>
<circle cx="191.8" cy="276.7" class="b"/>
<circle cx="195.5" cy="278.4" class="b"/>
<circle cx="198.3" cy="271.7" class="b"/>
<circle cx="200.6" cy="288.6" class="b"/>
<circle cx="185.9" cy="276.3" class="b"/>
<circle cx="192.0" cy="289.4" class="b"/>
<circle cx="194.8" cy="282.8" class="b"/>
<circle cx="187.0" cy="282.9" class="b"/>
<circle cx="189.4" cy="278.8" class="b"/>
<circle cx="188.8" cy="276.3" class="b"/>
<circle cx="177.0" cy="276.0" class="b"/>
<circle cx="182.8" cy="280.1" class="b"/>
<circle cx="162.6" cy="285.0" class="b"/>
<circle cx="190.9" cy="281.1" class="b"/>
<circle cx="193.9" cy="276.1" class="b"/>
<circle cx="178.1" cy="281.0" class="b"/>
<circle cx="194.0" cy="286.4" class="b"/>
<circle cx="200.9" cy="284.6" class="b"/>
<circle cx="138.6" cy="282.2" class="b"/>
<circle cx="200.5" cy="286.4" class="b"/>
<circle cx="187.5" cy="282.5" class="b"/>
<circle cx="144.0" cy="275.0" class="b"/>
<circle cx="180.8" cy="282.8" class="b"/>
<circle cx="146.7" cy="277.7" class="b"/>
<circle cx="192.4" cy="279.4" class="b"/>
<circle cx="196.6" cy="284.5" class="b"/>
<circle cx="182.9" cy="280.2" class="b"/>
<circle cx="155.7" cy="282.9" class="b"/>
<circle cx="184.9" cy="281.5" class="b"/>
<circle cx="162.4" cy="282.4" class="b"/>
<circle cx="189.7" cy="271.0" class="b"/>
<circle cx="179.2" cy="279.5" class="b"/>
<circle cx="159.0" cy="284.2" class="b"/>
<circle cx="185.5" cy="280.9" class="b"/>
<circle cx="177.5" cy="279.3" class="b"/>
<circle cx="157.3" cy="275.2" class="b"/>
<circle cx="189.3" cy="282.2" class="b"/>
<circle cx="188.7" cy="282.1" class="b"/>
<circle cx="174.1" cy="285.7" class="b"/>
<circle cx="181.9" cy="279.5" class="b"/>
<circle cx="189.2" cy="278.3" class="b"/>
<circle cx="174.7" cy="281.0" class="b"/>
<circle cx="178.4" cy="281.6" class="b"/>
<circle cx="190.2" cy="286.0" class="b"/>
<circle cx="154.6" cy="278.1" class="b"/>
<circle cx="165.8" cy="289.4" class="b"/>
<circle cx="200.1" cy="293.1" class="b"/>
<circle cx="178.6" cy="277.8" class="b"/>
<circle cx="207.7" cy="279.0" class="b"/>
<circle cx="162.6" cy="285.5" class="b"/>
<circle cx="193.1" cy="314.9" class="b"/>
<circle cx="199.3" cy="304.2" class="o"/>
<circle cx="182.9" cy="297.8" class="o"/>
<circle cx="141.0" cy="283.0" class="b"/>
<circle cx="141.0" cy="285.0" class="b"/>
<polygon points="138.06,276.9 175.27,279.35 212.47,279 212.47,283.8 175.27,281.35 138.06,281.7" fill="#ff0000" fill-opacity="0.13"/>
<line x1="138.06" y1="279.3" x2="212.47" y2="281.4" stroke="#e81010" stroke-width="1.3"/>
</g>
<rect x="134.2" y="265.3" width="82.3" height="52" fill="none" stroke="#a0a0a0" stroke-width="1.1"/>
<line x1="139.8" y1="317.3" x2="139.8" y2="318.9" stroke="#555" stroke-width="0.5"/>
<text x="139.8" y="322.9" font-size="4.45" text-anchor="middle" stroke="#262626" stroke-width="0.06" textLength="2.48" lengthAdjust="spacingAndGlyphs" fill="#262626">2</text>
<line x1="160.2" y1="317.3" x2="160.2" y2="318.9" stroke="#555" stroke-width="0.5"/>
<text x="160.2" y="322.9" font-size="4.45" text-anchor="middle" stroke="#262626" stroke-width="0.06" textLength="2.48" lengthAdjust="spacingAndGlyphs" fill="#262626">4</text>
<line x1="180.8" y1="317.3" x2="180.8" y2="318.9" stroke="#555" stroke-width="0.5"/>
<text x="180.8" y="322.9" font-size="4.45" text-anchor="middle" stroke="#262626" stroke-width="0.06" textLength="2.48" lengthAdjust="spacingAndGlyphs" fill="#262626">6</text>
<line x1="201.3" y1="317.3" x2="201.3" y2="318.9" stroke="#555" stroke-width="0.5"/>
<text x="201.3" y="322.9" font-size="4.45" text-anchor="middle" stroke="#262626" stroke-width="0.06" textLength="2.48" lengthAdjust="spacingAndGlyphs" fill="#262626">8</text>
<line x1="132" y1="272" x2="134.2" y2="272" stroke="#666" stroke-width="0.5"/>
<text x="131.5" y="273.75" font-size="4.45" text-anchor="end" stroke="#262626" stroke-width="0.06" textLength="2.48" lengthAdjust="spacingAndGlyphs" fill="#262626">4</text>
<line x1="132" y1="282.8" x2="134.2" y2="282.8" stroke="#666" stroke-width="0.5"/>
<text x="131.5" y="284.55" font-size="4.45" text-anchor="end" stroke="#262626" stroke-width="0.06" textLength="2.48" lengthAdjust="spacingAndGlyphs" fill="#262626">3</text>
<line x1="132" y1="293.5" x2="134.2" y2="293.5" stroke="#666" stroke-width="0.5"/>
<text x="131.5" y="295.25" font-size="4.45" text-anchor="end" stroke="#262626" stroke-width="0.06" textLength="2.48" lengthAdjust="spacingAndGlyphs" fill="#262626">2</text>
<line x1="132" y1="304.2" x2="134.2" y2="304.2" stroke="#666" stroke-width="0.5"/>
<text x="131.5" y="305.95" font-size="4.45" text-anchor="end" stroke="#262626" stroke-width="0.06" textLength="2.48" lengthAdjust="spacingAndGlyphs" fill="#262626">1</text>
<line x1="132" y1="314.9" x2="134.2" y2="314.9" stroke="#666" stroke-width="0.5"/>
<text x="131.5" y="316.65" font-size="4.45" text-anchor="end" stroke="#262626" stroke-width="0.06" textLength="2.48" lengthAdjust="spacingAndGlyphs" fill="#262626">0</text>
<text x="175.35" y="328.1" font-size="4.45" text-anchor="middle" stroke="#262626" stroke-width="0.06" textLength="7.27" lengthAdjust="spacingAndGlyphs" fill="#262626">age</text>
<text x="127.12" y="291.3" font-size="4.45" text-anchor="middle" stroke="#262626" stroke-width="0.06" textLength="45.67" lengthAdjust="spacingAndGlyphs" transform="rotate(-90 127.12 291.3)" fill="#262626">temporalpole thickness</text>
<text x="212.5" y="327.5" font-size="4.45" text-anchor="middle" stroke="#262626" stroke-width="0.06" textLength="7.36" lengthAdjust="spacingAndGlyphs" fill="#262626">1e1</text>
<text x="175.35" y="262.9" font-size="5.62" text-anchor="middle" font-weight="bold" stroke="#111" stroke-width="0.14" textLength="27.71" lengthAdjust="spacingAndGlyphs" fill="#111">ρ=-0.036</text>
<rect x="482" y="36.1" width="83.6" height="52.3" fill="#fff"/>
<line x1="488.3" y1="36.1" x2="488.3" y2="88.4" stroke="#dcdcdc" stroke-width="0.8"/>
<line x1="508.6" y1="36.1" x2="508.6" y2="88.4" stroke="#dcdcdc" stroke-width="0.8"/>
<line x1="529.4" y1="36.1" x2="529.4" y2="88.4" stroke="#dcdcdc" stroke-width="0.8"/>
<line x1="549.6" y1="36.1" x2="549.6" y2="88.4" stroke="#dcdcdc" stroke-width="0.8"/>
<line x1="482" y1="36.8" x2="565.6" y2="36.8" stroke="#dcdcdc" stroke-width="0.8"/>
<line x1="482" y1="47.1" x2="565.6" y2="47.1" stroke="#dcdcdc" stroke-width="0.8"/>
<line x1="482" y1="57.5" x2="565.6" y2="57.5" stroke="#dcdcdc" stroke-width="0.8"/>
<line x1="482" y1="67.9" x2="565.6" y2="67.9" stroke="#dcdcdc" stroke-width="0.8"/>
<line x1="482" y1="78.2" x2="565.6" y2="78.2" stroke="#dcdcdc" stroke-width="0.8"/>
<clipPath id="cp4"><rect x="482" y="36.1" width="83.6" height="52.3"/></clipPath>
<g clip-path="url(#cp4)">
<circle cx="557.8" cy="91.3" class="o"/>
<circle cx="534.7" cy="79.0" class="o"/>
<circle cx="517.3" cy="83.9" class="o"/>
<circle cx="508.0" cy="82.0" class="o"/>
<circle cx="521.8" cy="72.2" class="o"/>
<circle cx="513.9" cy="78.5" class="o"/>
<circle cx="543.6" cy="83.7" class="o"/>
<circle cx="525.6" cy="66.7" class="o"/>
<circle cx="523.5" cy="78.5" class="o"/>
<circle cx="533.8" cy="81.1" class="o"/>
<circle cx="527.8" cy="70.4" class="o"/>
<circle cx="493.4" cy="71.5" class="o"/>
<circle cx="550.3" cy="60.8" class="o"/>
<circle cx="496.0" cy="77.1" class="o"/>
<circle cx="542.5" cy="80.2" class="o"/>
<circle cx="501.8" cy="74.2" class="o"/>
<circle cx="512.3" cy="70.4" class="o"/>
<circle cx="496.8" cy="82.7" class="o"/>
<circle cx="508.6" cy="59.5" class="o"/>
<circle cx="505.0" cy="77.6" class="o"/>
<circle cx="553.9" cy="62.0" class="c"/>
<circle cx="501.5" cy="75.6" class="c"/>
<circle cx="522.2" cy="77.3" class="c"/>
<circle cx="533.0" cy="75.0" class="c"/>
<circle cx="557.0" cy="90.5" class="c"/>
<circle cx="529.5" cy="81.2" class="c"/>
<circle cx="553.9" cy="74.4" class="c"/>
<circle cx="486.6" cy="72.8" class="c"/>
<circle cx="533.1" cy="78.8" class="c"/>
<circle cx="528.0" cy="61.9" class="c"/>
<circle cx="539.3" cy="77.3" class="c"/>
<circle cx="546.7" cy="84.4" class="c"/>
<circle cx="542.8" cy="76.1" class="c"/>
<circle cx="523.9" cy="74.2" class="c"/>
<circle cx="505.4" cy="68.7" class="c"/>
<circle cx="550.0" cy="81.4" class="c"/>
<circle cx="545.8" cy="65.7" class="c"/>
<circle cx="524.5" cy="84.5" class="o"/>
<circle cx="499.1" cy="66.8" class="c"/>
<circle cx="516.6" cy="69.6" class="c"/>
<circle cx="547.7" cy="77.7" class="c"/>
<circle cx="531.3" cy="78.7" class="c"/>
<circle cx="532.1" cy="46.9" class="c"/>
<circle cx="535.9" cy="63.2" class="c"/>
<circle cx="537.5" cy="85.2" class="c"/>
<circle cx="523.9" cy="76.9" class="c"/>
<circle cx="499.7" cy="65.6" class="c"/>
<circle cx="536.0" cy="78.8" class="c"/>
<circle cx="508.7" cy="60.6" class="c"/>
<circle cx="535.2" cy="70.0" class="c"/>
<circle cx="539.2" cy="72.1" class="c"/>
<circle cx="535.5" cy="82.8" class="c"/>
<circle cx="523.7" cy="75.0" class="o"/>
<circle cx="512.0" cy="76.1" class="c"/>
<circle cx="534.7" cy="77.4" class="c"/>
<circle cx="497.8" cy="79.6" class="c"/>
<circle cx="501.2" cy="65.2" class="c"/>
<circle cx="545.2" cy="72.3" class="c"/>
<circle cx="537.4" cy="77.1" class="c"/>
<circle cx="524.1" cy="81.5" class="c"/>
<circle cx="509.7" cy="70.0" class="c"/>
<circle cx="508.6" cy="69.1" class="c"/>
<circle cx="545.2" cy="78.3" class="c"/>
<circle cx="531.8" cy="75.9" class="c"/>
<circle cx="509.2" cy="80.5" class="c"/>
<circle cx="529.6" cy="77.3" class="c"/>
<circle cx="523.0" cy="80.3" class="c"/>
<circle cx="495.5" cy="79.0" class="c"/>
<circle cx="511.2" cy="77.6" class="c"/>
<circle cx="499.7" cy="72.7" class="c"/>
<circle cx="496.3" cy="73.2" class="c"/>
<circle cx="502.6" cy="57.4" class="c"/>
<circle cx="534.2" cy="79.1" class="c"/>
<circle cx="545.1" cy="85.0" class="c"/>
<circle cx="552.7" cy="82.4" class="c"/>
<circle cx="541.9" cy="69.0" class="c"/>
<circle cx="539.1" cy="90.8" class="c"/>
<circle cx="529.5" cy="54.1" class="c"/>
<circle cx="548.8" cy="78.8" class="c"/>
<circle cx="541.8" cy="84.3" class="c"/>
<circle cx="534.1" cy="62.5" class="c"/>
<circle cx="493.6" cy="71.4" class="c"/>
<circle cx="495.0" cy="68.8" class="c"/>
<circle cx="504.7" cy="58.0" class="c"/>
<circle cx="529.4" cy="60.9" class="c"/>
<circle cx="517.9" cy="77.7" class="c"/>
<circle cx="525.2" cy="81.8" class="c"/>
<circle cx="507.7" cy="77.2" class="c"/>
<circle cx="500.0" cy="67.4" class="c"/>
<circle cx="529.2" cy="61.9" class="c"/>
<circle cx="549.1" cy="58.1" class="c"/>
<circle cx="538.7" cy="70.6" class="c"/>
<circle cx="493.2" cy="73.6" class="c"/>
<circle cx="538.4" cy="72.9" class="c"/>
<circle cx="487.6" cy="64.3" class="c"/>
<circle cx="535.9" cy="82.2" class="c"/>
<circle cx="534.8" cy="80.8" class="c"/>
<circle cx="526.4" cy="66.4" class="c"/>
<circle cx="522.8" cy="75.1" class="c"/>
<circle cx="506.1" cy="73.3" class="c"/>
<circle cx="497.1" cy="80.8" class="c"/>
<circle cx="523.3" cy="77.9" class="c"/>
<circle cx="555.7" cy="64.5" class="c"/>
<circle cx="505.5" cy="72.4" class="c"/>
<circle cx="490.3" cy="58.8" class="c"/>
<circle cx="532.1" cy="78.0" class="c"/>
<circle cx="557.0" cy="79.5" class="c"/>
<circle cx="521.0" cy="71.7" class="c"/>
<circle cx="549.2" cy="59.9" class="c"/>
<circle cx="497.4" cy="60.4" class="c"/>
<circle cx="496.8" cy="68.7" class="c"/>
<circle cx="541.8" cy="73.7" class="c"/>
<circle cx="538.0" cy="76.4" class="c"/>
<circle cx="498.4" cy="74.0" class="c"/>
<circle cx="529.0" cy="84.3" class="o"/>
<circle cx="544.5" cy="65.4" class="c"/>
<circle cx="539.6" cy="73.6" class="c"/>
<circle cx="525.1" cy="54.8" class="c"/>
<circle cx="506.2" cy="84.0" class="c"/>
<circle cx="547.1" cy="65.2" class="c"/>
<circle cx="499.8" cy="71.4" class="c"/>
<circle cx="518.9" cy="58.3" class="c"/>
<circle cx="500.0" cy="69.3" class="c"/>
<circle cx="519.1" cy="76.9" class="c"/>
<circle cx="551.0" cy="73.3" class="c"/>
<circle cx="544.3" cy="60.3" class="c"/>
<circle cx="528.8" cy="77.5" class="c"/>
<circle cx="529.0" cy="68.7" class="c"/>
<circle cx="496.3" cy="49.9" class="c"/>
<circle cx="532.7" cy="71.8" class="c"/>
<circle cx="504.9" cy="71.8" class="c"/>
<circle cx="493.9" cy="76.5" class="c"/>
<circle cx="524.6" cy="69.2" class="c"/>
<circle cx="517.5" cy="58.5" class="c"/>
<circle cx="505.5" cy="63.4" class="c"/>
<circle cx="500.3" cy="58.9" class="o"/>
<circle cx="541.7" cy="83.5" class="o"/>
<circle cx="514.9" cy="61.7" class="c"/>
<circle cx="543.3" cy="77.0" class="c"/>
<circle cx="497.0" cy="73.9" class="c"/>
<circle cx="503.7" cy="69.5" class="c"/>
<circle cx="528.6" cy="78.7" class="c"/>
<circle cx="518.9" cy="66.7" class="c"/>
<circle cx="546.3" cy="81.7" class="c"/>
<circle cx="510.5" cy="73.3" class="c"/>
<circle cx="546.4" cy="79.8" class="c"/>
<circle cx="511.1" cy="72.1" class="c"/>
<circle cx="536.4" cy="83.3" class="c"/>
<circle cx="543.6" cy="70.2" class="c"/>
<circle cx="544.6" cy="56.5" class="c"/>
<circle cx="495.9" cy="54.1" class="c"/>
<circle cx="510.7" cy="76.4" class="c"/>
<circle cx="534.9" cy="69.6" class="c"/>
<circle cx="516.0" cy="55.4" class="c"/>
<circle cx="525.1" cy="70.3" class="o"/>
<circle cx="538.4" cy="80.8" class="c"/>
<circle cx="546.5" cy="75.2" class="c"/>
<circle cx="506.8" cy="79.2" class="c"/>
<circle cx="535.2" cy="73.9" class="c"/>
<circle cx="524.0" cy="70.4" class="c"/>
<circle cx="537.5" cy="75.7" class="c"/>
<circle cx="541.8" cy="63.8" class="c"/>
<circle cx="540.6" cy="80.0" class="c"/>
<circle cx="528.3" cy="77.4" class="c"/>
<circle cx="506.5" cy="82.0" class="c"/>
<circle cx="496.2" cy="76.8" class="c"/>
<circle cx="543.1" cy="79.4" class="c"/>
<circle cx="512.0" cy="62.7" class="c"/>
<circle cx="514.7" cy="60.9" class="c"/>
<circle cx="521.2" cy="72.6" class="c"/>
<circle cx="550.3" cy="73.4" class="c"/>
<circle cx="499.1" cy="58.9" class="c"/>
<circle cx="512.1" cy="64.3" class="c"/>
<circle cx="539.1" cy="81.5" class="c"/>
<circle cx="505.9" cy="79.1" class="c"/>
<circle cx="514.5" cy="66.2" class="c"/>
<polygon points="486.56,65 523.65,71.55 560.74,75.3 560.74,80.1 523.65,73.55 486.56,69.8" fill="#ff0000" fill-opacity="0.13"/>
<line x1="486.56" y1="67.4" x2="560.74" y2="77.7" stroke="#e81010" stroke-width="1.3"/>
</g>
<rect x="482" y="36.1" width="83.6" height="52.3" fill="none" stroke="#a0a0a0" stroke-width="1.1"/>
<line x1="488.3" y1="88.4" x2="488.3" y2="90" stroke="#555" stroke-width="0.5"/>
<text x="488.3" y="94" font-size="4.45" text-anchor="middle" stroke="#262626" stroke-width="0.06" textLength="2.48" lengthAdjust="spacingAndGlyphs" fill="#262626">2</text>
<line x1="508.6" y1="88.4" x2="508.6" y2="90" stroke="#555" stroke-width="0.5"/>
<text x="508.6" y="94" font-size="4.45" text-anchor="middle" stroke="#262626" stroke-width="0.06" textLength="2.48" lengthAdjust="spacingAndGlyphs" fill="#262626">4</text>
<line x1="529.4" y1="88.4" x2="529.4" y2="90" stroke="#555" stroke-width="0.5"/>
<text x="529.4" y="94" font-size="4.45" text-anchor="middle" stroke="#262626" stroke-width="0.06" textLength="2.48" lengthAdjust="spacingAndGlyphs" fill="#262626">6</text>
<line x1="549.6" y1="88.4" x2="549.6" y2="90" stroke="#555" stroke-width="0.5"/>
<text x="549.6" y="94" font-size="4.45" text-anchor="middle" stroke="#262626" stroke-width="0.06" textLength="2.48" lengthAdjust="spacingAndGlyphs" fill="#262626">8</text>
<line x1="479.8" y1="36.8" x2="482" y2="36.8" stroke="#666" stroke-width="0.5"/>
<text x="479.3" y="38.55" font-size="4.45" text-anchor="end" stroke="#262626" stroke-width="0.06" textLength="8.68" lengthAdjust="spacingAndGlyphs" fill="#262626">1.50</text>
<line x1="479.8" y1="47.1" x2="482" y2="47.1" stroke="#666" stroke-width="0.5"/>
<text x="479.3" y="48.85" font-size="4.45" text-anchor="end" stroke="#262626" stroke-width="0.06" textLength="8.68" lengthAdjust="spacingAndGlyphs" fill="#262626">1.25</text>
<line x1="479.8" y1="57.5" x2="482" y2="57.5" stroke="#666" stroke-width="0.5"/>
<text x="479.3" y="59.25" font-size="4.45" text-anchor="end" stroke="#262626" stroke-width="0.06" textLength="8.68" lengthAdjust="spacingAndGlyphs" fill="#262626">1.00</text>
<line x1="479.8" y1="67.9" x2="482" y2="67.9" stroke="#666" stroke-width="0.5"/>
<text x="479.3" y="69.65" font-size="4.45" text-anchor="end" stroke="#262626" stroke-width="0.06" textLength="8.68" lengthAdjust="spacingAndGlyphs" fill="#262626">0.75</text>
<line x1="479.8" y1="78.2" x2="482" y2="78.2" stroke="#666" stroke-width="0.5"/>
<text x="479.3" y="79.95" font-size="4.45" text-anchor="end" stroke="#262626" stroke-width="0.06" textLength="8.68" lengthAdjust="spacingAndGlyphs" fill="#262626">0.50</text>
<text x="523.8" y="99.2" font-size="4.45" text-anchor="middle" stroke="#262626" stroke-width="0.06" textLength="7.27" lengthAdjust="spacingAndGlyphs" fill="#262626">age</text>
<text x="468.72" y="62.25" font-size="4.45" text-anchor="middle" stroke="#262626" stroke-width="0.06" textLength="33.85" lengthAdjust="spacingAndGlyphs" transform="rotate(-90 468.72 62.25)" fill="#262626">thalamus volume</text>
<text x="561.6" y="98.6" font-size="4.45" text-anchor="middle" stroke="#262626" stroke-width="0.06" textLength="7.36" lengthAdjust="spacingAndGlyphs" fill="#262626">1e1</text>
<text x="488" y="35.2" font-size="4.45" text-anchor="middle" stroke="#262626" stroke-width="0.06" textLength="10.63" lengthAdjust="spacingAndGlyphs" fill="#262626">1e−2</text>
<text x="523.8" y="33.7" font-size="5.62" text-anchor="middle" font-weight="bold" stroke="#111" stroke-width="0.14" textLength="27.71" lengthAdjust="spacingAndGlyphs" fill="#111">ρ=-0.347</text>
<rect x="482" y="112.2" width="83.6" height="52" fill="#fff"/>
<line x1="488.3" y1="112.2" x2="488.3" y2="164.2" stroke="#dcdcdc" stroke-width="0.8"/>
<line x1="508.6" y1="112.2" x2="508.6" y2="164.2" stroke="#dcdcdc" stroke-width="0.8"/>
<line x1="529.4" y1="112.2" x2="529.4" y2="164.2" stroke="#dcdcdc" stroke-width="0.8"/>
<line x1="549.6" y1="112.2" x2="549.6" y2="164.2" stroke="#dcdcdc" stroke-width="0.8"/>
<line x1="482" y1="120" x2="565.6" y2="120" stroke="#dcdcdc" stroke-width="0.8"/>
<line x1="482" y1="129.2" x2="565.6" y2="129.2" stroke="#dcdcdc" stroke-width="0.8"/>
<line x1="482" y1="138.4" x2="565.6" y2="138.4" stroke="#dcdcdc" stroke-width="0.8"/>
<line x1="482" y1="147.5" x2="565.6" y2="147.5" stroke="#dcdcdc" stroke-width="0.8"/>
<line x1="482" y1="156.7" x2="565.6" y2="156.7" stroke="#dcdcdc" stroke-width="0.8"/>
<clipPath id="cp5"><rect x="482" y="112.2" width="83.6" height="52"/></clipPath>
<g clip-path="url(#cp5)">
<circle cx="508.5" cy="152.0" class="o"/>
<circle cx="554.8" cy="142.9" class="o"/>
<circle cx="507.3" cy="153.0" class="o"/>
<circle cx="528.5" cy="144.7" class="o"/>
<circle cx="526.1" cy="146.7" class="o"/>
<circle cx="550.2" cy="154.6" class="o"/>
<circle cx="514.7" cy="144.6" class="o"/>
<circle cx="521.7" cy="159.6" class="o"/>
<circle cx="512.5" cy="139.5" class="o"/>
<circle cx="534.6" cy="148.5" class="o"/>
<circle cx="553.8" cy="164.9" class="o"/>
<circle cx="534.9" cy="153.2" class="o"/>
<circle cx="503.6" cy="150.8" class="o"/>
<circle cx="494.7" cy="129.1" class="o"/>
<circle cx="543.1" cy="160.2" class="o"/>
<circle cx="533.6" cy="153.4" class="o"/>
<circle cx="544.9" cy="133.5" class="o"/>
<circle cx="536.0" cy="146.4" class="o"/>
<circle cx="514.4" cy="156.6" class="o"/>
<circle cx="538.3" cy="155.9" class="o"/>
<circle cx="527.8" cy="143.8" class="c"/>
<circle cx="522.3" cy="133.6" class="c"/>
<circle cx="522.1" cy="158.3" class="o"/>
<circle cx="527.4" cy="138.7" class="c"/>
<circle cx="510.0" cy="142.2" class="c"/>
<circle cx="491.0" cy="142.8" class="c"/>
<circle cx="545.3" cy="148.0" class="c"/>
<circle cx="525.8" cy="138.2" class="c"/>
<circle cx="503.8" cy="134.2" class="c"/>
<circle cx="544.6" cy="157.3" class="c"/>
<circle cx="516.5" cy="124.7" class="c"/>
<circle cx="527.0" cy="154.6" class="c"/>
<circle cx="518.4" cy="142.5" class="o"/>
<circle cx="537.8" cy="158.5" class="c"/>
<circle cx="512.3" cy="146.4" class="c"/>
<circle cx="534.5" cy="148.4" class="c"/>
<circle cx="498.8" cy="149.4" class="c"/>
<circle cx="513.5" cy="133.8" class="c"/>
<circle cx="523.1" cy="150.0" class="c"/>
<circle cx="490.4" cy="146.8" class="c"/>
<circle cx="551.8" cy="148.8" class="c"/>
<circle cx="516.1" cy="155.5" class="c"/>
<circle cx="533.9" cy="147.7" class="c"/>
<circle cx="555.7" cy="146.1" class="c"/>
<circle cx="529.7" cy="153.5" class="c"/>
<circle cx="529.1" cy="143.8" class="c"/>
<circle cx="492.2" cy="128.8" class="c"/>
<circle cx="527.0" cy="149.6" class="c"/>
<circle cx="529.5" cy="150.2" class="c"/>
<circle cx="509.3" cy="145.3" class="c"/>
<circle cx="508.0" cy="150.0" class="c"/>
<circle cx="546.9" cy="138.7" class="c"/>
<circle cx="499.3" cy="151.3" class="c"/>
<circle cx="494.2" cy="150.2" class="o"/>
<circle cx="548.9" cy="129.4" class="c"/>
<circle cx="539.4" cy="158.6" class="c"/>
<circle cx="496.1" cy="149.2" class="c"/>
<circle cx="538.4" cy="137.1" class="c"/>
<circle cx="526.9" cy="139.9" class="c"/>
<circle cx="511.1" cy="143.7" class="c"/>
<circle cx="493.6" cy="140.3" class="c"/>
<circle cx="541.8" cy="151.2" class="c"/>
<circle cx="520.7" cy="152.2" class="c"/>
<circle cx="525.8" cy="142.4" class="c"/>
<circle cx="494.2" cy="130.6" class="c"/>
<circle cx="529.5" cy="148.8" class="c"/>
<circle cx="529.3" cy="141.4" class="c"/>
<circle cx="544.6" cy="148.3" class="c"/>
<circle cx="510.9" cy="139.9" class="o"/>
<circle cx="534.8" cy="138.3" class="c"/>
<circle cx="546.4" cy="153.4" class="c"/>
<circle cx="515.1" cy="132.8" class="c"/>
<circle cx="532.7" cy="148.4" class="c"/>
<circle cx="534.6" cy="150.1" class="c"/>
<circle cx="558.0" cy="129.2" class="c"/>
<circle cx="531.1" cy="154.1" class="c"/>
<circle cx="488.4" cy="151.1" class="c"/>
<circle cx="490.0" cy="139.0" class="c"/>
<circle cx="534.8" cy="143.7" class="c"/>
<circle cx="539.8" cy="138.2" class="c"/>
<circle cx="496.3" cy="140.0" class="c"/>
<circle cx="496.9" cy="135.0" class="c"/>
<circle cx="499.9" cy="149.4" class="c"/>
<circle cx="524.4" cy="136.8" class="c"/>
<circle cx="530.5" cy="155.3" class="c"/>
<circle cx="504.2" cy="157.0" class="c"/>
<circle cx="544.3" cy="148.5" class="c"/>
<circle cx="550.4" cy="146.9" class="c"/>
<circle cx="515.8" cy="151.9" class="c"/>
<circle cx="509.4" cy="143.6" class="c"/>
<circle cx="537.8" cy="137.6" class="c"/>
<circle cx="556.8" cy="156.1" class="c"/>
<circle cx="509.7" cy="145.0" class="c"/>
<circle cx="522.1" cy="123.6" class="c"/>
<circle cx="520.8" cy="150.8" class="c"/>
<circle cx="542.5" cy="152.5" class="c"/>
<circle cx="508.2" cy="158.0" class="c"/>
<circle cx="487.2" cy="145.0" class="c"/>
<circle cx="536.0" cy="143.9" class="c"/>
<circle cx="532.6" cy="143.8" class="c"/>
<circle cx="544.9" cy="147.6" class="c"/>
<circle cx="518.4" cy="153.8" class="c"/>
<circle cx="525.0" cy="158.1" class="c"/>
<circle cx="519.2" cy="146.7" class="c"/>
<circle cx="517.1" cy="148.7" class="c"/>
<circle cx="529.4" cy="151.4" class="c"/>
<circle cx="513.4" cy="146.8" class="c"/>
<circle cx="552.6" cy="161.6" class="c"/>
<circle cx="505.5" cy="122.9" class="o"/>
<circle cx="502.1" cy="143.6" class="c"/>
<circle cx="513.3" cy="153.5" class="c"/>
<circle cx="516.6" cy="143.5" class="c"/>
<circle cx="511.2" cy="146.3" class="c"/>
<circle cx="526.3" cy="141.8" class="c"/>
<circle cx="551.5" cy="133.0" class="c"/>
<circle cx="521.8" cy="156.6" class="c"/>
<circle cx="499.4" cy="146.5" class="c"/>
<circle cx="494.8" cy="140.2" class="c"/>
<circle cx="537.9" cy="149.8" class="c"/>
<circle cx="536.2" cy="146.7" class="c"/>
<circle cx="521.2" cy="147.1" class="c"/>
<circle cx="511.7" cy="147.5" class="c"/>
<circle cx="498.4" cy="143.4" class="c"/>
<circle cx="518.0" cy="138.0" class="c"/>
<circle cx="526.0" cy="153.5" class="c"/>
<circle cx="520.8" cy="130.7" class="c"/>
<circle cx="501.3" cy="144.2" class="c"/>
<circle cx="488.8" cy="131.8" class="c"/>
<circle cx="511.8" cy="130.6" class="c"/>
<circle cx="499.0" cy="148.2" class="c"/>
<circle cx="534.1" cy="145.3" class="c"/>
<circle cx="534.7" cy="130.8" class="c"/>
<circle cx="539.0" cy="151.7" class="c"/>
<circle cx="526.2" cy="151.5" class="c"/>
<circle cx="496.3" cy="131.9" class="c"/>
<circle cx="496.5" cy="140.7" class="c"/>
<circle cx="549.4" cy="158.2" class="c"/>
<circle cx="527.7" cy="139.2" class="c"/>
<circle cx="511.3" cy="157.3" class="c"/>
<circle cx="505.2" cy="160.9" class="c"/>
<circle cx="500.3" cy="147.9" class="c"/>
<circle cx="510.0" cy="142.7" class="c"/>
<circle cx="552.9" cy="152.0" class="c"/>
<circle cx="535.0" cy="151.8" class="c"/>
<circle cx="490.4" cy="144.2" class="c"/>
<circle cx="530.8" cy="149.3" class="c"/>
<circle cx="538.6" cy="147.3" class="c"/>
<circle cx="539.8" cy="162.6" class="c"/>
<circle cx="529.8" cy="148.6" class="c"/>
<circle cx="528.8" cy="137.0" class="c"/>
<circle cx="539.2" cy="141.2" class="c"/>
<circle cx="540.1" cy="134.8" class="c"/>
<circle cx="531.7" cy="140.4" class="c"/>
<circle cx="544.8" cy="142.0" class="c"/>
<circle cx="533.0" cy="137.3" class="c"/>
<circle cx="534.5" cy="149.5" class="o"/>
<circle cx="527.8" cy="154.2" class="c"/>
<circle cx="493.0" cy="152.0" class="c"/>
<circle cx="542.1" cy="149.2" class="c"/>
<circle cx="509.7" cy="132.9" class="c"/>
<circle cx="546.6" cy="152.2" class="c"/>
<circle cx="496.5" cy="132.4" class="c"/>
<circle cx="523.6" cy="140.0" class="c"/>
<circle cx="491.2" cy="135.5" class="c"/>
<circle cx="531.2" cy="141.2" class="c"/>
<circle cx="508.6" cy="152.9" class="c"/>
<circle cx="491.9" cy="148.3" class="c"/>
<circle cx="535.7" cy="151.5" class="c"/>
<circle cx="550.5" cy="133.2" class="c"/>
<circle cx="537.4" cy="146.6" class="c"/>
<circle cx="500.0" cy="134.6" class="c"/>
<circle cx="514.8" cy="139.3" class="c"/>
<circle cx="489.1" cy="154.6" class="c"/>
<circle cx="525.6" cy="139.0" class="c"/>
<circle cx="533.3" cy="147.4" class="c"/>
<circle cx="550.1" cy="155.6" class="c"/>
<polygon points="486.56,138.4 523.65,144.5 560.74,147.8 560.74,152.6 523.65,146.5 486.56,143.2" fill="#ff0000" fill-opacity="0.13"/>
<line x1="486.56" y1="140.8" x2="560.74" y2="150.2" stroke="#e81010" stroke-width="1.3"/>
</g>
<rect x="482" y="112.2" width="83.6" height="52" fill="none" stroke="#a0a0a0" stroke-width="1.1"/>
<line x1="488.3" y1="164.2" x2="488.3" y2="165.8" stroke="#555" stroke-width="0.5"/>
<text x="488.3" y="169.8" font-size="4.45" text-anchor="middle" stroke="#262626" stroke-width="0.06" textLength="2.48" lengthAdjust="spacingAndGlyphs" fill="#262626">2</text>
<line x1="508.6" y1="164.2" x2="508.6" y2="165.8" stroke="#555" stroke-width="0.5"/>
<text x="508.6" y="169.8" font-size="4.45" text-anchor="middle" stroke="#262626" stroke-width="0.06" textLength="2.48" lengthAdjust="spacingAndGlyphs" fill="#262626">4</text>
<line x1="529.4" y1="164.2" x2="529.4" y2="165.8" stroke="#555" stroke-width="0.5"/>
<text x="529.4" y="169.8" font-size="4.45" text-anchor="middle" stroke="#262626" stroke-width="0.06" textLength="2.48" lengthAdjust="spacingAndGlyphs" fill="#262626">6</text>
<line x1="549.6" y1="164.2" x2="549.6" y2="165.8" stroke="#555" stroke-width="0.5"/>
<text x="549.6" y="169.8" font-size="4.45" text-anchor="middle" stroke="#262626" stroke-width="0.06" textLength="2.48" lengthAdjust="spacingAndGlyphs" fill="#262626">8</text>
<line x1="479.8" y1="120" x2="482" y2="120" stroke="#666" stroke-width="0.5"/>
<text x="479.3" y="121.75" font-size="4.45" text-anchor="end" stroke="#262626" stroke-width="0.06" textLength="6.2" lengthAdjust="spacingAndGlyphs" fill="#262626">3.0</text>
<line x1="479.8" y1="129.2" x2="482" y2="129.2" stroke="#666" stroke-width="0.5"/>
<text x="479.3" y="130.95" font-size="4.45" text-anchor="end" stroke="#262626" stroke-width="0.06" textLength="6.2" lengthAdjust="spacingAndGlyphs" fill="#262626">2.5</text>
<line x1="479.8" y1="138.4" x2="482" y2="138.4" stroke="#666" stroke-width="0.5"/>
<text x="479.3" y="140.15" font-size="4.45" text-anchor="end" stroke="#262626" stroke-width="0.06" textLength="6.2" lengthAdjust="spacingAndGlyphs" fill="#262626">2.0</text>
<line x1="479.8" y1="147.5" x2="482" y2="147.5" stroke="#666" stroke-width="0.5"/>
<text x="479.3" y="149.25" font-size="4.45" text-anchor="end" stroke="#262626" stroke-width="0.06" textLength="6.2" lengthAdjust="spacingAndGlyphs" fill="#262626">1.5</text>
<line x1="479.8" y1="156.7" x2="482" y2="156.7" stroke="#666" stroke-width="0.5"/>
<text x="479.3" y="158.45" font-size="4.45" text-anchor="end" stroke="#262626" stroke-width="0.06" textLength="6.2" lengthAdjust="spacingAndGlyphs" fill="#262626">1.0</text>
<text x="523.8" y="175" font-size="4.45" text-anchor="middle" stroke="#262626" stroke-width="0.06" textLength="7.27" lengthAdjust="spacingAndGlyphs" fill="#262626">age</text>
<text x="471.2" y="138.2" font-size="4.45" text-anchor="middle" stroke="#262626" stroke-width="0.06" textLength="36.88" lengthAdjust="spacingAndGlyphs" transform="rotate(-90 471.2 138.2)" fill="#262626">brain-stem volume</text>
<text x="561.6" y="174.4" font-size="4.45" text-anchor="middle" stroke="#262626" stroke-width="0.06" textLength="7.36" lengthAdjust="spacingAndGlyphs" fill="#262626">1e1</text>
<text x="488" y="111.3" font-size="4.45" text-anchor="middle" stroke="#262626" stroke-width="0.06" textLength="10.63" lengthAdjust="spacingAndGlyphs" fill="#262626">1e−2</text>
<text x="523.8" y="109.8" font-size="5.62" text-anchor="middle" font-weight="bold" stroke="#111" stroke-width="0.14" textLength="27.71" lengthAdjust="spacingAndGlyphs" fill="#111">ρ=-0.259</text>
<rect x="482" y="188.7" width="83.6" height="51.8" fill="#fff"/>
<line x1="488.3" y1="188.7" x2="488.3" y2="240.5" stroke="#dcdcdc" stroke-width="0.8"/>
<line x1="508.6" y1="188.7" x2="508.6" y2="240.5" stroke="#dcdcdc" stroke-width="0.8"/>
<line x1="529.4" y1="188.7" x2="529.4" y2="240.5" stroke="#dcdcdc" stroke-width="0.8"/>
<line x1="549.6" y1="188.7" x2="549.6" y2="240.5" stroke="#dcdcdc" stroke-width="0.8"/>
<line x1="482" y1="192.1" x2="565.6" y2="192.1" stroke="#dcdcdc" stroke-width="0.8"/>
<line x1="482" y1="201.7" x2="565.6" y2="201.7" stroke="#dcdcdc" stroke-width="0.8"/>
<line x1="482" y1="211.3" x2="565.6" y2="211.3" stroke="#dcdcdc" stroke-width="0.8"/>
<line x1="482" y1="221" x2="565.6" y2="221" stroke="#dcdcdc" stroke-width="0.8"/>
<line x1="482" y1="230.6" x2="565.6" y2="230.6" stroke="#dcdcdc" stroke-width="0.8"/>
<line x1="482" y1="240.2" x2="565.6" y2="240.2" stroke="#dcdcdc" stroke-width="0.8"/>
<clipPath id="cp6"><rect x="482" y="188.7" width="83.6" height="51.8"/></clipPath>
<g clip-path="url(#cp6)">
<circle cx="499.8" cy="212.3" class="o"/>
<circle cx="503.6" cy="214.4" class="o"/>
<circle cx="528.4" cy="239.0" class="o"/>
<circle cx="488.0" cy="230.2" class="o"/>
<circle cx="504.5" cy="228.1" class="o"/>
<circle cx="534.0" cy="207.2" class="o"/>
<circle cx="531.5" cy="222.2" class="o"/>
<circle cx="517.1" cy="199.8" class="o"/>
<circle cx="500.6" cy="215.3" class="o"/>
<circle cx="523.0" cy="229.5" class="o"/>
<circle cx="523.9" cy="230.3" class="o"/>
<circle cx="510.7" cy="214.3" class="o"/>
<circle cx="486.9" cy="207.8" class="o"/>
<circle cx="526.3" cy="198.9" class="o"/>
<circle cx="488.4" cy="213.7" class="o"/>
<circle cx="513.6" cy="219.3" class="o"/>
<circle cx="535.8" cy="219.4" class="o"/>
<circle cx="509.3" cy="226.9" class="o"/>
<circle cx="524.5" cy="220.9" class="o"/>
<circle cx="550.4" cy="221.0" class="o"/>
<circle cx="507.3" cy="221.9" class="c"/>
<circle cx="528.8" cy="223.7" class="c"/>
<circle cx="507.3" cy="224.8" class="c"/>
<circle cx="548.8" cy="220.8" class="c"/>
<circle cx="491.7" cy="214.5" class="c"/>
<circle cx="528.0" cy="197.9" class="c"/>
<circle cx="487.7" cy="206.1" class="c"/>
<circle cx="530.5" cy="231.9" class="c"/>
<circle cx="511.1" cy="211.0" class="o"/>
<circle cx="531.7" cy="208.7" class="c"/>
<circle cx="527.9" cy="217.4" class="c"/>
<circle cx="521.1" cy="217.9" class="c"/>
<circle cx="519.3" cy="202.0" class="c"/>
<circle cx="496.0" cy="196.2" class="c"/>
<circle cx="536.6" cy="205.9" class="c"/>
<circle cx="542.3" cy="216.0" class="c"/>
<circle cx="537.4" cy="226.5" class="c"/>
<circle cx="542.7" cy="199.0" class="c"/>
<circle cx="493.2" cy="219.4" class="c"/>
<circle cx="535.2" cy="208.6" class="c"/>
<circle cx="531.5" cy="212.4" class="c"/>
<circle cx="523.7" cy="226.0" class="c"/>
<circle cx="525.5" cy="208.1" class="c"/>
<circle cx="531.9" cy="211.1" class="c"/>
<circle cx="506.4" cy="219.9" class="c"/>
<circle cx="559.5" cy="210.8" class="c"/>
<circle cx="489.6" cy="206.7" class="c"/>
<circle cx="493.3" cy="215.7" class="c"/>
<circle cx="525.2" cy="201.7" class="c"/>
<circle cx="495.1" cy="218.6" class="c"/>
<circle cx="525.0" cy="211.9" class="c"/>
<circle cx="498.9" cy="215.1" class="c"/>
<circle cx="537.3" cy="224.7" class="c"/>
<circle cx="511.6" cy="209.0" class="c"/>
<circle cx="510.6" cy="201.6" class="c"/>
<circle cx="530.3" cy="210.9" class="c"/>
<circle cx="514.6" cy="219.4" class="c"/>
<circle cx="511.6" cy="237.2" class="c"/>
<circle cx="559.5" cy="209.5" class="c"/>
<circle cx="491.7" cy="225.7" class="c"/>
<circle cx="496.4" cy="238.9" class="o"/>
<circle cx="530.0" cy="223.4" class="c"/>
<circle cx="520.6" cy="208.1" class="c"/>
<circle cx="510.7" cy="211.9" class="c"/>
<circle cx="507.9" cy="220.8" class="c"/>
<circle cx="543.6" cy="212.5" class="c"/>
<circle cx="541.7" cy="216.8" class="c"/>
<circle cx="507.9" cy="218.8" class="c"/>
<circle cx="537.2" cy="210.3" class="c"/>
<circle cx="514.5" cy="228.1" class="c"/>
<circle cx="519.4" cy="191.2" class="c"/>
<circle cx="532.8" cy="216.5" class="c"/>
<circle cx="513.6" cy="206.1" class="c"/>
<circle cx="530.2" cy="237.6" class="c"/>
<circle cx="510.7" cy="219.3" class="c"/>
<circle cx="544.3" cy="202.0" class="c"/>
<circle cx="520.7" cy="220.6" class="c"/>
<circle cx="519.3" cy="221.2" class="c"/>
<circle cx="531.4" cy="197.4" class="c"/>
<circle cx="493.2" cy="199.9" class="c"/>
<circle cx="517.5" cy="226.8" class="c"/>
<circle cx="525.7" cy="210.2" class="c"/>
<circle cx="527.6" cy="227.5" class="c"/>
<circle cx="525.6" cy="208.4" class="c"/>
<circle cx="514.1" cy="203.2" class="c"/>
<circle cx="506.2" cy="220.6" class="c"/>
<circle cx="508.6" cy="218.3" class="c"/>
<circle cx="492.8" cy="228.6" class="c"/>
<circle cx="504.2" cy="209.6" class="c"/>
<circle cx="509.3" cy="197.7" class="c"/>
<circle cx="546.9" cy="210.4" class="c"/>
<circle cx="541.6" cy="206.6" class="c"/>
<circle cx="543.5" cy="191.6" class="c"/>
<circle cx="521.7" cy="204.8" class="c"/>
<circle cx="505.3" cy="221.1" class="c"/>
<circle cx="537.5" cy="230.3" class="c"/>
<circle cx="534.7" cy="218.6" class="c"/>
<circle cx="511.2" cy="213.7" class="c"/>
<circle cx="533.5" cy="230.7" class="c"/>
<circle cx="535.7" cy="221.3" class="c"/>
<circle cx="534.1" cy="213.8" class="c"/>
<circle cx="529.3" cy="224.0" class="c"/>
<circle cx="502.7" cy="218.1" class="c"/>
<circle cx="538.4" cy="210.1" class="c"/>
<circle cx="534.1" cy="203.6" class="c"/>
<circle cx="541.0" cy="205.6" class="c"/>
<circle cx="529.9" cy="215.7" class="c"/>
<circle cx="532.0" cy="206.5" class="c"/>
<circle cx="513.1" cy="217.4" class="c"/>
<circle cx="522.7" cy="212.9" class="c"/>
<circle cx="556.9" cy="191.6" class="c"/>
<circle cx="520.6" cy="222.3" class="c"/>
<circle cx="523.9" cy="230.8" class="c"/>
<circle cx="542.3" cy="221.6" class="c"/>
<circle cx="533.8" cy="217.7" class="c"/>
<circle cx="513.2" cy="224.2" class="o"/>
<circle cx="513.7" cy="217.5" class="c"/>
<circle cx="492.1" cy="219.8" class="c"/>
<circle cx="524.3" cy="216.3" class="c"/>
<circle cx="520.9" cy="213.9" class="c"/>
<circle cx="490.2" cy="232.2" class="c"/>
<circle cx="527.9" cy="211.2" class="c"/>
<circle cx="498.9" cy="228.4" class="c"/>
<circle cx="517.3" cy="201.0" class="c"/>
<circle cx="543.7" cy="219.0" class="c"/>
<circle cx="491.0" cy="215.5" class="c"/>
<circle cx="551.1" cy="218.7" class="c"/>
<circle cx="528.1" cy="218.1" class="c"/>
<circle cx="536.7" cy="207.2" class="c"/>
<circle cx="539.5" cy="223.9" class="c"/>
<circle cx="490.0" cy="224.5" class="c"/>
<circle cx="496.8" cy="217.6" class="c"/>
<circle cx="507.1" cy="217.3" class="c"/>
<circle cx="527.7" cy="235.1" class="c"/>
<circle cx="527.1" cy="217.1" class="c"/>
<circle cx="539.5" cy="223.9" class="c"/>
<circle cx="532.4" cy="222.3" class="c"/>
<circle cx="511.3" cy="208.8" class="c"/>
<circle cx="506.7" cy="213.4" class="c"/>
<circle cx="556.4" cy="203.5" class="c"/>
<circle cx="543.8" cy="228.5" class="c"/>
<circle cx="521.5" cy="211.7" class="c"/>
<circle cx="547.2" cy="221.0" class="c"/>
<circle cx="495.5" cy="199.9" class="c"/>
<circle cx="546.2" cy="221.5" class="c"/>
<circle cx="526.2" cy="212.9" class="c"/>
<circle cx="489.4" cy="215.9" class="c"/>
<circle cx="536.7" cy="204.6" class="c"/>
<circle cx="504.6" cy="206.7" class="c"/>
<circle cx="508.9" cy="231.2" class="o"/>
<circle cx="534.2" cy="204.7" class="o"/>
<circle cx="534.7" cy="188.6" class="c"/>
<circle cx="513.0" cy="219.4" class="c"/>
<circle cx="540.5" cy="223.4" class="c"/>
<circle cx="498.2" cy="232.6" class="c"/>
<circle cx="556.5" cy="228.4" class="c"/>
<circle cx="512.2" cy="216.2" class="c"/>
<circle cx="559.9" cy="205.7" class="c"/>
<circle cx="551.7" cy="223.4" class="c"/>
<circle cx="525.3" cy="206.5" class="c"/>
<circle cx="528.8" cy="213.5" class="c"/>
<circle cx="518.8" cy="232.2" class="c"/>
<circle cx="542.5" cy="216.9" class="c"/>
<circle cx="515.7" cy="213.8" class="c"/>
<circle cx="535.3" cy="211.4" class="c"/>
<circle cx="493.6" cy="226.7" class="c"/>
<circle cx="519.0" cy="213.9" class="c"/>
<circle cx="509.9" cy="211.2" class="c"/>
<circle cx="534.4" cy="205.2" class="c"/>
<circle cx="519.1" cy="204.1" class="c"/>
<circle cx="496.1" cy="211.5" class="c"/>
<circle cx="503.3" cy="218.6" class="c"/>
<circle cx="512.2" cy="227.6" class="c"/>
<circle cx="527.2" cy="213.0" class="c"/>
<circle cx="535.4" cy="212.1" class="c"/>
<circle cx="532.7" cy="221.1" class="o"/>
<polygon points="486.56,215.6 523.65,214.4 560.74,210.4 560.74,215.2 523.65,216.4 486.56,220.4" fill="#ff0000" fill-opacity="0.13"/>
<line x1="486.56" y1="218" x2="560.74" y2="212.8" stroke="#e81010" stroke-width="1.3"/>
</g>
<rect x="482" y="188.7" width="83.6" height="51.8" fill="none" stroke="#a0a0a0" stroke-width="1.1"/>
<line x1="488.3" y1="240.5" x2="488.3" y2="242.1" stroke="#555" stroke-width="0.5"/>
<text x="488.3" y="246.1" font-size="4.45" text-anchor="middle" stroke="#262626" stroke-width="0.06" textLength="2.48" lengthAdjust="spacingAndGlyphs" fill="#262626">2</text>
<line x1="508.6" y1="240.5" x2="508.6" y2="242.1" stroke="#555" stroke-width="0.5"/>
<text x="508.6" y="246.1" font-size="4.45" text-anchor="middle" stroke="#262626" stroke-width="0.06" textLength="2.48" lengthAdjust="spacingAndGlyphs" fill="#262626">4</text>
<line x1="529.4" y1="240.5" x2="529.4" y2="242.1" stroke="#555" stroke-width="0.5"/>
<text x="529.4" y="246.1" font-size="4.45" text-anchor="middle" stroke="#262626" stroke-width="0.06" textLength="2.48" lengthAdjust="spacingAndGlyphs" fill="#262626">6</text>
<line x1="549.6" y1="240.5" x2="549.6" y2="242.1" stroke="#555" stroke-width="0.5"/>
<text x="549.6" y="246.1" font-size="4.45" text-anchor="middle" stroke="#262626" stroke-width="0.06" textLength="2.48" lengthAdjust="spacingAndGlyphs" fill="#262626">8</text>
<line x1="479.8" y1="192.1" x2="482" y2="192.1" stroke="#666" stroke-width="0.5"/>
<text x="479.3" y="193.85" font-size="4.45" text-anchor="end" stroke="#262626" stroke-width="0.06" textLength="8.68" lengthAdjust="spacingAndGlyphs" fill="#262626">2.75</text>
<line x1="479.8" y1="201.7" x2="482" y2="201.7" stroke="#666" stroke-width="0.5"/>
<text x="479.3" y="203.45" font-size="4.45" text-anchor="end" stroke="#262626" stroke-width="0.06" textLength="8.68" lengthAdjust="spacingAndGlyphs" fill="#262626">2.50</text>
<line x1="479.8" y1="211.3" x2="482" y2="211.3" stroke="#666" stroke-width="0.5"/>
<text x="479.3" y="213.05" font-size="4.45" text-anchor="end" stroke="#262626" stroke-width="0.06" textLength="8.68" lengthAdjust="spacingAndGlyphs" fill="#262626">2.25</text>
<line x1="479.8" y1="221" x2="482" y2="221" stroke="#666" stroke-width="0.5"/>
<text x="479.3" y="222.75" font-size="4.45" text-anchor="end" stroke="#262626" stroke-width="0.06" textLength="8.68" lengthAdjust="spacingAndGlyphs" fill="#262626">2.00</text>
<line x1="479.8" y1="230.6" x2="482" y2="230.6" stroke="#666" stroke-width="0.5"/>
<text x="479.3" y="232.35" font-size="4.45" text-anchor="end" stroke="#262626" stroke-width="0.06" textLength="8.68" lengthAdjust="spacingAndGlyphs" fill="#262626">1.75</text>
<line x1="479.8" y1="240.2" x2="482" y2="240.2" stroke="#666" stroke-width="0.5"/>
<text x="479.3" y="241.95" font-size="4.45" text-anchor="end" stroke="#262626" stroke-width="0.06" textLength="8.68" lengthAdjust="spacingAndGlyphs" fill="#262626">1.50</text>
<text x="523.8" y="251.3" font-size="4.45" text-anchor="middle" stroke="#262626" stroke-width="0.06" textLength="7.27" lengthAdjust="spacingAndGlyphs" fill="#262626">age</text>
<text x="468.72" y="214.6" font-size="4.45" text-anchor="middle" stroke="#262626" stroke-width="0.06" textLength="55.12" lengthAdjust="spacingAndGlyphs" transform="rotate(-90 468.72 214.6)" fill="#262626">posteriorcingulate thickness</text>
<text x="561.6" y="250.7" font-size="4.45" text-anchor="middle" stroke="#262626" stroke-width="0.06" textLength="7.36" lengthAdjust="spacingAndGlyphs" fill="#262626">1e1</text>
<text x="523.8" y="186.3" font-size="5.62" text-anchor="middle" font-weight="bold" stroke="#111" stroke-width="0.14" textLength="21.71" lengthAdjust="spacingAndGlyphs" fill="#111">ρ=0.11</text>
<rect x="482" y="265.3" width="83.6" height="52" fill="#fff"/>
<line x1="488.3" y1="265.3" x2="488.3" y2="317.3" stroke="#dcdcdc" stroke-width="0.8"/>
<line x1="508.6" y1="265.3" x2="508.6" y2="317.3" stroke="#dcdcdc" stroke-width="0.8"/>
<line x1="529.4" y1="265.3" x2="529.4" y2="317.3" stroke="#dcdcdc" stroke-width="0.8"/>
<line x1="549.6" y1="265.3" x2="549.6" y2="317.3" stroke="#dcdcdc" stroke-width="0.8"/>
<line x1="482" y1="270" x2="565.6" y2="270" stroke="#dcdcdc" stroke-width="0.8"/>
<line x1="482" y1="281" x2="565.6" y2="281" stroke="#dcdcdc" stroke-width="0.8"/>
<line x1="482" y1="291.9" x2="565.6" y2="291.9" stroke="#dcdcdc" stroke-width="0.8"/>
<line x1="482" y1="302.8" x2="565.6" y2="302.8" stroke="#dcdcdc" stroke-width="0.8"/>
<line x1="482" y1="313.8" x2="565.6" y2="313.8" stroke="#dcdcdc" stroke-width="0.8"/>
<clipPath id="cp7"><rect x="482" y="265.3" width="83.6" height="52"/></clipPath>
<g clip-path="url(#cp7)">
<circle cx="520.3" cy="285.1" class="o"/>
<circle cx="506.2" cy="288.8" class="o"/>
<circle cx="533.3" cy="298.6" class="o"/>
<circle cx="501.7" cy="303.7" class="o"/>
<circle cx="540.9" cy="298.0" class="o"/>
<circle cx="520.4" cy="292.1" class="o"/>
<circle cx="538.5" cy="293.8" class="o"/>
<circle cx="533.8" cy="298.2" class="o"/>
<circle cx="537.2" cy="317.6" class="o"/>
<circle cx="488.9" cy="310.7" class="o"/>
<circle cx="513.9" cy="308.0" class="o"/>
<circle cx="530.0" cy="309.7" class="o"/>
<circle cx="548.0" cy="313.3" class="o"/>
<circle cx="532.7" cy="309.6" class="o"/>
<circle cx="551.8" cy="307.0" class="o"/>
<circle cx="512.3" cy="276.8" class="o"/>
<circle cx="507.4" cy="270.1" class="o"/>
<circle cx="522.1" cy="312.4" class="o"/>
<circle cx="512.3" cy="309.3" class="o"/>
<circle cx="533.5" cy="309.2" class="o"/>
<circle cx="519.9" cy="296.8" class="c"/>
<circle cx="536.8" cy="300.1" class="c"/>
<circle cx="517.1" cy="303.8" class="c"/>
<circle cx="532.6" cy="293.5" class="c"/>
<circle cx="551.4" cy="308.8" class="o"/>
<circle cx="506.1" cy="298.7" class="c"/>
<circle cx="541.9" cy="306.1" class="c"/>
<circle cx="508.3" cy="303.3" class="c"/>
<circle cx="546.8" cy="301.4" class="o"/>
<circle cx="508.2" cy="301.2" class="o"/>
<circle cx="535.2" cy="304.9" class="c"/>
<circle cx="525.7" cy="307.9" class="c"/>
<circle cx="526.9" cy="293.1" class="c"/>
<circle cx="493.7" cy="298.6" class="c"/>
<circle cx="536.4" cy="297.1" class="c"/>
<circle cx="508.7" cy="305.7" class="c"/>
<circle cx="492.2" cy="299.2" class="c"/>
<circle cx="551.8" cy="298.2" class="c"/>
<circle cx="496.9" cy="296.9" class="c"/>
<circle cx="488.9" cy="296.3" class="c"/>
<circle cx="531.2" cy="307.0" class="c"/>
<circle cx="487.4" cy="304.3" class="c"/>
<circle cx="523.1" cy="305.8" class="c"/>
<circle cx="531.3" cy="297.8" class="c"/>
<circle cx="534.0" cy="299.7" class="c"/>
<circle cx="514.5" cy="298.0" class="c"/>
<circle cx="531.5" cy="292.5" class="c"/>
<circle cx="516.4" cy="293.9" class="c"/>
<circle cx="536.2" cy="311.0" class="c"/>
<circle cx="515.6" cy="297.6" class="c"/>
<circle cx="501.7" cy="304.2" class="c"/>
<circle cx="544.7" cy="315.5" class="c"/>
<circle cx="545.3" cy="304.3" class="c"/>
<circle cx="537.1" cy="285.7" class="c"/>
<circle cx="492.9" cy="301.5" class="c"/>
<circle cx="505.2" cy="287.1" class="c"/>
<circle cx="490.6" cy="292.4" class="c"/>
<circle cx="544.8" cy="303.2" class="c"/>
<circle cx="505.6" cy="291.4" class="c"/>
<circle cx="532.6" cy="287.3" class="c"/>
<circle cx="514.9" cy="277.7" class="c"/>
<circle cx="532.5" cy="306.9" class="c"/>
<circle cx="536.0" cy="282.4" class="c"/>
<circle cx="511.1" cy="304.5" class="c"/>
<circle cx="540.2" cy="306.0" class="c"/>
<circle cx="513.7" cy="300.9" class="c"/>
<circle cx="498.1" cy="303.0" class="c"/>
<circle cx="529.1" cy="302.5" class="c"/>
<circle cx="519.3" cy="307.6" class="o"/>
<circle cx="513.7" cy="301.8" class="c"/>
<circle cx="532.1" cy="299.5" class="c"/>
<circle cx="543.5" cy="306.4" class="c"/>
<circle cx="512.9" cy="288.4" class="c"/>
<circle cx="515.4" cy="304.5" class="c"/>
<circle cx="550.5" cy="314.6" class="c"/>
<circle cx="502.6" cy="281.3" class="c"/>
<circle cx="538.7" cy="311.8" class="o"/>
<circle cx="516.9" cy="295.7" class="c"/>
<circle cx="500.3" cy="304.4" class="c"/>
<circle cx="489.0" cy="302.3" class="c"/>
<circle cx="535.5" cy="304.4" class="c"/>
<circle cx="529.8" cy="293.4" class="c"/>
<circle cx="491.7" cy="297.9" class="c"/>
<circle cx="547.2" cy="295.1" class="c"/>
<circle cx="518.4" cy="310.5" class="c"/>
<circle cx="547.9" cy="311.3" class="c"/>
<circle cx="502.1" cy="282.0" class="c"/>
<circle cx="524.9" cy="287.6" class="c"/>
<circle cx="523.4" cy="292.3" class="c"/>
<circle cx="550.3" cy="309.7" class="c"/>
<circle cx="522.5" cy="301.6" class="c"/>
<circle cx="532.2" cy="290.5" class="c"/>
<circle cx="498.9" cy="290.3" class="c"/>
<circle cx="488.4" cy="294.2" class="c"/>
<circle cx="549.1" cy="310.8" class="c"/>
<circle cx="504.9" cy="291.7" class="c"/>
<circle cx="516.1" cy="297.3" class="c"/>
<circle cx="543.1" cy="309.5" class="c"/>
<circle cx="552.9" cy="306.1" class="c"/>
<circle cx="529.0" cy="300.1" class="c"/>
<circle cx="551.0" cy="306.4" class="c"/>
<circle cx="531.2" cy="303.7" class="c"/>
<circle cx="529.0" cy="281.9" class="c"/>
<circle cx="506.7" cy="297.9" class="c"/>
<circle cx="513.3" cy="314.4" class="c"/>
<circle cx="517.7" cy="300.6" class="c"/>
<circle cx="493.2" cy="299.7" class="c"/>
<circle cx="523.0" cy="304.4" class="c"/>
<circle cx="529.3" cy="303.4" class="c"/>
<circle cx="514.1" cy="306.8" class="c"/>
<circle cx="536.4" cy="309.3" class="o"/>
<circle cx="534.6" cy="309.0" class="c"/>
<circle cx="530.7" cy="296.6" class="c"/>
<circle cx="533.3" cy="305.7" class="c"/>
<circle cx="543.7" cy="294.4" class="c"/>
<circle cx="536.6" cy="302.0" class="c"/>
<circle cx="490.3" cy="306.9" class="c"/>
<circle cx="520.8" cy="305.5" class="c"/>
<circle cx="535.6" cy="305.3" class="c"/>
<circle cx="548.3" cy="314.2" class="c"/>
<circle cx="527.0" cy="304.0" class="c"/>
<circle cx="540.9" cy="306.6" class="c"/>
<circle cx="532.1" cy="301.2" class="c"/>
<circle cx="489.1" cy="291.3" class="c"/>
<circle cx="544.6" cy="304.8" class="c"/>
<circle cx="545.9" cy="293.8" class="c"/>
<circle cx="514.3" cy="301.7" class="c"/>
<circle cx="539.0" cy="305.0" class="c"/>
<circle cx="552.2" cy="313.4" class="c"/>
<circle cx="487.0" cy="285.2" class="c"/>
<circle cx="514.5" cy="308.3" class="c"/>
<circle cx="503.2" cy="283.3" class="c"/>
<circle cx="557.3" cy="305.7" class="c"/>
<circle cx="542.3" cy="315.0" class="c"/>
<circle cx="538.2" cy="291.4" class="c"/>
<circle cx="551.4" cy="309.7" class="c"/>
<circle cx="497.6" cy="302.1" class="c"/>
<circle cx="531.2" cy="302.7" class="c"/>
<circle cx="547.2" cy="307.8" class="c"/>
<circle cx="548.2" cy="292.7" class="c"/>
<circle cx="493.5" cy="294.7" class="c"/>
<circle cx="556.8" cy="314.0" class="c"/>
<circle cx="499.4" cy="304.7" class="c"/>
<circle cx="506.4" cy="280.9" class="c"/>
<circle cx="547.0" cy="301.9" class="c"/>
<circle cx="504.1" cy="291.7" class="c"/>
<circle cx="514.7" cy="303.4" class="c"/>
<circle cx="533.5" cy="301.4" class="c"/>
<circle cx="520.4" cy="300.5" class="c"/>
<circle cx="503.9" cy="292.8" class="c"/>
<circle cx="537.8" cy="308.8" class="c"/>
<circle cx="550.9" cy="297.6" class="c"/>
<circle cx="500.1" cy="293.2" class="c"/>
<circle cx="538.1" cy="306.8" class="c"/>
<circle cx="527.7" cy="306.7" class="c"/>
<circle cx="539.9" cy="300.2" class="c"/>
<circle cx="518.8" cy="304.3" class="c"/>
<circle cx="523.7" cy="302.8" class="c"/>
<circle cx="512.9" cy="298.6" class="c"/>
<circle cx="513.4" cy="293.6" class="c"/>
<circle cx="488.5" cy="308.9" class="c"/>
<circle cx="522.8" cy="290.2" class="c"/>
<circle cx="521.0" cy="304.0" class="c"/>
<circle cx="555.5" cy="306.7" class="c"/>
<circle cx="513.5" cy="302.5" class="c"/>
<circle cx="558.1" cy="310.1" class="c"/>
<circle cx="513.3" cy="303.9" class="c"/>
<circle cx="511.7" cy="299.2" class="c"/>
<circle cx="548.7" cy="282.1" class="c"/>
<circle cx="552.3" cy="315.7" class="c"/>
<circle cx="495.3" cy="302.1" class="c"/>
<circle cx="543.8" cy="307.0" class="c"/>
<circle cx="524.7" cy="304.5" class="c"/>
<circle cx="509.6" cy="292.7" class="c"/>
<circle cx="528.9" cy="300.8" class="c"/>
<circle cx="518.2" cy="294.0" class="c"/>
<polygon points="486.56,291.6 523.65,297.8 560.74,301.2 560.74,306 523.65,299.8 486.56,296.4" fill="#ff0000" fill-opacity="0.13"/>
<line x1="486.56" y1="294" x2="560.74" y2="303.6" stroke="#e81010" stroke-width="1.3"/>
</g>
<rect x="482" y="265.3" width="83.6" height="52" fill="none" stroke="#a0a0a0" stroke-width="1.1"/>
<line x1="488.3" y1="317.3" x2="488.3" y2="318.9" stroke="#555" stroke-width="0.5"/>
<text x="488.3" y="322.9" font-size="4.45" text-anchor="middle" stroke="#262626" stroke-width="0.06" textLength="2.48" lengthAdjust="spacingAndGlyphs" fill="#262626">2</text>
<line x1="508.6" y1="317.3" x2="508.6" y2="318.9" stroke="#555" stroke-width="0.5"/>
<text x="508.6" y="322.9" font-size="4.45" text-anchor="middle" stroke="#262626" stroke-width="0.06" textLength="2.48" lengthAdjust="spacingAndGlyphs" fill="#262626">4</text>
<line x1="529.4" y1="317.3" x2="529.4" y2="318.9" stroke="#555" stroke-width="0.5"/>
<text x="529.4" y="322.9" font-size="4.45" text-anchor="middle" stroke="#262626" stroke-width="0.06" textLength="2.48" lengthAdjust="spacingAndGlyphs" fill="#262626">6</text>
<line x1="549.6" y1="317.3" x2="549.6" y2="318.9" stroke="#555" stroke-width="0.5"/>
<text x="549.6" y="322.9" font-size="4.45" text-anchor="middle" stroke="#262626" stroke-width="0.06" textLength="2.48" lengthAdjust="spacingAndGlyphs" fill="#262626">8</text>
<line x1="479.8" y1="270" x2="482" y2="270" stroke="#666" stroke-width="0.5"/>
<text x="479.3" y="271.75" font-size="4.45" text-anchor="end" stroke="#262626" stroke-width="0.06" textLength="6.2" lengthAdjust="spacingAndGlyphs" fill="#262626">2.5</text>
<line x1="479.8" y1="281" x2="482" y2="281" stroke="#666" stroke-width="0.5"/>
<text x="479.3" y="282.75" font-size="4.45" text-anchor="end" stroke="#262626" stroke-width="0.06" textLength="6.2" lengthAdjust="spacingAndGlyphs" fill="#262626">2.0</text>
<line x1="479.8" y1="291.9" x2="482" y2="291.9" stroke="#666" stroke-width="0.5"/>
<text x="479.3" y="293.65" font-size="4.45" text-anchor="end" stroke="#262626" stroke-width="0.06" textLength="6.2" lengthAdjust="spacingAndGlyphs" fill="#262626">1.5</text>
<line x1="479.8" y1="302.8" x2="482" y2="302.8" stroke="#666" stroke-width="0.5"/>
<text x="479.3" y="304.55" font-size="4.45" text-anchor="end" stroke="#262626" stroke-width="0.06" textLength="6.2" lengthAdjust="spacingAndGlyphs" fill="#262626">1.0</text>
<line x1="479.8" y1="313.8" x2="482" y2="313.8" stroke="#666" stroke-width="0.5"/>
<text x="479.3" y="315.55" font-size="4.45" text-anchor="end" stroke="#262626" stroke-width="0.06" textLength="6.2" lengthAdjust="spacingAndGlyphs" fill="#262626">0.5</text>
<text x="523.8" y="328.1" font-size="4.45" text-anchor="middle" stroke="#262626" stroke-width="0.06" textLength="7.27" lengthAdjust="spacingAndGlyphs" fill="#262626">age</text>
<text x="471.2" y="291.3" font-size="4.45" text-anchor="middle" stroke="#262626" stroke-width="0.06" textLength="48.18" lengthAdjust="spacingAndGlyphs" transform="rotate(-90 471.2 291.3)" fill="#262626">cerebellum white matter</text>
<text x="561.6" y="327.5" font-size="4.45" text-anchor="middle" stroke="#262626" stroke-width="0.06" textLength="7.36" lengthAdjust="spacingAndGlyphs" fill="#262626">1e1</text>
<text x="488" y="264.4" font-size="4.45" text-anchor="middle" stroke="#262626" stroke-width="0.06" textLength="10.63" lengthAdjust="spacingAndGlyphs" fill="#262626">1e−2</text>
<text x="523.8" y="262.9" font-size="5.62" text-anchor="middle" font-weight="bold" stroke="#111" stroke-width="0.14" textLength="27.71" lengthAdjust="spacingAndGlyphs" fill="#111">ρ=-0.291</text>
<rect x="246.3" y="36.1" width="82.5" height="52.3" fill="#fff"/>
<line x1="250.6" y1="36.1" x2="250.6" y2="88.4" stroke="#dcdcdc" stroke-width="0.8"/>
<line x1="265.1" y1="36.1" x2="265.1" y2="88.4" stroke="#dcdcdc" stroke-width="0.8"/>
<line x1="279.5" y1="36.1" x2="279.5" y2="88.4" stroke="#dcdcdc" stroke-width="0.8"/>
<line x1="293.9" y1="36.1" x2="293.9" y2="88.4" stroke="#dcdcdc" stroke-width="0.8"/>
<line x1="308.4" y1="36.1" x2="308.4" y2="88.4" stroke="#dcdcdc" stroke-width="0.8"/>
<line x1="322.8" y1="36.1" x2="322.8" y2="88.4" stroke="#dcdcdc" stroke-width="0.8"/>
<line x1="246.3" y1="42.45" x2="328.8" y2="42.45" stroke="#dcdcdc" stroke-width="0.8"/>
<line x1="246.3" y1="55.45" x2="328.8" y2="55.45" stroke="#dcdcdc" stroke-width="0.8"/>
<line x1="246.3" y1="68.45" x2="328.8" y2="68.45" stroke="#dcdcdc" stroke-width="0.8"/>
<line x1="246.3" y1="81.45" x2="328.8" y2="81.45" stroke="#dcdcdc" stroke-width="0.8"/>
<polygon points="252.66,42.45 253.46,42.44 254.26,42.43 255.05,42.42 255.85,42.41 256.65,42.41 257.45,42.4 258.25,42.39 259.04,42.38 259.84,42.37 260.64,42.36 261.44,42.35 262.24,42.34 263.03,42.34 263.83,42.33 264.63,42.32 265.43,42.31 266.23,42.3 267.02,42.29 267.82,42.28 268.62,42.27 269.42,42.27 270.22,42.26 271.01,42.25 271.81,42.24 272.61,42.23 273.41,42.22 274.21,42.21 275,42.19 275.8,42.13 276.6,42.07 277.4,41.99 278.2,41.91 278.99,41.81 279.79,41.7 280.59,41.57 281.39,41.44 282.19,41.29 282.98,41.12 283.78,40.94 284.58,40.75 285.38,40.54 286.18,40.33 286.97,40.11 287.77,39.87 288.57,39.64 289.37,39.4 290.17,39.17 290.96,38.94 291.76,38.71 292.56,38.5 293.36,38.31 294.16,38.13 294.95,37.97 295.75,37.84 296.55,37.74 297.35,37.66 298.15,37.61 298.94,37.6 299.74,37.63 300.54,37.71 301.34,37.83 302.14,38 302.93,38.21 303.73,38.45 304.53,38.71 305.33,39 306.13,39.3 306.92,39.6 307.72,39.9 308.52,40.19 309.32,40.47 310.12,40.73 310.91,40.98 311.71,41.2 312.51,41.4 313.31,41.58 314.11,41.73 314.9,41.86 315.7,41.98 316.5,42.07 317.3,42.15 318.1,42.21 318.89,42.25 319.69,42.28 320.49,42.32 321.29,42.35 322.09,42.38 322.88,42.41 323.68,42.45" fill="#00008b" fill-opacity="0.68" stroke="#1a1a1a" stroke-opacity="0.42" stroke-width="0.36"/>
<polygon points="252.66,42.45 253.46,42.46 254.26,42.46 255.05,42.47 255.85,42.48 256.65,42.49 257.45,42.49 258.25,42.5 259.04,42.51 259.84,42.51 260.64,42.52 261.44,42.53 262.24,42.53 263.03,42.54 263.83,42.55 264.63,42.56 265.43,42.56 266.23,42.57 267.02,42.58 267.82,42.58 268.62,42.59 269.42,42.6 270.22,42.6 271.01,42.61 271.81,42.62 272.61,42.63 273.41,42.63 274.21,42.64 275,42.65 275.8,42.65 276.6,42.66 277.4,42.67 278.2,42.68 278.99,42.76 279.79,42.86 280.59,42.99 281.39,43.14 282.19,43.32 282.98,43.54 283.78,43.78 284.58,44.06 285.38,44.36 286.18,44.68 286.97,45.02 287.77,45.36 288.57,45.7 289.37,46.02 290.17,46.31 290.96,46.55 291.76,46.75 292.56,46.88 293.36,46.95 294.16,46.95 294.95,46.92 295.75,46.85 296.55,46.76 297.35,46.64 298.15,46.49 298.94,46.33 299.74,46.14 300.54,45.94 301.34,45.72 302.14,45.5 302.93,45.28 303.73,45.05 304.53,44.82 305.33,44.6 306.13,44.38 306.92,44.18 307.72,43.98 308.52,43.8 309.32,43.63 310.12,43.48 310.91,43.34 311.71,43.21 312.51,43.1 313.31,43 314.11,42.91 314.9,42.83 315.7,42.77 316.5,42.71 317.3,42.67 318.1,42.64 318.89,42.61 319.69,42.59 320.49,42.56 321.29,42.53 322.09,42.5 322.88,42.49 323.68,42.45" fill="#ff4500" fill-opacity="0.68" stroke="#1a1a1a" stroke-opacity="0.42" stroke-width="0.36"/>
<line x1="252.66" y1="42.45" x2="323.68" y2="42.45" stroke="#333" stroke-opacity="0.25" stroke-width="0.3"/>
<line x1="290.77" y1="42.45" x2="302.89" y2="42.45" stroke="#111" stroke-width="1.35"/>
<circle cx="296.83" cy="42.45" r="0.42" fill="#fff"/>
<polygon points="275.18,55.45 275.67,55.21 276.16,55.18 276.65,55.15 277.14,55.11 277.62,55.07 278.11,55.03 278.6,54.98 279.09,54.93 279.58,54.87 280.07,54.81 280.56,54.74 281.05,54.66 281.54,54.59 282.03,54.5 282.51,54.41 283,54.32 283.49,54.22 283.98,54.11 284.47,54 284.96,53.88 285.45,53.76 285.94,53.63 286.43,53.5 286.92,53.37 287.4,53.22 287.89,53.08 288.38,52.93 288.87,52.78 289.36,52.63 289.85,52.47 290.34,52.32 290.83,52.16 291.32,52.01 291.81,51.85 292.29,51.7 292.78,51.55 293.27,51.41 293.76,51.27 294.25,51.14 294.74,51.01 295.23,50.89 295.72,50.78 296.21,50.68 296.7,50.59 297.18,50.5 297.67,50.43 298.16,50.37 298.65,50.32 299.14,50.29 299.63,50.27 300.12,50.25 300.61,50.26 301.1,50.28 301.59,50.33 302.07,50.4 302.56,50.48 303.05,50.59 303.54,50.72 304.03,50.86 304.52,51.01 305.01,51.18 305.5,51.36 305.99,51.55 306.48,51.74 306.97,51.95 307.45,52.15 307.94,52.35 308.43,52.56 308.92,52.76 309.41,52.96 309.9,53.15 310.39,53.34 310.88,53.52 311.37,53.69 311.86,53.86 312.34,54.01 312.83,54.16 313.32,54.29 313.81,54.42 314.3,54.53 314.79,54.64 315.28,54.74 315.77,54.83 316.26,54.91 316.75,54.98 317.23,55.04 317.72,55.1 318.21,55.15 318.7,55.45" fill="#00008b" fill-opacity="0.68" stroke="#1a1a1a" stroke-opacity="0.42" stroke-width="0.36"/>
<polygon points="275.18,55.45 275.67,55.58 276.15,55.61 276.64,55.63 277.13,55.66 277.61,55.69 278.1,55.73 278.59,55.77 279.07,55.81 279.56,55.86 280.05,55.91 280.53,55.97 281.02,56.04 281.51,56.11 281.99,56.19 282.48,56.28 282.96,56.37 283.45,56.47 283.94,56.58 284.42,56.69 284.91,56.81 285.4,56.94 285.88,57.08 286.37,57.22 286.86,57.37 287.34,57.52 287.83,57.68 288.32,57.85 288.8,58.02 289.29,58.19 289.78,58.37 290.26,58.54 290.75,58.72 291.24,58.9 291.72,59.07 292.21,59.24 292.7,59.41 293.18,59.57 293.67,59.72 294.16,59.87 294.64,60.01 295.13,60.13 295.62,60.25 296.1,60.35 296.59,60.44 297.08,60.51 297.56,60.57 298.05,60.61 298.54,60.64 299.02,60.65 299.51,60.64 299.99,60.61 300.48,60.55 300.97,60.47 301.45,60.38 301.94,60.26 302.43,60.12 302.91,59.97 303.4,59.8 303.89,59.62 304.37,59.43 304.86,59.23 305.35,59.03 305.83,58.82 306.32,58.61 306.81,58.4 307.29,58.19 307.78,57.98 308.27,57.78 308.75,57.58 309.24,57.4 309.73,57.22 310.21,57.05 310.7,56.89 311.19,56.74 311.67,56.6 312.16,56.47 312.65,56.35 313.13,56.24 313.62,56.15 314.11,56.06 314.59,55.98 315.08,55.91 315.57,55.84 316.05,55.79 316.54,55.74 317.02,55.69 317.51,55.66 318,55.62 318.48,55.45" fill="#ff4500" fill-opacity="0.68" stroke="#1a1a1a" stroke-opacity="0.42" stroke-width="0.36"/>
<line x1="275.18" y1="55.45" x2="318.48" y2="55.45" stroke="#333" stroke-opacity="0.25" stroke-width="0.3"/>
<line x1="293.37" y1="55.45" x2="303.76" y2="55.45" stroke="#111" stroke-width="1.35"/>
<circle cx="298.56" cy="55.45" r="0.42" fill="#fff"/>
<polygon points="266.52,68.45 267.16,68.44 267.8,68.43 268.45,68.42 269.09,68.41 269.73,68.4 270.37,68.39 271.01,68.38 271.66,68.38 272.3,68.37 272.94,68.36 273.58,68.35 274.23,68.34 274.87,68.33 275.51,68.32 276.15,68.31 276.8,68.3 277.44,68.29 278.08,68.28 278.72,68.27 279.36,68.26 280.01,68.25 280.65,68.25 281.29,68.24 281.93,68.23 282.58,68.22 283.22,68.21 283.86,68.16 284.5,68.1 285.14,68.03 285.79,67.96 286.43,67.87 287.07,67.78 287.71,67.67 288.36,67.55 289,67.42 289.64,67.27 290.28,67.11 290.93,66.94 291.57,66.76 292.21,66.57 292.85,66.36 293.49,66.15 294.14,65.94 294.78,65.71 295.42,65.49 296.06,65.26 296.71,65.04 297.35,64.83 297.99,64.62 298.63,64.42 299.27,64.24 299.92,64.08 300.56,63.94 301.2,63.82 301.84,63.72 302.49,63.66 303.13,63.61 303.77,63.6 304.41,63.62 305.06,63.69 305.7,63.8 306.34,63.95 306.98,64.14 307.62,64.36 308.27,64.6 308.91,64.86 309.55,65.14 310.19,65.42 310.84,65.71 311.48,65.99 312.12,66.26 312.76,66.52 313.4,66.77 314.05,66.99 314.69,67.2 315.33,67.39 315.97,67.56 316.62,67.71 317.26,67.84 317.9,67.95 318.54,68.05 319.19,68.13 319.83,68.19 320.47,68.24 321.11,68.28 321.75,68.32 322.4,68.36 323.04,68.38 323.68,68.45" fill="#00008b" fill-opacity="0.68" stroke="#1a1a1a" stroke-opacity="0.42" stroke-width="0.36"/>
<polygon points="266.52,68.45 267.16,68.47 267.8,68.48 268.45,68.49 269.09,68.5 269.73,68.51 270.37,68.53 271.01,68.54 271.66,68.55 272.3,68.57 272.94,68.58 273.58,68.59 274.23,68.6 274.87,68.62 275.51,68.64 276.15,68.67 276.8,68.7 277.44,68.73 278.08,68.77 278.72,68.82 279.36,68.87 280.01,68.92 280.65,68.98 281.29,69.05 281.93,69.12 282.58,69.2 283.22,69.28 283.86,69.37 284.5,69.46 285.14,69.56 285.79,69.66 286.43,69.77 287.07,69.88 287.71,70 288.36,70.12 289,70.25 289.64,70.37 290.28,70.5 290.93,70.62 291.57,70.75 292.21,70.88 292.85,71 293.49,71.12 294.14,71.23 294.78,71.34 295.42,71.44 296.06,71.54 296.71,71.62 297.35,71.7 297.99,71.76 298.63,71.82 299.27,71.86 299.92,71.89 300.56,71.91 301.2,71.91 301.84,71.9 302.49,71.87 303.13,71.81 303.77,71.73 304.41,71.64 305.06,71.52 305.7,71.39 306.34,71.25 306.98,71.1 307.62,70.94 308.27,70.78 308.91,70.61 309.55,70.44 310.19,70.27 310.84,70.1 311.48,69.94 312.12,69.79 312.76,69.65 313.4,69.51 314.05,69.38 314.69,69.27 315.33,69.16 315.97,69.06 316.62,68.98 317.26,68.9 317.9,68.83 318.54,68.77 319.19,68.72 319.83,68.67 320.47,68.63 321.11,68.6 321.75,68.57 322.4,68.55 323.04,68.53 323.68,68.45" fill="#ff4500" fill-opacity="0.68" stroke="#1a1a1a" stroke-opacity="0.42" stroke-width="0.36"/>
<line x1="266.52" y1="68.45" x2="323.68" y2="68.45" stroke="#333" stroke-opacity="0.25" stroke-width="0.3"/>
<line x1="297.7" y1="68.45" x2="310.69" y2="68.45" stroke="#111" stroke-width="1.35"/>
<circle cx="304.19" cy="68.45" r="0.42" fill="#fff"/>
<polygon points="274.31,81.45 274.83,81.44 275.34,81.43 275.85,81.42 276.37,81.4 276.88,81.39 277.39,81.38 277.91,81.37 278.42,81.36 278.93,81.35 279.45,81.33 279.96,81.32 280.47,81.31 280.99,81.3 281.5,81.29 282.01,81.28 282.53,81.26 283.04,81.25 283.55,81.24 284.07,81.23 284.58,81.22 285.09,81.21 285.61,81.18 286.12,81.13 286.63,81.08 287.15,81.01 287.66,80.94 288.17,80.87 288.69,80.78 289.2,80.68 289.71,80.58 290.23,80.46 290.74,80.33 291.25,80.19 291.77,80.05 292.28,79.89 292.79,79.72 293.31,79.54 293.82,79.36 294.33,79.16 294.85,78.96 295.36,78.76 295.87,78.55 296.39,78.35 296.9,78.14 297.41,77.93 297.93,77.73 298.44,77.54 298.95,77.36 299.47,77.18 299.98,77.02 300.49,76.88 301.01,76.75 301.52,76.65 302.03,76.56 302.55,76.49 303.06,76.45 303.57,76.43 304.09,76.43 304.6,76.47 305.11,76.53 305.63,76.62 306.14,76.74 306.65,76.88 307.17,77.05 307.68,77.23 308.19,77.43 308.71,77.65 309.22,77.87 309.73,78.1 310.25,78.34 310.76,78.57 311.27,78.81 311.79,79.04 312.3,79.26 312.81,79.47 313.33,79.68 313.84,79.87 314.35,80.05 314.87,80.22 315.38,80.37 315.89,80.51 316.41,80.64 316.92,80.75 317.43,80.85 317.95,80.94 318.46,81.02 318.97,81.09 319.49,81.15 320,81.45" fill="#00008b" fill-opacity="0.68" stroke="#1a1a1a" stroke-opacity="0.42" stroke-width="0.36"/>
<polygon points="274.31,81.45 274.81,81.46 275.31,81.47 275.8,81.48 276.3,81.48 276.8,81.49 277.29,81.5 277.79,81.51 278.28,81.52 278.78,81.53 279.28,81.53 279.77,81.54 280.27,81.55 280.77,81.56 281.26,81.57 281.76,81.58 282.25,81.58 282.75,81.59 283.25,81.6 283.74,81.61 284.24,81.62 284.74,81.63 285.23,81.63 285.73,81.64 286.22,81.65 286.72,81.66 287.22,81.67 287.71,81.68 288.21,81.69 288.71,81.75 289.2,81.82 289.7,81.9 290.2,82 290.69,82.12 291.19,82.25 291.68,82.4 292.18,82.56 292.68,82.75 293.17,82.95 293.67,83.17 294.17,83.41 294.66,83.66 295.16,83.91 295.65,84.18 296.15,84.44 296.65,84.71 297.14,84.96 297.64,85.2 298.14,85.42 298.63,85.62 299.13,85.8 299.63,85.93 300.12,86.04 300.62,86.1 301.11,86.13 301.61,86.12 302.11,86.09 302.6,86.03 303.1,85.95 303.6,85.86 304.09,85.74 304.59,85.61 305.08,85.46 305.58,85.3 306.08,85.12 306.57,84.94 307.07,84.75 307.57,84.55 308.06,84.36 308.56,84.16 309.05,83.96 309.55,83.76 310.05,83.57 310.54,83.39 311.04,83.21 311.54,83.04 312.03,82.89 312.53,82.74 313.03,82.6 313.52,82.47 314.02,82.35 314.51,82.24 315.01,82.14 315.51,82.05 316,81.97 316.5,81.9 317,81.83 317.49,81.78 317.99,81.73 318.48,81.45" fill="#ff4500" fill-opacity="0.68" stroke="#1a1a1a" stroke-opacity="0.42" stroke-width="0.36"/>
<line x1="274.31" y1="81.45" x2="318.48" y2="81.45" stroke="#333" stroke-opacity="0.25" stroke-width="0.3"/>
<line x1="298.56" y1="81.45" x2="310.69" y2="81.45" stroke="#111" stroke-width="1.35"/>
<circle cx="304.63" cy="81.45" r="0.42" fill="#fff"/>
<rect x="246.3" y="36.1" width="82.5" height="52.3" fill="none" stroke="#a0a0a0" stroke-width="1.1"/>
<line x1="250.6" y1="88.4" x2="250.6" y2="90" stroke="#555" stroke-width="0.5"/>
<text x="250.6" y="94" font-size="4.45" text-anchor="middle" stroke="#262626" stroke-width="0.06" textLength="6.2" lengthAdjust="spacingAndGlyphs" fill="#262626">1.0</text>
<line x1="265.1" y1="88.4" x2="265.1" y2="90" stroke="#555" stroke-width="0.5"/>
<text x="265.1" y="94" font-size="4.45" text-anchor="middle" stroke="#262626" stroke-width="0.06" textLength="6.2" lengthAdjust="spacingAndGlyphs" fill="#262626">1.5</text>
<line x1="279.5" y1="88.4" x2="279.5" y2="90" stroke="#555" stroke-width="0.5"/>
<text x="279.5" y="94" font-size="4.45" text-anchor="middle" stroke="#262626" stroke-width="0.06" textLength="6.2" lengthAdjust="spacingAndGlyphs" fill="#262626">2.0</text>
<line x1="293.9" y1="88.4" x2="293.9" y2="90" stroke="#555" stroke-width="0.5"/>
<text x="293.9" y="94" font-size="4.45" text-anchor="middle" stroke="#262626" stroke-width="0.06" textLength="6.2" lengthAdjust="spacingAndGlyphs" fill="#262626">2.5</text>
<line x1="308.4" y1="88.4" x2="308.4" y2="90" stroke="#555" stroke-width="0.5"/>
<text x="308.4" y="94" font-size="4.45" text-anchor="middle" stroke="#262626" stroke-width="0.06" textLength="6.2" lengthAdjust="spacingAndGlyphs" fill="#262626">3.0</text>
<line x1="322.8" y1="88.4" x2="322.8" y2="90" stroke="#555" stroke-width="0.5"/>
<text x="322.8" y="94" font-size="4.45" text-anchor="middle" stroke="#262626" stroke-width="0.06" textLength="6.2" lengthAdjust="spacingAndGlyphs" fill="#262626">3.5</text>
<line x1="242.3" y1="42.45" x2="246.3" y2="42.45" stroke="#666" stroke-width="0.5"/>
<text x="240.3" y="43.35" font-size="4.45" text-anchor="end" stroke="#262626" stroke-width="0.06" textLength="15.45" lengthAdjust="spacingAndGlyphs" transform="rotate(-45 240.3 43.35)" fill="#262626">(73, 91]</text>
<line x1="242.3" y1="55.45" x2="246.3" y2="55.45" stroke="#666" stroke-width="0.5"/>
<text x="240.3" y="56.35" font-size="4.45" text-anchor="end" stroke="#262626" stroke-width="0.06" textLength="15.45" lengthAdjust="spacingAndGlyphs" transform="rotate(-45 240.3 56.35)" fill="#262626">(64, 73]</text>
<line x1="242.3" y1="68.45" x2="246.3" y2="68.45" stroke="#666" stroke-width="0.5"/>
<text x="240.3" y="69.35" font-size="4.45" text-anchor="end" stroke="#262626" stroke-width="0.06" textLength="15.45" lengthAdjust="spacingAndGlyphs" transform="rotate(-45 240.3 69.35)" fill="#262626">(56, 64]</text>
<line x1="242.3" y1="81.45" x2="246.3" y2="81.45" stroke="#666" stroke-width="0.5"/>
<text x="240.3" y="82.35" font-size="4.45" text-anchor="end" stroke="#262626" stroke-width="0.06" textLength="15.45" lengthAdjust="spacingAndGlyphs" transform="rotate(-45 240.3 82.35)" fill="#262626">(18, 56]</text>
<text x="287.55" y="99.2" font-size="4.45" text-anchor="middle" stroke="#262626" stroke-width="0.06" textLength="50.64" lengthAdjust="spacingAndGlyphs" fill="#262626">middletemporal thickness</text>
<text x="225.1" y="62.25" font-size="4.45" text-anchor="middle" stroke="#262626" stroke-width="0.06" textLength="19.42" lengthAdjust="spacingAndGlyphs" transform="rotate(-90 225.1 62.25)" fill="#262626">AgeGroup</text>
<text x="287.55" y="33.7" font-size="5.62" text-anchor="middle" font-weight="bold" stroke="#111" stroke-width="0.14" textLength="35" lengthAdjust="spacingAndGlyphs" fill="#111">β(f)=-0.517</text>
<rect x="246.3" y="112.2" width="82.5" height="52" fill="#fff"/>
<line x1="247.5" y1="112.2" x2="247.5" y2="164.2" stroke="#dcdcdc" stroke-width="0.8"/>
<line x1="267.4" y1="112.2" x2="267.4" y2="164.2" stroke="#dcdcdc" stroke-width="0.8"/>
<line x1="287.3" y1="112.2" x2="287.3" y2="164.2" stroke="#dcdcdc" stroke-width="0.8"/>
<line x1="307.2" y1="112.2" x2="307.2" y2="164.2" stroke="#dcdcdc" stroke-width="0.8"/>
<line x1="327.1" y1="112.2" x2="327.1" y2="164.2" stroke="#dcdcdc" stroke-width="0.8"/>
<line x1="246.3" y1="118.55" x2="328.8" y2="118.55" stroke="#dcdcdc" stroke-width="0.8"/>
<line x1="246.3" y1="131.55" x2="328.8" y2="131.55" stroke="#dcdcdc" stroke-width="0.8"/>
<line x1="246.3" y1="144.55" x2="328.8" y2="144.55" stroke="#dcdcdc" stroke-width="0.8"/>
<line x1="246.3" y1="157.55" x2="328.8" y2="157.55" stroke="#dcdcdc" stroke-width="0.8"/>
<polygon points="250.93,118.55 251.67,118.5 252.41,118.49 253.15,118.47 253.89,118.45 254.63,118.42 255.37,118.39 256.11,118.37 256.85,118.34 257.59,118.32 258.32,118.29 259.06,118.25 259.8,118.19 260.54,118.13 261.28,118.06 262.02,117.99 262.76,117.9 263.5,117.8 264.24,117.7 264.98,117.58 265.72,117.45 266.46,117.31 267.2,117.16 267.94,117 268.68,116.83 269.42,116.65 270.16,116.46 270.9,116.27 271.64,116.06 272.38,115.85 273.12,115.64 273.86,115.42 274.6,115.21 275.34,114.99 276.07,114.78 276.81,114.58 277.55,114.38 278.29,114.2 279.03,114.03 279.77,113.87 280.51,113.73 281.25,113.61 281.99,113.52 282.73,113.44 283.47,113.39 284.21,113.36 284.95,113.35 285.69,113.38 286.43,113.43 287.17,113.51 287.91,113.61 288.65,113.74 289.39,113.89 290.13,114.06 290.87,114.25 291.61,114.45 292.35,114.66 293.09,114.89 293.83,115.11 294.56,115.35 295.3,115.58 296.04,115.81 296.78,116.04 297.52,116.26 298.26,116.47 299,116.67 299.74,116.86 300.48,117.04 301.22,117.21 301.96,117.37 302.7,117.51 303.44,117.64 304.18,117.76 304.92,117.87 305.66,117.97 306.4,118.05 307.14,118.12 307.88,118.19 308.62,118.25 309.36,118.29 310.1,118.32 310.84,118.35 311.58,118.37 312.31,118.4 313.05,118.42 313.79,118.45 314.53,118.47 315.27,118.5 316.01,118.51 316.75,118.55" fill="#00008b" fill-opacity="0.68" stroke="#1a1a1a" stroke-opacity="0.42" stroke-width="0.36"/>
<polygon points="250.93,118.55 251.67,118.57 252.41,118.58 253.15,118.6 253.89,118.62 254.63,118.64 255.37,118.65 256.11,118.67 256.85,118.69 257.59,118.71 258.32,118.72 259.06,118.74 259.8,118.76 260.54,118.78 261.28,118.79 262.02,118.81 262.76,118.87 263.5,118.93 264.24,119.01 264.98,119.09 265.72,119.19 266.46,119.3 267.2,119.43 267.94,119.57 268.68,119.72 269.42,119.89 270.16,120.07 270.9,120.27 271.64,120.48 272.38,120.7 273.12,120.93 273.86,121.17 274.6,121.42 275.34,121.67 276.07,121.92 276.81,122.17 277.55,122.41 278.29,122.64 279.03,122.86 279.77,123.06 280.51,123.24 281.25,123.4 281.99,123.53 282.73,123.63 283.47,123.7 284.21,123.74 284.95,123.74 285.69,123.72 286.43,123.66 287.17,123.57 287.91,123.45 288.65,123.3 289.39,123.13 290.13,122.93 290.87,122.72 291.61,122.49 292.35,122.25 293.09,122.01 293.83,121.76 294.56,121.51 295.3,121.26 296.04,121.01 296.78,120.78 297.52,120.55 298.26,120.34 299,120.14 299.74,119.95 300.48,119.78 301.22,119.62 301.96,119.47 302.7,119.34 303.44,119.23 304.18,119.13 304.92,119.04 305.66,118.96 306.4,118.89 307.14,118.83 307.88,118.8 308.62,118.78 309.36,118.76 310.1,118.73 310.84,118.71 311.58,118.69 312.31,118.67 313.05,118.65 313.79,118.63 314.53,118.61 315.27,118.59 316.01,118.57 316.75,118.55" fill="#ff4500" fill-opacity="0.68" stroke="#1a1a1a" stroke-opacity="0.42" stroke-width="0.36"/>
<line x1="250.93" y1="118.55" x2="316.75" y2="118.55" stroke="#333" stroke-opacity="0.25" stroke-width="0.3"/>
<line x1="276.91" y1="118.55" x2="290.77" y2="118.55" stroke="#111" stroke-width="1.35"/>
<circle cx="283.84" cy="118.55" r="0.42" fill="#fff"/>
<polygon points="254.39,131.55 255.17,131.52 255.95,131.51 256.73,131.48 257.51,131.46 258.29,131.44 259.06,131.42 259.84,131.4 260.62,131.37 261.4,131.35 262.18,131.33 262.96,131.31 263.74,131.28 264.51,131.23 265.29,131.17 266.07,131.1 266.85,131.02 267.63,130.93 268.41,130.82 269.19,130.71 269.96,130.58 270.74,130.45 271.52,130.29 272.3,130.13 273.08,129.95 273.86,129.76 274.63,129.56 275.41,129.35 276.19,129.13 276.97,128.9 277.75,128.67 278.53,128.43 279.31,128.2 280.08,127.96 280.86,127.74 281.64,127.52 282.42,127.31 283.2,127.11 283.98,126.93 284.76,126.78 285.53,126.64 286.31,126.53 287.09,126.44 287.87,126.39 288.65,126.36 289.43,126.36 290.21,126.4 290.98,126.48 291.76,126.59 292.54,126.74 293.32,126.92 294.1,127.13 294.88,127.36 295.65,127.61 296.43,127.87 297.21,128.14 297.99,128.41 298.77,128.69 299.55,128.96 300.33,129.22 301.1,129.47 301.88,129.71 302.66,129.94 303.44,130.14 304.22,130.33 305,130.51 305.78,130.66 306.55,130.8 307.33,130.92 308.11,131.02 308.89,131.12 309.67,131.19 310.45,131.26 311.22,131.3 312,131.31 312.78,131.33 313.56,131.35 314.34,131.36 315.12,131.38 315.9,131.39 316.67,131.41 317.45,131.42 318.23,131.44 319.01,131.46 319.79,131.47 320.57,131.49 321.35,131.5 322.12,131.52 322.9,131.53 323.68,131.55" fill="#00008b" fill-opacity="0.68" stroke="#1a1a1a" stroke-opacity="0.42" stroke-width="0.36"/>
<polygon points="254.39,131.55 255.17,131.58 255.95,131.6 256.73,131.62 257.51,131.65 258.29,131.67 259.06,131.69 259.84,131.72 260.62,131.74 261.4,131.77 262.18,131.79 262.96,131.82 263.74,131.85 264.51,131.9 265.29,131.97 266.07,132.05 266.85,132.14 267.63,132.24 268.41,132.35 269.19,132.47 269.96,132.61 270.74,132.76 271.52,132.93 272.3,133.11 273.08,133.31 273.86,133.52 274.63,133.74 275.41,133.97 276.19,134.21 276.97,134.46 277.75,134.72 278.53,134.98 279.31,135.24 280.08,135.49 280.86,135.75 281.64,135.99 282.42,136.22 283.2,136.43 283.98,136.63 284.76,136.8 285.53,136.95 286.31,137.07 287.09,137.17 287.87,137.23 288.65,137.26 289.43,137.26 290.21,137.21 290.98,137.11 291.76,136.96 292.54,136.76 293.32,136.53 294.1,136.27 294.88,135.98 295.65,135.67 296.43,135.34 297.21,135.01 297.99,134.68 298.77,134.36 299.55,134.05 300.33,133.75 301.1,133.47 301.88,133.21 302.66,132.97 303.44,132.76 304.22,132.57 305,132.4 305.78,132.25 306.55,132.12 307.33,132.02 308.11,131.92 308.89,131.85 309.67,131.82 310.45,131.81 311.22,131.79 312,131.78 312.78,131.76 313.56,131.75 314.34,131.73 315.12,131.72 315.9,131.7 316.67,131.69 317.45,131.67 318.23,131.66 319.01,131.64 319.79,131.63 320.57,131.61 321.35,131.6 322.12,131.58 322.9,131.57 323.68,131.55" fill="#ff4500" fill-opacity="0.68" stroke="#1a1a1a" stroke-opacity="0.42" stroke-width="0.36"/>
<line x1="254.39" y1="131.55" x2="323.68" y2="131.55" stroke="#333" stroke-opacity="0.25" stroke-width="0.3"/>
<line x1="282.11" y1="131.55" x2="296.83" y2="131.55" stroke="#111" stroke-width="1.35"/>
<circle cx="289.47" cy="131.55" r="0.42" fill="#fff"/>
<polygon points="250.06,144.55 250.89,144.54 251.72,144.53 252.54,144.52 253.37,144.51 254.2,144.5 255.03,144.49 255.85,144.48 256.68,144.47 257.51,144.46 258.33,144.45 259.16,144.44 259.99,144.44 260.82,144.43 261.64,144.42 262.47,144.41 263.3,144.4 264.12,144.39 264.95,144.38 265.78,144.37 266.61,144.36 267.43,144.35 268.26,144.34 269.09,144.33 269.91,144.32 270.74,144.31 271.57,144.3 272.4,144.29 273.22,144.23 274.05,144.15 274.88,144.05 275.71,143.94 276.53,143.81 277.36,143.65 278.19,143.48 279.01,143.28 279.84,143.07 280.67,142.83 281.5,142.57 282.32,142.3 283.15,142.01 283.98,141.71 284.8,141.41 285.63,141.1 286.46,140.8 287.29,140.52 288.11,140.25 288.94,140.01 289.77,139.8 290.59,139.62 291.42,139.49 292.25,139.4 293.08,139.36 293.9,139.36 294.73,139.42 295.56,139.52 296.38,139.67 297.21,139.85 298.04,140.08 298.87,140.33 299.69,140.6 300.52,140.89 301.35,141.19 302.17,141.5 303,141.8 303.83,142.1 304.66,142.38 305.48,142.65 306.31,142.9 307.14,143.13 307.96,143.34 308.79,143.53 309.62,143.7 310.45,143.85 311.27,143.97 312.1,144.08 312.93,144.17 313.76,144.25 314.58,144.3 315.41,144.32 316.24,144.35 317.06,144.37 317.89,144.39 318.72,144.41 319.55,144.44 320.37,144.46 321.2,144.48 322.03,144.5 322.85,144.53 323.68,144.55" fill="#00008b" fill-opacity="0.68" stroke="#1a1a1a" stroke-opacity="0.42" stroke-width="0.36"/>
<polygon points="250.06,144.55 250.89,144.56 251.72,144.56 252.54,144.57 253.37,144.58 254.2,144.58 255.03,144.59 255.85,144.6 256.68,144.6 257.51,144.61 258.33,144.62 259.16,144.63 259.99,144.63 260.82,144.64 261.64,144.65 262.47,144.65 263.3,144.66 264.12,144.67 264.95,144.67 265.78,144.68 266.61,144.69 267.43,144.69 268.26,144.7 269.09,144.72 269.91,144.75 270.74,144.79 271.57,144.84 272.4,144.9 273.22,144.96 274.05,145.04 274.88,145.12 275.71,145.21 276.53,145.31 277.36,145.42 278.19,145.54 279.01,145.67 279.84,145.8 280.67,145.95 281.5,146.1 282.32,146.25 283.15,146.4 283.98,146.56 284.8,146.71 285.63,146.86 286.46,147.01 287.29,147.14 288.11,147.27 288.94,147.38 289.77,147.47 290.59,147.55 291.42,147.61 292.25,147.65 293.08,147.67 293.9,147.66 294.73,147.63 295.56,147.57 296.38,147.48 297.21,147.37 298.04,147.23 298.87,147.08 299.69,146.92 300.52,146.75 301.35,146.56 302.17,146.38 303,146.2 303.83,146.02 304.66,145.85 305.48,145.69 306.31,145.54 307.14,145.4 307.96,145.27 308.79,145.16 309.62,145.06 310.45,144.97 311.27,144.9 312.1,144.83 312.93,144.78 313.76,144.73 314.58,144.7 315.41,144.69 316.24,144.67 317.06,144.66 317.89,144.65 318.72,144.63 319.55,144.62 320.37,144.6 321.2,144.59 322.03,144.58 322.85,144.56 323.68,144.55" fill="#ff4500" fill-opacity="0.68" stroke="#1a1a1a" stroke-opacity="0.42" stroke-width="0.36"/>
<line x1="250.06" y1="144.55" x2="323.68" y2="144.55" stroke="#333" stroke-opacity="0.25" stroke-width="0.3"/>
<line x1="288.17" y1="144.55" x2="298.56" y2="144.55" stroke="#111" stroke-width="1.35"/>
<circle cx="293.37" cy="144.55" r="0.42" fill="#fff"/>
<polygon points="264.79,157.55 265.45,157.54 266.11,157.52 266.77,157.51 267.43,157.5 268.1,157.48 268.76,157.47 269.42,157.46 270.08,157.44 270.74,157.43 271.4,157.42 272.07,157.41 272.73,157.39 273.39,157.38 274.05,157.37 274.71,157.35 275.37,157.34 276.04,157.33 276.7,157.31 277.36,157.3 278.02,157.27 278.68,157.2 279.34,157.13 280.01,157.03 280.67,156.93 281.33,156.81 281.99,156.67 282.65,156.51 283.32,156.33 283.98,156.14 284.64,155.93 285.3,155.7 285.96,155.45 286.62,155.2 287.29,154.93 287.95,154.65 288.61,154.37 289.27,154.09 289.93,153.81 290.59,153.55 291.26,153.3 291.92,153.07 292.58,152.87 293.24,152.69 293.9,152.55 294.56,152.45 295.23,152.38 295.89,152.35 296.55,152.37 297.21,152.43 297.87,152.52 298.54,152.66 299.2,152.82 299.86,153.02 300.52,153.24 301.18,153.49 301.84,153.75 302.51,154.02 303.17,154.3 303.83,154.58 304.49,154.86 305.15,155.13 305.81,155.39 306.48,155.64 307.14,155.87 307.8,156.09 308.46,156.29 309.12,156.47 309.78,156.63 310.45,156.77 311.11,156.9 311.77,157.01 312.43,157.11 313.09,157.19 313.76,157.26 314.42,157.3 315.08,157.32 315.74,157.33 316.4,157.35 317.06,157.37 317.73,157.39 318.39,157.41 319.05,157.42 319.71,157.44 320.37,157.46 321.03,157.48 321.7,157.5 322.36,157.51 323.02,157.53 323.68,157.55" fill="#00008b" fill-opacity="0.68" stroke="#1a1a1a" stroke-opacity="0.42" stroke-width="0.36"/>
<polygon points="264.79,157.55 265.45,157.56 266.11,157.57 266.77,157.58 267.43,157.59 268.1,157.6 268.76,157.61 269.42,157.62 270.08,157.63 270.74,157.64 271.4,157.65 272.07,157.66 272.73,157.67 273.39,157.68 274.05,157.69 274.71,157.7 275.37,157.71 276.04,157.72 276.7,157.73 277.36,157.74 278.02,157.76 278.68,157.82 279.34,157.88 280.01,157.95 280.67,158.03 281.33,158.12 281.99,158.23 282.65,158.35 283.32,158.48 283.98,158.63 284.64,158.79 285.3,158.97 285.96,159.16 286.62,159.36 287.29,159.56 287.95,159.77 288.61,159.99 289.27,160.2 289.93,160.41 290.59,160.62 291.26,160.81 291.92,160.98 292.58,161.14 293.24,161.27 293.9,161.38 294.56,161.46 295.23,161.51 295.89,161.53 296.55,161.52 297.21,161.47 297.87,161.38 298.54,161.25 299.2,161.09 299.86,160.91 300.52,160.71 301.18,160.49 301.84,160.26 302.51,160.02 303.17,159.78 303.83,159.54 304.49,159.32 305.15,159.1 305.81,158.9 306.48,158.71 307.14,158.54 307.8,158.38 308.46,158.24 309.12,158.12 309.78,158.02 310.45,157.93 311.11,157.86 311.77,157.79 312.43,157.75 313.09,157.74 313.76,157.72 314.42,157.71 315.08,157.7 315.74,157.69 316.4,157.68 317.06,157.67 317.73,157.65 318.39,157.64 319.05,157.63 319.71,157.62 320.37,157.61 321.03,157.6 321.7,157.58 322.36,157.57 323.02,157.56 323.68,157.55" fill="#ff4500" fill-opacity="0.68" stroke="#1a1a1a" stroke-opacity="0.42" stroke-width="0.36"/>
<line x1="264.79" y1="157.55" x2="323.68" y2="157.55" stroke="#333" stroke-opacity="0.25" stroke-width="0.3"/>
<line x1="289.9" y1="157.55" x2="300.3" y2="157.55" stroke="#111" stroke-width="1.35"/>
<circle cx="295.1" cy="157.55" r="0.42" fill="#fff"/>
<rect x="246.3" y="112.2" width="82.5" height="52" fill="none" stroke="#a0a0a0" stroke-width="1.1"/>
<line x1="247.5" y1="164.2" x2="247.5" y2="165.8" stroke="#555" stroke-width="0.5"/>
<text x="247.5" y="169.8" font-size="4.45" text-anchor="middle" stroke="#262626" stroke-width="0.06" textLength="6.2" lengthAdjust="spacingAndGlyphs" fill="#262626">1.5</text>
<line x1="267.4" y1="164.2" x2="267.4" y2="165.8" stroke="#555" stroke-width="0.5"/>
<text x="267.4" y="169.8" font-size="4.45" text-anchor="middle" stroke="#262626" stroke-width="0.06" textLength="6.2" lengthAdjust="spacingAndGlyphs" fill="#262626">2.0</text>
<line x1="287.3" y1="164.2" x2="287.3" y2="165.8" stroke="#555" stroke-width="0.5"/>
<text x="287.3" y="169.8" font-size="4.45" text-anchor="middle" stroke="#262626" stroke-width="0.06" textLength="6.2" lengthAdjust="spacingAndGlyphs" fill="#262626">2.5</text>
<line x1="307.2" y1="164.2" x2="307.2" y2="165.8" stroke="#555" stroke-width="0.5"/>
<text x="307.2" y="169.8" font-size="4.45" text-anchor="middle" stroke="#262626" stroke-width="0.06" textLength="6.2" lengthAdjust="spacingAndGlyphs" fill="#262626">3.0</text>
<line x1="327.1" y1="164.2" x2="327.1" y2="165.8" stroke="#555" stroke-width="0.5"/>
<text x="327.1" y="169.8" font-size="4.45" text-anchor="middle" stroke="#262626" stroke-width="0.06" textLength="6.2" lengthAdjust="spacingAndGlyphs" fill="#262626">3.5</text>
<line x1="242.3" y1="118.55" x2="246.3" y2="118.55" stroke="#666" stroke-width="0.5"/>
<text x="240.3" y="119.45" font-size="4.45" text-anchor="end" stroke="#262626" stroke-width="0.06" textLength="15.45" lengthAdjust="spacingAndGlyphs" transform="rotate(-45 240.3 119.45)" fill="#262626">(73, 91]</text>
<line x1="242.3" y1="131.55" x2="246.3" y2="131.55" stroke="#666" stroke-width="0.5"/>
<text x="240.3" y="132.45" font-size="4.45" text-anchor="end" stroke="#262626" stroke-width="0.06" textLength="15.45" lengthAdjust="spacingAndGlyphs" transform="rotate(-45 240.3 132.45)" fill="#262626">(64, 73]</text>
<line x1="242.3" y1="144.55" x2="246.3" y2="144.55" stroke="#666" stroke-width="0.5"/>
<text x="240.3" y="145.45" font-size="4.45" text-anchor="end" stroke="#262626" stroke-width="0.06" textLength="15.45" lengthAdjust="spacingAndGlyphs" transform="rotate(-45 240.3 145.45)" fill="#262626">(56, 64]</text>
<line x1="242.3" y1="157.55" x2="246.3" y2="157.55" stroke="#666" stroke-width="0.5"/>
<text x="240.3" y="158.45" font-size="4.45" text-anchor="end" stroke="#262626" stroke-width="0.06" textLength="15.45" lengthAdjust="spacingAndGlyphs" transform="rotate(-45 240.3 158.45)" fill="#262626">(18, 56]</text>
<text x="287.55" y="175" font-size="4.45" text-anchor="middle" stroke="#262626" stroke-width="0.06" textLength="53.38" lengthAdjust="spacingAndGlyphs" fill="#262626">superiortemporal thickness</text>
<text x="225.1" y="138.2" font-size="4.45" text-anchor="middle" stroke="#262626" stroke-width="0.06" textLength="19.42" lengthAdjust="spacingAndGlyphs" transform="rotate(-90 225.1 138.2)" fill="#262626">AgeGroup</text>
<text x="287.55" y="109.8" font-size="5.62" text-anchor="middle" font-weight="bold" stroke="#111" stroke-width="0.14" textLength="35" lengthAdjust="spacingAndGlyphs" fill="#111">β(f)=-0.332</text>
<rect x="246.3" y="188.7" width="82.5" height="51.8" fill="#fff"/>
<line x1="256.1" y1="188.7" x2="256.1" y2="240.5" stroke="#dcdcdc" stroke-width="0.8"/>
<line x1="271.7" y1="188.7" x2="271.7" y2="240.5" stroke="#dcdcdc" stroke-width="0.8"/>
<line x1="287.3" y1="188.7" x2="287.3" y2="240.5" stroke="#dcdcdc" stroke-width="0.8"/>
<line x1="302.9" y1="188.7" x2="302.9" y2="240.5" stroke="#dcdcdc" stroke-width="0.8"/>
<line x1="318.5" y1="188.7" x2="318.5" y2="240.5" stroke="#dcdcdc" stroke-width="0.8"/>
<line x1="246.3" y1="195.05" x2="328.8" y2="195.05" stroke="#dcdcdc" stroke-width="0.8"/>
<line x1="246.3" y1="208.05" x2="328.8" y2="208.05" stroke="#dcdcdc" stroke-width="0.8"/>
<line x1="246.3" y1="221.05" x2="328.8" y2="221.05" stroke="#dcdcdc" stroke-width="0.8"/>
<line x1="246.3" y1="234.05" x2="328.8" y2="234.05" stroke="#dcdcdc" stroke-width="0.8"/>
<polygon points="249.2,195.05 249.99,195.04 250.79,195.03 251.59,195.02 252.39,195.01 253.19,195 253.98,194.98 254.78,194.97 255.58,194.96 256.38,194.95 257.18,194.94 257.97,194.93 258.77,194.92 259.57,194.91 260.37,194.9 261.17,194.89 261.96,194.88 262.76,194.86 263.56,194.85 264.36,194.84 265.16,194.83 265.95,194.82 266.75,194.81 267.55,194.8 268.35,194.79 269.15,194.78 269.94,194.77 270.74,194.7 271.54,194.63 272.34,194.53 273.14,194.43 273.93,194.31 274.73,194.17 275.53,194.01 276.33,193.83 277.13,193.64 277.92,193.42 278.72,193.19 279.52,192.94 280.32,192.67 281.12,192.4 281.91,192.11 282.71,191.81 283.51,191.51 284.31,191.21 285.11,190.91 285.9,190.63 286.7,190.37 287.5,190.12 288.3,189.9 289.1,189.71 289.89,189.56 290.69,189.44 291.49,189.37 292.29,189.34 293.09,189.35 293.88,189.41 294.68,189.52 295.48,189.68 296.28,189.87 297.08,190.11 297.87,190.37 298.67,190.66 299.47,190.97 300.27,191.29 301.07,191.61 301.86,191.94 302.66,192.26 303.46,192.57 304.26,192.86 305.06,193.14 305.85,193.39 306.65,193.63 307.45,193.84 308.25,194.03 309.05,194.2 309.84,194.34 310.64,194.47 311.44,194.58 312.24,194.67 313.04,194.74 313.83,194.79 314.63,194.82 315.43,194.85 316.23,194.89 317.02,194.92 317.82,194.95 318.62,194.98 319.42,195.01 320.22,195.05" fill="#00008b" fill-opacity="0.68" stroke="#1a1a1a" stroke-opacity="0.42" stroke-width="0.36"/>
<polygon points="249.2,195.05 249.99,195.06 250.79,195.07 251.59,195.07 252.39,195.08 253.19,195.09 253.98,195.1 254.78,195.11 255.58,195.12 256.38,195.12 257.18,195.13 257.97,195.14 258.77,195.15 259.57,195.16 260.37,195.17 261.17,195.17 261.96,195.18 262.76,195.19 263.56,195.2 264.36,195.21 265.16,195.22 265.95,195.22 266.75,195.23 267.55,195.24 268.35,195.25 269.15,195.26 269.94,195.26 270.74,195.27 271.54,195.28 272.34,195.33 273.14,195.4 273.93,195.48 274.73,195.57 275.53,195.68 276.33,195.81 277.13,195.96 277.92,196.12 278.72,196.3 279.52,196.5 280.32,196.72 281.12,196.95 281.91,197.2 282.71,197.45 283.51,197.72 284.31,197.98 285.11,198.25 285.9,198.51 286.7,198.75 287.5,198.98 288.3,199.19 289.1,199.36 289.89,199.51 290.69,199.62 291.49,199.69 292.29,199.73 293.09,199.71 293.88,199.65 294.68,199.55 295.48,199.4 296.28,199.21 297.08,198.98 297.87,198.73 298.67,198.46 299.47,198.18 300.27,197.89 301.07,197.6 301.86,197.32 302.66,197.04 303.46,196.78 304.26,196.54 305.06,196.32 305.85,196.12 306.65,195.94 307.45,195.79 308.25,195.65 309.05,195.54 309.84,195.44 310.64,195.36 311.44,195.29 312.24,195.26 313.04,195.24 313.83,195.22 314.63,195.2 315.43,195.18 316.23,195.16 317.02,195.14 317.82,195.11 318.62,195.09 319.42,195.07 320.22,195.05" fill="#ff4500" fill-opacity="0.68" stroke="#1a1a1a" stroke-opacity="0.42" stroke-width="0.36"/>
<line x1="249.2" y1="195.05" x2="320.22" y2="195.05" stroke="#333" stroke-opacity="0.25" stroke-width="0.3"/>
<line x1="286.44" y1="195.05" x2="301.16" y2="195.05" stroke="#111" stroke-width="1.35"/>
<circle cx="293.8" cy="195.05" r="0.42" fill="#fff"/>
<polygon points="254.39,208.05 255.15,208.04 255.91,208.03 256.67,208.01 257.43,208 258.19,207.99 258.95,207.98 259.71,207.96 260.47,207.95 261.22,207.94 261.98,207.93 262.74,207.91 263.5,207.9 264.26,207.89 265.02,207.88 265.78,207.86 266.54,207.85 267.3,207.84 268.06,207.83 268.82,207.81 269.57,207.8 270.33,207.79 271.09,207.78 271.85,207.76 272.61,207.69 273.37,207.62 274.13,207.54 274.89,207.44 275.65,207.33 276.41,207.21 277.16,207.07 277.92,206.92 278.68,206.75 279.44,206.56 280.2,206.36 280.96,206.14 281.72,205.91 282.48,205.66 283.24,205.41 284,205.14 284.76,204.87 285.51,204.6 286.27,204.32 287.03,204.05 287.79,203.79 288.55,203.53 289.31,203.29 290.07,203.07 290.83,202.88 291.59,202.71 292.35,202.57 293.1,202.46 293.86,202.38 294.62,202.34 295.38,202.34 296.14,202.39 296.9,202.5 297.66,202.66 298.42,202.88 299.18,203.13 299.94,203.43 300.7,203.75 301.45,204.09 302.21,204.44 302.97,204.79 303.73,205.14 304.49,205.48 305.25,205.8 306.01,206.11 306.77,206.39 307.53,206.64 308.29,206.87 309.05,207.07 309.8,207.25 310.56,207.4 311.32,207.52 312.08,207.63 312.84,207.72 313.6,207.78 314.36,207.8 315.12,207.83 315.88,207.85 316.64,207.88 317.39,207.9 318.15,207.93 318.91,207.95 319.67,207.98 320.43,208 321.19,208.03 321.95,208.05" fill="#00008b" fill-opacity="0.68" stroke="#1a1a1a" stroke-opacity="0.42" stroke-width="0.36"/>
<polygon points="254.39,208.05 255.15,208.06 255.91,208.07 256.67,208.08 257.43,208.09 258.19,208.1 258.95,208.12 259.71,208.13 260.47,208.14 261.22,208.15 261.98,208.16 262.74,208.17 263.5,208.18 264.26,208.19 265.02,208.2 265.78,208.21 266.54,208.23 267.3,208.24 268.06,208.25 268.82,208.26 269.57,208.27 270.33,208.28 271.09,208.29 271.85,208.3 272.61,208.31 273.37,208.32 274.13,208.38 274.89,208.46 275.65,208.55 276.41,208.66 277.16,208.78 277.92,208.92 278.68,209.08 279.44,209.26 280.2,209.46 280.96,209.68 281.72,209.92 282.48,210.17 283.24,210.44 284,210.73 284.76,211.02 285.51,211.32 286.27,211.62 287.03,211.92 287.79,212.21 288.55,212.48 289.31,212.73 290.07,212.96 290.83,213.16 291.59,213.33 292.35,213.46 293.1,213.54 293.86,213.59 294.62,213.58 295.38,213.52 296.14,213.4 296.9,213.21 297.66,212.98 298.42,212.7 299.18,212.39 299.94,212.05 300.7,211.7 301.45,211.34 302.21,210.98 302.97,210.63 303.73,210.3 304.49,209.99 305.25,209.7 306.01,209.44 306.77,209.2 307.53,209 308.29,208.82 309.05,208.67 309.8,208.54 310.56,208.44 311.32,208.35 312.08,208.31 312.84,208.29 313.6,208.27 314.36,208.25 315.12,208.23 315.88,208.21 316.64,208.19 317.39,208.17 318.15,208.15 318.91,208.13 319.67,208.11 320.43,208.09 321.19,208.07 321.95,208.05" fill="#ff4500" fill-opacity="0.68" stroke="#1a1a1a" stroke-opacity="0.42" stroke-width="0.36"/>
<line x1="254.39" y1="208.05" x2="321.95" y2="208.05" stroke="#333" stroke-opacity="0.25" stroke-width="0.3"/>
<line x1="288.17" y1="208.05" x2="300.3" y2="208.05" stroke="#111" stroke-width="1.35"/>
<circle cx="294.23" cy="208.05" r="0.42" fill="#fff"/>
<polygon points="264.79,221.05 265.35,220.96 265.92,220.95 266.48,220.93 267.04,220.91 267.61,220.89 268.17,220.86 268.74,220.83 269.3,220.8 269.87,220.77 270.43,220.73 271,220.69 271.56,220.64 272.12,220.59 272.69,220.54 273.25,220.47 273.82,220.4 274.38,220.33 274.95,220.25 275.51,220.16 276.07,220.06 276.64,219.96 277.2,219.85 277.77,219.74 278.33,219.61 278.9,219.48 279.46,219.35 280.03,219.2 280.59,219.05 281.15,218.89 281.72,218.73 282.28,218.56 282.85,218.39 283.41,218.21 283.98,218.03 284.54,217.85 285.11,217.67 285.67,217.48 286.23,217.3 286.8,217.12 287.36,216.94 287.93,216.76 288.49,216.59 289.06,216.43 289.62,216.27 290.19,216.12 290.75,215.98 291.31,215.86 291.88,215.74 292.44,215.64 293.01,215.55 293.57,215.48 294.14,215.42 294.7,215.37 295.27,215.35 295.83,215.33 296.39,215.34 296.96,215.39 297.52,215.47 298.09,215.59 298.65,215.73 299.22,215.91 299.78,216.11 300.35,216.33 300.91,216.57 301.47,216.83 302.04,217.1 302.6,217.37 303.17,217.65 303.73,217.92 304.3,218.19 304.86,218.46 305.43,218.71 305.99,218.96 306.55,219.19 307.12,219.4 307.68,219.6 308.25,219.78 308.81,219.95 309.38,220.1 309.94,220.24 310.5,220.36 311.07,220.47 311.63,220.56 312.2,220.64 312.76,220.71 313.33,220.77 313.89,220.82 314.46,220.86 315.02,221.05" fill="#00008b" fill-opacity="0.68" stroke="#1a1a1a" stroke-opacity="0.42" stroke-width="0.36"/>
<polygon points="264.79,221.05 265.35,221.11 265.92,221.13 266.48,221.14 267.04,221.15 267.61,221.17 268.17,221.19 268.74,221.21 269.3,221.24 269.87,221.26 270.43,221.29 271,221.32 271.56,221.36 272.12,221.4 272.69,221.45 273.25,221.5 273.82,221.55 274.38,221.61 274.95,221.68 275.51,221.75 276.07,221.82 276.64,221.91 277.2,221.99 277.77,222.09 278.33,222.19 278.9,222.29 279.46,222.4 280.03,222.52 280.59,222.64 281.15,222.77 281.72,222.9 282.28,223.03 282.85,223.17 283.41,223.31 283.98,223.45 284.54,223.6 285.11,223.74 285.67,223.89 286.23,224.03 286.8,224.17 287.36,224.31 287.93,224.44 288.49,224.57 289.06,224.69 289.62,224.8 290.19,224.91 290.75,225.01 291.31,225.1 291.88,225.17 292.44,225.24 293.01,225.29 293.57,225.33 294.14,225.36 294.7,225.38 295.27,225.38 295.83,225.36 296.39,225.3 296.96,225.22 297.52,225.11 298.09,224.97 298.65,224.82 299.22,224.64 299.78,224.45 300.35,224.24 300.91,224.03 301.47,223.81 302.04,223.59 302.6,223.37 303.17,223.16 303.73,222.95 304.3,222.75 304.86,222.56 305.43,222.38 305.99,222.21 306.55,222.06 307.12,221.92 307.68,221.8 308.25,221.69 308.81,221.59 309.38,221.5 309.94,221.43 310.5,221.36 311.07,221.31 311.63,221.26 312.2,221.23 312.76,221.19 313.33,221.16 313.89,221.14 314.46,221.12 315.02,221.05" fill="#ff4500" fill-opacity="0.68" stroke="#1a1a1a" stroke-opacity="0.42" stroke-width="0.36"/>
<line x1="264.79" y1="221.05" x2="315.02" y2="221.05" stroke="#333" stroke-opacity="0.25" stroke-width="0.3"/>
<line x1="287.31" y1="221.05" x2="300.3" y2="221.05" stroke="#111" stroke-width="1.35"/>
<circle cx="293.8" cy="221.05" r="0.42" fill="#fff"/>
<polygon points="263.05,234.05 263.74,234.04 264.42,234.02 265.1,234.01 265.78,233.99 266.46,233.98 267.14,233.97 267.82,233.95 268.5,233.94 269.19,233.92 269.87,233.91 270.55,233.9 271.23,233.88 271.91,233.87 272.59,233.85 273.27,233.84 273.95,233.83 274.63,233.81 275.32,233.8 276,233.78 276.68,233.77 277.36,233.73 278.04,233.67 278.72,233.6 279.4,233.52 280.08,233.43 280.77,233.32 281.45,233.21 282.13,233.08 282.81,232.93 283.49,232.78 284.17,232.61 284.85,232.42 285.53,232.23 286.22,232.02 286.9,231.79 287.58,231.56 288.26,231.32 288.94,231.07 289.62,230.81 290.3,230.56 290.98,230.3 291.66,230.05 292.35,229.8 293.03,229.56 293.71,229.34 294.39,229.13 295.07,228.94 295.75,228.77 296.43,228.63 297.11,228.51 297.8,228.42 298.48,228.36 299.16,228.34 299.84,228.34 300.52,228.4 301.2,228.51 301.88,228.67 302.56,228.87 303.25,229.11 303.93,229.38 304.61,229.68 305.29,229.99 305.97,230.32 306.65,230.66 307.33,230.99 308.01,231.31 308.69,231.63 309.38,231.92 310.06,232.2 310.74,232.46 311.42,232.69 312.1,232.9 312.78,233.09 313.46,233.25 314.14,233.39 314.83,233.52 315.51,233.62 316.19,233.71 316.87,233.77 317.55,233.8 318.23,233.83 318.91,233.85 319.59,233.88 320.28,233.91 320.96,233.94 321.64,233.97 322.32,233.99 323,234.02 323.68,234.05" fill="#00008b" fill-opacity="0.68" stroke="#1a1a1a" stroke-opacity="0.42" stroke-width="0.36"/>
<polygon points="263.05,234.05 263.74,234.06 264.42,234.07 265.1,234.08 265.78,234.09 266.46,234.1 267.14,234.11 267.82,234.12 268.5,234.12 269.19,234.13 269.87,234.14 270.55,234.15 271.23,234.16 271.91,234.17 272.59,234.18 273.27,234.19 273.95,234.2 274.63,234.21 275.32,234.22 276,234.23 276.68,234.24 277.36,234.26 278.04,234.3 278.72,234.35 279.4,234.41 280.08,234.47 280.77,234.54 281.45,234.61 282.13,234.7 282.81,234.79 283.49,234.9 284.17,235.01 284.85,235.13 285.53,235.27 286.22,235.41 286.9,235.55 287.58,235.71 288.26,235.87 288.94,236.04 289.62,236.21 290.3,236.38 290.98,236.55 291.66,236.72 292.35,236.88 293.03,237.04 293.71,237.19 294.39,237.33 295.07,237.46 295.75,237.57 296.43,237.66 297.11,237.74 297.8,237.8 298.48,237.84 299.16,237.86 299.84,237.85 300.52,237.81 301.2,237.72 301.88,237.59 302.56,237.43 303.25,237.23 303.93,237.02 304.61,236.79 305.29,236.54 305.97,236.3 306.65,236.05 307.33,235.81 308.01,235.58 308.69,235.37 309.38,235.17 310.06,235 310.74,234.84 311.42,234.7 312.1,234.58 312.78,234.47 313.46,234.39 314.14,234.31 314.83,234.25 315.51,234.23 316.19,234.21 316.87,234.2 317.55,234.18 318.23,234.17 318.91,234.15 319.59,234.14 320.28,234.12 320.96,234.11 321.64,234.09 322.32,234.08 323,234.06 323.68,234.05" fill="#ff4500" fill-opacity="0.68" stroke="#1a1a1a" stroke-opacity="0.42" stroke-width="0.36"/>
<line x1="263.05" y1="234.05" x2="323.68" y2="234.05" stroke="#333" stroke-opacity="0.25" stroke-width="0.3"/>
<line x1="290.77" y1="234.05" x2="302.89" y2="234.05" stroke="#111" stroke-width="1.35"/>
<circle cx="296.83" cy="234.05" r="0.42" fill="#fff"/>
<rect x="246.3" y="188.7" width="82.5" height="51.8" fill="none" stroke="#a0a0a0" stroke-width="1.1"/>
<line x1="256.1" y1="240.5" x2="256.1" y2="242.1" stroke="#555" stroke-width="0.5"/>
<text x="256.1" y="246.1" font-size="4.45" text-anchor="middle" stroke="#262626" stroke-width="0.06" textLength="6.2" lengthAdjust="spacingAndGlyphs" fill="#262626">1.5</text>
<line x1="271.7" y1="240.5" x2="271.7" y2="242.1" stroke="#555" stroke-width="0.5"/>
<text x="271.7" y="246.1" font-size="4.45" text-anchor="middle" stroke="#262626" stroke-width="0.06" textLength="6.2" lengthAdjust="spacingAndGlyphs" fill="#262626">2.0</text>
<line x1="287.3" y1="240.5" x2="287.3" y2="242.1" stroke="#555" stroke-width="0.5"/>
<text x="287.3" y="246.1" font-size="4.45" text-anchor="middle" stroke="#262626" stroke-width="0.06" textLength="6.2" lengthAdjust="spacingAndGlyphs" fill="#262626">2.5</text>
<line x1="302.9" y1="240.5" x2="302.9" y2="242.1" stroke="#555" stroke-width="0.5"/>
<text x="302.9" y="246.1" font-size="4.45" text-anchor="middle" stroke="#262626" stroke-width="0.06" textLength="6.2" lengthAdjust="spacingAndGlyphs" fill="#262626">3.0</text>
<line x1="318.5" y1="240.5" x2="318.5" y2="242.1" stroke="#555" stroke-width="0.5"/>
<text x="318.5" y="246.1" font-size="4.45" text-anchor="middle" stroke="#262626" stroke-width="0.06" textLength="6.2" lengthAdjust="spacingAndGlyphs" fill="#262626">3.5</text>
<line x1="242.3" y1="195.05" x2="246.3" y2="195.05" stroke="#666" stroke-width="0.5"/>
<text x="240.3" y="195.95" font-size="4.45" text-anchor="end" stroke="#262626" stroke-width="0.06" textLength="15.45" lengthAdjust="spacingAndGlyphs" transform="rotate(-45 240.3 195.95)" fill="#262626">(73, 91]</text>
<line x1="242.3" y1="208.05" x2="246.3" y2="208.05" stroke="#666" stroke-width="0.5"/>
<text x="240.3" y="208.95" font-size="4.45" text-anchor="end" stroke="#262626" stroke-width="0.06" textLength="15.45" lengthAdjust="spacingAndGlyphs" transform="rotate(-45 240.3 208.95)" fill="#262626">(64, 73]</text>
<line x1="242.3" y1="221.05" x2="246.3" y2="221.05" stroke="#666" stroke-width="0.5"/>
<text x="240.3" y="221.95" font-size="4.45" text-anchor="end" stroke="#262626" stroke-width="0.06" textLength="15.45" lengthAdjust="spacingAndGlyphs" transform="rotate(-45 240.3 221.95)" fill="#262626">(56, 64]</text>
<line x1="242.3" y1="234.05" x2="246.3" y2="234.05" stroke="#666" stroke-width="0.5"/>
<text x="240.3" y="234.95" font-size="4.45" text-anchor="end" stroke="#262626" stroke-width="0.06" textLength="15.45" lengthAdjust="spacingAndGlyphs" transform="rotate(-45 240.3 234.95)" fill="#262626">(18, 56]</text>
<text x="287.55" y="251.3" font-size="4.45" text-anchor="middle" stroke="#262626" stroke-width="0.06" textLength="31.19" lengthAdjust="spacingAndGlyphs" fill="#262626">insula thickness</text>
<text x="225.1" y="214.6" font-size="4.45" text-anchor="middle" stroke="#262626" stroke-width="0.06" textLength="19.42" lengthAdjust="spacingAndGlyphs" transform="rotate(-90 225.1 214.6)" fill="#262626">AgeGroup</text>
<text x="287.55" y="186.3" font-size="5.62" text-anchor="middle" font-weight="bold" stroke="#111" stroke-width="0.14" textLength="35" lengthAdjust="spacingAndGlyphs" fill="#111">β(f)=-0.266</text>
<rect x="246.3" y="265.3" width="82.5" height="52" fill="#fff"/>
<line x1="256.1" y1="265.3" x2="256.1" y2="317.3" stroke="#dcdcdc" stroke-width="0.8"/>
<line x1="270.5" y1="265.3" x2="270.5" y2="317.3" stroke="#dcdcdc" stroke-width="0.8"/>
<line x1="284.8" y1="265.3" x2="284.8" y2="317.3" stroke="#dcdcdc" stroke-width="0.8"/>
<line x1="299.1" y1="265.3" x2="299.1" y2="317.3" stroke="#dcdcdc" stroke-width="0.8"/>
<line x1="313.4" y1="265.3" x2="313.4" y2="317.3" stroke="#dcdcdc" stroke-width="0.8"/>
<line x1="327.7" y1="265.3" x2="327.7" y2="317.3" stroke="#dcdcdc" stroke-width="0.8"/>
<line x1="246.3" y1="271.65" x2="328.8" y2="271.65" stroke="#dcdcdc" stroke-width="0.8"/>
<line x1="246.3" y1="284.65" x2="328.8" y2="284.65" stroke="#dcdcdc" stroke-width="0.8"/>
<line x1="246.3" y1="297.65" x2="328.8" y2="297.65" stroke="#dcdcdc" stroke-width="0.8"/>
<line x1="246.3" y1="310.65" x2="328.8" y2="310.65" stroke="#dcdcdc" stroke-width="0.8"/>
<polygon points="249.2,271.65 249.99,271.64 250.79,271.64 251.59,271.63 252.39,271.62 253.19,271.62 253.98,271.61 254.78,271.6 255.58,271.6 256.38,271.59 257.18,271.58 257.97,271.58 258.77,271.57 259.57,271.56 260.37,271.56 261.17,271.55 261.96,271.54 262.76,271.54 263.56,271.53 264.36,271.52 265.16,271.52 265.95,271.51 266.75,271.5 267.55,271.49 268.35,271.49 269.15,271.48 269.94,271.47 270.74,271.47 271.54,271.46 272.34,271.45 273.14,271.45 273.93,271.44 274.73,271.43 275.53,271.43 276.33,271.42 277.13,271.41 277.92,271.41 278.72,271.4 279.52,271.39 280.32,271.39 281.12,271.38 281.91,271.37 282.71,271.37 283.51,271.31 284.31,271.22 285.11,271.12 285.9,270.99 286.7,270.85 287.5,270.68 288.3,270.49 289.1,270.28 289.89,270.04 290.69,269.78 291.49,269.49 292.29,269.19 293.09,268.87 293.88,268.54 294.68,268.2 295.48,267.86 296.28,267.53 297.08,267.22 297.87,266.92 298.67,266.65 299.47,266.41 300.27,266.22 301.07,266.08 301.86,265.98 302.66,265.94 303.46,265.96 304.26,266.08 305.06,266.3 305.85,266.6 306.65,266.97 307.45,267.39 308.25,267.84 309.05,268.31 309.84,268.77 310.64,269.21 311.44,269.62 312.24,269.99 313.04,270.32 313.83,270.6 314.63,270.84 315.43,271.03 316.23,271.19 317.02,271.31 317.82,271.4 318.62,271.48 319.42,271.53 320.22,271.65" fill="#00008b" fill-opacity="0.68" stroke="#1a1a1a" stroke-opacity="0.42" stroke-width="0.36"/>
<polygon points="249.2,271.65 249.99,271.65 250.79,271.66 251.59,271.66 252.39,271.67 253.19,271.67 253.98,271.67 254.78,271.68 255.58,271.68 256.38,271.69 257.18,271.69 257.97,271.69 258.77,271.7 259.57,271.7 260.37,271.71 261.17,271.71 261.96,271.72 262.76,271.72 263.56,271.72 264.36,271.73 265.16,271.73 265.95,271.74 266.75,271.74 267.55,271.74 268.35,271.75 269.15,271.75 269.94,271.76 270.74,271.76 271.54,271.76 272.34,271.77 273.14,271.77 273.93,271.78 274.73,271.78 275.53,271.78 276.33,271.79 277.13,271.79 277.92,271.8 278.72,271.8 279.52,271.81 280.32,271.81 281.12,271.81 281.91,271.82 282.71,271.82 283.51,271.86 284.31,271.91 285.11,271.97 285.9,272.05 286.7,272.14 287.5,272.24 288.3,272.35 289.1,272.48 289.89,272.63 290.69,272.78 291.49,272.96 292.29,273.14 293.09,273.33 293.88,273.54 294.68,273.74 295.48,273.94 296.28,274.15 297.08,274.34 297.87,274.52 298.67,274.68 299.47,274.82 300.27,274.94 301.07,275.03 301.86,275.09 302.66,275.11 303.46,275.09 304.26,275 305.06,274.83 305.85,274.6 306.65,274.32 307.45,274.01 308.25,273.69 309.05,273.37 309.84,273.07 310.64,272.79 311.44,272.55 312.24,272.34 313.04,272.17 313.83,272.03 314.63,271.92 315.43,271.84 316.23,271.8 317.02,271.77 317.82,271.74 318.62,271.71 319.42,271.68 320.22,271.65" fill="#ff4500" fill-opacity="0.68" stroke="#1a1a1a" stroke-opacity="0.42" stroke-width="0.36"/>
<line x1="249.2" y1="271.65" x2="320.22" y2="271.65" stroke="#333" stroke-opacity="0.25" stroke-width="0.3"/>
<line x1="295.97" y1="271.65" x2="309.82" y2="271.65" stroke="#111" stroke-width="1.35"/>
<circle cx="302.89" cy="271.65" r="0.42" fill="#fff"/>
<polygon points="272.58,284.65 273.12,284.64 273.65,284.63 274.19,284.62 274.72,284.6 275.26,284.59 275.79,284.58 276.33,284.57 276.86,284.56 277.4,284.55 277.93,284.54 278.47,284.52 279,284.51 279.54,284.5 280.07,284.49 280.61,284.48 281.15,284.47 281.68,284.46 282.22,284.44 282.75,284.43 283.29,284.42 283.82,284.41 284.36,284.4 284.89,284.37 285.43,284.32 285.96,284.27 286.5,284.2 287.03,284.13 287.57,284.05 288.1,283.96 288.64,283.86 289.17,283.75 289.71,283.63 290.24,283.49 290.78,283.35 291.31,283.2 291.85,283.03 292.38,282.86 292.92,282.67 293.46,282.48 293.99,282.28 294.53,282.07 295.06,281.86 295.6,281.65 296.13,281.43 296.67,281.21 297.2,281 297.74,280.79 298.27,280.59 298.81,280.4 299.34,280.22 299.88,280.06 300.41,279.91 300.95,279.78 301.48,279.67 302.02,279.58 302.55,279.52 303.09,279.47 303.62,279.45 304.16,279.47 304.7,279.53 305.23,279.63 305.77,279.78 306.3,279.97 306.84,280.19 307.37,280.44 307.91,280.71 308.44,281 308.98,281.3 309.51,281.6 310.05,281.9 310.58,282.2 311.12,282.48 311.65,282.75 312.19,283 312.72,283.23 313.26,283.44 313.79,283.62 314.33,283.79 314.86,283.94 315.4,284.06 315.94,284.17 316.47,284.27 317.01,284.34 317.54,284.4 318.08,284.45 318.61,284.5 319.15,284.54 319.68,284.56 320.22,284.65" fill="#00008b" fill-opacity="0.68" stroke="#1a1a1a" stroke-opacity="0.42" stroke-width="0.36"/>
<polygon points="272.58,284.65 273.12,284.66 273.65,284.67 274.19,284.68 274.72,284.69 275.26,284.7 275.79,284.71 276.33,284.72 276.86,284.73 277.4,284.74 277.93,284.75 278.47,284.75 279,284.76 279.54,284.77 280.07,284.78 280.61,284.79 281.15,284.8 281.68,284.81 282.22,284.82 282.75,284.83 283.29,284.84 283.82,284.85 284.36,284.86 284.89,284.88 285.43,284.92 285.96,284.97 286.5,285.03 287.03,285.09 287.57,285.16 288.1,285.25 288.64,285.34 289.17,285.44 289.71,285.54 290.24,285.66 290.78,285.79 291.31,285.93 291.85,286.08 292.38,286.24 292.92,286.41 293.46,286.58 293.99,286.76 294.53,286.94 295.06,287.13 295.6,287.32 296.13,287.51 296.67,287.7 297.2,287.88 297.74,288.05 298.27,288.22 298.81,288.37 299.34,288.51 299.88,288.64 300.41,288.75 300.95,288.83 301.48,288.9 302.02,288.95 302.55,288.98 303.09,288.98 303.62,288.94 304.16,288.85 304.7,288.73 305.23,288.56 305.77,288.37 306.3,288.14 306.84,287.9 307.37,287.64 307.91,287.37 308.44,287.1 308.98,286.83 309.51,286.58 310.05,286.33 310.58,286.1 311.12,285.89 311.65,285.7 312.19,285.53 312.72,285.37 313.26,285.24 313.79,285.13 314.33,285.04 314.86,284.96 315.4,284.89 315.94,284.85 316.47,284.83 317.01,284.8 317.54,284.78 318.08,284.75 318.61,284.73 319.15,284.7 319.68,284.68 320.22,284.65" fill="#ff4500" fill-opacity="0.68" stroke="#1a1a1a" stroke-opacity="0.42" stroke-width="0.36"/>
<line x1="272.58" y1="284.65" x2="320.22" y2="284.65" stroke="#333" stroke-opacity="0.25" stroke-width="0.3"/>
<line x1="297.7" y1="284.65" x2="308.96" y2="284.65" stroke="#111" stroke-width="1.35"/>
<circle cx="303.33" cy="284.65" r="0.42" fill="#fff"/>
<polygon points="278.64,297.65 279.15,297.5 279.66,297.48 280.16,297.45 280.67,297.42 281.17,297.38 281.68,297.34 282.19,297.3 282.69,297.25 283.2,297.2 283.7,297.14 284.21,297.07 284.72,297 285.22,296.92 285.73,296.84 286.23,296.75 286.74,296.65 287.25,296.54 287.75,296.42 288.26,296.3 288.76,296.17 289.27,296.04 289.78,295.89 290.28,295.74 290.79,295.59 291.29,295.42 291.8,295.26 292.31,295.08 292.81,294.91 293.32,294.73 293.83,294.55 294.33,294.38 294.84,294.2 295.34,294.02 295.85,293.85 296.36,293.68 296.86,293.52 297.37,293.36 297.87,293.22 298.38,293.08 298.89,292.95 299.39,292.84 299.9,292.74 300.4,292.65 300.91,292.58 301.42,292.52 301.92,292.48 302.43,292.46 302.93,292.45 303.44,292.47 303.95,292.52 304.45,292.59 304.96,292.7 305.46,292.82 305.97,292.98 306.48,293.15 306.98,293.34 307.49,293.55 307.99,293.77 308.5,293.99 309.01,294.23 309.51,294.47 310.02,294.71 310.52,294.94 311.03,295.17 311.54,295.4 312.04,295.61 312.55,295.82 313.05,296.01 313.56,296.2 314.07,296.37 314.57,296.52 315.08,296.66 315.58,296.79 316.09,296.91 316.6,297.01 317.1,297.11 317.61,297.19 318.11,297.26 318.62,297.32 319.13,297.38 319.63,297.41 320.14,297.44 320.65,297.47 321.15,297.5 321.66,297.53 322.16,297.56 322.67,297.58 323.18,297.6 323.68,297.65" fill="#00008b" fill-opacity="0.68" stroke="#1a1a1a" stroke-opacity="0.42" stroke-width="0.36"/>
<polygon points="278.64,297.65 279.15,297.77 279.66,297.79 280.16,297.81 280.67,297.84 281.17,297.87 281.68,297.9 282.19,297.94 282.69,297.98 283.2,298.03 283.7,298.08 284.21,298.14 284.72,298.2 285.22,298.27 285.73,298.35 286.23,298.43 286.74,298.52 287.25,298.62 287.75,298.72 288.26,298.83 288.76,298.95 289.27,299.07 289.78,299.2 290.28,299.33 290.79,299.47 291.29,299.62 291.8,299.76 292.31,299.92 292.81,300.07 293.32,300.22 293.83,300.38 294.33,300.53 294.84,300.69 295.34,300.84 295.85,300.98 296.36,301.12 296.86,301.26 297.37,301.38 297.87,301.5 298.38,301.6 298.89,301.7 299.39,301.78 299.9,301.85 300.4,301.9 300.91,301.94 301.42,301.97 301.92,301.98 302.43,301.97 302.93,301.94 303.44,301.87 303.95,301.79 304.45,301.67 304.96,301.54 305.46,301.38 305.97,301.21 306.48,301.03 306.98,300.83 307.49,300.63 307.99,300.42 308.5,300.21 309.01,300 309.51,299.79 310.02,299.59 310.52,299.4 311.03,299.22 311.54,299.04 312.04,298.88 312.55,298.73 313.05,298.59 313.56,298.47 314.07,298.35 314.57,298.25 315.08,298.16 315.58,298.08 316.09,298.01 316.6,297.95 317.1,297.9 317.61,297.86 318.11,297.84 318.62,297.83 319.13,297.81 319.63,297.79 320.14,297.77 320.65,297.76 321.15,297.74 321.66,297.72 322.16,297.7 322.67,297.69 323.18,297.67 323.68,297.65" fill="#ff4500" fill-opacity="0.68" stroke="#1a1a1a" stroke-opacity="0.42" stroke-width="0.36"/>
<line x1="278.64" y1="297.65" x2="323.68" y2="297.65" stroke="#333" stroke-opacity="0.25" stroke-width="0.3"/>
<line x1="295.97" y1="297.65" x2="309.82" y2="297.65" stroke="#111" stroke-width="1.35"/>
<circle cx="302.89" cy="297.65" r="0.42" fill="#fff"/>
<polygon points="278.64,310.65 279.13,310.5 279.62,310.48 280.1,310.45 280.59,310.42 281.08,310.39 281.56,310.35 282.05,310.31 282.54,310.27 283.02,310.22 283.51,310.16 284,310.1 284.48,310.04 284.97,309.96 285.46,309.88 285.94,309.8 286.43,309.71 286.92,309.61 287.4,309.5 287.89,309.39 288.38,309.27 288.86,309.15 289.35,309.01 289.84,308.87 290.32,308.73 290.81,308.58 291.29,308.42 291.78,308.26 292.27,308.1 292.75,307.93 293.24,307.76 293.73,307.59 294.21,307.42 294.7,307.25 295.19,307.08 295.67,306.91 296.16,306.74 296.65,306.59 297.13,306.43 297.62,306.29 298.11,306.15 298.59,306.02 299.08,305.91 299.57,305.8 300.05,305.71 300.54,305.63 301.03,305.57 301.51,305.52 302,305.48 302.49,305.46 302.97,305.45 303.46,305.48 303.95,305.53 304.43,305.62 304.92,305.75 305.41,305.9 305.89,306.07 306.38,306.27 306.87,306.49 307.35,306.73 307.84,306.97 308.33,307.23 308.81,307.49 309.3,307.74 309.78,308 310.27,308.25 310.76,308.49 311.24,308.71 311.73,308.93 312.22,309.13 312.7,309.32 313.19,309.49 313.68,309.65 314.16,309.79 314.65,309.92 315.14,310.03 315.62,310.13 316.11,310.21 316.6,310.29 317.08,310.35 317.57,310.4 318.06,310.43 318.54,310.45 319.03,310.48 319.52,310.51 320,310.54 320.49,310.57 320.98,310.59 321.46,310.61 321.95,310.65" fill="#00008b" fill-opacity="0.68" stroke="#1a1a1a" stroke-opacity="0.42" stroke-width="0.36"/>
<polygon points="278.64,310.65 279.13,310.74 279.62,310.75 280.1,310.77 280.59,310.78 281.08,310.8 281.56,310.83 282.05,310.85 282.54,310.88 283.02,310.91 283.51,310.95 284,310.99 284.48,311.03 284.97,311.07 285.46,311.12 285.94,311.18 286.43,311.24 286.92,311.3 287.4,311.37 287.89,311.44 288.38,311.52 288.86,311.6 289.35,311.69 289.84,311.77 290.32,311.87 290.81,311.97 291.29,312.06 291.78,312.17 292.27,312.27 292.75,312.38 293.24,312.49 293.73,312.59 294.21,312.7 294.7,312.81 295.19,312.91 295.67,313.01 296.16,313.11 296.65,313.21 297.13,313.3 297.62,313.38 298.11,313.46 298.59,313.53 299.08,313.59 299.57,313.64 300.05,313.69 300.54,313.72 301.03,313.75 301.51,313.76 302,313.77 302.49,313.76 302.97,313.72 303.46,313.67 303.95,313.59 304.43,313.49 304.92,313.38 305.41,313.24 305.89,313.1 306.38,312.95 306.87,312.79 307.35,312.62 307.84,312.46 308.33,312.3 308.81,312.14 309.3,311.98 309.78,311.83 310.27,311.69 310.76,311.56 311.24,311.44 311.73,311.33 312.22,311.23 312.7,311.15 313.19,311.07 313.68,311 314.16,310.94 314.65,310.89 315.14,310.85 315.62,310.81 316.11,310.79 316.6,310.78 317.08,310.77 317.57,310.76 318.06,310.75 318.54,310.73 319.03,310.72 319.52,310.71 320,310.7 320.49,310.69 320.98,310.67 321.46,310.66 321.95,310.65" fill="#ff4500" fill-opacity="0.68" stroke="#1a1a1a" stroke-opacity="0.42" stroke-width="0.36"/>
<line x1="278.64" y1="310.65" x2="321.95" y2="310.65" stroke="#333" stroke-opacity="0.25" stroke-width="0.3"/>
<line x1="296.83" y1="310.65" x2="308.96" y2="310.65" stroke="#111" stroke-width="1.35"/>
<circle cx="302.89" cy="310.65" r="0.42" fill="#fff"/>
<rect x="246.3" y="265.3" width="82.5" height="52" fill="none" stroke="#a0a0a0" stroke-width="1.1"/>
<line x1="256.1" y1="317.3" x2="256.1" y2="318.9" stroke="#555" stroke-width="0.5"/>
<text x="256.1" y="322.9" font-size="4.45" text-anchor="middle" stroke="#262626" stroke-width="0.06" textLength="2.48" lengthAdjust="spacingAndGlyphs" fill="#262626">0</text>
<line x1="270.5" y1="317.3" x2="270.5" y2="318.9" stroke="#555" stroke-width="0.5"/>
<text x="270.5" y="322.9" font-size="4.45" text-anchor="middle" stroke="#262626" stroke-width="0.06" textLength="2.48" lengthAdjust="spacingAndGlyphs" fill="#262626">1</text>
<line x1="284.8" y1="317.3" x2="284.8" y2="318.9" stroke="#555" stroke-width="0.5"/>
<text x="284.8" y="322.9" font-size="4.45" text-anchor="middle" stroke="#262626" stroke-width="0.06" textLength="2.48" lengthAdjust="spacingAndGlyphs" fill="#262626">2</text>
<line x1="299.1" y1="317.3" x2="299.1" y2="318.9" stroke="#555" stroke-width="0.5"/>
<text x="299.1" y="322.9" font-size="4.45" text-anchor="middle" stroke="#262626" stroke-width="0.06" textLength="2.48" lengthAdjust="spacingAndGlyphs" fill="#262626">3</text>
<line x1="313.4" y1="317.3" x2="313.4" y2="318.9" stroke="#555" stroke-width="0.5"/>
<text x="313.4" y="322.9" font-size="4.45" text-anchor="middle" stroke="#262626" stroke-width="0.06" textLength="2.48" lengthAdjust="spacingAndGlyphs" fill="#262626">4</text>
<line x1="327.7" y1="317.3" x2="327.7" y2="318.9" stroke="#555" stroke-width="0.5"/>
<text x="327.7" y="322.9" font-size="4.45" text-anchor="middle" stroke="#262626" stroke-width="0.06" textLength="2.48" lengthAdjust="spacingAndGlyphs" fill="#262626">5</text>
<line x1="242.3" y1="271.65" x2="246.3" y2="271.65" stroke="#666" stroke-width="0.5"/>
<text x="240.3" y="272.55" font-size="4.45" text-anchor="end" stroke="#262626" stroke-width="0.06" textLength="15.45" lengthAdjust="spacingAndGlyphs" transform="rotate(-45 240.3 272.55)" fill="#262626">(73, 91]</text>
<line x1="242.3" y1="284.65" x2="246.3" y2="284.65" stroke="#666" stroke-width="0.5"/>
<text x="240.3" y="285.55" font-size="4.45" text-anchor="end" stroke="#262626" stroke-width="0.06" textLength="15.45" lengthAdjust="spacingAndGlyphs" transform="rotate(-45 240.3 285.55)" fill="#262626">(64, 73]</text>
<line x1="242.3" y1="297.65" x2="246.3" y2="297.65" stroke="#666" stroke-width="0.5"/>
<text x="240.3" y="298.55" font-size="4.45" text-anchor="end" stroke="#262626" stroke-width="0.06" textLength="15.45" lengthAdjust="spacingAndGlyphs" transform="rotate(-45 240.3 298.55)" fill="#262626">(56, 64]</text>
<line x1="242.3" y1="310.65" x2="246.3" y2="310.65" stroke="#666" stroke-width="0.5"/>
<text x="240.3" y="311.55" font-size="4.45" text-anchor="end" stroke="#262626" stroke-width="0.06" textLength="15.45" lengthAdjust="spacingAndGlyphs" transform="rotate(-45 240.3 311.55)" fill="#262626">(18, 56]</text>
<text x="287.55" y="328.1" font-size="4.45" text-anchor="middle" stroke="#262626" stroke-width="0.06" textLength="45.67" lengthAdjust="spacingAndGlyphs" fill="#262626">temporalpole thickness</text>
<text x="225.1" y="291.3" font-size="4.45" text-anchor="middle" stroke="#262626" stroke-width="0.06" textLength="19.42" lengthAdjust="spacingAndGlyphs" transform="rotate(-90 225.1 291.3)" fill="#262626">AgeGroup</text>
<text x="287.55" y="262.9" font-size="5.62" text-anchor="middle" font-weight="bold" stroke="#111" stroke-width="0.14" textLength="31.24" lengthAdjust="spacingAndGlyphs" fill="#111">β(f)=-0.37</text>
<rect x="595.5" y="36.1" width="82.8" height="52.3" fill="#fff"/>
<line x1="597.3" y1="36.1" x2="597.3" y2="88.4" stroke="#dcdcdc" stroke-width="0.8"/>
<line x1="619.6" y1="36.1" x2="619.6" y2="88.4" stroke="#dcdcdc" stroke-width="0.8"/>
<line x1="641.9" y1="36.1" x2="641.9" y2="88.4" stroke="#dcdcdc" stroke-width="0.8"/>
<line x1="664.2" y1="36.1" x2="664.2" y2="88.4" stroke="#dcdcdc" stroke-width="0.8"/>
<line x1="595.5" y1="42.45" x2="678.3" y2="42.45" stroke="#dcdcdc" stroke-width="0.8"/>
<line x1="595.5" y1="55.45" x2="678.3" y2="55.45" stroke="#dcdcdc" stroke-width="0.8"/>
<line x1="595.5" y1="68.45" x2="678.3" y2="68.45" stroke="#dcdcdc" stroke-width="0.8"/>
<line x1="595.5" y1="81.45" x2="678.3" y2="81.45" stroke="#dcdcdc" stroke-width="0.8"/>
<polygon points="599.06,42.45 599.91,42.37 600.76,42.34 601.6,42.3 602.45,42.24 603.3,42.17 604.14,42.09 604.99,41.98 605.84,41.86 606.68,41.71 607.53,41.54 608.38,41.36 609.22,41.16 610.07,40.94 610.92,40.72 611.76,40.51 612.61,40.3 613.46,40.11 614.3,39.95 615.15,39.82 616,39.73 616.84,39.68 617.69,39.68 618.54,39.7 619.38,39.74 620.23,39.8 621.08,39.88 621.92,39.98 622.77,40.09 623.62,40.21 624.46,40.34 625.31,40.48 626.16,40.62 627,40.77 627.85,40.91 628.7,41.06 629.54,41.2 630.39,41.33 631.23,41.46 632.08,41.58 632.93,41.69 633.77,41.79 634.62,41.88 635.47,41.96 636.31,42.04 637.16,42.1 638.01,42.16 638.85,42.21 639.7,42.25 640.55,42.29 641.39,42.31 642.24,42.32 643.09,42.32 643.93,42.32 644.78,42.33 645.63,42.33 646.47,42.33 647.32,42.34 648.17,42.34 649.01,42.34 649.86,42.35 650.71,42.35 651.55,42.36 652.4,42.36 653.25,42.36 654.09,42.37 654.94,42.37 655.79,42.37 656.63,42.38 657.48,42.38 658.33,42.38 659.17,42.39 660.02,42.39 660.87,42.39 661.71,42.4 662.56,42.4 663.41,42.4 664.25,42.41 665.1,42.41 665.95,42.41 666.79,42.42 667.64,42.42 668.49,42.43 669.33,42.43 670.18,42.43 671.03,42.44 671.87,42.44 672.72,42.44 673.57,42.45 674.41,42.45" fill="#00008b" fill-opacity="0.68" stroke="#1a1a1a" stroke-opacity="0.42" stroke-width="0.36"/>
<polygon points="599.06,42.45 599.91,42.47 600.76,42.5 601.6,42.52 602.45,42.55 603.3,42.57 604.14,42.59 604.99,42.62 605.84,42.64 606.68,42.67 607.53,42.69 608.38,42.71 609.22,42.74 610.07,42.95 610.92,43.38 611.76,44.03 612.61,44.89 613.46,45.92 614.3,46.96 615.15,47.81 616,48.28 616.84,48.29 617.69,47.98 618.54,47.41 619.38,46.66 620.23,45.84 621.08,45.04 621.92,44.32 622.77,43.74 623.62,43.29 624.46,42.97 625.31,42.75 626.16,42.74 627,42.73 627.85,42.73 628.7,42.72 629.54,42.72 630.39,42.71 631.23,42.71 632.08,42.7 632.93,42.7 633.77,42.69 634.62,42.69 635.47,42.68 636.31,42.68 637.16,42.67 638.01,42.67 638.85,42.66 639.7,42.66 640.55,42.65 641.39,42.65 642.24,42.64 643.09,42.64 643.93,42.63 644.78,42.63 645.63,42.62 646.47,42.62 647.32,42.61 648.17,42.61 649.01,42.6 649.86,42.6 650.71,42.59 651.55,42.59 652.4,42.58 653.25,42.58 654.09,42.57 654.94,42.57 655.79,42.56 656.63,42.56 657.48,42.55 658.33,42.55 659.17,42.54 660.02,42.54 660.87,42.53 661.71,42.53 662.56,42.52 663.41,42.52 664.25,42.51 665.1,42.51 665.95,42.5 666.79,42.5 667.64,42.49 668.49,42.49 669.33,42.48 670.18,42.48 671.03,42.47 671.87,42.47 672.72,42.46 673.57,42.46 674.41,42.45" fill="#ff4500" fill-opacity="0.68" stroke="#1a1a1a" stroke-opacity="0.42" stroke-width="0.36"/>
<line x1="599.06" y1="42.45" x2="674.41" y2="42.45" stroke="#333" stroke-opacity="0.25" stroke-width="0.3"/>
<line x1="613.79" y1="42.45" x2="625.05" y2="42.45" stroke="#111" stroke-width="1.35"/>
<circle cx="619.42" cy="42.45" r="0.42" fill="#fff"/>
<polygon points="605.13,55.45 605.73,55.22 606.33,55.15 606.94,55.06 607.54,54.96 608.14,54.84 608.75,54.69 609.35,54.53 609.95,54.35 610.56,54.14 611.16,53.92 611.76,53.68 612.37,53.44 612.97,53.19 613.57,52.94 614.18,52.7 614.78,52.47 615.38,52.27 615.99,52.1 616.59,51.96 617.19,51.87 617.8,51.82 618.4,51.81 619,51.82 619.61,51.85 620.21,51.88 620.81,51.92 621.42,51.97 622.02,52.04 622.62,52.11 623.23,52.19 623.83,52.27 624.43,52.37 625.04,52.47 625.64,52.57 626.24,52.68 626.85,52.8 627.45,52.92 628.05,53.03 628.66,53.16 629.26,53.28 629.86,53.4 630.47,53.52 631.07,53.64 631.67,53.75 632.28,53.87 632.88,53.98 633.48,54.08 634.09,54.19 634.69,54.29 635.29,54.38 635.9,54.47 636.5,54.55 637.1,54.63 637.71,54.71 638.31,54.78 638.91,54.85 639.52,54.91 640.12,54.96 640.72,55.01 641.33,55.06 641.93,55.1 642.53,55.14 643.14,55.18 643.74,55.21 644.34,55.24 644.95,55.27 645.55,55.28 646.15,55.28 646.76,55.29 647.36,55.3 647.96,55.31 648.57,55.32 649.17,55.32 649.77,55.33 650.38,55.34 650.98,55.35 651.58,55.36 652.19,55.36 652.79,55.37 653.39,55.38 654,55.39 654.6,55.39 655.2,55.4 655.81,55.41 656.41,55.42 657.01,55.43 657.62,55.43 658.22,55.44 658.82,55.45" fill="#00008b" fill-opacity="0.68" stroke="#1a1a1a" stroke-opacity="0.42" stroke-width="0.36"/>
<polygon points="605.13,55.45 605.73,55.49 606.33,55.53 606.94,55.57 607.54,55.62 608.14,55.66 608.75,55.7 609.35,55.76 609.95,55.91 610.56,56.11 611.16,56.36 611.76,56.68 612.37,57.06 612.97,57.51 613.57,58.01 614.18,58.55 614.78,59.11 615.38,59.64 615.99,60.13 616.59,60.53 617.19,60.82 617.8,60.97 618.4,60.99 619,60.92 619.61,60.78 620.21,60.58 620.81,60.32 621.42,60.01 622.02,59.67 622.62,59.3 623.23,58.92 623.83,58.54 624.43,58.16 625.04,57.8 625.64,57.46 626.24,57.15 626.85,56.87 627.45,56.62 628.05,56.4 628.66,56.21 629.26,56.05 629.86,55.92 630.47,55.81 631.07,55.73 631.67,55.72 632.28,55.71 632.88,55.71 633.48,55.7 634.09,55.7 634.69,55.69 635.29,55.68 635.9,55.68 636.5,55.67 637.1,55.67 637.71,55.66 638.31,55.65 638.91,55.65 639.52,55.64 640.12,55.64 640.72,55.63 641.33,55.62 641.93,55.62 642.53,55.61 643.14,55.61 643.74,55.6 644.34,55.59 644.95,55.59 645.55,55.58 646.15,55.58 646.76,55.57 647.36,55.56 647.96,55.56 648.57,55.55 649.17,55.55 649.77,55.54 650.38,55.53 650.98,55.53 651.58,55.52 652.19,55.52 652.79,55.51 653.39,55.5 654,55.5 654.6,55.49 655.2,55.49 655.81,55.48 656.41,55.47 657.01,55.47 657.62,55.46 658.22,55.46 658.82,55.45" fill="#ff4500" fill-opacity="0.68" stroke="#1a1a1a" stroke-opacity="0.42" stroke-width="0.36"/>
<line x1="605.13" y1="55.45" x2="658.82" y2="55.45" stroke="#333" stroke-opacity="0.25" stroke-width="0.3"/>
<line x1="613.79" y1="55.45" x2="624.18" y2="55.45" stroke="#111" stroke-width="1.35"/>
<circle cx="618.98" cy="55.45" r="0.42" fill="#fff"/>
<polygon points="600.02,68.45 600.66,68.19 601.3,68.15 601.94,68.11 602.58,68.06 603.22,68 603.86,67.94 604.5,67.87 605.15,67.8 605.79,67.71 606.43,67.63 607.07,67.53 607.71,67.43 608.35,67.32 608.99,67.2 609.63,67.07 610.28,66.94 610.92,66.8 611.56,66.66 612.2,66.51 612.84,66.35 613.48,66.19 614.12,66.03 614.77,65.87 615.41,65.7 616.05,65.54 616.69,65.37 617.33,65.21 617.97,65.05 618.61,64.9 619.25,64.76 619.9,64.62 620.54,64.49 621.18,64.38 621.82,64.27 622.46,64.18 623.1,64.1 623.74,64.04 624.38,63.99 625.03,63.96 625.67,63.95 626.31,63.95 626.95,63.96 627.59,64 628.23,64.04 628.87,64.1 629.52,64.17 630.16,64.25 630.8,64.34 631.44,64.45 632.08,64.56 632.72,64.68 633.36,64.81 634,64.95 634.65,65.09 635.29,65.24 635.93,65.39 636.57,65.54 637.21,65.7 637.85,65.85 638.49,66 639.13,66.16 639.78,66.3 640.42,66.45 641.06,66.59 641.7,66.73 642.34,66.86 642.98,66.99 643.62,67.11 644.27,67.22 644.91,67.33 645.55,67.43 646.19,67.53 646.83,67.62 647.47,67.7 648.11,67.78 648.75,67.85 649.4,67.91 650.04,67.97 650.68,68.03 651.32,68.08 651.96,68.12 652.6,68.16 653.24,68.2 653.88,68.23 654.53,68.26 655.17,68.28 655.81,68.31 656.45,68.33 657.09,68.45" fill="#00008b" fill-opacity="0.68" stroke="#1a1a1a" stroke-opacity="0.42" stroke-width="0.36"/>
<polygon points="600.54,68.45 601.17,68.78 601.81,68.84 602.44,68.9 603.08,68.98 603.71,69.07 604.35,69.17 604.98,69.27 605.62,69.39 606.25,69.53 606.89,69.67 607.53,69.83 608.16,70 608.8,70.18 609.43,70.37 610.07,70.58 610.7,70.79 611.34,71.01 611.97,71.24 612.61,71.48 613.24,71.72 613.88,71.95 614.52,72.19 615.15,72.42 615.79,72.65 616.42,72.87 617.06,73.07 617.69,73.26 618.33,73.44 618.96,73.59 619.6,73.72 620.23,73.83 620.87,73.91 621.51,73.96 622.14,73.99 622.78,73.99 623.41,73.97 624.05,73.93 624.68,73.87 625.32,73.79 625.95,73.7 626.59,73.58 627.22,73.46 627.86,73.31 628.5,73.16 629.13,72.99 629.77,72.81 630.4,72.63 631.04,72.43 631.67,72.24 632.31,72.04 632.94,71.84 633.58,71.63 634.21,71.43 634.85,71.24 635.49,71.04 636.12,70.85 636.76,70.67 637.39,70.49 638.03,70.32 638.66,70.16 639.3,70.01 639.93,69.86 640.57,69.73 641.2,69.6 641.84,69.48 642.48,69.37 643.11,69.27 643.75,69.18 644.38,69.09 645.02,69.02 645.65,68.95 646.29,68.89 646.92,68.83 647.56,68.78 648.19,68.74 648.83,68.71 649.47,68.69 650.1,68.67 650.74,68.65 651.37,68.63 652.01,68.61 652.64,68.59 653.28,68.57 653.91,68.55 654.55,68.53 655.19,68.51 655.82,68.49 656.46,68.48 657.09,68.45" fill="#ff4500" fill-opacity="0.68" stroke="#1a1a1a" stroke-opacity="0.42" stroke-width="0.36"/>
<line x1="601.66" y1="68.45" x2="657.09" y2="68.45" stroke="#333" stroke-opacity="0.25" stroke-width="0.3"/>
<line x1="620.72" y1="68.45" x2="635.44" y2="68.45" stroke="#111" stroke-width="1.35"/>
<circle cx="628.08" cy="68.45" r="0.42" fill="#fff"/>
<polygon points="605.73,81.45 606.36,81.41 606.99,81.4 607.61,81.39 608.24,81.38 608.87,81.37 609.49,81.36 610.12,81.35 610.75,81.33 611.37,81.32 612,81.3 612.63,81.28 613.25,81.26 613.88,81.24 614.51,81.21 615.13,81.19 615.76,81.16 616.39,81.14 617.01,81.11 617.64,81.08 618.27,81.05 618.89,81.02 619.52,80.99 620.15,80.96 620.77,80.93 621.4,80.91 622.03,80.88 622.65,80.86 623.28,80.83 623.91,80.82 624.53,80.8 625.16,80.78 625.79,80.77 626.41,80.76 627.04,80.76 627.67,80.76 628.29,80.76 628.92,80.76 629.55,80.76 630.17,80.77 630.8,80.77 631.43,80.78 632.05,80.79 632.68,80.8 633.31,80.81 633.93,80.83 634.56,80.84 635.19,80.85 635.81,80.87 636.44,80.88 637.07,80.9 637.69,80.92 638.32,80.94 638.95,80.95 639.57,80.97 640.2,80.99 640.83,81.01 641.45,81.03 642.08,81.05 642.71,81.07 643.33,81.09 643.96,81.1 644.59,81.12 645.21,81.14 645.84,81.16 646.47,81.18 647.09,81.19 647.72,81.21 648.35,81.22 648.97,81.24 649.6,81.25 650.23,81.27 650.85,81.28 651.48,81.29 652.11,81.31 652.73,81.32 653.36,81.33 653.99,81.34 654.61,81.35 655.24,81.36 655.87,81.36 656.49,81.37 657.12,81.38 657.75,81.39 658.38,81.39 659,81.4 659.63,81.4 660.26,81.41 660.88,81.41 661.51,81.45" fill="#00008b" fill-opacity="0.68" stroke="#1a1a1a" stroke-opacity="0.42" stroke-width="0.36"/>
<polygon points="608.59,81.45 609.13,81.47 609.68,81.48 610.22,81.5 610.77,81.51 611.31,81.53 611.86,81.54 612.4,81.56 612.95,81.58 613.49,81.59 614.04,81.61 614.58,81.62 615.13,81.64 615.67,81.65 616.22,81.67 616.76,81.69 617.31,81.7 617.85,81.72 618.4,81.73 618.94,82.01 619.49,82.54 620.03,83.35 620.58,84.4 621.12,85.56 621.67,86.55 622.21,87.11 622.76,87.06 623.3,86.43 623.85,85.39 624.39,84.24 624.94,83.22 625.48,82.45 626.03,81.96 626.57,81.73 627.12,81.73 627.66,81.72 628.21,81.72 628.75,81.71 629.3,81.71 629.84,81.7 630.39,81.7 630.93,81.69 631.48,81.69 632.02,81.68 632.57,81.68 633.11,81.67 633.66,81.67 634.2,81.66 634.75,81.66 635.29,81.65 635.84,81.65 636.38,81.64 636.93,81.64 637.47,81.63 638.02,81.63 638.56,81.62 639.11,81.62 639.65,81.61 640.2,81.61 640.74,81.6 641.29,81.6 641.83,81.59 642.38,81.59 642.92,81.58 643.47,81.58 644.01,81.57 644.56,81.57 645.1,81.56 645.65,81.56 646.19,81.55 646.74,81.55 647.28,81.54 647.83,81.54 648.37,81.53 648.92,81.53 649.46,81.52 650.01,81.52 650.55,81.51 651.1,81.51 651.64,81.5 652.19,81.5 652.73,81.49 653.28,81.49 653.82,81.48 654.37,81.48 654.91,81.47 655.46,81.47 656,81.46 656.55,81.46 657.09,81.45" fill="#ff4500" fill-opacity="0.68" stroke="#1a1a1a" stroke-opacity="0.42" stroke-width="0.36"/>
<line x1="608.59" y1="81.45" x2="657.09" y2="81.45" stroke="#333" stroke-opacity="0.25" stroke-width="0.3"/>
<line x1="618.98" y1="81.45" x2="631.11" y2="81.45" stroke="#111" stroke-width="1.35"/>
<circle cx="625.05" cy="81.45" r="0.42" fill="#fff"/>
<rect x="595.5" y="36.1" width="82.8" height="52.3" fill="none" stroke="#a0a0a0" stroke-width="1.1"/>
<line x1="597.3" y1="88.4" x2="597.3" y2="90" stroke="#555" stroke-width="0.5"/>
<text x="597.3" y="94" font-size="4.45" text-anchor="middle" stroke="#262626" stroke-width="0.06" textLength="6.2" lengthAdjust="spacingAndGlyphs" fill="#262626">0.0</text>
<line x1="619.6" y1="88.4" x2="619.6" y2="90" stroke="#555" stroke-width="0.5"/>
<text x="619.6" y="94" font-size="4.45" text-anchor="middle" stroke="#262626" stroke-width="0.06" textLength="6.2" lengthAdjust="spacingAndGlyphs" fill="#262626">0.5</text>
<line x1="641.9" y1="88.4" x2="641.9" y2="90" stroke="#555" stroke-width="0.5"/>
<text x="641.9" y="94" font-size="4.45" text-anchor="middle" stroke="#262626" stroke-width="0.06" textLength="6.2" lengthAdjust="spacingAndGlyphs" fill="#262626">1.0</text>
<line x1="664.2" y1="88.4" x2="664.2" y2="90" stroke="#555" stroke-width="0.5"/>
<text x="664.2" y="94" font-size="4.45" text-anchor="middle" stroke="#262626" stroke-width="0.06" textLength="6.2" lengthAdjust="spacingAndGlyphs" fill="#262626">1.5</text>
<line x1="591.5" y1="42.45" x2="595.5" y2="42.45" stroke="#666" stroke-width="0.5"/>
<text x="589.5" y="43.35" font-size="4.45" text-anchor="end" stroke="#262626" stroke-width="0.06" textLength="15.45" lengthAdjust="spacingAndGlyphs" transform="rotate(-45 589.5 43.35)" fill="#262626">(73, 91]</text>
<line x1="591.5" y1="55.45" x2="595.5" y2="55.45" stroke="#666" stroke-width="0.5"/>
<text x="589.5" y="56.35" font-size="4.45" text-anchor="end" stroke="#262626" stroke-width="0.06" textLength="15.45" lengthAdjust="spacingAndGlyphs" transform="rotate(-45 589.5 56.35)" fill="#262626">(64, 73]</text>
<line x1="591.5" y1="68.45" x2="595.5" y2="68.45" stroke="#666" stroke-width="0.5"/>
<text x="589.5" y="69.35" font-size="4.45" text-anchor="end" stroke="#262626" stroke-width="0.06" textLength="15.45" lengthAdjust="spacingAndGlyphs" transform="rotate(-45 589.5 69.35)" fill="#262626">(56, 64]</text>
<line x1="591.5" y1="81.45" x2="595.5" y2="81.45" stroke="#666" stroke-width="0.5"/>
<text x="589.5" y="82.35" font-size="4.45" text-anchor="end" stroke="#262626" stroke-width="0.06" textLength="15.45" lengthAdjust="spacingAndGlyphs" transform="rotate(-45 589.5 82.35)" fill="#262626">(18, 56]</text>
<text x="636.9" y="99.2" font-size="4.45" text-anchor="middle" stroke="#262626" stroke-width="0.06" textLength="18.17" lengthAdjust="spacingAndGlyphs" fill="#262626">thalamus</text>
<text x="574.3" y="62.25" font-size="4.45" text-anchor="middle" stroke="#262626" stroke-width="0.06" textLength="19.42" lengthAdjust="spacingAndGlyphs" transform="rotate(-90 574.3 62.25)" fill="#262626">AgeGroup</text>
<text x="674.1" y="98.8" font-size="4.45" text-anchor="middle" stroke="#262626" stroke-width="0.06" textLength="10.63" lengthAdjust="spacingAndGlyphs" fill="#262626">1e−2</text>
<text x="636.9" y="33.7" font-size="5.62" text-anchor="middle" font-weight="bold" stroke="#111" stroke-width="0.14" textLength="31.24" lengthAdjust="spacingAndGlyphs" fill="#111">β(f)=-0.63</text>
<rect x="595.5" y="112.2" width="82.8" height="52" fill="#fff"/>
<line x1="615.5" y1="112.2" x2="615.5" y2="164.2" stroke="#dcdcdc" stroke-width="0.8"/>
<line x1="636.3" y1="112.2" x2="636.3" y2="164.2" stroke="#dcdcdc" stroke-width="0.8"/>
<line x1="657.1" y1="112.2" x2="657.1" y2="164.2" stroke="#dcdcdc" stroke-width="0.8"/>
<line x1="677.9" y1="112.2" x2="677.9" y2="164.2" stroke="#dcdcdc" stroke-width="0.8"/>
<line x1="595.5" y1="118.55" x2="678.3" y2="118.55" stroke="#dcdcdc" stroke-width="0.8"/>
<line x1="595.5" y1="131.55" x2="678.3" y2="131.55" stroke="#dcdcdc" stroke-width="0.8"/>
<line x1="595.5" y1="144.55" x2="678.3" y2="144.55" stroke="#dcdcdc" stroke-width="0.8"/>
<line x1="595.5" y1="157.55" x2="678.3" y2="157.55" stroke="#dcdcdc" stroke-width="0.8"/>
<polygon points="599.06,118.55 599.91,118.53 600.76,118.52 601.6,118.5 602.45,118.48 603.3,118.46 604.14,118.45 604.99,118.43 605.84,118.41 606.68,118.4 607.53,118.38 608.38,118.36 609.22,118.29 610.07,118.19 610.92,118.06 611.76,117.9 612.61,117.69 613.46,117.46 614.3,117.18 615.15,116.87 616,116.55 616.84,116.2 617.69,115.86 618.54,115.54 619.38,115.25 620.23,115.02 621.08,114.85 621.92,114.76 622.77,114.74 623.62,114.8 624.46,114.92 625.31,115.09 626.16,115.31 627,115.57 627.85,115.85 628.7,116.15 629.54,116.45 630.39,116.74 631.23,117.02 632.08,117.28 632.93,117.51 633.77,117.71 634.62,117.89 635.47,118.04 636.31,118.16 637.16,118.25 638.01,118.33 638.85,118.36 639.7,118.37 640.55,118.37 641.39,118.38 642.24,118.38 643.09,118.39 643.93,118.39 644.78,118.39 645.63,118.4 646.47,118.4 647.32,118.41 648.17,118.41 649.01,118.42 649.86,118.42 650.71,118.43 651.55,118.43 652.4,118.43 653.25,118.44 654.09,118.44 654.94,118.45 655.79,118.45 656.63,118.46 657.48,118.46 658.33,118.47 659.17,118.47 660.02,118.47 660.87,118.48 661.71,118.48 662.56,118.49 663.41,118.49 664.25,118.5 665.1,118.5 665.95,118.51 666.79,118.51 667.64,118.51 668.49,118.52 669.33,118.52 670.18,118.53 671.03,118.53 671.87,118.54 672.72,118.54 673.57,118.55 674.41,118.55" fill="#00008b" fill-opacity="0.68" stroke="#1a1a1a" stroke-opacity="0.42" stroke-width="0.36"/>
<polygon points="599.06,118.55 599.91,118.57 600.76,118.59 601.6,118.61 602.45,118.63 603.3,118.65 604.14,118.66 604.99,118.68 605.84,118.7 606.68,118.72 607.53,118.74 608.38,118.76 609.22,118.78 610.07,118.8 610.92,118.82 611.76,118.84 612.61,118.87 613.46,119.08 614.3,119.37 615.15,119.76 616,120.27 616.84,120.89 617.69,121.61 618.54,122.37 619.38,123.11 620.23,123.77 621.08,124.28 621.92,124.56 622.77,124.6 623.62,124.49 624.46,124.24 625.31,123.89 626.16,123.45 627,122.95 627.85,122.42 628.7,121.87 629.54,121.34 630.39,120.84 631.23,120.39 632.08,120 632.93,119.66 633.77,119.39 634.62,119.17 635.47,118.99 636.31,118.86 637.16,118.85 638.01,118.84 638.85,118.83 639.7,118.83 640.55,118.82 641.39,118.81 642.24,118.81 643.09,118.8 643.93,118.79 644.78,118.79 645.63,118.78 646.47,118.77 647.32,118.77 648.17,118.76 649.01,118.75 649.86,118.74 650.71,118.74 651.55,118.73 652.4,118.72 653.25,118.72 654.09,118.71 654.94,118.7 655.79,118.7 656.63,118.69 657.48,118.68 658.33,118.68 659.17,118.67 660.02,118.66 660.87,118.66 661.71,118.65 662.56,118.64 663.41,118.64 664.25,118.63 665.1,118.62 665.95,118.62 666.79,118.61 667.64,118.6 668.49,118.6 669.33,118.59 670.18,118.58 671.03,118.58 671.87,118.57 672.72,118.56 673.57,118.56 674.41,118.55" fill="#ff4500" fill-opacity="0.68" stroke="#1a1a1a" stroke-opacity="0.42" stroke-width="0.36"/>
<line x1="599.06" y1="118.55" x2="674.41" y2="118.55" stroke="#333" stroke-opacity="0.25" stroke-width="0.3"/>
<line x1="618.98" y1="118.55" x2="626.78" y2="118.55" stroke="#111" stroke-width="1.35"/>
<circle cx="622.88" cy="118.55" r="0.42" fill="#fff"/>
<polygon points="606.86,131.55 607.38,131.41 607.91,131.37 608.43,131.33 608.96,131.28 609.49,131.22 610.01,131.15 610.54,131.07 611.06,130.97 611.59,130.87 612.11,130.75 612.64,130.61 613.16,130.47 613.69,130.3 614.21,130.13 614.74,129.94 615.27,129.74 615.79,129.53 616.32,129.31 616.84,129.08 617.37,128.86 617.89,128.63 618.42,128.41 618.94,128.2 619.47,128 620,127.82 620.52,127.65 621.05,127.51 621.57,127.39 622.1,127.3 622.62,127.25 623.15,127.22 623.67,127.22 624.2,127.24 624.72,127.26 625.25,127.3 625.78,127.34 626.3,127.4 626.83,127.47 627.35,127.55 627.88,127.63 628.4,127.73 628.93,127.83 629.45,127.94 629.98,128.06 630.51,128.18 631.03,128.3 631.56,128.43 632.08,128.56 632.61,128.7 633.13,128.83 633.66,128.97 634.18,129.11 634.71,129.24 635.23,129.37 635.76,129.5 636.29,129.63 636.81,129.76 637.34,129.88 637.86,129.99 638.39,130.11 638.91,130.22 639.44,130.32 639.96,130.42 640.49,130.51 641.02,130.6 641.54,130.68 642.07,130.76 642.59,130.83 643.12,130.9 643.64,130.96 644.17,131.02 644.69,131.08 645.22,131.13 645.74,131.17 646.27,131.21 646.8,131.25 647.32,131.28 647.85,131.31 648.37,131.34 648.9,131.36 649.42,131.38 649.95,131.4 650.47,131.42 651,131.44 651.53,131.46 652.05,131.47 652.58,131.48 653.1,131.49 653.63,131.55" fill="#00008b" fill-opacity="0.68" stroke="#1a1a1a" stroke-opacity="0.42" stroke-width="0.36"/>
<polygon points="606.86,131.55 607.38,131.61 607.91,131.64 608.43,131.68 608.96,131.72 609.49,131.76 610.01,131.81 610.54,131.86 611.06,131.94 611.59,132.04 612.11,132.16 612.64,132.29 613.16,132.45 613.69,132.64 614.21,132.85 614.74,133.08 615.27,133.34 615.79,133.63 616.32,133.93 616.84,134.25 617.37,134.59 617.89,134.93 618.42,135.27 618.94,135.61 619.47,135.94 620,136.24 620.52,136.52 621.05,136.76 621.57,136.96 622.1,137.12 622.62,137.22 623.15,137.26 623.67,137.26 624.2,137.22 624.72,137.15 625.25,137.05 625.78,136.91 626.3,136.76 626.83,136.57 627.35,136.37 627.88,136.15 628.4,135.91 628.93,135.66 629.45,135.4 629.98,135.14 630.51,134.88 631.03,134.62 631.56,134.36 632.08,134.11 632.61,133.87 633.13,133.63 633.66,133.42 634.18,133.21 634.71,133.02 635.23,132.84 635.76,132.68 636.29,132.53 636.81,132.4 637.34,132.28 637.86,132.17 638.39,132.08 638.91,132 639.44,131.93 639.96,131.86 640.49,131.83 641.02,131.82 641.54,131.81 642.07,131.8 642.59,131.78 643.12,131.77 643.64,131.76 644.17,131.75 644.69,131.74 645.22,131.73 645.74,131.72 646.27,131.71 646.8,131.7 647.32,131.68 647.85,131.67 648.37,131.66 648.9,131.65 649.42,131.64 649.95,131.63 650.47,131.62 651,131.61 651.53,131.59 652.05,131.58 652.58,131.57 653.1,131.56 653.63,131.55" fill="#ff4500" fill-opacity="0.68" stroke="#1a1a1a" stroke-opacity="0.42" stroke-width="0.36"/>
<line x1="606.86" y1="131.55" x2="653.63" y2="131.55" stroke="#333" stroke-opacity="0.25" stroke-width="0.3"/>
<line x1="620.72" y1="131.55" x2="631.97" y2="131.55" stroke="#111" stroke-width="1.35"/>
<circle cx="626.34" cy="131.55" r="0.42" fill="#fff"/>
<polygon points="603.74,144.55 604.46,144.32 605.17,144.28 605.89,144.23 606.6,144.18 607.32,144.11 608.04,144.04 608.75,143.96 609.47,143.88 610.19,143.78 610.9,143.68 611.62,143.56 612.33,143.44 613.05,143.3 613.77,143.16 614.48,143.02 615.2,142.86 615.92,142.7 616.63,142.53 617.35,142.37 618.06,142.2 618.78,142.03 619.5,141.86 620.21,141.7 620.93,141.54 621.65,141.4 622.36,141.26 623.08,141.13 623.79,141.02 624.51,140.93 625.23,140.85 625.94,140.8 626.66,140.76 627.38,140.74 628.09,140.74 628.81,140.75 629.52,140.77 630.24,140.8 630.96,140.84 631.67,140.88 632.39,140.93 633.11,141 633.82,141.06 634.54,141.14 635.25,141.22 635.97,141.31 636.69,141.4 637.4,141.5 638.12,141.6 638.84,141.7 639.55,141.81 640.27,141.92 640.98,142.03 641.7,142.15 642.42,142.26 643.13,142.37 643.85,142.49 644.57,142.6 645.28,142.71 646,142.81 646.71,142.92 647.43,143.02 648.15,143.12 648.86,143.22 649.58,143.31 650.3,143.4 651.01,143.48 651.73,143.57 652.44,143.64 653.16,143.72 653.88,143.78 654.59,143.85 655.31,143.91 656.02,143.97 656.74,144.02 657.46,144.07 658.17,144.12 658.89,144.16 659.61,144.2 660.32,144.23 661.04,144.27 661.75,144.3 662.47,144.33 663.19,144.35 663.9,144.37 664.62,144.39 665.34,144.41 666.05,144.43 666.77,144.44 667.48,144.55" fill="#00008b" fill-opacity="0.68" stroke="#1a1a1a" stroke-opacity="0.42" stroke-width="0.36"/>
<polygon points="605.13,144.55 605.83,144.79 606.53,144.85 607.23,144.93 607.93,145.02 608.63,145.13 609.33,145.26 610.03,145.41 610.73,145.57 611.43,145.77 612.13,145.98 612.83,146.22 613.53,146.47 614.23,146.75 614.93,147.05 615.64,147.35 616.34,147.67 617.04,147.99 617.74,148.31 618.44,148.62 619.14,148.92 619.84,149.2 620.54,149.45 621.24,149.66 621.94,149.84 622.64,149.97 623.34,150.06 624.04,150.09 624.74,150.08 625.44,150.05 626.15,149.98 626.85,149.89 627.55,149.77 628.25,149.63 628.95,149.47 629.65,149.29 630.35,149.09 631.05,148.88 631.75,148.65 632.45,148.42 633.15,148.18 633.85,147.94 634.55,147.7 635.25,147.46 635.95,147.23 636.66,147 637.36,146.78 638.06,146.57 638.76,146.37 639.46,146.18 640.16,146 640.86,145.84 641.56,145.68 642.26,145.55 642.96,145.42 643.66,145.31 644.36,145.2 645.06,145.11 645.76,145.03 646.46,144.96 647.17,144.9 647.87,144.84 648.57,144.82 649.27,144.81 649.97,144.8 650.67,144.79 651.37,144.78 652.07,144.77 652.77,144.76 653.47,144.75 654.17,144.74 654.87,144.73 655.57,144.72 656.27,144.71 656.97,144.7 657.68,144.69 658.38,144.68 659.08,144.67 659.78,144.66 660.48,144.65 661.18,144.64 661.88,144.63 662.58,144.62 663.28,144.61 663.98,144.6 664.68,144.59 665.38,144.58 666.08,144.57 666.78,144.56 667.48,144.55" fill="#ff4500" fill-opacity="0.68" stroke="#1a1a1a" stroke-opacity="0.42" stroke-width="0.36"/>
<line x1="605.13" y1="144.55" x2="667.48" y2="144.55" stroke="#333" stroke-opacity="0.25" stroke-width="0.3"/>
<line x1="623.31" y1="144.55" x2="641.5" y2="144.55" stroke="#111" stroke-width="1.35"/>
<circle cx="632.41" cy="144.55" r="0.42" fill="#fff"/>
<polygon points="608.11,157.55 608.76,157.28 609.41,157.21 610.06,157.14 610.7,157.05 611.35,156.94 612,156.82 612.65,156.68 613.29,156.53 613.94,156.36 614.59,156.17 615.24,155.97 615.89,155.75 616.53,155.52 617.18,155.28 617.83,155.04 618.48,154.79 619.12,154.55 619.77,154.31 620.42,154.09 621.07,153.88 621.71,153.69 622.36,153.53 623.01,153.4 623.66,153.31 624.3,153.24 624.95,153.22 625.6,153.22 626.25,153.24 626.89,153.27 627.54,153.32 628.19,153.37 628.84,153.44 629.49,153.52 630.13,153.6 630.78,153.7 631.43,153.81 632.08,153.92 632.72,154.05 633.37,154.17 634.02,154.31 634.67,154.45 635.31,154.59 635.96,154.73 636.61,154.87 637.26,155.02 637.9,155.16 638.55,155.3 639.2,155.44 639.85,155.58 640.49,155.71 641.14,155.84 641.79,155.97 642.44,156.09 643.09,156.21 643.73,156.32 644.38,156.42 645.03,156.52 645.68,156.61 646.32,156.7 646.97,156.78 647.62,156.86 648.27,156.93 648.91,156.99 649.56,157.05 650.21,157.11 650.86,157.16 651.5,157.2 652.15,157.24 652.8,157.28 653.45,157.31 654.1,157.34 654.74,157.35 655.39,157.36 656.04,157.37 656.69,157.38 657.33,157.4 657.98,157.41 658.63,157.42 659.28,157.43 659.92,157.44 660.57,157.46 661.22,157.47 661.87,157.48 662.51,157.49 663.16,157.5 663.81,157.51 664.46,157.53 665.1,157.54 665.75,157.55" fill="#00008b" fill-opacity="0.68" stroke="#1a1a1a" stroke-opacity="0.42" stroke-width="0.36"/>
<polygon points="608.24,157.55 608.89,157.93 609.54,158.03 610.18,158.15 610.83,158.29 611.47,158.45 612.12,158.64 612.77,158.85 613.41,159.09 614.06,159.36 614.71,159.65 615.35,159.96 616,160.3 616.64,160.65 617.29,161.01 617.94,161.38 618.58,161.74 619.23,162.09 619.87,162.42 620.52,162.73 621.17,163 621.81,163.22 622.46,163.4 623.11,163.53 623.75,163.6 624.4,163.61 625.04,163.58 625.69,163.51 626.34,163.4 626.98,163.26 627.63,163.09 628.27,162.89 628.92,162.67 629.57,162.42 630.21,162.15 630.86,161.88 631.51,161.59 632.15,161.3 632.8,161.01 633.44,160.72 634.09,160.44 634.74,160.16 635.38,159.9 636.03,159.65 636.67,159.41 637.32,159.19 637.97,158.99 638.61,158.81 639.26,158.64 639.91,158.48 640.55,158.35 641.2,158.23 641.84,158.12 642.49,158.03 643.14,157.95 643.78,157.88 644.43,157.85 645.08,157.84 645.72,157.83 646.37,157.82 647.01,157.81 647.66,157.8 648.31,157.79 648.95,157.78 649.6,157.78 650.24,157.77 650.89,157.76 651.54,157.75 652.18,157.74 652.83,157.73 653.48,157.72 654.12,157.71 654.77,157.7 655.41,157.69 656.06,157.69 656.71,157.68 657.35,157.67 658,157.66 658.64,157.65 659.29,157.64 659.94,157.63 660.58,157.62 661.23,157.61 661.88,157.6 662.52,157.6 663.17,157.59 663.81,157.58 664.46,157.57 665.11,157.56 665.75,157.55" fill="#ff4500" fill-opacity="0.68" stroke="#1a1a1a" stroke-opacity="0.42" stroke-width="0.36"/>
<line x1="608.59" y1="157.55" x2="665.75" y2="157.55" stroke="#333" stroke-opacity="0.25" stroke-width="0.3"/>
<line x1="623.31" y1="157.55" x2="635.44" y2="157.55" stroke="#111" stroke-width="1.35"/>
<circle cx="629.38" cy="157.55" r="0.42" fill="#fff"/>
<rect x="595.5" y="112.2" width="82.8" height="52" fill="none" stroke="#a0a0a0" stroke-width="1.1"/>
<line x1="594.7" y1="164.2" x2="594.7" y2="165.8" stroke="#555" stroke-width="0.5"/>
<text x="594.7" y="169.8" font-size="4.45" text-anchor="middle" stroke="#262626" stroke-width="0.06" textLength="2.48" lengthAdjust="spacingAndGlyphs" fill="#262626">0</text>
<line x1="615.5" y1="164.2" x2="615.5" y2="165.8" stroke="#555" stroke-width="0.5"/>
<text x="615.5" y="169.8" font-size="4.45" text-anchor="middle" stroke="#262626" stroke-width="0.06" textLength="2.48" lengthAdjust="spacingAndGlyphs" fill="#262626">1</text>
<line x1="636.3" y1="164.2" x2="636.3" y2="165.8" stroke="#555" stroke-width="0.5"/>
<text x="636.3" y="169.8" font-size="4.45" text-anchor="middle" stroke="#262626" stroke-width="0.06" textLength="2.48" lengthAdjust="spacingAndGlyphs" fill="#262626">2</text>
<line x1="657.1" y1="164.2" x2="657.1" y2="165.8" stroke="#555" stroke-width="0.5"/>
<text x="657.1" y="169.8" font-size="4.45" text-anchor="middle" stroke="#262626" stroke-width="0.06" textLength="2.48" lengthAdjust="spacingAndGlyphs" fill="#262626">3</text>
<line x1="677.9" y1="164.2" x2="677.9" y2="165.8" stroke="#555" stroke-width="0.5"/>
<text x="677.9" y="169.8" font-size="4.45" text-anchor="middle" stroke="#262626" stroke-width="0.06" textLength="2.48" lengthAdjust="spacingAndGlyphs" fill="#262626">4</text>
<line x1="591.5" y1="118.55" x2="595.5" y2="118.55" stroke="#666" stroke-width="0.5"/>
<text x="589.5" y="119.45" font-size="4.45" text-anchor="end" stroke="#262626" stroke-width="0.06" textLength="15.45" lengthAdjust="spacingAndGlyphs" transform="rotate(-45 589.5 119.45)" fill="#262626">(73, 91]</text>
<line x1="591.5" y1="131.55" x2="595.5" y2="131.55" stroke="#666" stroke-width="0.5"/>
<text x="589.5" y="132.45" font-size="4.45" text-anchor="end" stroke="#262626" stroke-width="0.06" textLength="15.45" lengthAdjust="spacingAndGlyphs" transform="rotate(-45 589.5 132.45)" fill="#262626">(64, 73]</text>
<line x1="591.5" y1="144.55" x2="595.5" y2="144.55" stroke="#666" stroke-width="0.5"/>
<text x="589.5" y="145.45" font-size="4.45" text-anchor="end" stroke="#262626" stroke-width="0.06" textLength="15.45" lengthAdjust="spacingAndGlyphs" transform="rotate(-45 589.5 145.45)" fill="#262626">(56, 64]</text>
<line x1="591.5" y1="157.55" x2="595.5" y2="157.55" stroke="#666" stroke-width="0.5"/>
<text x="589.5" y="158.45" font-size="4.45" text-anchor="end" stroke="#262626" stroke-width="0.06" textLength="15.45" lengthAdjust="spacingAndGlyphs" transform="rotate(-45 589.5 158.45)" fill="#262626">(18, 56]</text>
<text x="636.9" y="175" font-size="4.45" text-anchor="middle" stroke="#262626" stroke-width="0.06" textLength="21.19" lengthAdjust="spacingAndGlyphs" fill="#262626">brain-stem</text>
<text x="574.3" y="138.2" font-size="4.45" text-anchor="middle" stroke="#262626" stroke-width="0.06" textLength="19.42" lengthAdjust="spacingAndGlyphs" transform="rotate(-90 574.3 138.2)" fill="#262626">AgeGroup</text>
<text x="674.1" y="174.6" font-size="4.45" text-anchor="middle" stroke="#262626" stroke-width="0.06" textLength="10.63" lengthAdjust="spacingAndGlyphs" fill="#262626">1e−2</text>
<text x="636.9" y="109.8" font-size="5.62" text-anchor="middle" font-weight="bold" stroke="#111" stroke-width="0.14" textLength="35" lengthAdjust="spacingAndGlyphs" fill="#111">β(f)=-0.476</text>
<rect x="595.5" y="188.7" width="82.8" height="51.8" fill="#fff"/>
<line x1="609.1" y1="188.7" x2="609.1" y2="240.5" stroke="#dcdcdc" stroke-width="0.8"/>
<line x1="627.4" y1="188.7" x2="627.4" y2="240.5" stroke="#dcdcdc" stroke-width="0.8"/>
<line x1="645.7" y1="188.7" x2="645.7" y2="240.5" stroke="#dcdcdc" stroke-width="0.8"/>
<line x1="664" y1="188.7" x2="664" y2="240.5" stroke="#dcdcdc" stroke-width="0.8"/>
<line x1="595.5" y1="195.05" x2="678.3" y2="195.05" stroke="#dcdcdc" stroke-width="0.8"/>
<line x1="595.5" y1="208.05" x2="678.3" y2="208.05" stroke="#dcdcdc" stroke-width="0.8"/>
<line x1="595.5" y1="221.05" x2="678.3" y2="221.05" stroke="#dcdcdc" stroke-width="0.8"/>
<line x1="595.5" y1="234.05" x2="678.3" y2="234.05" stroke="#dcdcdc" stroke-width="0.8"/>
<polygon points="609.2,195.05 609.71,194.9 610.23,194.88 610.74,194.86 611.26,194.83 611.77,194.8 612.28,194.77 612.8,194.73 613.31,194.69 613.83,194.65 614.34,194.6 614.86,194.55 615.37,194.5 615.89,194.44 616.4,194.38 616.92,194.31 617.43,194.24 617.95,194.17 618.46,194.09 618.98,194.01 619.49,193.93 620.01,193.85 620.52,193.76 621.04,193.67 621.55,193.58 622.07,193.49 622.58,193.4 623.1,193.31 623.61,193.22 624.13,193.13 624.64,193.05 625.15,192.97 625.67,192.89 626.18,192.82 626.7,192.75 627.21,192.69 627.73,192.63 628.24,192.58 628.76,192.54 629.27,192.51 629.79,192.48 630.3,192.46 630.82,192.45 631.33,192.45 631.85,192.46 632.36,192.47 632.88,192.49 633.39,192.52 633.91,192.56 634.42,192.6 634.94,192.64 635.45,192.7 635.97,192.75 636.48,192.82 637,192.88 637.51,192.95 638.02,193.03 638.54,193.11 639.05,193.18 639.57,193.27 640.08,193.35 640.6,193.43 641.11,193.51 641.63,193.6 642.14,193.68 642.66,193.76 643.17,193.84 643.69,193.92 644.2,193.99 644.72,194.07 645.23,194.14 645.75,194.21 646.26,194.27 646.78,194.33 647.29,194.39 647.81,194.45 648.32,194.5 648.84,194.55 649.35,194.6 649.86,194.64 650.38,194.68 650.89,194.72 651.41,194.75 651.92,194.78 652.44,194.81 652.95,194.84 653.47,194.86 653.98,194.88 654.5,194.9 655.01,195.05" fill="#00008b" fill-opacity="0.68" stroke="#1a1a1a" stroke-opacity="0.42" stroke-width="0.36"/>
<polygon points="612.05,195.05 612.5,195.06 612.95,195.06 613.4,195.07 613.84,195.08 614.29,195.08 614.74,195.09 615.19,195.1 615.64,195.1 616.08,195.11 616.53,195.12 616.98,195.13 617.43,195.13 617.87,195.14 618.32,195.15 618.77,195.15 619.22,195.16 619.66,195.17 620.11,195.17 620.56,195.18 621.01,195.19 621.45,195.19 621.9,195.2 622.35,195.21 622.8,195.21 623.25,195.22 623.69,195.23 624.14,195.24 624.59,195.24 625.04,195.25 625.48,195.26 625.93,195.26 626.38,195.27 626.83,195.28 627.27,195.28 627.72,195.29 628.17,195.3 628.62,195.3 629.06,195.31 629.51,195.32 629.96,195.32 630.41,195.4 630.86,195.53 631.3,195.7 631.75,195.91 632.2,196.16 632.65,196.45 633.09,196.8 633.54,197.18 633.99,197.61 634.44,198.05 634.88,198.52 635.33,198.97 635.78,199.41 636.23,199.8 636.67,200.13 637.12,200.38 637.57,200.54 638.02,200.59 638.47,200.55 638.91,200.4 639.36,200.15 639.81,199.83 640.26,199.44 640.7,199.01 641.15,198.56 641.6,198.09 642.05,197.64 642.49,197.22 642.94,196.83 643.39,196.48 643.84,196.18 644.28,195.93 644.73,195.72 645.18,195.55 645.63,195.41 646.08,195.32 646.52,195.3 646.97,195.28 647.42,195.26 647.87,195.24 648.31,195.22 648.76,195.2 649.21,195.18 649.66,195.15 650.1,195.13 650.55,195.11 651,195.09 651.45,195.07 651.89,195.05" fill="#ff4500" fill-opacity="0.68" stroke="#1a1a1a" stroke-opacity="0.42" stroke-width="0.36"/>
<line x1="612.05" y1="195.05" x2="651.89" y2="195.05" stroke="#333" stroke-opacity="0.25" stroke-width="0.3"/>
<line x1="627.64" y1="195.05" x2="638.9" y2="195.05" stroke="#111" stroke-width="1.35"/>
<circle cx="633.27" cy="195.05" r="0.42" fill="#fff"/>
<polygon points="604.26,208.05 604.93,208.01 605.6,208 606.27,207.97 606.95,207.94 607.62,207.92 608.29,207.89 608.96,207.86 609.63,207.83 610.3,207.81 610.97,207.78 611.65,207.73 612.32,207.66 612.99,207.59 613.66,207.51 614.33,207.42 615,207.31 615.67,207.2 616.35,207.07 617.02,206.93 617.69,206.77 618.36,206.6 619.03,206.42 619.7,206.22 620.37,206.02 621.05,205.8 621.72,205.57 622.39,205.34 623.06,205.1 623.73,204.85 624.4,204.61 625.07,204.37 625.75,204.13 626.42,203.9 627.09,203.68 627.76,203.48 628.43,203.29 629.1,203.13 629.78,202.99 630.45,202.87 631.12,202.78 631.79,202.72 632.46,202.69 633.13,202.68 633.8,202.7 634.48,202.73 635.15,202.78 635.82,202.84 636.49,202.92 637.16,203.01 637.83,203.11 638.5,203.23 639.18,203.36 639.85,203.5 640.52,203.65 641.19,203.8 641.86,203.96 642.53,204.13 643.2,204.31 643.88,204.48 644.55,204.66 645.22,204.84 645.89,205.02 646.56,205.2 647.23,205.37 647.9,205.55 648.58,205.71 649.25,205.88 649.92,206.03 650.59,206.19 651.26,206.33 651.93,206.47 652.61,206.6 653.28,206.73 653.95,206.85 654.62,206.96 655.29,207.06 655.96,207.16 656.63,207.25 657.31,207.33 657.98,207.41 658.65,207.48 659.32,207.54 659.99,207.6 660.66,207.65 661.33,207.7 662.01,207.74 662.68,207.78 663.35,207.81 664.02,208.05" fill="#00008b" fill-opacity="0.68" stroke="#1a1a1a" stroke-opacity="0.42" stroke-width="0.36"/>
<polygon points="604.26,208.05 604.93,208.06 605.6,208.08 606.27,208.09 606.95,208.1 607.62,208.11 608.29,208.13 608.96,208.14 609.63,208.15 610.3,208.17 610.97,208.18 611.65,208.19 612.32,208.2 612.99,208.22 613.66,208.23 614.33,208.24 615,208.26 615.67,208.31 616.35,208.37 617.02,208.45 617.69,208.54 618.36,208.65 619.03,208.77 619.7,208.91 620.37,209.07 621.05,209.24 621.72,209.43 622.39,209.64 623.06,209.86 623.73,210.09 624.4,210.33 625.07,210.58 625.75,210.82 626.42,211.06 627.09,211.29 627.76,211.5 628.43,211.7 629.1,211.86 629.78,212 630.45,212.11 631.12,212.18 631.79,212.21 632.46,212.2 633.13,212.18 633.8,212.15 634.48,212.1 635.15,212.04 635.82,211.96 636.49,211.87 637.16,211.77 637.83,211.66 638.5,211.53 639.18,211.4 639.85,211.26 640.52,211.12 641.19,210.97 641.86,210.82 642.53,210.67 643.2,210.51 643.88,210.36 644.55,210.21 645.22,210.06 645.89,209.91 646.56,209.77 647.23,209.63 647.9,209.5 648.58,209.38 649.25,209.26 649.92,209.14 650.59,209.04 651.26,208.94 651.93,208.85 652.61,208.76 653.28,208.68 653.95,208.61 654.62,208.55 655.29,208.49 655.96,208.43 656.63,208.38 657.31,208.34 657.98,208.3 658.65,208.27 659.32,208.24 659.99,208.21 660.66,208.19 661.33,208.17 662.01,208.15 662.68,208.13 663.35,208.12 664.02,208.05" fill="#ff4500" fill-opacity="0.68" stroke="#1a1a1a" stroke-opacity="0.42" stroke-width="0.36"/>
<line x1="604.26" y1="208.05" x2="664.02" y2="208.05" stroke="#333" stroke-opacity="0.25" stroke-width="0.3"/>
<line x1="628.51" y1="208.05" x2="638.9" y2="208.05" stroke="#111" stroke-width="1.35"/>
<circle cx="633.71" cy="208.05" r="0.42" fill="#fff"/>
<polygon points="599.06,221.05 599.91,220.75 600.76,220.7 601.6,220.64 602.45,220.58 603.3,220.5 604.14,220.42 604.99,220.33 605.84,220.24 606.68,220.13 607.53,220.01 608.38,219.88 609.22,219.74 610.07,219.6 610.92,219.44 611.76,219.27 612.61,219.1 613.46,218.91 614.3,218.72 615.15,218.52 616,218.31 616.84,218.11 617.69,217.9 618.54,217.68 619.38,217.47 620.23,217.26 621.08,217.06 621.92,216.86 622.77,216.68 623.62,216.5 624.46,216.34 625.31,216.19 626.16,216.06 627,215.94 627.85,215.85 628.7,215.77 629.54,215.72 630.39,215.69 631.23,215.68 632.08,215.69 632.93,215.72 633.77,215.77 634.62,215.83 635.47,215.91 636.31,216.01 637.16,216.12 638.01,216.24 638.85,216.38 639.7,216.53 640.55,216.69 641.39,216.85 642.24,217.03 643.09,217.21 643.93,217.39 644.78,217.58 645.63,217.77 646.47,217.95 647.32,218.14 648.17,218.33 649.01,218.51 649.86,218.69 650.71,218.86 651.55,219.03 652.4,219.19 653.25,219.34 654.09,219.48 654.94,219.62 655.79,219.75 656.63,219.88 657.48,219.99 658.33,220.1 659.17,220.2 660.02,220.29 660.87,220.37 661.71,220.45 662.56,220.52 663.41,220.58 664.25,220.64 665.1,220.69 665.95,220.73 666.79,220.77 667.64,220.81 668.49,220.84 669.33,220.87 670.18,220.9 671.03,220.92 671.87,220.94 672.72,220.96 673.57,220.97 674.41,221.05" fill="#00008b" fill-opacity="0.68" stroke="#1a1a1a" stroke-opacity="0.42" stroke-width="0.36"/>
<polygon points="599.06,221.05 599.91,221.19 600.76,221.22 601.6,221.25 602.45,221.29 603.3,221.33 604.14,221.38 604.99,221.43 605.84,221.5 606.68,221.57 607.53,221.65 608.38,221.73 609.22,221.83 610.07,221.93 610.92,222.04 611.76,222.17 612.61,222.3 613.46,222.43 614.3,222.58 615.15,222.73 616,222.89 616.84,223.05 617.69,223.21 618.54,223.38 619.38,223.54 620.23,223.71 621.08,223.87 621.92,224.02 622.77,224.17 623.62,224.3 624.46,224.43 625.31,224.54 626.16,224.64 627,224.72 627.85,224.78 628.7,224.83 629.54,224.85 630.39,224.86 631.23,224.85 632.08,224.84 632.93,224.81 633.77,224.78 634.62,224.73 635.47,224.68 636.31,224.62 637.16,224.55 638.01,224.47 638.85,224.38 639.7,224.29 640.55,224.2 641.39,224.1 642.24,223.99 643.09,223.88 643.93,223.77 644.78,223.66 645.63,223.54 646.47,223.42 647.32,223.3 648.17,223.19 649.01,223.07 649.86,222.96 650.71,222.84 651.55,222.73 652.4,222.63 653.25,222.52 654.09,222.42 654.94,222.32 655.79,222.23 656.63,222.14 657.48,222.05 658.33,221.97 659.17,221.9 660.02,221.82 660.87,221.76 661.71,221.69 662.56,221.63 663.41,221.58 664.25,221.53 665.1,221.48 665.95,221.43 666.79,221.39 667.64,221.36 668.49,221.32 669.33,221.29 670.18,221.27 671.03,221.24 671.87,221.22 672.72,221.2 673.57,221.18 674.41,221.05" fill="#ff4500" fill-opacity="0.68" stroke="#1a1a1a" stroke-opacity="0.42" stroke-width="0.36"/>
<line x1="599.06" y1="221.05" x2="674.41" y2="221.05" stroke="#333" stroke-opacity="0.25" stroke-width="0.3"/>
<line x1="623.31" y1="221.05" x2="638.04" y2="221.05" stroke="#111" stroke-width="1.35"/>
<circle cx="630.68" cy="221.05" r="0.42" fill="#fff"/>
<polygon points="599.06,234.05 599.77,233.97 600.48,233.95 601.19,233.94 601.9,233.92 602.61,233.9 603.33,233.88 604.04,233.86 604.75,233.83 605.46,233.8 606.17,233.77 606.88,233.74 607.59,233.7 608.3,233.66 609.01,233.61 609.72,233.57 610.43,233.51 611.14,233.46 611.85,233.4 612.56,233.34 613.27,233.28 613.98,233.21 614.69,233.14 615.4,233.07 616.11,232.99 616.82,232.92 617.53,232.84 618.24,232.76 618.95,232.68 619.66,232.6 620.37,232.52 621.09,232.44 621.8,232.37 622.51,232.29 623.22,232.22 623.93,232.16 624.64,232.09 625.35,232.04 626.06,231.98 626.77,231.94 627.48,231.9 628.19,231.86 628.9,231.83 629.61,231.82 630.32,231.8 631.03,231.8 631.74,231.8 632.45,231.82 633.16,231.86 633.87,231.9 634.58,231.96 635.29,232.03 636,232.11 636.71,232.2 637.42,232.29 638.13,232.4 638.84,232.5 639.56,232.61 640.27,232.72 640.98,232.82 641.69,232.93 642.4,233.03 643.11,233.13 643.82,233.23 644.53,233.32 645.24,233.4 645.95,233.48 646.66,233.55 647.37,233.62 648.08,233.68 648.79,233.73 649.5,233.78 650.21,233.82 650.92,233.86 651.63,233.89 652.34,233.92 653.05,233.94 653.76,233.95 654.47,233.96 655.18,233.96 655.89,233.97 656.6,233.98 657.32,233.99 658.03,234 658.74,234.01 659.45,234.02 660.16,234.02 660.87,234.03 661.58,234.04 662.29,234.05" fill="#00008b" fill-opacity="0.68" stroke="#1a1a1a" stroke-opacity="0.42" stroke-width="0.36"/>
<polygon points="599.06,234.05 599.77,234.06 600.48,234.06 601.19,234.07 601.9,234.08 602.61,234.08 603.33,234.09 604.04,234.09 604.75,234.1 605.46,234.11 606.17,234.11 606.88,234.12 607.59,234.13 608.3,234.13 609.01,234.14 609.72,234.15 610.43,234.15 611.14,234.16 611.85,234.16 612.56,234.17 613.27,234.18 613.98,234.18 614.69,234.19 615.4,234.2 616.11,234.2 616.82,234.21 617.53,234.22 618.24,234.22 618.95,234.23 619.66,234.23 620.37,234.24 621.09,234.25 621.8,234.25 622.51,234.26 623.22,234.27 623.93,234.27 624.64,234.28 625.35,234.29 626.06,234.29 626.77,234.3 627.48,234.31 628.19,234.31 628.9,234.32 629.61,234.32 630.32,234.42 631.03,234.6 631.74,234.84 632.45,235.15 633.16,235.53 633.87,235.99 634.58,236.51 635.29,237.07 636,237.66 636.71,238.23 637.42,238.74 638.13,239.16 638.84,239.45 639.56,239.59 640.27,239.53 640.98,239.22 641.69,238.71 642.4,238.05 643.11,237.32 643.82,236.61 644.53,235.95 645.24,235.4 645.95,234.96 646.66,234.64 647.37,234.41 648.08,234.32 648.79,234.31 649.5,234.29 650.21,234.28 650.92,234.27 651.63,234.25 652.34,234.24 653.05,234.23 653.76,234.21 654.47,234.2 655.18,234.18 655.89,234.17 656.6,234.16 657.32,234.14 658.03,234.13 658.74,234.12 659.45,234.1 660.16,234.09 660.87,234.08 661.58,234.06 662.29,234.05" fill="#ff4500" fill-opacity="0.68" stroke="#1a1a1a" stroke-opacity="0.42" stroke-width="0.36"/>
<line x1="599.06" y1="234.05" x2="662.29" y2="234.05" stroke="#333" stroke-opacity="0.25" stroke-width="0.3"/>
<line x1="625.05" y1="234.05" x2="639.77" y2="234.05" stroke="#111" stroke-width="1.35"/>
<circle cx="632.41" cy="234.05" r="0.42" fill="#fff"/>
<rect x="595.5" y="188.7" width="82.8" height="51.8" fill="none" stroke="#a0a0a0" stroke-width="1.1"/>
<line x1="609.1" y1="240.5" x2="609.1" y2="242.1" stroke="#555" stroke-width="0.5"/>
<text x="609.1" y="246.1" font-size="4.45" text-anchor="middle" stroke="#262626" stroke-width="0.06" textLength="6.2" lengthAdjust="spacingAndGlyphs" fill="#262626">1.5</text>
<line x1="627.4" y1="240.5" x2="627.4" y2="242.1" stroke="#555" stroke-width="0.5"/>
<text x="627.4" y="246.1" font-size="4.45" text-anchor="middle" stroke="#262626" stroke-width="0.06" textLength="6.2" lengthAdjust="spacingAndGlyphs" fill="#262626">2.0</text>
<line x1="645.7" y1="240.5" x2="645.7" y2="242.1" stroke="#555" stroke-width="0.5"/>
<text x="645.7" y="246.1" font-size="4.45" text-anchor="middle" stroke="#262626" stroke-width="0.06" textLength="6.2" lengthAdjust="spacingAndGlyphs" fill="#262626">2.5</text>
<line x1="664" y1="240.5" x2="664" y2="242.1" stroke="#555" stroke-width="0.5"/>
<text x="664" y="246.1" font-size="4.45" text-anchor="middle" stroke="#262626" stroke-width="0.06" textLength="6.2" lengthAdjust="spacingAndGlyphs" fill="#262626">3.0</text>
<line x1="591.5" y1="195.05" x2="595.5" y2="195.05" stroke="#666" stroke-width="0.5"/>
<text x="589.5" y="195.95" font-size="4.45" text-anchor="end" stroke="#262626" stroke-width="0.06" textLength="15.45" lengthAdjust="spacingAndGlyphs" transform="rotate(-45 589.5 195.95)" fill="#262626">(73, 91]</text>
<line x1="591.5" y1="208.05" x2="595.5" y2="208.05" stroke="#666" stroke-width="0.5"/>
<text x="589.5" y="208.95" font-size="4.45" text-anchor="end" stroke="#262626" stroke-width="0.06" textLength="15.45" lengthAdjust="spacingAndGlyphs" transform="rotate(-45 589.5 208.95)" fill="#262626">(64, 73]</text>
<line x1="591.5" y1="221.05" x2="595.5" y2="221.05" stroke="#666" stroke-width="0.5"/>
<text x="589.5" y="221.95" font-size="4.45" text-anchor="end" stroke="#262626" stroke-width="0.06" textLength="15.45" lengthAdjust="spacingAndGlyphs" transform="rotate(-45 589.5 221.95)" fill="#262626">(56, 64]</text>
<line x1="591.5" y1="234.05" x2="595.5" y2="234.05" stroke="#666" stroke-width="0.5"/>
<text x="589.5" y="234.95" font-size="4.45" text-anchor="end" stroke="#262626" stroke-width="0.06" textLength="15.45" lengthAdjust="spacingAndGlyphs" transform="rotate(-45 589.5 234.95)" fill="#262626">(18, 56]</text>
<text x="636.9" y="251.3" font-size="4.45" text-anchor="middle" stroke="#262626" stroke-width="0.06" textLength="55.12" lengthAdjust="spacingAndGlyphs" fill="#262626">posteriorcingulate thickness</text>
<text x="574.3" y="214.6" font-size="4.45" text-anchor="middle" stroke="#262626" stroke-width="0.06" textLength="19.42" lengthAdjust="spacingAndGlyphs" transform="rotate(-90 574.3 214.6)" fill="#262626">AgeGroup</text>
<text x="636.9" y="186.3" font-size="5.62" text-anchor="middle" font-weight="bold" stroke="#111" stroke-width="0.14" textLength="32.76" lengthAdjust="spacingAndGlyphs" fill="#111">β(f)=0.425</text>
<rect x="595.5" y="265.3" width="82.8" height="52" fill="#fff"/>
<line x1="600.3" y1="265.3" x2="600.3" y2="317.3" stroke="#dcdcdc" stroke-width="0.8"/>
<line x1="612.5" y1="265.3" x2="612.5" y2="317.3" stroke="#dcdcdc" stroke-width="0.8"/>
<line x1="624.7" y1="265.3" x2="624.7" y2="317.3" stroke="#dcdcdc" stroke-width="0.8"/>
<line x1="636.9" y1="265.3" x2="636.9" y2="317.3" stroke="#dcdcdc" stroke-width="0.8"/>
<line x1="649.1" y1="265.3" x2="649.1" y2="317.3" stroke="#dcdcdc" stroke-width="0.8"/>
<line x1="661.3" y1="265.3" x2="661.3" y2="317.3" stroke="#dcdcdc" stroke-width="0.8"/>
<line x1="673.5" y1="265.3" x2="673.5" y2="317.3" stroke="#dcdcdc" stroke-width="0.8"/>
<line x1="595.5" y1="271.65" x2="678.3" y2="271.65" stroke="#dcdcdc" stroke-width="0.8"/>
<line x1="595.5" y1="284.65" x2="678.3" y2="284.65" stroke="#dcdcdc" stroke-width="0.8"/>
<line x1="595.5" y1="297.65" x2="678.3" y2="297.65" stroke="#dcdcdc" stroke-width="0.8"/>
<line x1="595.5" y1="310.65" x2="678.3" y2="310.65" stroke="#dcdcdc" stroke-width="0.8"/>
<polygon points="603.39,271.65 604.05,271.52 604.72,271.48 605.38,271.42 606.04,271.35 606.7,271.26 607.36,271.15 608.03,271.03 608.69,270.87 609.35,270.7 610.01,270.5 610.67,270.28 611.33,270.03 612,269.77 612.66,269.5 613.32,269.22 613.98,268.94 614.64,268.67 615.3,268.42 615.97,268.19 616.63,267.99 617.29,267.84 617.95,267.73 618.61,267.67 619.27,267.67 619.94,267.71 620.6,267.79 621.26,267.9 621.92,268.05 622.58,268.23 623.25,268.44 623.91,268.66 624.57,268.89 625.23,269.14 625.89,269.38 626.55,269.63 627.22,269.86 627.88,270.09 628.54,270.3 629.2,270.49 629.86,270.67 630.52,270.82 631.19,270.96 631.85,271.09 632.51,271.19 633.17,271.28 633.83,271.36 634.49,271.42 635.16,271.45 635.82,271.46 636.48,271.46 637.14,271.47 637.8,271.47 638.47,271.48 639.13,271.48 639.79,271.49 640.45,271.49 641.11,271.5 641.77,271.5 642.44,271.51 643.1,271.51 643.76,271.52 644.42,271.52 645.08,271.53 645.74,271.53 646.41,271.53 647.07,271.54 647.73,271.54 648.39,271.55 649.05,271.55 649.72,271.56 650.38,271.56 651.04,271.57 651.7,271.57 652.36,271.58 653.02,271.58 653.69,271.59 654.35,271.59 655.01,271.6 655.67,271.6 656.33,271.61 656.99,271.61 657.66,271.62 658.32,271.62 658.98,271.63 659.64,271.63 660.3,271.64 660.96,271.64 661.63,271.65 662.29,271.65" fill="#00008b" fill-opacity="0.68" stroke="#1a1a1a" stroke-opacity="0.42" stroke-width="0.36"/>
<polygon points="603.39,271.65 604.05,271.68 604.72,271.71 605.38,271.74 606.04,271.77 606.7,271.8 607.36,271.83 608.03,271.86 608.69,271.89 609.35,271.96 610.01,272.11 610.67,272.29 611.33,272.54 612,272.84 612.66,273.2 613.32,273.62 613.98,274.09 614.64,274.59 615.3,275.1 615.97,275.6 616.63,276.04 617.29,276.42 617.95,276.68 618.61,276.83 619.27,276.83 619.94,276.71 620.6,276.45 621.26,276.09 621.92,275.65 622.58,275.16 623.25,274.65 623.91,274.15 624.57,273.67 625.23,273.25 625.89,272.88 626.55,272.57 627.22,272.32 627.88,272.13 628.54,271.98 629.2,271.91 629.86,271.9 630.52,271.9 631.19,271.89 631.85,271.89 632.51,271.88 633.17,271.88 633.83,271.87 634.49,271.87 635.16,271.86 635.82,271.86 636.48,271.85 637.14,271.85 637.8,271.84 638.47,271.83 639.13,271.83 639.79,271.82 640.45,271.82 641.11,271.81 641.77,271.81 642.44,271.8 643.1,271.8 643.76,271.79 644.42,271.79 645.08,271.78 645.74,271.78 646.41,271.77 647.07,271.77 647.73,271.76 648.39,271.76 649.05,271.75 649.72,271.75 650.38,271.74 651.04,271.74 651.7,271.73 652.36,271.73 653.02,271.72 653.69,271.72 654.35,271.71 655.01,271.71 655.67,271.7 656.33,271.7 656.99,271.69 657.66,271.69 658.32,271.68 658.98,271.68 659.64,271.67 660.3,271.67 660.96,271.66 661.63,271.66 662.29,271.65" fill="#ff4500" fill-opacity="0.68" stroke="#1a1a1a" stroke-opacity="0.42" stroke-width="0.36"/>
<line x1="603.39" y1="271.65" x2="662.29" y2="271.65" stroke="#333" stroke-opacity="0.25" stroke-width="0.3"/>
<line x1="616.38" y1="271.65" x2="622.45" y2="271.65" stroke="#111" stroke-width="1.35"/>
<circle cx="619.42" cy="271.65" r="0.42" fill="#fff"/>
<polygon points="605.13,284.65 605.87,284.61 606.6,284.56 607.34,284.52 608.08,284.47 608.82,284.43 609.56,284.33 610.3,284.21 611.04,284.04 611.78,283.84 612.52,283.59 613.26,283.3 614,282.97 614.74,282.6 615.48,282.21 616.22,281.82 616.96,281.43 617.7,281.07 618.44,280.77 619.18,280.53 619.92,280.38 620.66,280.32 621.4,280.33 622.14,280.35 622.88,280.4 623.62,280.46 624.35,280.54 625.09,280.63 625.83,280.74 626.57,280.86 627.31,280.99 628.05,281.13 628.79,281.28 629.53,281.44 630.27,281.61 631.01,281.77 631.75,281.94 632.49,282.11 633.23,282.28 633.97,282.45 634.71,282.62 635.45,282.78 636.19,282.93 636.93,283.08 637.67,283.22 638.41,283.36 639.15,283.48 639.89,283.6 640.63,283.71 641.37,283.81 642.1,283.91 642.84,284 643.58,284.07 644.32,284.15 645.06,284.21 645.8,284.27 646.54,284.32 647.28,284.37 648.02,284.41 648.76,284.44 649.5,284.44 650.24,284.45 650.98,284.46 651.72,284.46 652.46,284.47 653.2,284.48 653.94,284.49 654.68,284.49 655.42,284.5 656.16,284.51 656.9,284.51 657.64,284.52 658.38,284.53 659.12,284.54 659.86,284.54 660.59,284.55 661.33,284.56 662.07,284.56 662.81,284.57 663.55,284.58 664.29,284.59 665.03,284.59 665.77,284.6 666.51,284.61 667.25,284.61 667.99,284.62 668.73,284.63 669.47,284.64 670.21,284.64 670.95,284.65" fill="#00008b" fill-opacity="0.68" stroke="#1a1a1a" stroke-opacity="0.42" stroke-width="0.36"/>
<polygon points="605.13,284.65 605.87,284.7 606.6,284.76 607.34,284.81 608.08,284.86 608.82,284.92 609.56,285.03 610.3,285.18 611.04,285.38 611.78,285.62 612.52,285.92 613.26,286.27 614,286.67 614.74,287.11 615.48,287.57 616.22,288.05 616.96,288.51 617.7,288.94 618.44,289.31 619.18,289.59 619.92,289.78 620.66,289.85 621.4,289.82 622.14,289.72 622.88,289.57 623.62,289.36 624.35,289.09 625.09,288.79 625.83,288.46 626.57,288.11 627.31,287.76 628.05,287.4 628.79,287.05 629.53,286.72 630.27,286.42 631.01,286.14 631.75,285.88 632.49,285.66 633.23,285.47 633.97,285.3 634.71,285.16 635.45,285.05 636.19,284.96 636.93,284.91 637.67,284.9 638.41,284.9 639.15,284.89 639.89,284.88 640.63,284.88 641.37,284.87 642.1,284.87 642.84,284.86 643.58,284.86 644.32,284.85 645.06,284.85 645.8,284.84 646.54,284.83 647.28,284.83 648.02,284.82 648.76,284.82 649.5,284.81 650.24,284.81 650.98,284.8 651.72,284.8 652.46,284.79 653.2,284.78 653.94,284.78 654.68,284.77 655.42,284.77 656.16,284.76 656.9,284.76 657.64,284.75 658.38,284.74 659.12,284.74 659.86,284.73 660.59,284.73 661.33,284.72 662.07,284.72 662.81,284.71 663.55,284.71 664.29,284.7 665.03,284.69 665.77,284.69 666.51,284.68 667.25,284.68 667.99,284.67 668.73,284.67 669.47,284.66 670.21,284.66 670.95,284.65" fill="#ff4500" fill-opacity="0.68" stroke="#1a1a1a" stroke-opacity="0.42" stroke-width="0.36"/>
<line x1="605.13" y1="284.65" x2="670.95" y2="284.65" stroke="#333" stroke-opacity="0.25" stroke-width="0.3"/>
<line x1="618.98" y1="284.65" x2="632.84" y2="284.65" stroke="#111" stroke-width="1.35"/>
<circle cx="625.91" cy="284.65" r="0.42" fill="#fff"/>
<polygon points="601.66,297.65 602.38,297.43 603.1,297.39 603.82,297.35 604.54,297.3 605.26,297.24 605.98,297.18 606.7,297.11 607.42,297.04 608.14,296.95 608.86,296.86 609.58,296.76 610.3,296.66 611.02,296.54 611.74,296.42 612.46,296.29 613.18,296.15 613.9,296.01 614.62,295.86 615.34,295.71 616.06,295.56 616.78,295.4 617.5,295.24 618.22,295.09 618.94,294.93 619.66,294.78 620.38,294.64 621.1,294.5 621.82,294.37 622.54,294.26 623.26,294.15 623.98,294.06 624.71,293.98 625.43,293.92 626.15,293.88 626.87,293.85 627.59,293.84 628.31,293.84 629.03,293.86 629.75,293.89 630.47,293.93 631.19,293.98 631.91,294.04 632.63,294.11 633.35,294.19 634.07,294.28 634.79,294.37 635.51,294.48 636.23,294.58 636.95,294.7 637.67,294.82 638.39,294.94 639.11,295.06 639.83,295.19 640.55,295.32 641.27,295.45 641.99,295.57 642.71,295.7 643.43,295.82 644.15,295.95 644.87,296.06 645.59,296.18 646.31,296.29 647.03,296.39 647.75,296.49 648.47,296.59 649.19,296.68 649.91,296.77 650.63,296.85 651.35,296.93 652.07,297 652.79,297.06 653.51,297.12 654.23,297.18 654.95,297.23 655.67,297.28 656.39,297.32 657.11,297.36 657.83,297.39 658.55,297.42 659.27,297.45 659.99,297.47 660.71,297.5 661.43,297.52 662.15,297.54 662.87,297.55 663.59,297.57 664.31,297.58 665.03,297.59 665.75,297.65" fill="#00008b" fill-opacity="0.68" stroke="#1a1a1a" stroke-opacity="0.42" stroke-width="0.36"/>
<polygon points="601.66,297.65 602.38,297.73 603.1,297.75 603.82,297.78 604.54,297.82 605.26,297.87 605.98,297.91 606.7,297.97 607.42,298.04 608.14,298.13 608.86,298.23 609.58,298.34 610.3,298.47 611.02,298.62 611.74,298.79 612.46,298.97 613.18,299.18 613.9,299.4 614.62,299.63 615.34,299.88 616.06,300.15 616.78,300.42 617.5,300.7 618.22,300.97 618.94,301.25 619.66,301.52 620.38,301.77 621.1,302.01 621.82,302.23 622.54,302.42 623.26,302.58 623.98,302.7 624.71,302.79 625.43,302.84 626.15,302.84 626.87,302.82 627.59,302.76 628.31,302.66 629.03,302.54 629.75,302.39 630.47,302.21 631.19,302.02 631.91,301.8 632.63,301.57 633.35,301.33 634.07,301.08 634.79,300.83 635.51,300.57 636.23,300.32 636.95,300.08 637.67,299.84 638.39,299.62 639.11,299.4 639.83,299.2 640.55,299.01 641.27,298.84 641.99,298.68 642.71,298.54 643.43,298.41 644.15,298.3 644.87,298.2 645.59,298.11 646.31,298.04 647.03,297.97 647.75,297.91 648.47,297.9 649.19,297.89 649.91,297.88 650.63,297.87 651.35,297.86 652.07,297.85 652.79,297.84 653.51,297.83 654.23,297.82 654.95,297.81 655.67,297.8 656.39,297.79 657.11,297.77 657.83,297.76 658.55,297.75 659.27,297.74 659.99,297.73 660.71,297.72 661.43,297.71 662.15,297.7 662.87,297.69 663.59,297.68 664.31,297.67 665.03,297.66 665.75,297.65" fill="#ff4500" fill-opacity="0.68" stroke="#1a1a1a" stroke-opacity="0.42" stroke-width="0.36"/>
<line x1="601.66" y1="297.65" x2="665.75" y2="297.65" stroke="#333" stroke-opacity="0.25" stroke-width="0.3"/>
<line x1="623.31" y1="297.65" x2="636.31" y2="297.65" stroke="#111" stroke-width="1.35"/>
<circle cx="629.81" cy="297.65" r="0.42" fill="#fff"/>
<polygon points="607.85,310.65 608.47,310.39 609.08,310.34 609.69,310.27 610.3,310.2 610.91,310.12 611.52,310.03 612.13,309.93 612.75,309.82 613.36,309.69 613.97,309.55 614.58,309.4 615.19,309.24 615.8,309.07 616.42,308.89 617.03,308.7 617.64,308.5 618.25,308.29 618.86,308.09 619.47,307.88 620.09,307.67 620.7,307.47 621.31,307.28 621.92,307.1 622.53,306.93 623.14,306.77 623.76,306.64 624.37,306.53 624.98,306.44 625.59,306.37 626.2,306.33 626.81,306.32 627.43,306.33 628.04,306.37 628.65,306.42 629.26,306.5 629.87,306.59 630.48,306.71 631.1,306.84 631.71,306.98 632.32,307.14 632.93,307.31 633.54,307.49 634.15,307.67 634.77,307.85 635.38,308.04 635.99,308.23 636.6,308.42 637.21,308.6 637.82,308.77 638.43,308.94 639.05,309.11 639.66,309.26 640.27,309.41 640.88,309.54 641.49,309.67 642.1,309.79 642.72,309.89 643.33,309.99 643.94,310.08 644.55,310.15 645.16,310.22 645.77,310.29 646.39,310.34 647,310.39 647.61,310.43 648.22,310.44 648.83,310.45 649.44,310.46 650.06,310.47 650.67,310.48 651.28,310.49 651.89,310.5 652.5,310.51 653.11,310.51 653.73,310.52 654.34,310.53 654.95,310.54 655.56,310.55 656.17,310.56 656.78,310.57 657.4,310.58 658.01,310.59 658.62,310.6 659.23,310.6 659.84,310.61 660.45,310.62 661.06,310.63 661.68,310.64 662.29,310.65" fill="#00008b" fill-opacity="0.68" stroke="#1a1a1a" stroke-opacity="0.42" stroke-width="0.36"/>
<polygon points="608.59,310.65 609.19,310.84 609.8,310.89 610.4,310.95 611,311.03 611.61,311.11 612.21,311.22 612.81,311.33 613.42,311.47 614.02,311.63 614.62,311.8 615.23,312 615.83,312.21 616.43,312.45 617.04,312.7 617.64,312.97 618.24,313.24 618.85,313.53 619.45,313.82 620.05,314.11 620.66,314.4 621.26,314.67 621.86,314.93 622.47,315.17 623.07,315.37 623.67,315.55 624.28,315.69 624.88,315.78 625.48,315.84 626.09,315.85 626.69,315.82 627.29,315.75 627.9,315.66 628.5,315.53 629.1,315.38 629.71,315.19 630.31,314.99 630.91,314.76 631.52,314.53 632.12,314.28 632.72,314.02 633.33,313.76 633.93,313.5 634.53,313.25 635.14,313 635.74,312.76 636.34,312.53 636.95,312.32 637.55,312.12 638.15,311.93 638.76,311.76 639.36,311.61 639.96,311.47 640.57,311.35 641.17,311.24 641.77,311.15 642.38,311.06 642.98,310.99 643.58,310.93 644.19,310.9 644.79,310.9 645.39,310.89 646,310.88 646.6,310.87 647.2,310.86 647.81,310.85 648.41,310.84 649.01,310.84 649.62,310.83 650.22,310.82 650.82,310.81 651.43,310.8 652.03,310.79 652.63,310.79 653.24,310.78 653.84,310.77 654.44,310.76 655.05,310.75 655.65,310.74 656.25,310.73 656.86,310.73 657.46,310.72 658.06,310.71 658.67,310.7 659.27,310.69 659.87,310.68 660.48,310.68 661.08,310.67 661.68,310.66 662.29,310.65" fill="#ff4500" fill-opacity="0.68" stroke="#1a1a1a" stroke-opacity="0.42" stroke-width="0.36"/>
<line x1="608.59" y1="310.65" x2="662.29" y2="310.65" stroke="#333" stroke-opacity="0.25" stroke-width="0.3"/>
<line x1="622.45" y1="310.65" x2="634.57" y2="310.65" stroke="#111" stroke-width="1.35"/>
<circle cx="628.51" cy="310.65" r="0.42" fill="#fff"/>
<rect x="595.5" y="265.3" width="82.8" height="52" fill="none" stroke="#a0a0a0" stroke-width="1.1"/>
<line x1="600.3" y1="317.3" x2="600.3" y2="318.9" stroke="#555" stroke-width="0.5"/>
<text x="600.3" y="322.9" font-size="4.45" text-anchor="middle" stroke="#262626" stroke-width="0.06" textLength="6.2" lengthAdjust="spacingAndGlyphs" fill="#262626">0.0</text>
<line x1="612.5" y1="317.3" x2="612.5" y2="318.9" stroke="#555" stroke-width="0.5"/>
<text x="612.5" y="322.9" font-size="4.45" text-anchor="middle" stroke="#262626" stroke-width="0.06" textLength="6.2" lengthAdjust="spacingAndGlyphs" fill="#262626">0.5</text>
<line x1="624.7" y1="317.3" x2="624.7" y2="318.9" stroke="#555" stroke-width="0.5"/>
<text x="624.7" y="322.9" font-size="4.45" text-anchor="middle" stroke="#262626" stroke-width="0.06" textLength="6.2" lengthAdjust="spacingAndGlyphs" fill="#262626">1.0</text>
<line x1="636.9" y1="317.3" x2="636.9" y2="318.9" stroke="#555" stroke-width="0.5"/>
<text x="636.9" y="322.9" font-size="4.45" text-anchor="middle" stroke="#262626" stroke-width="0.06" textLength="6.2" lengthAdjust="spacingAndGlyphs" fill="#262626">1.5</text>
<line x1="649.1" y1="317.3" x2="649.1" y2="318.9" stroke="#555" stroke-width="0.5"/>
<text x="649.1" y="322.9" font-size="4.45" text-anchor="middle" stroke="#262626" stroke-width="0.06" textLength="6.2" lengthAdjust="spacingAndGlyphs" fill="#262626">2.0</text>
<line x1="661.3" y1="317.3" x2="661.3" y2="318.9" stroke="#555" stroke-width="0.5"/>
<text x="661.3" y="322.9" font-size="4.45" text-anchor="middle" stroke="#262626" stroke-width="0.06" textLength="6.2" lengthAdjust="spacingAndGlyphs" fill="#262626">2.5</text>
<line x1="673.5" y1="317.3" x2="673.5" y2="318.9" stroke="#555" stroke-width="0.5"/>
<text x="673.5" y="322.9" font-size="4.45" text-anchor="middle" stroke="#262626" stroke-width="0.06" textLength="6.2" lengthAdjust="spacingAndGlyphs" fill="#262626">3.0</text>
<line x1="591.5" y1="271.65" x2="595.5" y2="271.65" stroke="#666" stroke-width="0.5"/>
<text x="589.5" y="272.55" font-size="4.45" text-anchor="end" stroke="#262626" stroke-width="0.06" textLength="15.45" lengthAdjust="spacingAndGlyphs" transform="rotate(-45 589.5 272.55)" fill="#262626">(73, 91]</text>
<line x1="591.5" y1="284.65" x2="595.5" y2="284.65" stroke="#666" stroke-width="0.5"/>
<text x="589.5" y="285.55" font-size="4.45" text-anchor="end" stroke="#262626" stroke-width="0.06" textLength="15.45" lengthAdjust="spacingAndGlyphs" transform="rotate(-45 589.5 285.55)" fill="#262626">(64, 73]</text>
<line x1="591.5" y1="297.65" x2="595.5" y2="297.65" stroke="#666" stroke-width="0.5"/>
<text x="589.5" y="298.55" font-size="4.45" text-anchor="end" stroke="#262626" stroke-width="0.06" textLength="15.45" lengthAdjust="spacingAndGlyphs" transform="rotate(-45 589.5 298.55)" fill="#262626">(56, 64]</text>
<line x1="591.5" y1="310.65" x2="595.5" y2="310.65" stroke="#666" stroke-width="0.5"/>
<text x="589.5" y="311.55" font-size="4.45" text-anchor="end" stroke="#262626" stroke-width="0.06" textLength="15.45" lengthAdjust="spacingAndGlyphs" transform="rotate(-45 589.5 311.55)" fill="#262626">(18, 56]</text>
<text x="636.9" y="328.1" font-size="4.45" text-anchor="middle" stroke="#262626" stroke-width="0.06" textLength="48.18" lengthAdjust="spacingAndGlyphs" fill="#262626">cerebellum white matter</text>
<text x="574.3" y="291.3" font-size="4.45" text-anchor="middle" stroke="#262626" stroke-width="0.06" textLength="19.42" lengthAdjust="spacingAndGlyphs" transform="rotate(-90 574.3 291.3)" fill="#262626">AgeGroup</text>
<text x="674.1" y="327.7" font-size="4.45" text-anchor="middle" stroke="#262626" stroke-width="0.06" textLength="10.63" lengthAdjust="spacingAndGlyphs" fill="#262626">1e−2</text>
<text x="636.9" y="262.9" font-size="5.62" text-anchor="middle" font-weight="bold" stroke="#111" stroke-width="0.14" textLength="35" lengthAdjust="spacingAndGlyphs" fill="#111">β(f)=-0.427</text>
<text x="7.2" y="16.8" font-size="14" fill="#222">(a)</text>
<text x="348.7" y="17.4" font-size="14" fill="#222">(b)</text>
<text x="168" y="14" font-size="7.96" text-anchor="middle" font-weight="bold" stroke="#111" stroke-width="0.14" textLength="32.81" lengthAdjust="spacingAndGlyphs" fill="#111">scoPOD</text>
<text x="518" y="14" font-size="7.96" text-anchor="middle" font-weight="bold" stroke="#111" stroke-width="0.14" textLength="37.1" lengthAdjust="spacingAndGlyphs" fill="#111">medPOD</text>
<line x1="343.6" y1="1" x2="343.6" y2="321.5" stroke="#2a2a2a" stroke-width="1.2"/></svg>
</body></html>
